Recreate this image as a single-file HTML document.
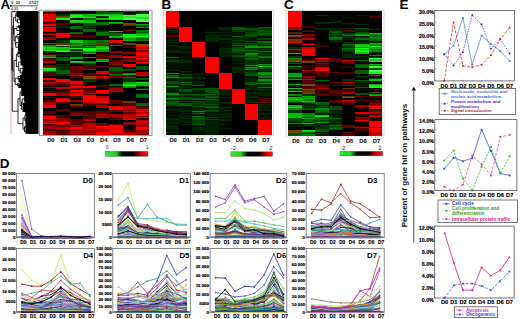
<!DOCTYPE html>
<html><head><meta charset="utf-8"><style>
html,body{margin:0;padding:0;background:#fff;overflow:hidden;}
svg{display:block;font-family:"Liberation Sans", sans-serif;}
</style></head><body>
<svg width="520" height="319" viewBox="0 0 520 319">
<rect width="520" height="319" fill="#fff"/>
<text transform="translate(0.4,8.7) scale(1.12,1)" font-size="12" font-weight="bold" fill="#000">A</text>
<text transform="translate(161.4,8.7) scale(1.12,1)" font-size="12" font-weight="bold" fill="#000">B</text>
<text transform="translate(283.9,8.7) scale(1.12,1)" font-size="12" font-weight="bold" fill="#000">C</text>
<text transform="translate(-0.3,167.6) scale(1.12,1)" font-size="12" font-weight="bold" fill="#000">D</text>
<text transform="translate(399.5,8.7) scale(1.12,1)" font-size="12" font-weight="bold" fill="#000">E</text>
<text x="12.00" y="3.70" font-size="3.8" font-weight="bold" text-anchor="middle" fill="#222" >5</text>
<text x="17.80" y="3.70" font-size="3.8" font-weight="bold" text-anchor="middle" fill="#222" >23</text>
<text x="33.80" y="3.70" font-size="3.8" font-weight="bold" text-anchor="middle" fill="#222" >27/27</text>
<line x1="10.60" y1="5.80" x2="38.00" y2="5.80" stroke="#3a4a4a" stroke-width="0.9" />
<rect x="10.00" y="5.00" width="1.60" height="1.60" fill="#111" />
<text x="14.40" y="10.30" font-size="3.6" font-weight="bold" text-anchor="middle" fill="#333" >0.33</text>
<text x="36.20" y="10.30" font-size="3.6" font-weight="bold" text-anchor="middle" fill="#333" >0</text>
<line x1="11.00" y1="11.00" x2="11.00" y2="135.00" stroke="#e8a0b8" stroke-width="0.9" />
<path d="M16.2 12.7L16.2 15.8M16.2 12.7L16.7 12.7M16.2 15.8L16.8 15.8M17.4 18.9L17.4 22.8M17.4 18.9L19.2 18.9M17.4 22.8L20.0 22.8M15.7 14.2L15.7 20.9M15.7 14.2L16.2 14.2M15.7 20.9L17.4 20.9M16.8 26.6L16.8 30.5M16.8 26.6L17.9 26.6M16.8 30.5L19.2 30.5M17.1 34.5L17.1 38.3M17.1 34.5L19.1 34.5M17.1 38.3L18.4 38.3M15.8 42.6L15.8 47.3M15.8 42.6L18.2 42.6M15.8 47.3L17.9 47.3M15.3 36.4L15.3 45.0M15.3 36.4L17.1 36.4M15.3 45.0L15.8 45.0M14.1 28.5L14.1 40.7M14.1 28.5L16.8 28.5M14.1 40.7L15.3 40.7M13.5 17.6L13.5 34.6M13.5 17.6L15.7 17.6M13.5 34.6L14.1 34.6M17.8 52.1L17.8 56.4M17.8 52.1L18.2 52.1M17.8 56.4L19.7 56.4M20.3 68.4L20.3 73.0M20.3 68.4L22.5 68.4M20.3 73.0L21.6 73.0M18.7 62.0L18.7 70.7M18.7 62.0L20.5 62.0M18.7 70.7L20.3 70.7M16.4 54.3L16.4 66.4M16.4 54.3L17.8 54.3M16.4 66.4L18.7 66.4M18.2 76.4L18.2 80.1M18.2 76.4L20.0 76.4M18.2 80.1L18.5 80.1M17.7 83.1L17.7 86.0M17.7 83.1L19.9 83.1M17.7 86.0L18.3 86.0M15.2 78.2L15.2 84.5M15.2 78.2L18.2 78.2M15.2 84.5L17.7 84.5M14.0 60.3L14.0 81.4M14.0 60.3L16.4 60.3M14.0 81.4L15.2 81.4M24.3 97.3L24.3 100.7M24.3 97.3L24.9 97.3M24.3 100.7L25.3 100.7M22.2 99.0L22.2 104.5M22.2 99.0L24.3 99.0M22.2 104.5L22.8 104.5M21.4 101.8L21.4 109.2M21.4 101.8L22.2 101.8M21.4 109.2L22.5 109.2M20.0 92.0L20.0 105.5M20.0 92.0L21.2 92.0M20.0 105.5L21.4 105.5M24.9 115.1L24.9 120.9M24.9 115.1L26.2 115.1M24.9 120.9L25.2 120.9M25.3 125.2L25.3 128.4M25.3 125.2L25.6 125.2M25.3 128.4L25.6 128.4M24.5 126.8L24.5 131.8M24.5 126.8L25.3 126.8M24.5 131.8L25.3 131.8M23.0 118.0L23.0 129.3M23.0 118.0L24.9 118.0M23.0 129.3L24.5 129.3M12.8 26.1L12.8 70.9M12.8 26.1L13.5 26.1M12.8 70.9L14.0 70.9M11.8 11.6L38.4 11.6M11.8 11.6L11.8 70.0M18.0 98.7L18.0 123.7M18.0 98.7L20.0 98.7M18.0 123.7L23.0 123.7M12.2 48.5L12.2 111.2M12.2 48.5L13.2 48.5M12.2 111.2L18.0 111.2" stroke="#000" stroke-width="0.85" fill="none"/>
<path d="M16.7 11.2H38.4V14.2H16.7zM16.8 14.2H38.4V17.4H16.8zM19.2 17.4H38.4V20.5H19.2zM20.0 20.5H38.4V25.2H20.0zM17.9 25.2H38.4V27.9H17.9zM19.2 27.9H38.4V33.1H19.2zM19.1 33.1H38.4V36.0H19.1zM18.4 36.0H38.4V40.7H18.4zM18.2 40.7H38.4V44.6H18.2zM17.9 44.6H38.4V50.0H17.9zM18.2 50.0H38.4V54.3H18.2zM19.7 54.3H38.4V58.6H19.7zM20.5 58.6H38.4V65.4H20.5zM22.5 65.4H38.4V71.3H22.5zM21.6 71.3H38.4V74.7H21.6zM20.0 74.7H38.4V78.1H20.0zM18.5 78.1H38.4V82.1H18.5zM19.9 82.1H38.4V84.0H19.9zM18.3 84.0H38.4V88.0H18.3zM21.2 88.0H38.4V96.0H21.2zM24.9 96.0H38.4V98.6H24.9zM25.3 98.6H38.4V102.7H25.3zM22.8 102.7H38.4V106.3H22.8zM22.5 106.3H38.4V112.0H22.5zM26.2 112.0H38.4V118.3H26.2zM25.2 118.3H38.4V123.5H25.2zM25.6 123.5H38.4V127.0H25.6zM25.6 127.0H38.4V129.9H25.6zM25.3 129.9H38.4V133.8H25.3z" fill="#000"/>
<path d="M27,11.2 H38.4 V133.8 H28 L26,120 L24.5,105 L24,90 L27,88 Z" fill="#000"/>
<rect x="39.3" y="10.2" width="112.7" height="125.39999999999999" fill="#fff" stroke="#8a8a8a" stroke-width="0.9"/>
<rect x="163.4" y="10.2" width="110.4" height="125.60000000000001" fill="#fff" stroke="#d4d4d4" stroke-width="0.9"/>
<rect x="286.0" y="10.4" width="98.0" height="125.6" fill="#fff" stroke="#d4d4d4" stroke-width="0.9"/>
<g shape-rendering="crispEdges">
<path d="M43.3 10.6h13.2v1.5h-13.2z" fill="#815200"/>
<path d="M43.3 12.0h13.2v1.1h-13.2z" fill="#4a0000"/>
<path d="M43.3 13.0h13.2v1.1h-13.2z" fill="#520000"/>
<path d="M43.3 14.0h13.2v1.3h-13.2z" fill="#ff0000"/>
<path d="M43.3 15.2h13.2v1.3h-13.2z" fill="#c20000"/>
<path d="M43.3 16.4h13.2v1.3h-13.2z" fill="#f60000"/>
<path d="M43.3 17.6h13.2v1.3h-13.2z" fill="#bf0000"/>
<path d="M43.3 18.8h13.2v1.3h-13.2z" fill="#ff0000"/>
<path d="M43.3 20.0h13.2v1.3h-13.2z" fill="#ff0000"/>
<path d="M43.3 21.2h13.2v1.3h-13.2z" fill="#c30000"/>
<path d="M43.3 22.4h13.2v1.3h-13.2z" fill="#560000"/>
<path d="M43.3 23.6h13.2v1.3h-13.2z" fill="#ef0000"/>
<path d="M43.3 24.8h13.2v1.3h-13.2z" fill="#f50000"/>
<path d="M43.3 26.0h13.2v1.3h-13.2z" fill="#3a0000"/>
<path d="M43.3 27.2h13.2v1.3h-13.2z" fill="#fe0000"/>
<path d="M43.3 28.4h13.2v1.3h-13.2z" fill="#dc0000"/>
<path d="M43.3 29.6h13.2v1.3h-13.2z" fill="#f90000"/>
<path d="M43.3 30.8h13.2v1.3h-13.2z" fill="#c10000"/>
<path d="M43.3 32.0h13.2v1.1h-13.2z" fill="#000000"/>
<path d="M43.3 33.0h13.2v1.1h-13.2z" fill="#860000"/>
<path d="M43.3 34.0h13.2v1.1h-13.2z" fill="#bc0000"/>
<path d="M43.3 35.0h13.2v1.1h-13.2z" fill="#000000"/>
<path d="M43.3 36.0h13.2v1.1h-13.2z" fill="#000000"/>
<path d="M43.3 37.0h13.2v1.6h-13.2z" fill="#990000"/>
<path d="M43.3 38.5h13.2v1.6h-13.2z" fill="#ad0000"/>
<path d="M43.3 40.0h13.2v1.6h-13.2z" fill="#000000"/>
<path d="M43.3 41.5h13.2v1.6h-13.2z" fill="#000000"/>
<path d="M43.3 43.0h13.2v1.1h-13.2z" fill="#724900"/>
<path d="M43.3 44.0h13.2v1.1h-13.2z" fill="#191000"/>
<path d="M43.3 45.0h13.2v1.1h-13.2z" fill="#009900"/>
<path d="M43.3 46.0h13.2v1.1h-13.2z" fill="#00a300"/>
<path d="M43.3 47.0h13.2v1.4h-13.2z" fill="#15e415"/>
<path d="M43.3 48.3h13.2v1.4h-13.2z" fill="#13cb13"/>
<path d="M43.3 49.7h13.2v1.4h-13.2z" fill="#16ef16"/>
<path d="M43.3 51.0h13.2v1.1h-13.2z" fill="#002a00"/>
<path d="M43.3 52.0h13.2v1.1h-13.2z" fill="#002200"/>
<path d="M43.3 53.0h13.2v1.1h-13.2z" fill="#210000"/>
<path d="M43.3 54.0h13.2v1.1h-13.2z" fill="#580000"/>
<path d="M43.3 55.0h13.2v1.6h-13.2z" fill="#008500"/>
<path d="M43.3 56.5h13.2v1.6h-13.2z" fill="#00c600"/>
<path d="M43.3 58.0h13.2v1.6h-13.2z" fill="#560000"/>
<path d="M43.3 59.5h13.2v1.6h-13.2z" fill="#490000"/>
<path d="M43.3 61.0h13.2v1.6h-13.2z" fill="#c40000"/>
<path d="M43.3 62.5h13.2v1.4h-13.2z" fill="#000000"/>
<path d="M43.3 63.8h13.2v1.4h-13.2z" fill="#000000"/>
<path d="M43.3 65.0h13.2v1.6h-13.2z" fill="#780000"/>
<path d="M43.3 66.5h13.2v1.6h-13.2z" fill="#b90000"/>
<path d="M43.3 68.0h13.2v1.6h-13.2z" fill="#16eb16"/>
<path d="M43.3 69.5h13.2v1.6h-13.2z" fill="#14d314"/>
<path d="M43.3 71.0h13.2v1.1h-13.2z" fill="#694300"/>
<path d="M43.3 72.0h13.2v1.1h-13.2z" fill="#311f00"/>
<path d="M43.3 73.0h13.2v1.6h-13.2z" fill="#480000"/>
<path d="M43.3 74.5h13.2v1.6h-13.2z" fill="#540000"/>
<path d="M43.3 76.0h13.2v1.1h-13.2z" fill="#000000"/>
<path d="M43.3 77.0h13.2v1.1h-13.2z" fill="#000000"/>
<path d="M43.3 78.0h13.2v1.6h-13.2z" fill="#f90000"/>
<path d="M43.3 79.5h13.2v1.6h-13.2z" fill="#3a0000"/>
<path d="M43.3 81.0h13.2v1.1h-13.2z" fill="#580000"/>
<path d="M43.3 82.0h13.2v1.1h-13.2z" fill="#b70000"/>
<path d="M43.3 83.0h13.2v1.1h-13.2z" fill="#b90000"/>
<path d="M43.3 84.0h13.2v1.1h-13.2z" fill="#630000"/>
<path d="M43.3 85.0h13.2v1.1h-13.2z" fill="#430000"/>
<path d="M43.3 86.0h13.2v1.1h-13.2z" fill="#180000"/>
<path d="M43.3 87.0h13.2v1.1h-13.2z" fill="#8b0000"/>
<path d="M43.3 88.0h13.2v1.6h-13.2z" fill="#000000"/>
<path d="M43.3 89.5h13.2v1.6h-13.2z" fill="#000000"/>
<path d="M43.3 91.0h13.2v1.1h-13.2z" fill="#560000"/>
<path d="M43.3 92.0h13.2v1.1h-13.2z" fill="#4b0000"/>
<path d="M43.3 93.0h13.2v1.6h-13.2z" fill="#f90000"/>
<path d="M43.3 94.5h13.2v1.6h-13.2z" fill="#fb0000"/>
<path d="M43.3 96.0h13.2v1.1h-13.2z" fill="#180000"/>
<path d="M43.3 97.0h13.2v1.1h-13.2z" fill="#470000"/>
<path d="M43.3 98.0h13.2v1.1h-13.2z" fill="#000000"/>
<path d="M43.3 99.0h13.2v1.1h-13.2z" fill="#000000"/>
<path d="M43.3 100.0h13.2v1.1h-13.2z" fill="#620000"/>
<path d="M43.3 101.0h13.2v1.1h-13.2z" fill="#0d0000"/>
<path d="M43.3 102.0h13.2v1.6h-13.2z" fill="#b10000"/>
<path d="M43.3 103.5h13.2v1.6h-13.2z" fill="#b00000"/>
<path d="M43.3 105.0h13.2v1.6h-13.2z" fill="#ff0000"/>
<path d="M43.3 106.5h13.2v1.6h-13.2z" fill="#ff0000"/>
<path d="M43.3 108.0h13.2v1.6h-13.2z" fill="#000000"/>
<path d="M43.3 109.5h13.2v1.6h-13.2z" fill="#000000"/>
<path d="M43.3 111.0h13.2v1.6h-13.2z" fill="#580000"/>
<path d="M43.3 112.5h13.2v1.6h-13.2z" fill="#5a0000"/>
<path d="M43.3 114.0h13.2v1.1h-13.2z" fill="#150000"/>
<path d="M43.3 115.0h13.2v1.1h-13.2z" fill="#640000"/>
<path d="M43.3 116.0h13.2v1.6h-13.2z" fill="#ff0000"/>
<path d="M43.3 117.5h13.2v1.6h-13.2z" fill="#ff0000"/>
<path d="M43.3 119.0h13.2v1.1h-13.2z" fill="#990000"/>
<path d="M43.3 120.0h13.2v1.1h-13.2z" fill="#780000"/>
<path d="M43.3 121.0h13.2v1.6h-13.2z" fill="#c40000"/>
<path d="M43.3 122.5h13.2v1.6h-13.2z" fill="#ff0000"/>
<path d="M43.3 124.0h13.2v1.1h-13.2z" fill="#470000"/>
<path d="M43.3 125.0h13.2v1.1h-13.2z" fill="#690000"/>
<path d="M43.3 126.0h13.2v1.6h-13.2z" fill="#a00000"/>
<path d="M43.3 127.5h13.2v1.6h-13.2z" fill="#930000"/>
<path d="M43.3 129.0h13.2v1.1h-13.2z" fill="#5c0000"/>
<path d="M43.3 130.0h13.2v1.1h-13.2z" fill="#480000"/>
<path d="M43.3 131.0h13.2v1.4h-13.2z" fill="#ad0000"/>
<path d="M43.3 132.3h13.2v1.4h-13.2z" fill="#9f0000"/>
<path d="M43.3 133.7h13.2v1.4h-13.2z" fill="#bd0000"/>
<path d="M56.5 10.6h13.2v1.5h-13.2z" fill="#533500"/>
<path d="M56.5 12.0h13.2v1.1h-13.2z" fill="#000000"/>
<path d="M56.5 13.0h13.2v1.1h-13.2z" fill="#000000"/>
<path d="M56.5 14.0h13.2v1.1h-13.2z" fill="#002600"/>
<path d="M56.5 15.0h13.2v1.1h-13.2z" fill="#003400"/>
<path d="M56.5 16.0h13.2v1.1h-13.2z" fill="#654000"/>
<path d="M56.5 17.0h13.2v1.1h-13.2z" fill="#784c00"/>
<path d="M56.5 18.0h13.2v1.1h-13.2z" fill="#18ff18"/>
<path d="M56.5 19.0h13.2v1.1h-13.2z" fill="#16e916"/>
<path d="M56.5 20.0h13.2v1.6h-13.2z" fill="#000000"/>
<path d="M56.5 21.5h13.2v1.6h-13.2z" fill="#000000"/>
<path d="M56.5 23.0h13.2v1.1h-13.2z" fill="#590000"/>
<path d="M56.5 24.0h13.2v1.1h-13.2z" fill="#4f0000"/>
<path d="M56.5 25.0h13.2v1.6h-13.2z" fill="#002800"/>
<path d="M56.5 26.5h13.2v1.6h-13.2z" fill="#002f00"/>
<path d="M56.5 28.0h13.2v1.6h-13.2z" fill="#000000"/>
<path d="M56.5 29.5h13.2v1.6h-13.2z" fill="#000000"/>
<path d="M56.5 31.0h13.2v1.1h-13.2z" fill="#410000"/>
<path d="M56.5 32.0h13.2v1.1h-13.2z" fill="#260000"/>
<path d="M56.5 33.0h13.2v1.4h-13.2z" fill="#ff0000"/>
<path d="M56.5 34.2h13.2v1.4h-13.2z" fill="#ff0000"/>
<path d="M56.5 35.5h13.2v1.4h-13.2z" fill="#ef0000"/>
<path d="M56.5 36.8h13.2v1.4h-13.2z" fill="#db0000"/>
<path d="M56.5 38.0h13.2v1.1h-13.2z" fill="#000000"/>
<path d="M56.5 39.0h13.2v1.1h-13.2z" fill="#000000"/>
<path d="M56.5 40.0h13.2v1.6h-13.2z" fill="#002c00"/>
<path d="M56.5 41.5h13.2v1.6h-13.2z" fill="#003300"/>
<path d="M56.5 43.0h13.2v1.1h-13.2z" fill="#533400"/>
<path d="M56.5 44.0h13.2v1.1h-13.2z" fill="#573700"/>
<path d="M56.5 45.0h13.2v1.3h-13.2z" fill="#17fa17"/>
<path d="M56.5 46.2h13.2v1.3h-13.2z" fill="#043104"/>
<path d="M56.5 47.3h13.2v1.3h-13.2z" fill="#13c913"/>
<path d="M56.5 48.5h13.2v1.3h-13.2z" fill="#10af10"/>
<path d="M56.5 49.7h13.2v1.3h-13.2z" fill="#16eb16"/>
<path d="M56.5 50.8h13.2v1.3h-13.2z" fill="#18fd18"/>
<path d="M56.5 52.0h13.2v1.1h-13.2z" fill="#000000"/>
<path d="M56.5 53.0h13.2v1.1h-13.2z" fill="#000000"/>
<path d="M56.5 54.0h13.2v1.1h-13.2z" fill="#002c00"/>
<path d="M56.5 55.0h13.2v1.1h-13.2z" fill="#003000"/>
<path d="M56.5 56.0h13.2v1.4h-13.2z" fill="#000f00"/>
<path d="M56.5 57.2h13.2v1.4h-13.2z" fill="#005900"/>
<path d="M56.5 58.5h13.2v1.4h-13.2z" fill="#006100"/>
<path d="M56.5 59.8h13.2v1.4h-13.2z" fill="#004e00"/>
<path d="M56.5 61.0h13.2v1.6h-13.2z" fill="#000000"/>
<path d="M56.5 62.5h13.2v1.6h-13.2z" fill="#000000"/>
<path d="M56.5 64.0h13.2v1.3h-13.2z" fill="#002f00"/>
<path d="M56.5 65.2h13.2v1.3h-13.2z" fill="#002d00"/>
<path d="M56.5 66.4h13.2v1.3h-13.2z" fill="#003000"/>
<path d="M56.5 67.6h13.2v1.3h-13.2z" fill="#002d00"/>
<path d="M56.5 68.8h13.2v1.3h-13.2z" fill="#002700"/>
<path d="M56.5 70.0h13.2v1.4h-13.2z" fill="#005900"/>
<path d="M56.5 71.3h13.2v1.4h-13.2z" fill="#006100"/>
<path d="M56.5 72.7h13.2v1.4h-13.2z" fill="#006b00"/>
<path d="M56.5 74.0h13.2v1.1h-13.2z" fill="#002a00"/>
<path d="M56.5 75.0h13.2v1.1h-13.2z" fill="#002900"/>
<path d="M56.5 76.0h13.2v1.6h-13.2z" fill="#000000"/>
<path d="M56.5 77.5h13.2v1.6h-13.2z" fill="#000000"/>
<path d="M56.5 79.0h13.2v1.6h-13.2z" fill="#ff0000"/>
<path d="M56.5 80.5h13.2v1.6h-13.2z" fill="#ff0000"/>
<path d="M56.5 82.0h13.2v1.1h-13.2z" fill="#790000"/>
<path d="M56.5 83.0h13.2v1.1h-13.2z" fill="#7d0000"/>
<path d="M56.5 84.0h13.2v1.6h-13.2z" fill="#420000"/>
<path d="M56.5 85.5h13.2v1.6h-13.2z" fill="#1f0000"/>
<path d="M56.5 87.0h13.2v1.1h-13.2z" fill="#b70000"/>
<path d="M56.5 88.0h13.2v1.1h-13.2z" fill="#bd0000"/>
<path d="M56.5 89.0h13.2v1.1h-13.2z" fill="#000000"/>
<path d="M56.5 90.0h13.2v1.1h-13.2z" fill="#000000"/>
<path d="M56.5 91.0h13.2v1.1h-13.2z" fill="#470000"/>
<path d="M56.5 92.0h13.2v1.1h-13.2z" fill="#690000"/>
<path d="M56.5 93.0h13.2v1.6h-13.2z" fill="#910000"/>
<path d="M56.5 94.5h13.2v1.6h-13.2z" fill="#a10000"/>
<path d="M56.5 96.0h13.2v1.1h-13.2z" fill="#000000"/>
<path d="M56.5 97.0h13.2v1.1h-13.2z" fill="#000000"/>
<path d="M56.5 98.0h13.2v1.4h-13.2z" fill="#c30000"/>
<path d="M56.5 99.3h13.2v1.4h-13.2z" fill="#ff0000"/>
<path d="M56.5 100.7h13.2v1.4h-13.2z" fill="#ff0000"/>
<path d="M56.5 102.0h13.2v1.1h-13.2z" fill="#5f0000"/>
<path d="M56.5 103.0h13.2v1.1h-13.2z" fill="#470000"/>
<path d="M56.5 104.0h13.2v1.4h-13.2z" fill="#000000"/>
<path d="M56.5 105.2h13.2v1.4h-13.2z" fill="#000000"/>
<path d="M56.5 106.5h13.2v1.4h-13.2z" fill="#000000"/>
<path d="M56.5 107.8h13.2v1.4h-13.2z" fill="#000000"/>
<path d="M56.5 109.0h13.2v1.6h-13.2z" fill="#560000"/>
<path d="M56.5 110.5h13.2v1.6h-13.2z" fill="#530000"/>
<path d="M56.5 112.0h13.2v1.6h-13.2z" fill="#000000"/>
<path d="M56.5 113.5h13.2v1.6h-13.2z" fill="#000000"/>
<path d="M56.5 115.0h13.2v1.6h-13.2z" fill="#510000"/>
<path d="M56.5 116.5h13.2v1.6h-13.2z" fill="#420000"/>
<path d="M56.5 118.0h13.2v1.4h-13.2z" fill="#830000"/>
<path d="M56.5 119.3h13.2v1.4h-13.2z" fill="#8c0000"/>
<path d="M56.5 120.7h13.2v1.4h-13.2z" fill="#970000"/>
<path d="M56.5 122.0h13.2v1.6h-13.2z" fill="#ff0000"/>
<path d="M56.5 123.5h13.2v1.6h-13.2z" fill="#c00000"/>
<path d="M56.5 125.0h13.2v1.1h-13.2z" fill="#550000"/>
<path d="M56.5 126.0h13.2v1.1h-13.2z" fill="#520000"/>
<path d="M56.5 127.0h13.2v1.6h-13.2z" fill="#b20000"/>
<path d="M56.5 128.5h13.2v1.6h-13.2z" fill="#9f0000"/>
<path d="M56.5 130.0h13.2v1.4h-13.2z" fill="#490000"/>
<path d="M56.5 131.2h13.2v1.4h-13.2z" fill="#570000"/>
<path d="M56.5 132.5h13.2v1.4h-13.2z" fill="#660000"/>
<path d="M56.5 133.8h13.2v1.4h-13.2z" fill="#5b0000"/>
<path d="M69.7 10.6h13.2v1.5h-13.2z" fill="#2c0000"/>
<path d="M69.7 12.0h13.2v1.1h-13.2z" fill="#000000"/>
<path d="M69.7 13.0h13.2v1.1h-13.2z" fill="#000000"/>
<path d="M69.7 14.0h13.2v1.4h-13.2z" fill="#12be12"/>
<path d="M69.7 15.3h13.2v1.4h-13.2z" fill="#17f617"/>
<path d="M69.7 16.7h13.2v1.4h-13.2z" fill="#16e716"/>
<path d="M69.7 18.0h13.2v1.1h-13.2z" fill="#000000"/>
<path d="M69.7 19.0h13.2v1.1h-13.2z" fill="#000000"/>
<path d="M69.7 20.0h13.2v1.6h-13.2z" fill="#14d914"/>
<path d="M69.7 21.5h13.2v1.6h-13.2z" fill="#11b711"/>
<path d="M69.7 23.0h13.2v1.6h-13.2z" fill="#000000"/>
<path d="M69.7 24.5h13.2v1.6h-13.2z" fill="#000000"/>
<path d="M69.7 26.0h13.2v1.6h-13.2z" fill="#006e00"/>
<path d="M69.7 27.5h13.2v1.6h-13.2z" fill="#006400"/>
<path d="M69.7 29.0h13.2v1.6h-13.2z" fill="#000000"/>
<path d="M69.7 30.5h13.2v1.6h-13.2z" fill="#000000"/>
<path d="M69.7 32.0h13.2v1.1h-13.2z" fill="#006a00"/>
<path d="M69.7 33.0h13.2v1.1h-13.2z" fill="#007800"/>
<path d="M69.7 34.0h13.2v1.6h-13.2z" fill="#450000"/>
<path d="M69.7 35.5h13.2v1.6h-13.2z" fill="#630000"/>
<path d="M69.7 37.0h13.2v1.6h-13.2z" fill="#000000"/>
<path d="M69.7 38.5h13.2v1.6h-13.2z" fill="#000000"/>
<path d="M69.7 40.0h13.2v1.6h-13.2z" fill="#12c512"/>
<path d="M69.7 41.5h13.2v1.6h-13.2z" fill="#13ca13"/>
<path d="M69.7 43.0h13.2v1.1h-13.2z" fill="#005b00"/>
<path d="M69.7 44.0h13.2v1.1h-13.2z" fill="#007800"/>
<path d="M69.7 45.0h13.2v1.1h-13.2z" fill="#10aa10"/>
<path d="M69.7 46.0h13.2v1.1h-13.2z" fill="#005f00"/>
<path d="M69.7 47.0h13.2v1.1h-13.2z" fill="#005900"/>
<path d="M69.7 48.0h13.2v1.4h-13.2z" fill="#16ec16"/>
<path d="M69.7 49.3h13.2v1.4h-13.2z" fill="#042d04"/>
<path d="M69.7 50.7h13.2v1.4h-13.2z" fill="#0f9f0f"/>
<path d="M69.7 52.0h13.2v1.4h-13.2z" fill="#002f00"/>
<path d="M69.7 53.2h13.2v1.4h-13.2z" fill="#002600"/>
<path d="M69.7 54.5h13.2v1.4h-13.2z" fill="#002d00"/>
<path d="M69.7 55.8h13.2v1.4h-13.2z" fill="#002e00"/>
<path d="M69.7 57.0h13.2v1.1h-13.2z" fill="#00ae00"/>
<path d="M69.7 58.0h13.2v1.1h-13.2z" fill="#00b800"/>
<path d="M69.7 59.0h13.2v1.1h-13.2z" fill="#000000"/>
<path d="M69.7 60.0h13.2v1.1h-13.2z" fill="#000000"/>
<path d="M69.7 61.0h13.2v1.1h-13.2z" fill="#14d914"/>
<path d="M69.7 62.0h13.2v1.1h-13.2z" fill="#11bb11"/>
<path d="M69.7 63.0h13.2v1.6h-13.2z" fill="#000000"/>
<path d="M69.7 64.5h13.2v1.6h-13.2z" fill="#000000"/>
<path d="M69.7 66.0h13.2v1.4h-13.2z" fill="#680000"/>
<path d="M69.7 67.3h13.2v1.4h-13.2z" fill="#690000"/>
<path d="M69.7 68.7h13.2v1.4h-13.2z" fill="#550000"/>
<path d="M69.7 70.0h13.2v1.6h-13.2z" fill="#4c0000"/>
<path d="M69.7 71.5h13.2v1.6h-13.2z" fill="#4e0000"/>
<path d="M69.7 73.0h13.2v1.6h-13.2z" fill="#9d0000"/>
<path d="M69.7 74.5h13.2v1.6h-13.2z" fill="#cc0000"/>
<path d="M69.7 76.0h13.2v1.1h-13.2z" fill="#500000"/>
<path d="M69.7 77.0h13.2v1.1h-13.2z" fill="#5c0000"/>
<path d="M69.7 78.0h13.2v1.1h-13.2z" fill="#000000"/>
<path d="M69.7 79.0h13.2v1.1h-13.2z" fill="#000000"/>
<path d="M69.7 80.0h13.2v1.4h-13.2z" fill="#3f0000"/>
<path d="M69.7 81.3h13.2v1.4h-13.2z" fill="#ff0000"/>
<path d="M69.7 82.7h13.2v1.4h-13.2z" fill="#ff0000"/>
<path d="M69.7 84.0h13.2v1.1h-13.2z" fill="#9c0000"/>
<path d="M69.7 85.0h13.2v1.1h-13.2z" fill="#980000"/>
<path d="M69.7 86.0h13.2v1.1h-13.2z" fill="#ff0000"/>
<path d="M69.7 87.0h13.2v1.1h-13.2z" fill="#d40000"/>
<path d="M69.7 88.0h13.2v1.1h-13.2z" fill="#560000"/>
<path d="M69.7 89.0h13.2v1.1h-13.2z" fill="#3f0000"/>
<path d="M69.7 90.0h13.2v1.1h-13.2z" fill="#f50000"/>
<path d="M69.7 91.0h13.2v1.1h-13.2z" fill="#ff0000"/>
<path d="M69.7 92.0h13.2v1.1h-13.2z" fill="#b20000"/>
<path d="M69.7 93.0h13.2v1.1h-13.2z" fill="#b30000"/>
<path d="M69.7 94.0h13.2v1.1h-13.2z" fill="#ff0000"/>
<path d="M69.7 95.0h13.2v1.1h-13.2z" fill="#ff0000"/>
<path d="M69.7 96.0h13.2v1.1h-13.2z" fill="#510000"/>
<path d="M69.7 97.0h13.2v1.1h-13.2z" fill="#5a0000"/>
<path d="M69.7 98.0h13.2v1.1h-13.2z" fill="#000000"/>
<path d="M69.7 99.0h13.2v1.1h-13.2z" fill="#000000"/>
<path d="M69.7 100.0h13.2v1.1h-13.2z" fill="#a80000"/>
<path d="M69.7 101.0h13.2v1.1h-13.2z" fill="#8d0000"/>
<path d="M69.7 102.0h13.2v1.1h-13.2z" fill="#000000"/>
<path d="M69.7 103.0h13.2v1.1h-13.2z" fill="#000000"/>
<path d="M69.7 104.0h13.2v1.1h-13.2z" fill="#6d4500"/>
<path d="M69.7 105.0h13.2v1.1h-13.2z" fill="#543600"/>
<path d="M69.7 106.0h13.2v1.1h-13.2z" fill="#5f0000"/>
<path d="M69.7 107.0h13.2v1.1h-13.2z" fill="#4e0000"/>
<path d="M69.7 108.0h13.2v1.6h-13.2z" fill="#000000"/>
<path d="M69.7 109.5h13.2v1.6h-13.2z" fill="#000000"/>
<path d="M69.7 111.0h13.2v1.1h-13.2z" fill="#500000"/>
<path d="M69.7 112.0h13.2v1.1h-13.2z" fill="#590000"/>
<path d="M69.7 113.0h13.2v1.6h-13.2z" fill="#880000"/>
<path d="M69.7 114.5h13.2v1.6h-13.2z" fill="#8d0000"/>
<path d="M69.7 116.0h13.2v1.6h-13.2z" fill="#000000"/>
<path d="M69.7 117.5h13.2v1.6h-13.2z" fill="#000000"/>
<path d="M69.7 119.0h13.2v1.3h-13.2z" fill="#5f0000"/>
<path d="M69.7 120.2h13.2v1.3h-13.2z" fill="#5b0000"/>
<path d="M69.7 121.4h13.2v1.3h-13.2z" fill="#620000"/>
<path d="M69.7 122.6h13.2v1.3h-13.2z" fill="#590000"/>
<path d="M69.7 123.8h13.2v1.3h-13.2z" fill="#570000"/>
<path d="M69.7 125.0h13.2v1.1h-13.2z" fill="#b70000"/>
<path d="M69.7 126.0h13.2v1.1h-13.2z" fill="#920000"/>
<path d="M69.7 127.0h13.2v1.4h-13.2z" fill="#ff0000"/>
<path d="M69.7 128.2h13.2v1.4h-13.2z" fill="#ff0000"/>
<path d="M69.7 129.5h13.2v1.4h-13.2z" fill="#760000"/>
<path d="M69.7 130.8h13.2v1.4h-13.2z" fill="#e70000"/>
<path d="M69.7 132.0h13.2v1.6h-13.2z" fill="#b40000"/>
<path d="M69.7 133.5h13.2v1.6h-13.2z" fill="#870000"/>
<path d="M82.9 10.6h13.2v1.2h-13.2z" fill="#000000"/>
<path d="M82.9 11.7h13.2v1.2h-13.2z" fill="#000000"/>
<path d="M82.9 12.9h13.2v1.2h-13.2z" fill="#000000"/>
<path d="M82.9 14.0h13.2v1.4h-13.2z" fill="#11b911"/>
<path d="M82.9 15.3h13.2v1.4h-13.2z" fill="#10ac10"/>
<path d="M82.9 16.7h13.2v1.4h-13.2z" fill="#16e816"/>
<path d="M82.9 18.0h13.2v1.1h-13.2z" fill="#007000"/>
<path d="M82.9 19.0h13.2v1.1h-13.2z" fill="#006e00"/>
<path d="M82.9 20.0h13.2v1.6h-13.2z" fill="#12bd12"/>
<path d="M82.9 21.5h13.2v1.6h-13.2z" fill="#12c712"/>
<path d="M82.9 23.0h13.2v1.6h-13.2z" fill="#004f00"/>
<path d="M82.9 24.5h13.2v1.6h-13.2z" fill="#004d00"/>
<path d="M82.9 26.0h13.2v1.6h-13.2z" fill="#003500"/>
<path d="M82.9 27.5h13.2v1.6h-13.2z" fill="#002200"/>
<path d="M82.9 29.0h13.2v1.6h-13.2z" fill="#007300"/>
<path d="M82.9 30.5h13.2v1.6h-13.2z" fill="#006900"/>
<path d="M82.9 32.0h13.2v1.6h-13.2z" fill="#000000"/>
<path d="M82.9 33.5h13.2v1.6h-13.2z" fill="#000000"/>
<path d="M82.9 35.0h13.2v1.6h-13.2z" fill="#500000"/>
<path d="M82.9 36.5h13.2v1.6h-13.2z" fill="#4f0000"/>
<path d="M82.9 38.0h13.2v1.1h-13.2z" fill="#000000"/>
<path d="M82.9 39.0h13.2v1.1h-13.2z" fill="#000000"/>
<path d="M82.9 40.0h13.2v1.6h-13.2z" fill="#008800"/>
<path d="M82.9 41.5h13.2v1.6h-13.2z" fill="#009200"/>
<path d="M82.9 43.0h13.2v1.6h-13.2z" fill="#007800"/>
<path d="M82.9 44.5h13.2v1.6h-13.2z" fill="#004d00"/>
<path d="M82.9 46.0h13.2v1.1h-13.2z" fill="#007500"/>
<path d="M82.9 47.0h13.2v1.1h-13.2z" fill="#005e00"/>
<path d="M82.9 48.0h13.2v1.4h-13.2z" fill="#18fd18"/>
<path d="M82.9 49.3h13.2v1.4h-13.2z" fill="#17f917"/>
<path d="M82.9 50.7h13.2v1.4h-13.2z" fill="#10ad10"/>
<path d="M82.9 52.0h13.2v1.1h-13.2z" fill="#007900"/>
<path d="M82.9 53.0h13.2v1.1h-13.2z" fill="#00ad00"/>
<path d="M82.9 54.0h13.2v1.6h-13.2z" fill="#000000"/>
<path d="M82.9 55.5h13.2v1.6h-13.2z" fill="#000000"/>
<path d="M82.9 57.0h13.2v1.1h-13.2z" fill="#845400"/>
<path d="M82.9 58.0h13.2v1.1h-13.2z" fill="#120b00"/>
<path d="M82.9 59.0h13.2v1.1h-13.2z" fill="#000000"/>
<path d="M82.9 60.0h13.2v1.1h-13.2z" fill="#000000"/>
<path d="M82.9 61.0h13.2v1.1h-13.2z" fill="#007a00"/>
<path d="M82.9 62.0h13.2v1.1h-13.2z" fill="#00b300"/>
<path d="M82.9 63.0h13.2v1.1h-13.2z" fill="#003400"/>
<path d="M82.9 64.0h13.2v1.1h-13.2z" fill="#002a00"/>
<path d="M82.9 65.0h13.2v1.1h-13.2z" fill="#680000"/>
<path d="M82.9 66.0h13.2v1.1h-13.2z" fill="#4a0000"/>
<path d="M82.9 67.0h13.2v1.6h-13.2z" fill="#4c0000"/>
<path d="M82.9 68.5h13.2v1.6h-13.2z" fill="#930000"/>
<path d="M82.9 70.0h13.2v1.6h-13.2z" fill="#000000"/>
<path d="M82.9 71.5h13.2v1.6h-13.2z" fill="#000000"/>
<path d="M82.9 73.0h13.2v1.6h-13.2z" fill="#510000"/>
<path d="M82.9 74.5h13.2v1.6h-13.2z" fill="#650000"/>
<path d="M82.9 76.0h13.2v1.6h-13.2z" fill="#764b00"/>
<path d="M82.9 77.5h13.2v1.6h-13.2z" fill="#7b4e00"/>
<path d="M82.9 79.0h13.2v1.6h-13.2z" fill="#003200"/>
<path d="M82.9 80.5h13.2v1.6h-13.2z" fill="#003700"/>
<path d="M82.9 82.0h13.2v1.1h-13.2z" fill="#000000"/>
<path d="M82.9 83.0h13.2v1.1h-13.2z" fill="#000000"/>
<path d="M82.9 84.0h13.2v1.1h-13.2z" fill="#0f0000"/>
<path d="M82.9 85.0h13.2v1.1h-13.2z" fill="#530000"/>
<path d="M82.9 86.0h13.2v1.6h-13.2z" fill="#ff0000"/>
<path d="M82.9 87.5h13.2v1.6h-13.2z" fill="#550000"/>
<path d="M82.9 89.0h13.2v1.1h-13.2z" fill="#450000"/>
<path d="M82.9 90.0h13.2v1.1h-13.2z" fill="#5d0000"/>
<path d="M82.9 91.0h13.2v1.1h-13.2z" fill="#790000"/>
<path d="M82.9 92.0h13.2v1.1h-13.2z" fill="#7f0000"/>
<path d="M82.9 93.0h13.2v1.2h-13.2z" fill="#ca0000"/>
<path d="M82.9 94.1h13.2v1.2h-13.2z" fill="#480000"/>
<path d="M82.9 95.2h13.2v1.2h-13.2z" fill="#e70000"/>
<path d="M82.9 96.4h13.2v1.2h-13.2z" fill="#ff0000"/>
<path d="M82.9 97.5h13.2v1.2h-13.2z" fill="#ff0000"/>
<path d="M82.9 98.6h13.2v1.2h-13.2z" fill="#f50000"/>
<path d="M82.9 99.8h13.2v1.2h-13.2z" fill="#ff0000"/>
<path d="M82.9 100.9h13.2v1.2h-13.2z" fill="#ea0000"/>
<path d="M82.9 102.0h13.2v1.1h-13.2z" fill="#c40000"/>
<path d="M82.9 103.0h13.2v1.1h-13.2z" fill="#800000"/>
<path d="M82.9 104.0h13.2v1.1h-13.2z" fill="#520000"/>
<path d="M82.9 105.0h13.2v1.1h-13.2z" fill="#5e0000"/>
<path d="M82.9 106.0h13.2v1.4h-13.2z" fill="#000000"/>
<path d="M82.9 107.2h13.2v1.4h-13.2z" fill="#000000"/>
<path d="M82.9 108.5h13.2v1.4h-13.2z" fill="#000000"/>
<path d="M82.9 109.8h13.2v1.4h-13.2z" fill="#000000"/>
<path d="M82.9 111.0h13.2v1.1h-13.2z" fill="#430000"/>
<path d="M82.9 112.0h13.2v1.1h-13.2z" fill="#580000"/>
<path d="M82.9 113.0h13.2v1.6h-13.2z" fill="#450000"/>
<path d="M82.9 114.5h13.2v1.6h-13.2z" fill="#910000"/>
<path d="M82.9 116.0h13.2v1.6h-13.2z" fill="#4e0000"/>
<path d="M82.9 117.5h13.2v1.6h-13.2z" fill="#5f0000"/>
<path d="M82.9 119.0h13.2v1.1h-13.2z" fill="#a20000"/>
<path d="M82.9 120.0h13.2v1.1h-13.2z" fill="#c10000"/>
<path d="M82.9 121.0h13.2v1.1h-13.2z" fill="#4d0000"/>
<path d="M82.9 122.0h13.2v1.1h-13.2z" fill="#290000"/>
<path d="M82.9 123.0h13.2v1.3h-13.2z" fill="#c10000"/>
<path d="M82.9 124.2h13.2v1.3h-13.2z" fill="#c50000"/>
<path d="M82.9 125.4h13.2v1.3h-13.2z" fill="#c20000"/>
<path d="M82.9 126.6h13.2v1.3h-13.2z" fill="#b80000"/>
<path d="M82.9 127.8h13.2v1.3h-13.2z" fill="#a10000"/>
<path d="M82.9 129.0h13.2v1.3h-13.2z" fill="#c70000"/>
<path d="M82.9 130.2h13.2v1.3h-13.2z" fill="#b00000"/>
<path d="M82.9 131.4h13.2v1.3h-13.2z" fill="#940000"/>
<path d="M82.9 132.6h13.2v1.3h-13.2z" fill="#ab0000"/>
<path d="M82.9 133.8h13.2v1.3h-13.2z" fill="#9d0000"/>
<path d="M96.2 10.6h13.2v1.2h-13.2z" fill="#006500"/>
<path d="M96.2 11.7h13.2v1.2h-13.2z" fill="#005200"/>
<path d="M96.2 12.9h13.2v1.2h-13.2z" fill="#006700"/>
<path d="M96.2 14.0h13.2v1.3h-13.2z" fill="#10b010"/>
<path d="M96.2 15.2h13.2v1.3h-13.2z" fill="#16e916"/>
<path d="M96.2 16.4h13.2v1.3h-13.2z" fill="#032603"/>
<path d="M96.2 17.6h13.2v1.3h-13.2z" fill="#11b911"/>
<path d="M96.2 18.8h13.2v1.3h-13.2z" fill="#11b811"/>
<path d="M96.2 20.0h13.2v1.1h-13.2z" fill="#000000"/>
<path d="M96.2 21.0h13.2v1.1h-13.2z" fill="#000000"/>
<path d="M96.2 22.0h13.2v1.6h-13.2z" fill="#006b00"/>
<path d="M96.2 23.5h13.2v1.6h-13.2z" fill="#007600"/>
<path d="M96.2 25.0h13.2v1.4h-13.2z" fill="#000000"/>
<path d="M96.2 26.2h13.2v1.4h-13.2z" fill="#000000"/>
<path d="M96.2 27.5h13.2v1.4h-13.2z" fill="#000000"/>
<path d="M96.2 28.8h13.2v1.4h-13.2z" fill="#000000"/>
<path d="M96.2 30.0h13.2v1.1h-13.2z" fill="#002b00"/>
<path d="M96.2 31.0h13.2v1.1h-13.2z" fill="#002e00"/>
<path d="M96.2 32.0h13.2v1.4h-13.2z" fill="#007200"/>
<path d="M96.2 33.3h13.2v1.4h-13.2z" fill="#007300"/>
<path d="M96.2 34.7h13.2v1.4h-13.2z" fill="#005700"/>
<path d="M96.2 36.0h13.2v1.4h-13.2z" fill="#000000"/>
<path d="M96.2 37.3h13.2v1.4h-13.2z" fill="#000000"/>
<path d="M96.2 38.7h13.2v1.4h-13.2z" fill="#000000"/>
<path d="M96.2 40.0h13.2v1.6h-13.2z" fill="#007200"/>
<path d="M96.2 41.5h13.2v1.6h-13.2z" fill="#004d00"/>
<path d="M96.2 43.0h13.2v1.1h-13.2z" fill="#6b4400"/>
<path d="M96.2 44.0h13.2v1.1h-13.2z" fill="#623e00"/>
<path d="M96.2 45.0h13.2v1.1h-13.2z" fill="#004b00"/>
<path d="M96.2 46.0h13.2v1.6h-13.2z" fill="#12bd12"/>
<path d="M96.2 47.5h13.2v1.6h-13.2z" fill="#16eb16"/>
<path d="M96.2 49.0h13.2v1.6h-13.2z" fill="#00a300"/>
<path d="M96.2 50.5h13.2v1.6h-13.2z" fill="#00a400"/>
<path d="M96.2 52.0h13.2v1.1h-13.2z" fill="#000000"/>
<path d="M96.2 53.0h13.2v1.1h-13.2z" fill="#000000"/>
<path d="M96.2 54.0h13.2v1.4h-13.2z" fill="#5a0000"/>
<path d="M96.2 55.2h13.2v1.4h-13.2z" fill="#4c0000"/>
<path d="M96.2 56.5h13.2v1.4h-13.2z" fill="#580000"/>
<path d="M96.2 57.8h13.2v1.4h-13.2z" fill="#690000"/>
<path d="M96.2 59.0h13.2v1.6h-13.2z" fill="#00aa00"/>
<path d="M96.2 60.5h13.2v1.6h-13.2z" fill="#00b200"/>
<path d="M96.2 62.0h13.2v1.4h-13.2z" fill="#000000"/>
<path d="M96.2 63.3h13.2v1.4h-13.2z" fill="#000000"/>
<path d="M96.2 64.7h13.2v1.4h-13.2z" fill="#000000"/>
<path d="M96.2 66.0h13.2v1.1h-13.2z" fill="#670000"/>
<path d="M96.2 67.0h13.2v1.1h-13.2z" fill="#500000"/>
<path d="M96.2 68.0h13.2v1.6h-13.2z" fill="#000000"/>
<path d="M96.2 69.5h13.2v1.6h-13.2z" fill="#000000"/>
<path d="M96.2 71.0h13.2v1.6h-13.2z" fill="#ea0000"/>
<path d="M96.2 72.5h13.2v1.6h-13.2z" fill="#ce0000"/>
<path d="M96.2 74.0h13.2v1.1h-13.2z" fill="#510000"/>
<path d="M96.2 75.0h13.2v1.1h-13.2z" fill="#110000"/>
<path d="M96.2 76.0h13.2v1.6h-13.2z" fill="#bc0000"/>
<path d="M96.2 77.5h13.2v1.6h-13.2z" fill="#8e0000"/>
<path d="M96.2 79.0h13.2v1.3h-13.2z" fill="#000000"/>
<path d="M96.2 80.2h13.2v1.3h-13.2z" fill="#000000"/>
<path d="M96.2 81.4h13.2v1.3h-13.2z" fill="#000000"/>
<path d="M96.2 82.6h13.2v1.3h-13.2z" fill="#000000"/>
<path d="M96.2 83.8h13.2v1.3h-13.2z" fill="#000000"/>
<path d="M96.2 85.0h13.2v1.1h-13.2z" fill="#5e0000"/>
<path d="M96.2 86.0h13.2v1.1h-13.2z" fill="#450000"/>
<path d="M96.2 87.0h13.2v1.6h-13.2z" fill="#000000"/>
<path d="M96.2 88.5h13.2v1.6h-13.2z" fill="#000000"/>
<path d="M96.2 90.0h13.2v1.4h-13.2z" fill="#ff0000"/>
<path d="M96.2 91.3h13.2v1.4h-13.2z" fill="#ff0000"/>
<path d="M96.2 92.7h13.2v1.4h-13.2z" fill="#ca0000"/>
<path d="M96.2 94.0h13.2v1.1h-13.2z" fill="#000000"/>
<path d="M96.2 95.0h13.2v1.1h-13.2z" fill="#000000"/>
<path d="M96.2 96.0h13.2v1.1h-13.2z" fill="#c30000"/>
<path d="M96.2 97.0h13.2v1.1h-13.2z" fill="#800000"/>
<path d="M96.2 98.0h13.2v1.4h-13.2z" fill="#f40000"/>
<path d="M96.2 99.2h13.2v1.4h-13.2z" fill="#ce0000"/>
<path d="M96.2 100.5h13.2v1.4h-13.2z" fill="#e20000"/>
<path d="M96.2 101.8h13.2v1.4h-13.2z" fill="#ff0000"/>
<path d="M96.2 103.0h13.2v1.1h-13.2z" fill="#610000"/>
<path d="M96.2 104.0h13.2v1.1h-13.2z" fill="#430000"/>
<path d="M96.2 105.0h13.2v1.6h-13.2z" fill="#ad0000"/>
<path d="M96.2 106.5h13.2v1.6h-13.2z" fill="#a00000"/>
<path d="M96.2 108.0h13.2v1.6h-13.2z" fill="#000000"/>
<path d="M96.2 109.5h13.2v1.6h-13.2z" fill="#000000"/>
<path d="M96.2 111.0h13.2v1.6h-13.2z" fill="#660000"/>
<path d="M96.2 112.5h13.2v1.6h-13.2z" fill="#550000"/>
<path d="M96.2 114.0h13.2v1.4h-13.2z" fill="#bf0000"/>
<path d="M96.2 115.3h13.2v1.4h-13.2z" fill="#8f0000"/>
<path d="M96.2 116.7h13.2v1.4h-13.2z" fill="#bf0000"/>
<path d="M96.2 118.0h13.2v1.4h-13.2z" fill="#000000"/>
<path d="M96.2 119.2h13.2v1.4h-13.2z" fill="#000000"/>
<path d="M96.2 120.5h13.2v1.4h-13.2z" fill="#000000"/>
<path d="M96.2 121.8h13.2v1.4h-13.2z" fill="#000000"/>
<path d="M96.2 123.0h13.2v1.6h-13.2z" fill="#680000"/>
<path d="M96.2 124.5h13.2v1.6h-13.2z" fill="#560000"/>
<path d="M96.2 126.0h13.2v1.6h-13.2z" fill="#ff0000"/>
<path d="M96.2 127.5h13.2v1.6h-13.2z" fill="#dc0000"/>
<path d="M96.2 129.0h13.2v1.6h-13.2z" fill="#b00000"/>
<path d="M96.2 130.5h13.2v1.6h-13.2z" fill="#820000"/>
<path d="M96.2 132.0h13.2v1.6h-13.2z" fill="#ff0000"/>
<path d="M96.2 133.5h13.2v1.6h-13.2z" fill="#ff0000"/>
<path d="M109.4 10.6h13.2v1.5h-13.2z" fill="#000000"/>
<path d="M109.4 12.0h13.2v1.1h-13.2z" fill="#005f00"/>
<path d="M109.4 13.0h13.2v1.1h-13.2z" fill="#006d00"/>
<path d="M109.4 14.0h13.2v1.3h-13.2z" fill="#11b411"/>
<path d="M109.4 15.2h13.2v1.3h-13.2z" fill="#13ce13"/>
<path d="M109.4 16.4h13.2v1.3h-13.2z" fill="#15dd15"/>
<path d="M109.4 17.6h13.2v1.3h-13.2z" fill="#17f917"/>
<path d="M109.4 18.8h13.2v1.3h-13.2z" fill="#14d514"/>
<path d="M109.4 20.0h13.2v1.1h-13.2z" fill="#000000"/>
<path d="M109.4 21.0h13.2v1.1h-13.2z" fill="#000000"/>
<path d="M109.4 22.0h13.2v1.1h-13.2z" fill="#00bf00"/>
<path d="M109.4 23.0h13.2v1.1h-13.2z" fill="#009f00"/>
<path d="M109.4 24.0h13.2v1.3h-13.2z" fill="#000000"/>
<path d="M109.4 25.2h13.2v1.3h-13.2z" fill="#000000"/>
<path d="M109.4 26.3h13.2v1.3h-13.2z" fill="#000000"/>
<path d="M109.4 27.5h13.2v1.3h-13.2z" fill="#000000"/>
<path d="M109.4 28.7h13.2v1.3h-13.2z" fill="#000000"/>
<path d="M109.4 29.8h13.2v1.3h-13.2z" fill="#000000"/>
<path d="M109.4 31.0h13.2v1.1h-13.2z" fill="#13c913"/>
<path d="M109.4 32.0h13.2v1.1h-13.2z" fill="#032003"/>
<path d="M109.4 33.0h13.2v1.6h-13.2z" fill="#006900"/>
<path d="M109.4 34.5h13.2v1.6h-13.2z" fill="#005600"/>
<path d="M109.4 36.0h13.2v1.1h-13.2z" fill="#00c600"/>
<path d="M109.4 37.0h13.2v1.1h-13.2z" fill="#00a800"/>
<path d="M109.4 38.0h13.2v1.1h-13.2z" fill="#000000"/>
<path d="M109.4 39.0h13.2v1.1h-13.2z" fill="#000000"/>
<path d="M109.4 40.0h13.2v1.6h-13.2z" fill="#ff0000"/>
<path d="M109.4 41.5h13.2v1.6h-13.2z" fill="#c40000"/>
<path d="M109.4 43.0h13.2v1.1h-13.2z" fill="#000000"/>
<path d="M109.4 44.0h13.2v1.1h-13.2z" fill="#000000"/>
<path d="M109.4 45.0h13.2v1.1h-13.2z" fill="#007b00"/>
<path d="M109.4 46.0h13.2v1.4h-13.2z" fill="#000000"/>
<path d="M109.4 47.2h13.2v1.4h-13.2z" fill="#000000"/>
<path d="M109.4 48.5h13.2v1.4h-13.2z" fill="#000000"/>
<path d="M109.4 49.8h13.2v1.4h-13.2z" fill="#000000"/>
<path d="M109.4 51.0h13.2v1.1h-13.2z" fill="#910000"/>
<path d="M109.4 52.0h13.2v1.1h-13.2z" fill="#940000"/>
<path d="M109.4 53.0h13.2v1.1h-13.2z" fill="#000000"/>
<path d="M109.4 54.0h13.2v1.1h-13.2z" fill="#000000"/>
<path d="M109.4 55.0h13.2v1.6h-13.2z" fill="#980000"/>
<path d="M109.4 56.5h13.2v1.6h-13.2z" fill="#a90000"/>
<path d="M109.4 58.0h13.2v1.1h-13.2z" fill="#000000"/>
<path d="M109.4 59.0h13.2v1.1h-13.2z" fill="#000000"/>
<path d="M109.4 60.0h13.2v1.1h-13.2z" fill="#5a0000"/>
<path d="M109.4 61.0h13.2v1.1h-13.2z" fill="#420000"/>
<path d="M109.4 62.0h13.2v1.6h-13.2z" fill="#860000"/>
<path d="M109.4 63.5h13.2v1.6h-13.2z" fill="#9a0000"/>
<path d="M109.4 65.0h13.2v1.1h-13.2z" fill="#000000"/>
<path d="M109.4 66.0h13.2v1.1h-13.2z" fill="#000000"/>
<path d="M109.4 67.0h13.2v1.4h-13.2z" fill="#005f00"/>
<path d="M109.4 68.3h13.2v1.4h-13.2z" fill="#005d00"/>
<path d="M109.4 69.7h13.2v1.4h-13.2z" fill="#006600"/>
<path d="M109.4 71.0h13.2v1.1h-13.2z" fill="#630000"/>
<path d="M109.4 72.0h13.2v1.1h-13.2z" fill="#5c0000"/>
<path d="M109.4 73.0h13.2v1.1h-13.2z" fill="#002900"/>
<path d="M109.4 74.0h13.2v1.1h-13.2z" fill="#008400"/>
<path d="M109.4 75.0h13.2v1.6h-13.2z" fill="#830000"/>
<path d="M109.4 76.5h13.2v1.6h-13.2z" fill="#890000"/>
<path d="M109.4 78.0h13.2v1.3h-13.2z" fill="#000000"/>
<path d="M109.4 79.2h13.2v1.3h-13.2z" fill="#000000"/>
<path d="M109.4 80.4h13.2v1.3h-13.2z" fill="#000000"/>
<path d="M109.4 81.6h13.2v1.3h-13.2z" fill="#000000"/>
<path d="M109.4 82.8h13.2v1.3h-13.2z" fill="#000000"/>
<path d="M109.4 84.0h13.2v1.1h-13.2z" fill="#006c00"/>
<path d="M109.4 85.0h13.2v1.1h-13.2z" fill="#006900"/>
<path d="M109.4 86.0h13.2v1.1h-13.2z" fill="#001500"/>
<path d="M109.4 87.0h13.2v1.1h-13.2z" fill="#003000"/>
<path d="M109.4 88.0h13.2v1.4h-13.2z" fill="#a40000"/>
<path d="M109.4 89.3h13.2v1.4h-13.2z" fill="#9c0000"/>
<path d="M109.4 90.7h13.2v1.4h-13.2z" fill="#a70000"/>
<path d="M109.4 92.0h13.2v1.2h-13.2z" fill="#000000"/>
<path d="M109.4 93.1h13.2v1.2h-13.2z" fill="#000000"/>
<path d="M109.4 94.3h13.2v1.2h-13.2z" fill="#000000"/>
<path d="M109.4 95.4h13.2v1.2h-13.2z" fill="#000000"/>
<path d="M109.4 96.6h13.2v1.2h-13.2z" fill="#000000"/>
<path d="M109.4 97.7h13.2v1.2h-13.2z" fill="#000000"/>
<path d="M109.4 98.9h13.2v1.2h-13.2z" fill="#000000"/>
<path d="M109.4 100.0h13.2v1.4h-13.2z" fill="#690000"/>
<path d="M109.4 101.3h13.2v1.4h-13.2z" fill="#5b0000"/>
<path d="M109.4 102.7h13.2v1.4h-13.2z" fill="#620000"/>
<path d="M109.4 104.0h13.2v1.1h-13.2z" fill="#000000"/>
<path d="M109.4 105.0h13.2v1.1h-13.2z" fill="#000000"/>
<path d="M109.4 106.0h13.2v1.4h-13.2z" fill="#d30000"/>
<path d="M109.4 107.3h13.2v1.4h-13.2z" fill="#ff0000"/>
<path d="M109.4 108.7h13.2v1.4h-13.2z" fill="#ff0000"/>
<path d="M109.4 110.0h13.2v1.1h-13.2z" fill="#5b0000"/>
<path d="M109.4 111.0h13.2v1.1h-13.2z" fill="#600000"/>
<path d="M109.4 112.0h13.2v1.1h-13.2z" fill="#000000"/>
<path d="M109.4 113.0h13.2v1.1h-13.2z" fill="#000000"/>
<path d="M109.4 114.0h13.2v1.6h-13.2z" fill="#9b0000"/>
<path d="M109.4 115.5h13.2v1.6h-13.2z" fill="#aa0000"/>
<path d="M109.4 117.0h13.2v1.6h-13.2z" fill="#420000"/>
<path d="M109.4 118.5h13.2v1.6h-13.2z" fill="#650000"/>
<path d="M109.4 120.0h13.2v1.4h-13.2z" fill="#000000"/>
<path d="M109.4 121.3h13.2v1.4h-13.2z" fill="#000000"/>
<path d="M109.4 122.7h13.2v1.4h-13.2z" fill="#000000"/>
<path d="M109.4 124.0h13.2v1.2h-13.2z" fill="#760000"/>
<path d="M109.4 125.1h13.2v1.2h-13.2z" fill="#ff0000"/>
<path d="M109.4 126.2h13.2v1.2h-13.2z" fill="#ff0000"/>
<path d="M109.4 127.4h13.2v1.2h-13.2z" fill="#ea0000"/>
<path d="M109.4 128.5h13.2v1.2h-13.2z" fill="#ff0000"/>
<path d="M109.4 129.6h13.2v1.2h-13.2z" fill="#fa0000"/>
<path d="M109.4 130.8h13.2v1.2h-13.2z" fill="#fe0000"/>
<path d="M109.4 131.9h13.2v1.2h-13.2z" fill="#ff0000"/>
<path d="M109.4 133.0h13.2v1.1h-13.2z" fill="#9b0000"/>
<path d="M109.4 134.0h13.2v1.1h-13.2z" fill="#a50000"/>
<path d="M122.6 10.6h13.2v1.5h-13.2z" fill="#007400"/>
<path d="M122.6 12.0h13.2v1.1h-13.2z" fill="#000000"/>
<path d="M122.6 13.0h13.2v1.1h-13.2z" fill="#000000"/>
<path d="M122.6 14.0h13.2v1.3h-13.2z" fill="#0c360c"/>
<path d="M122.6 15.2h13.2v1.3h-13.2z" fill="#41ff41"/>
<path d="M122.6 16.4h13.2v1.3h-13.2z" fill="#35e435"/>
<path d="M122.6 17.6h13.2v1.3h-13.2z" fill="#4aff4a"/>
<path d="M122.6 18.8h13.2v1.3h-13.2z" fill="#49ff49"/>
<path d="M122.6 20.0h13.2v1.6h-13.2z" fill="#000000"/>
<path d="M122.6 21.5h13.2v1.6h-13.2z" fill="#000000"/>
<path d="M122.6 23.0h13.2v1.6h-13.2z" fill="#704700"/>
<path d="M122.6 24.5h13.2v1.6h-13.2z" fill="#523400"/>
<path d="M122.6 26.0h13.2v1.6h-13.2z" fill="#000000"/>
<path d="M122.6 27.5h13.2v1.6h-13.2z" fill="#000000"/>
<path d="M122.6 29.0h13.2v1.1h-13.2z" fill="#490000"/>
<path d="M122.6 30.0h13.2v1.1h-13.2z" fill="#670000"/>
<path d="M122.6 31.0h13.2v1.6h-13.2z" fill="#000000"/>
<path d="M122.6 32.5h13.2v1.6h-13.2z" fill="#000000"/>
<path d="M122.6 34.0h13.2v1.4h-13.2z" fill="#16f016"/>
<path d="M122.6 35.3h13.2v1.4h-13.2z" fill="#16e916"/>
<path d="M122.6 36.7h13.2v1.4h-13.2z" fill="#15e615"/>
<path d="M122.6 38.0h13.2v1.6h-13.2z" fill="#00a200"/>
<path d="M122.6 39.5h13.2v1.6h-13.2z" fill="#00b600"/>
<path d="M122.6 41.0h13.2v1.1h-13.2z" fill="#000000"/>
<path d="M122.6 42.0h13.2v1.1h-13.2z" fill="#000000"/>
<path d="M122.6 43.0h13.2v1.1h-13.2z" fill="#6c4500"/>
<path d="M122.6 44.0h13.2v1.1h-13.2z" fill="#5f3c00"/>
<path d="M122.6 45.0h13.2v1.6h-13.2z" fill="#290000"/>
<path d="M122.6 46.5h13.2v1.6h-13.2z" fill="#4b0000"/>
<path d="M122.6 48.0h13.2v1.4h-13.2z" fill="#000000"/>
<path d="M122.6 49.3h13.2v1.4h-13.2z" fill="#000000"/>
<path d="M122.6 50.7h13.2v1.4h-13.2z" fill="#000000"/>
<path d="M122.6 52.0h13.2v1.1h-13.2z" fill="#a00000"/>
<path d="M122.6 53.0h13.2v1.1h-13.2z" fill="#850000"/>
<path d="M122.6 54.0h13.2v1.1h-13.2z" fill="#000000"/>
<path d="M122.6 55.0h13.2v1.1h-13.2z" fill="#000000"/>
<path d="M122.6 56.0h13.2v1.1h-13.2z" fill="#d20000"/>
<path d="M122.6 57.0h13.2v1.1h-13.2z" fill="#ff0000"/>
<path d="M122.6 58.0h13.2v1.1h-13.2z" fill="#5a0000"/>
<path d="M122.6 59.0h13.2v1.1h-13.2z" fill="#4e0000"/>
<path d="M122.6 60.0h13.2v1.1h-13.2z" fill="#8c0000"/>
<path d="M122.6 61.0h13.2v1.1h-13.2z" fill="#8e0000"/>
<path d="M122.6 62.0h13.2v1.1h-13.2z" fill="#000000"/>
<path d="M122.6 63.0h13.2v1.1h-13.2z" fill="#000000"/>
<path d="M122.6 64.0h13.2v1.6h-13.2z" fill="#ff0000"/>
<path d="M122.6 65.5h13.2v1.6h-13.2z" fill="#d80000"/>
<path d="M122.6 67.0h13.2v1.1h-13.2z" fill="#000000"/>
<path d="M122.6 68.0h13.2v1.1h-13.2z" fill="#000000"/>
<path d="M122.6 69.0h13.2v1.1h-13.2z" fill="#005400"/>
<path d="M122.6 70.0h13.2v1.1h-13.2z" fill="#004e00"/>
<path d="M122.6 71.0h13.2v1.1h-13.2z" fill="#000000"/>
<path d="M122.6 72.0h13.2v1.1h-13.2z" fill="#000000"/>
<path d="M122.6 73.0h13.2v1.1h-13.2z" fill="#00a700"/>
<path d="M122.6 74.0h13.2v1.1h-13.2z" fill="#00a300"/>
<path d="M122.6 75.0h13.2v1.6h-13.2z" fill="#3b0000"/>
<path d="M122.6 76.5h13.2v1.6h-13.2z" fill="#e30000"/>
<path d="M122.6 78.0h13.2v1.4h-13.2z" fill="#003700"/>
<path d="M122.6 79.3h13.2v1.4h-13.2z" fill="#003400"/>
<path d="M122.6 80.7h13.2v1.4h-13.2z" fill="#003100"/>
<path d="M122.6 82.0h13.2v1.1h-13.2z" fill="#00a200"/>
<path d="M122.6 83.0h13.2v1.1h-13.2z" fill="#00ba00"/>
<path d="M122.6 84.0h13.2v1.1h-13.2z" fill="#13ce13"/>
<path d="M122.6 85.0h13.2v1.1h-13.2z" fill="#17f217"/>
<path d="M122.6 86.0h13.2v1.1h-13.2z" fill="#00a900"/>
<path d="M122.6 87.0h13.2v1.1h-13.2z" fill="#008c00"/>
<path d="M122.6 88.0h13.2v1.3h-13.2z" fill="#000000"/>
<path d="M122.6 89.2h13.2v1.3h-13.2z" fill="#000000"/>
<path d="M122.6 90.4h13.2v1.3h-13.2z" fill="#000000"/>
<path d="M122.6 91.5h13.2v1.3h-13.2z" fill="#000000"/>
<path d="M122.6 92.7h13.2v1.3h-13.2z" fill="#000000"/>
<path d="M122.6 93.9h13.2v1.3h-13.2z" fill="#000000"/>
<path d="M122.6 95.1h13.2v1.3h-13.2z" fill="#000000"/>
<path d="M122.6 96.3h13.2v1.3h-13.2z" fill="#000000"/>
<path d="M122.6 97.5h13.2v1.3h-13.2z" fill="#000000"/>
<path d="M122.6 98.6h13.2v1.3h-13.2z" fill="#000000"/>
<path d="M122.6 99.8h13.2v1.3h-13.2z" fill="#000000"/>
<path d="M122.6 101.0h13.2v1.1h-13.2z" fill="#5d3b00"/>
<path d="M122.6 102.0h13.2v1.1h-13.2z" fill="#674100"/>
<path d="M122.6 103.0h13.2v1.6h-13.2z" fill="#590000"/>
<path d="M122.6 104.5h13.2v1.6h-13.2z" fill="#5a0000"/>
<path d="M122.6 106.0h13.2v1.3h-13.2z" fill="#c10000"/>
<path d="M122.6 107.2h13.2v1.3h-13.2z" fill="#bc0000"/>
<path d="M122.6 108.4h13.2v1.3h-13.2z" fill="#b50000"/>
<path d="M122.6 109.6h13.2v1.3h-13.2z" fill="#8d0000"/>
<path d="M122.6 110.8h13.2v1.3h-13.2z" fill="#ba0000"/>
<path d="M122.6 112.0h13.2v1.1h-13.2z" fill="#570000"/>
<path d="M122.6 113.0h13.2v1.1h-13.2z" fill="#410000"/>
<path d="M122.6 114.0h13.2v1.1h-13.2z" fill="#b90000"/>
<path d="M122.6 115.0h13.2v1.1h-13.2z" fill="#c10000"/>
<path d="M122.6 116.0h13.2v1.4h-13.2z" fill="#cb0000"/>
<path d="M122.6 117.3h13.2v1.4h-13.2z" fill="#c40000"/>
<path d="M122.6 118.7h13.2v1.4h-13.2z" fill="#f70000"/>
<path d="M122.6 120.0h13.2v1.1h-13.2z" fill="#000000"/>
<path d="M122.6 121.0h13.2v1.1h-13.2z" fill="#000000"/>
<path d="M122.6 122.0h13.2v1.1h-13.2z" fill="#870000"/>
<path d="M122.6 123.0h13.2v1.1h-13.2z" fill="#be0000"/>
<path d="M122.6 124.0h13.2v1.1h-13.2z" fill="#600000"/>
<path d="M122.6 125.0h13.2v1.1h-13.2z" fill="#270000"/>
<path d="M122.6 126.0h13.2v1.6h-13.2z" fill="#000000"/>
<path d="M122.6 127.5h13.2v1.6h-13.2z" fill="#000000"/>
<path d="M122.6 129.0h13.2v1.6h-13.2z" fill="#4b0000"/>
<path d="M122.6 130.5h13.2v1.6h-13.2z" fill="#1b0000"/>
<path d="M122.6 132.0h13.2v1.6h-13.2z" fill="#ba0000"/>
<path d="M122.6 133.5h13.2v1.6h-13.2z" fill="#c70000"/>
<path d="M135.8 10.6h13.2v1.2h-13.2z" fill="#003400"/>
<path d="M135.8 11.7h13.2v1.2h-13.2z" fill="#002a00"/>
<path d="M135.8 12.9h13.2v1.2h-13.2z" fill="#002c00"/>
<path d="M135.8 14.0h13.2v1.2h-13.2z" fill="#3dff3d"/>
<path d="M135.8 15.1h13.2v1.2h-13.2z" fill="#3bfc3b"/>
<path d="M135.8 16.3h13.2v1.2h-13.2z" fill="#3eff3e"/>
<path d="M135.8 17.4h13.2v1.2h-13.2z" fill="#31d231"/>
<path d="M135.8 18.6h13.2v1.2h-13.2z" fill="#46ff46"/>
<path d="M135.8 19.7h13.2v1.2h-13.2z" fill="#46ff46"/>
<path d="M135.8 20.9h13.2v1.2h-13.2z" fill="#44ff44"/>
<path d="M135.8 22.0h13.2v1.1h-13.2z" fill="#000000"/>
<path d="M135.8 23.0h13.2v1.1h-13.2z" fill="#000000"/>
<path d="M135.8 24.0h13.2v1.4h-13.2z" fill="#00a500"/>
<path d="M135.8 25.3h13.2v1.4h-13.2z" fill="#004a00"/>
<path d="M135.8 26.7h13.2v1.4h-13.2z" fill="#009500"/>
<path d="M135.8 28.0h13.2v1.1h-13.2z" fill="#000000"/>
<path d="M135.8 29.0h13.2v1.1h-13.2z" fill="#000000"/>
<path d="M135.8 30.0h13.2v1.6h-13.2z" fill="#007500"/>
<path d="M135.8 31.5h13.2v1.6h-13.2z" fill="#006400"/>
<path d="M135.8 33.0h13.2v1.4h-13.2z" fill="#0f9d0f"/>
<path d="M135.8 34.2h13.2v1.4h-13.2z" fill="#12bf12"/>
<path d="M135.8 35.5h13.2v1.4h-13.2z" fill="#17fb17"/>
<path d="M135.8 36.8h13.2v1.4h-13.2z" fill="#10a810"/>
<path d="M135.8 38.0h13.2v1.6h-13.2z" fill="#006400"/>
<path d="M135.8 39.5h13.2v1.6h-13.2z" fill="#007c00"/>
<path d="M135.8 41.0h13.2v1.6h-13.2z" fill="#000000"/>
<path d="M135.8 42.5h13.2v1.6h-13.2z" fill="#000000"/>
<path d="M135.8 44.0h13.2v1.1h-13.2z" fill="#7f5100"/>
<path d="M135.8 45.0h13.2v1.1h-13.2z" fill="#875600"/>
<path d="M135.8 46.0h13.2v1.4h-13.2z" fill="#ff0000"/>
<path d="M135.8 47.3h13.2v1.4h-13.2z" fill="#c80000"/>
<path d="M135.8 48.7h13.2v1.4h-13.2z" fill="#ff0000"/>
<path d="M135.8 50.0h13.2v1.1h-13.2z" fill="#7e0000"/>
<path d="M135.8 51.0h13.2v1.1h-13.2z" fill="#b20000"/>
<path d="M135.8 52.0h13.2v1.4h-13.2z" fill="#da0000"/>
<path d="M135.8 53.3h13.2v1.4h-13.2z" fill="#fc0000"/>
<path d="M135.8 54.7h13.2v1.4h-13.2z" fill="#e50000"/>
<path d="M135.8 56.0h13.2v1.1h-13.2z" fill="#c60000"/>
<path d="M135.8 57.0h13.2v1.1h-13.2z" fill="#7e0000"/>
<path d="M135.8 58.0h13.2v1.1h-13.2z" fill="#ff0000"/>
<path d="M135.8 59.0h13.2v1.1h-13.2z" fill="#d00000"/>
<path d="M135.8 60.0h13.2v1.1h-13.2z" fill="#950000"/>
<path d="M135.8 61.0h13.2v1.1h-13.2z" fill="#7a0000"/>
<path d="M135.8 62.0h13.2v1.1h-13.2z" fill="#ff0000"/>
<path d="M135.8 63.0h13.2v1.1h-13.2z" fill="#c40000"/>
<path d="M135.8 64.0h13.2v1.1h-13.2z" fill="#000000"/>
<path d="M135.8 65.0h13.2v1.1h-13.2z" fill="#000000"/>
<path d="M135.8 66.0h13.2v1.4h-13.2z" fill="#005400"/>
<path d="M135.8 67.3h13.2v1.4h-13.2z" fill="#005100"/>
<path d="M135.8 68.7h13.2v1.4h-13.2z" fill="#005100"/>
<path d="M135.8 70.0h13.2v1.1h-13.2z" fill="#000000"/>
<path d="M135.8 71.0h13.2v1.1h-13.2z" fill="#000000"/>
<path d="M135.8 72.0h13.2v1.1h-13.2z" fill="#c50000"/>
<path d="M135.8 73.0h13.2v1.1h-13.2z" fill="#890000"/>
<path d="M135.8 74.0h13.2v1.1h-13.2z" fill="#c00000"/>
<path d="M135.8 75.0h13.2v1.1h-13.2z" fill="#c30000"/>
<path d="M135.8 76.0h13.2v1.1h-13.2z" fill="#000000"/>
<path d="M135.8 77.0h13.2v1.1h-13.2z" fill="#000000"/>
<path d="M135.8 78.0h13.2v1.1h-13.2z" fill="#007300"/>
<path d="M135.8 79.0h13.2v1.1h-13.2z" fill="#002100"/>
<path d="M135.8 80.0h13.2v1.1h-13.2z" fill="#000000"/>
<path d="M135.8 81.0h13.2v1.1h-13.2z" fill="#000000"/>
<path d="M135.8 82.0h13.2v1.4h-13.2z" fill="#15e215"/>
<path d="M135.8 83.3h13.2v1.4h-13.2z" fill="#10b010"/>
<path d="M135.8 84.7h13.2v1.4h-13.2z" fill="#11bc11"/>
<path d="M135.8 86.0h13.2v1.1h-13.2z" fill="#002b00"/>
<path d="M135.8 87.0h13.2v1.1h-13.2z" fill="#002200"/>
<path d="M135.8 88.0h13.2v1.1h-13.2z" fill="#001d00"/>
<path d="M135.8 89.0h13.2v1.1h-13.2z" fill="#00ad00"/>
<path d="M135.8 90.0h13.2v1.4h-13.2z" fill="#000000"/>
<path d="M135.8 91.3h13.2v1.4h-13.2z" fill="#000000"/>
<path d="M135.8 92.7h13.2v1.4h-13.2z" fill="#000000"/>
<path d="M135.8 94.0h13.2v1.4h-13.2z" fill="#007300"/>
<path d="M135.8 95.3h13.2v1.4h-13.2z" fill="#007400"/>
<path d="M135.8 96.7h13.2v1.4h-13.2z" fill="#006600"/>
<path d="M135.8 98.0h13.2v1.4h-13.2z" fill="#000000"/>
<path d="M135.8 99.2h13.2v1.4h-13.2z" fill="#000000"/>
<path d="M135.8 100.5h13.2v1.4h-13.2z" fill="#000000"/>
<path d="M135.8 101.8h13.2v1.4h-13.2z" fill="#000000"/>
<path d="M135.8 103.0h13.2v1.6h-13.2z" fill="#006500"/>
<path d="M135.8 104.5h13.2v1.6h-13.2z" fill="#007300"/>
<path d="M135.8 106.0h13.2v1.1h-13.2z" fill="#4a0000"/>
<path d="M135.8 107.0h13.2v1.1h-13.2z" fill="#590000"/>
<path d="M135.8 108.0h13.2v1.4h-13.2z" fill="#4f0000"/>
<path d="M135.8 109.3h13.2v1.4h-13.2z" fill="#dc0000"/>
<path d="M135.8 110.7h13.2v1.4h-13.2z" fill="#ff0000"/>
<path d="M135.8 112.0h13.2v1.1h-13.2z" fill="#af0000"/>
<path d="M135.8 113.0h13.2v1.1h-13.2z" fill="#960000"/>
<path d="M135.8 114.0h13.2v1.1h-13.2z" fill="#ff0000"/>
<path d="M135.8 115.0h13.2v1.1h-13.2z" fill="#ff0000"/>
<path d="M135.8 116.0h13.2v1.1h-13.2z" fill="#690000"/>
<path d="M135.8 117.0h13.2v1.1h-13.2z" fill="#e60000"/>
<path d="M135.8 118.0h13.2v1.6h-13.2z" fill="#2a0000"/>
<path d="M135.8 119.5h13.2v1.6h-13.2z" fill="#b60000"/>
<path d="M135.8 121.0h13.2v1.6h-13.2z" fill="#d90000"/>
<path d="M135.8 122.5h13.2v1.6h-13.2z" fill="#ce0000"/>
<path d="M135.8 124.0h13.2v1.6h-13.2z" fill="#ab0000"/>
<path d="M135.8 125.5h13.2v1.6h-13.2z" fill="#af0000"/>
<path d="M135.8 127.0h13.2v1.6h-13.2z" fill="#ff0000"/>
<path d="M135.8 128.5h13.2v1.6h-13.2z" fill="#ff0000"/>
<path d="M135.8 130.0h13.2v1.4h-13.2z" fill="#860000"/>
<path d="M135.8 131.2h13.2v1.4h-13.2z" fill="#a00000"/>
<path d="M135.8 132.5h13.2v1.4h-13.2z" fill="#950000"/>
<path d="M135.8 133.8h13.2v1.4h-13.2z" fill="#990000"/>
<path d="M165.50 10.60h13.33v15.96h-13.33z" fill="#ff0000"/>
<path d="M165.5 26.5h13.3v1.3h-13.3z" fill="#530000"/>
<path d="M165.5 27.7h13.3v1.3h-13.3z" fill="#420000"/>
<path d="M165.5 28.8h13.3v1.3h-13.3z" fill="#280000"/>
<path d="M165.5 30.0h13.3v1.4h-13.3z" fill="#002600"/>
<path d="M165.5 31.3h13.3v1.4h-13.3z" fill="#001f00"/>
<path d="M165.5 32.7h13.3v1.4h-13.3z" fill="#000800"/>
<path d="M165.5 34.0h13.3v1.4h-13.3z" fill="#2a0000"/>
<path d="M165.5 35.3h13.3v1.4h-13.3z" fill="#650000"/>
<path d="M165.5 36.7h13.3v1.4h-13.3z" fill="#210000"/>
<path d="M165.5 38.0h13.3v1.4h-13.3z" fill="#000b00"/>
<path d="M165.5 39.3h13.3v1.4h-13.3z" fill="#001b00"/>
<path d="M165.5 40.7h13.3v1.4h-13.3z" fill="#000c00"/>
<path d="M165.5 42.0h13.3v1.4h-13.3z" fill="#002400"/>
<path d="M165.5 43.2h13.3v1.4h-13.3z" fill="#000d00"/>
<path d="M165.5 44.5h13.3v1.4h-13.3z" fill="#002000"/>
<path d="M165.5 45.8h13.3v1.4h-13.3z" fill="#001f00"/>
<path d="M165.5 47.0h13.3v1.4h-13.3z" fill="#000900"/>
<path d="M165.5 48.2h13.3v1.4h-13.3z" fill="#000b00"/>
<path d="M165.5 49.5h13.3v1.4h-13.3z" fill="#002a00"/>
<path d="M165.5 50.8h13.3v1.4h-13.3z" fill="#002800"/>
<path d="M165.5 52.0h13.3v1.4h-13.3z" fill="#001f00"/>
<path d="M165.5 53.2h13.3v1.4h-13.3z" fill="#000800"/>
<path d="M165.5 54.5h13.3v1.4h-13.3z" fill="#000b00"/>
<path d="M165.5 55.8h13.3v1.4h-13.3z" fill="#001d00"/>
<path d="M165.5 57.0h13.3v1.2h-13.3z" fill="#006300"/>
<path d="M165.5 58.1h13.3v1.2h-13.3z" fill="#000c00"/>
<path d="M165.5 59.3h13.3v1.2h-13.3z" fill="#002000"/>
<path d="M165.5 60.4h13.3v1.2h-13.3z" fill="#003e00"/>
<path d="M165.5 61.6h13.3v1.2h-13.3z" fill="#001b00"/>
<path d="M165.5 62.7h13.3v1.2h-13.3z" fill="#000c00"/>
<path d="M165.5 63.9h13.3v1.2h-13.3z" fill="#001100"/>
<path d="M165.5 65.0h13.3v1.3h-13.3z" fill="#000900"/>
<path d="M165.5 66.2h13.3v1.3h-13.3z" fill="#001f00"/>
<path d="M165.5 67.3h13.3v1.3h-13.3z" fill="#000800"/>
<path d="M165.5 68.5h13.3v1.3h-13.3z" fill="#001f00"/>
<path d="M165.5 69.7h13.3v1.3h-13.3z" fill="#002300"/>
<path d="M165.5 70.8h13.3v1.3h-13.3z" fill="#000a00"/>
<path d="M165.5 72.0h13.3v1.2h-13.3z" fill="#001b00"/>
<path d="M165.5 73.1h13.3v1.2h-13.3z" fill="#009000"/>
<path d="M165.5 74.3h13.3v1.2h-13.3z" fill="#001b00"/>
<path d="M165.5 75.4h13.3v1.2h-13.3z" fill="#006600"/>
<path d="M165.5 76.6h13.3v1.2h-13.3z" fill="#009800"/>
<path d="M165.5 77.7h13.3v1.2h-13.3z" fill="#003800"/>
<path d="M165.5 78.9h13.3v1.2h-13.3z" fill="#001500"/>
<path d="M165.5 80.0h13.3v1.3h-13.3z" fill="#001500"/>
<path d="M165.5 81.2h13.3v1.3h-13.3z" fill="#004d00"/>
<path d="M165.5 82.4h13.3v1.3h-13.3z" fill="#005600"/>
<path d="M165.5 83.6h13.3v1.3h-13.3z" fill="#001100"/>
<path d="M165.5 84.8h13.3v1.3h-13.3z" fill="#004000"/>
<path d="M165.5 86.0h13.3v1.3h-13.3z" fill="#009300"/>
<path d="M165.5 87.2h13.3v1.3h-13.3z" fill="#002000"/>
<path d="M165.5 88.3h13.3v1.3h-13.3z" fill="#002600"/>
<path d="M165.5 89.5h13.3v1.3h-13.3z" fill="#001400"/>
<path d="M165.5 90.7h13.3v1.3h-13.3z" fill="#001b00"/>
<path d="M165.5 91.8h13.3v1.3h-13.3z" fill="#002700"/>
<path d="M165.5 93.0h13.3v1.3h-13.3z" fill="#008a00"/>
<path d="M165.5 94.2h13.3v1.3h-13.3z" fill="#009700"/>
<path d="M165.5 95.3h13.3v1.3h-13.3z" fill="#002600"/>
<path d="M165.5 96.5h13.3v1.3h-13.3z" fill="#003800"/>
<path d="M165.5 97.7h13.3v1.3h-13.3z" fill="#009a00"/>
<path d="M165.5 98.8h13.3v1.3h-13.3z" fill="#006700"/>
<path d="M165.5 100.0h13.3v1.3h-13.3z" fill="#002200"/>
<path d="M165.5 101.2h13.3v1.3h-13.3z" fill="#005100"/>
<path d="M165.5 102.3h13.3v1.3h-13.3z" fill="#006100"/>
<path d="M165.5 103.5h13.3v1.3h-13.3z" fill="#004a00"/>
<path d="M165.5 104.7h13.3v1.3h-13.3z" fill="#004a00"/>
<path d="M165.5 105.8h13.3v1.3h-13.3z" fill="#001900"/>
<path d="M165.5 107.0h13.3v1.3h-13.3z" fill="#000700"/>
<path d="M165.5 108.2h13.3v1.3h-13.3z" fill="#000c00"/>
<path d="M165.5 109.4h13.3v1.3h-13.3z" fill="#002700"/>
<path d="M165.5 110.5h13.3v1.3h-13.3z" fill="#000b00"/>
<path d="M165.5 111.7h13.3v1.3h-13.3z" fill="#001d00"/>
<path d="M165.5 112.9h13.3v1.3h-13.3z" fill="#000d00"/>
<path d="M165.5 114.1h13.3v1.3h-13.3z" fill="#000d00"/>
<path d="M165.5 115.3h13.3v1.3h-13.3z" fill="#001000"/>
<path d="M165.5 116.5h13.3v1.3h-13.3z" fill="#000a00"/>
<path d="M165.5 117.6h13.3v1.3h-13.3z" fill="#002a00"/>
<path d="M165.5 118.8h13.3v1.3h-13.3z" fill="#002a00"/>
<path d="M165.5 120.0h13.3v1.3h-13.3z" fill="#001c00"/>
<path d="M165.5 121.2h13.3v1.3h-13.3z" fill="#000c00"/>
<path d="M165.5 122.4h13.3v1.3h-13.3z" fill="#002800"/>
<path d="M165.5 123.5h13.3v1.3h-13.3z" fill="#000900"/>
<path d="M165.5 124.7h13.3v1.3h-13.3z" fill="#002400"/>
<path d="M165.5 125.9h13.3v1.3h-13.3z" fill="#002a00"/>
<path d="M165.5 127.1h13.3v1.3h-13.3z" fill="#002600"/>
<path d="M165.5 128.2h13.3v1.3h-13.3z" fill="#002100"/>
<path d="M165.5 129.4h13.3v1.3h-13.3z" fill="#001100"/>
<path d="M165.5 130.6h13.3v1.3h-13.3z" fill="#000800"/>
<path d="M165.5 131.8h13.3v1.3h-13.3z" fill="#002c00"/>
<path d="M165.5 132.9h13.3v1.3h-13.3z" fill="#000800"/>
<path d="M165.5 134.1h13.3v1.3h-13.3z" fill="#002000"/>
<path d="M178.8 10.6h13.3v1.3h-13.3z" fill="#000000"/>
<path d="M178.8 11.8h13.3v1.3h-13.3z" fill="#000000"/>
<path d="M178.8 13.0h13.3v1.3h-13.3z" fill="#000000"/>
<path d="M178.8 14.3h13.3v1.3h-13.3z" fill="#000000"/>
<path d="M178.8 15.5h13.3v1.3h-13.3z" fill="#000000"/>
<path d="M178.8 16.7h13.3v1.3h-13.3z" fill="#000000"/>
<path d="M178.8 17.9h13.3v1.3h-13.3z" fill="#000000"/>
<path d="M178.8 19.2h13.3v1.3h-13.3z" fill="#000000"/>
<path d="M178.8 20.4h13.3v1.3h-13.3z" fill="#000000"/>
<path d="M178.8 21.6h13.3v1.3h-13.3z" fill="#000000"/>
<path d="M178.8 22.8h13.3v1.3h-13.3z" fill="#000000"/>
<path d="M178.8 24.1h13.3v1.3h-13.3z" fill="#000000"/>
<path d="M178.8 25.3h13.3v1.3h-13.3z" fill="#000000"/>
<path d="M178.78 26.50h13.33v15.26h-13.33z" fill="#ff0000"/>
<path d="M178.8 41.7h13.3v1.3h-13.3z" fill="#000f00"/>
<path d="M178.8 42.9h13.3v1.3h-13.3z" fill="#000800"/>
<path d="M178.8 44.1h13.3v1.3h-13.3z" fill="#000900"/>
<path d="M178.8 45.2h13.3v1.3h-13.3z" fill="#000900"/>
<path d="M178.8 46.4h13.3v1.3h-13.3z" fill="#002700"/>
<path d="M178.8 47.6h13.3v1.3h-13.3z" fill="#001c00"/>
<path d="M178.8 48.8h13.3v1.3h-13.3z" fill="#001e00"/>
<path d="M178.8 49.9h13.3v1.3h-13.3z" fill="#000c00"/>
<path d="M178.8 51.1h13.3v1.3h-13.3z" fill="#002700"/>
<path d="M178.8 52.3h13.3v1.3h-13.3z" fill="#001b00"/>
<path d="M178.8 53.5h13.3v1.3h-13.3z" fill="#000b00"/>
<path d="M178.8 54.6h13.3v1.3h-13.3z" fill="#000600"/>
<path d="M178.8 55.8h13.3v1.3h-13.3z" fill="#000c00"/>
<path d="M178.8 57.0h13.3v1.3h-13.3z" fill="#000600"/>
<path d="M178.8 58.2h13.3v1.3h-13.3z" fill="#000e00"/>
<path d="M178.8 59.5h13.3v1.3h-13.3z" fill="#002c00"/>
<path d="M178.8 60.7h13.3v1.3h-13.3z" fill="#002b00"/>
<path d="M178.8 61.9h13.3v1.3h-13.3z" fill="#002300"/>
<path d="M178.8 63.2h13.3v1.3h-13.3z" fill="#000600"/>
<path d="M178.8 64.4h13.3v1.3h-13.3z" fill="#000d00"/>
<path d="M178.8 65.6h13.3v1.3h-13.3z" fill="#001b00"/>
<path d="M178.8 66.8h13.3v1.3h-13.3z" fill="#000900"/>
<path d="M178.8 68.1h13.3v1.3h-13.3z" fill="#000f00"/>
<path d="M178.8 69.3h13.3v1.3h-13.3z" fill="#000900"/>
<path d="M178.8 70.5h13.3v1.3h-13.3z" fill="#002c00"/>
<path d="M178.8 71.8h13.3v1.3h-13.3z" fill="#000d00"/>
<path d="M178.8 73.0h13.3v1.3h-13.3z" fill="#001800"/>
<path d="M178.8 74.2h13.3v1.3h-13.3z" fill="#004400"/>
<path d="M178.8 75.4h13.3v1.3h-13.3z" fill="#001e00"/>
<path d="M178.8 76.6h13.3v1.3h-13.3z" fill="#005300"/>
<path d="M178.8 77.9h13.3v1.3h-13.3z" fill="#005700"/>
<path d="M178.8 79.1h13.3v1.3h-13.3z" fill="#001500"/>
<path d="M178.8 80.3h13.3v1.3h-13.3z" fill="#001a00"/>
<path d="M178.8 81.5h13.3v1.3h-13.3z" fill="#005e00"/>
<path d="M178.8 82.7h13.3v1.3h-13.3z" fill="#001800"/>
<path d="M178.8 83.9h13.3v1.3h-13.3z" fill="#006200"/>
<path d="M178.8 85.1h13.3v1.3h-13.3z" fill="#002000"/>
<path d="M178.8 86.4h13.3v1.3h-13.3z" fill="#002000"/>
<path d="M178.8 87.6h13.3v1.3h-13.3z" fill="#001a00"/>
<path d="M178.8 88.8h13.3v1.3h-13.3z" fill="#005700"/>
<path d="M178.8 90.0h13.3v1.3h-13.3z" fill="#005b00"/>
<path d="M178.8 91.2h13.3v1.3h-13.3z" fill="#004f00"/>
<path d="M178.8 92.4h13.3v1.3h-13.3z" fill="#001b00"/>
<path d="M178.8 93.6h13.3v1.3h-13.3z" fill="#005900"/>
<path d="M178.8 94.9h13.3v1.3h-13.3z" fill="#001c00"/>
<path d="M178.8 96.1h13.3v1.3h-13.3z" fill="#002000"/>
<path d="M178.8 97.3h13.3v1.3h-13.3z" fill="#004d00"/>
<path d="M178.8 98.5h13.3v1.3h-13.3z" fill="#005600"/>
<path d="M178.8 99.7h13.3v1.3h-13.3z" fill="#000e00"/>
<path d="M178.8 100.9h13.3v1.3h-13.3z" fill="#004a00"/>
<path d="M178.8 102.1h13.3v1.3h-13.3z" fill="#001800"/>
<path d="M178.8 103.4h13.3v1.3h-13.3z" fill="#006200"/>
<path d="M178.8 104.6h13.3v1.3h-13.3z" fill="#006200"/>
<path d="M178.8 105.8h13.3v1.3h-13.3z" fill="#001900"/>
<path d="M178.8 107.0h13.3v1.3h-13.3z" fill="#000800"/>
<path d="M178.8 108.2h13.3v1.3h-13.3z" fill="#001c00"/>
<path d="M178.8 109.4h13.3v1.3h-13.3z" fill="#002400"/>
<path d="M178.8 110.6h13.3v1.3h-13.3z" fill="#002c00"/>
<path d="M178.8 111.8h13.3v1.3h-13.3z" fill="#000800"/>
<path d="M178.8 113.0h13.3v1.3h-13.3z" fill="#002000"/>
<path d="M178.8 114.2h13.3v1.3h-13.3z" fill="#001000"/>
<path d="M178.8 115.4h13.3v1.3h-13.3z" fill="#002000"/>
<path d="M178.8 116.6h13.3v1.3h-13.3z" fill="#002200"/>
<path d="M178.8 117.8h13.3v1.3h-13.3z" fill="#002400"/>
<path d="M178.8 119.0h13.3v1.3h-13.3z" fill="#000d00"/>
<path d="M178.8 120.2h13.3v1.3h-13.3z" fill="#002500"/>
<path d="M178.8 121.4h13.3v1.3h-13.3z" fill="#002000"/>
<path d="M178.8 122.6h13.3v1.3h-13.3z" fill="#000500"/>
<path d="M178.8 123.8h13.3v1.3h-13.3z" fill="#001d00"/>
<path d="M178.8 125.0h13.3v1.2h-13.3z" fill="#000000"/>
<path d="M178.8 126.1h13.3v1.2h-13.3z" fill="#000000"/>
<path d="M178.8 127.3h13.3v1.2h-13.3z" fill="#000000"/>
<path d="M178.8 128.4h13.3v1.2h-13.3z" fill="#000000"/>
<path d="M178.8 129.6h13.3v1.2h-13.3z" fill="#000000"/>
<path d="M178.8 130.7h13.3v1.2h-13.3z" fill="#000000"/>
<path d="M178.8 131.9h13.3v1.2h-13.3z" fill="#000000"/>
<path d="M178.8 133.0h13.3v1.2h-13.3z" fill="#000000"/>
<path d="M178.8 134.2h13.3v1.2h-13.3z" fill="#000000"/>
<path d="M192.1 10.6h13.3v1.3h-13.3z" fill="#000000"/>
<path d="M192.1 11.8h13.3v1.3h-13.3z" fill="#000000"/>
<path d="M192.1 13.0h13.3v1.3h-13.3z" fill="#000000"/>
<path d="M192.1 14.2h13.3v1.3h-13.3z" fill="#000000"/>
<path d="M192.1 15.4h13.3v1.3h-13.3z" fill="#000000"/>
<path d="M192.1 16.6h13.3v1.3h-13.3z" fill="#000000"/>
<path d="M192.1 17.8h13.3v1.3h-13.3z" fill="#000000"/>
<path d="M192.1 19.0h13.3v1.3h-13.3z" fill="#000000"/>
<path d="M192.1 20.2h13.3v1.3h-13.3z" fill="#000000"/>
<path d="M192.1 21.4h13.3v1.3h-13.3z" fill="#000000"/>
<path d="M192.1 22.6h13.3v1.3h-13.3z" fill="#000000"/>
<path d="M192.1 23.8h13.3v1.3h-13.3z" fill="#000000"/>
<path d="M192.1 25.0h13.3v1.3h-13.3z" fill="#000000"/>
<path d="M192.1 26.1h13.3v1.3h-13.3z" fill="#000000"/>
<path d="M192.1 27.3h13.3v1.3h-13.3z" fill="#000000"/>
<path d="M192.1 28.5h13.3v1.3h-13.3z" fill="#000000"/>
<path d="M192.1 29.7h13.3v1.3h-13.3z" fill="#000000"/>
<path d="M192.1 30.9h13.3v1.3h-13.3z" fill="#000000"/>
<path d="M192.1 32.1h13.3v1.3h-13.3z" fill="#000000"/>
<path d="M192.1 33.3h13.3v1.3h-13.3z" fill="#000000"/>
<path d="M192.1 34.5h13.3v1.3h-13.3z" fill="#000000"/>
<path d="M192.1 35.7h13.3v1.3h-13.3z" fill="#000000"/>
<path d="M192.1 36.9h13.3v1.3h-13.3z" fill="#000000"/>
<path d="M192.1 38.1h13.3v1.3h-13.3z" fill="#000000"/>
<path d="M192.1 39.3h13.3v1.3h-13.3z" fill="#000000"/>
<path d="M192.1 40.5h13.3v1.3h-13.3z" fill="#000000"/>
<path d="M192.05 41.70h13.33v15.36h-13.33z" fill="#ff0000"/>
<path d="M192.1 57.0h13.3v1.3h-13.3z" fill="#000000"/>
<path d="M192.1 58.2h13.3v1.3h-13.3z" fill="#000000"/>
<path d="M192.1 59.5h13.3v1.3h-13.3z" fill="#000000"/>
<path d="M192.1 60.7h13.3v1.3h-13.3z" fill="#000000"/>
<path d="M192.1 61.9h13.3v1.3h-13.3z" fill="#000000"/>
<path d="M192.1 63.2h13.3v1.3h-13.3z" fill="#000000"/>
<path d="M192.1 64.4h13.3v1.3h-13.3z" fill="#000000"/>
<path d="M192.1 65.6h13.3v1.3h-13.3z" fill="#000000"/>
<path d="M192.1 66.8h13.3v1.3h-13.3z" fill="#000000"/>
<path d="M192.1 68.1h13.3v1.3h-13.3z" fill="#000000"/>
<path d="M192.1 69.3h13.3v1.3h-13.3z" fill="#000000"/>
<path d="M192.1 70.5h13.3v1.3h-13.3z" fill="#000000"/>
<path d="M192.1 71.8h13.3v1.3h-13.3z" fill="#000000"/>
<path d="M192.1 73.0h13.3v1.3h-13.3z" fill="#002000"/>
<path d="M192.1 74.2h13.3v1.3h-13.3z" fill="#002100"/>
<path d="M192.1 75.4h13.3v1.3h-13.3z" fill="#000c00"/>
<path d="M192.1 76.6h13.3v1.3h-13.3z" fill="#002200"/>
<path d="M192.1 77.8h13.3v1.3h-13.3z" fill="#002a00"/>
<path d="M192.1 79.0h13.3v1.3h-13.3z" fill="#000800"/>
<path d="M192.1 80.2h13.3v1.3h-13.3z" fill="#000e00"/>
<path d="M192.1 81.4h13.3v1.3h-13.3z" fill="#001e00"/>
<path d="M192.1 82.6h13.3v1.3h-13.3z" fill="#001000"/>
<path d="M192.1 83.8h13.3v1.3h-13.3z" fill="#002500"/>
<path d="M192.1 85.0h13.3v1.4h-13.3z" fill="#005d00"/>
<path d="M192.1 86.2h13.3v1.4h-13.3z" fill="#000d00"/>
<path d="M192.1 87.5h13.3v1.4h-13.3z" fill="#004b00"/>
<path d="M192.1 88.8h13.3v1.4h-13.3z" fill="#004700"/>
<path d="M192.1 90.0h13.3v1.4h-13.3z" fill="#002200"/>
<path d="M192.1 91.2h13.3v1.4h-13.3z" fill="#001700"/>
<path d="M192.1 92.5h13.3v1.4h-13.3z" fill="#001a00"/>
<path d="M192.1 93.8h13.3v1.4h-13.3z" fill="#006300"/>
<path d="M192.1 95.0h13.3v1.4h-13.3z" fill="#004100"/>
<path d="M192.1 96.2h13.3v1.4h-13.3z" fill="#001b00"/>
<path d="M192.1 97.5h13.3v1.4h-13.3z" fill="#005800"/>
<path d="M192.1 98.8h13.3v1.4h-13.3z" fill="#006100"/>
<path d="M192.1 100.0h13.3v1.3h-13.3z" fill="#001000"/>
<path d="M192.1 101.2h13.3v1.3h-13.3z" fill="#004200"/>
<path d="M192.1 102.3h13.3v1.3h-13.3z" fill="#004000"/>
<path d="M192.1 103.5h13.3v1.3h-13.3z" fill="#004100"/>
<path d="M192.1 104.7h13.3v1.3h-13.3z" fill="#001500"/>
<path d="M192.1 105.8h13.3v1.3h-13.3z" fill="#005800"/>
<path d="M192.1 107.0h13.3v1.3h-13.3z" fill="#001900"/>
<path d="M192.1 108.2h13.3v1.3h-13.3z" fill="#001b00"/>
<path d="M192.1 109.4h13.3v1.3h-13.3z" fill="#002900"/>
<path d="M192.1 110.7h13.3v1.3h-13.3z" fill="#009b00"/>
<path d="M192.1 111.9h13.3v1.3h-13.3z" fill="#002b00"/>
<path d="M192.1 113.1h13.3v1.3h-13.3z" fill="#006900"/>
<path d="M192.1 114.3h13.3v1.3h-13.3z" fill="#001900"/>
<path d="M192.1 115.6h13.3v1.3h-13.3z" fill="#007600"/>
<path d="M192.1 116.8h13.3v1.3h-13.3z" fill="#002800"/>
<path d="M192.1 118.0h13.3v1.3h-13.3z" fill="#005f00"/>
<path d="M192.1 119.2h13.3v1.3h-13.3z" fill="#004400"/>
<path d="M192.1 120.3h13.3v1.3h-13.3z" fill="#003c00"/>
<path d="M192.1 121.5h13.3v1.3h-13.3z" fill="#003d00"/>
<path d="M192.1 122.7h13.3v1.3h-13.3z" fill="#004300"/>
<path d="M192.1 123.8h13.3v1.3h-13.3z" fill="#005c00"/>
<path d="M192.1 125.0h13.3v1.2h-13.3z" fill="#001c00"/>
<path d="M192.1 126.1h13.3v1.2h-13.3z" fill="#000600"/>
<path d="M192.1 127.3h13.3v1.2h-13.3z" fill="#002c00"/>
<path d="M192.1 128.4h13.3v1.2h-13.3z" fill="#002600"/>
<path d="M192.1 129.6h13.3v1.2h-13.3z" fill="#001d00"/>
<path d="M192.1 130.7h13.3v1.2h-13.3z" fill="#000900"/>
<path d="M192.1 131.9h13.3v1.2h-13.3z" fill="#002200"/>
<path d="M192.1 133.0h13.3v1.2h-13.3z" fill="#000c00"/>
<path d="M192.1 134.2h13.3v1.2h-13.3z" fill="#000600"/>
<path d="M205.3 10.6h13.3v1.3h-13.3z" fill="#000000"/>
<path d="M205.3 11.8h13.3v1.3h-13.3z" fill="#000000"/>
<path d="M205.3 12.9h13.3v1.3h-13.3z" fill="#000000"/>
<path d="M205.3 14.1h13.3v1.3h-13.3z" fill="#000000"/>
<path d="M205.3 15.3h13.3v1.3h-13.3z" fill="#000000"/>
<path d="M205.3 16.5h13.3v1.3h-13.3z" fill="#000000"/>
<path d="M205.3 17.6h13.3v1.3h-13.3z" fill="#000000"/>
<path d="M205.3 18.8h13.3v1.3h-13.3z" fill="#000000"/>
<path d="M205.3 20.0h13.3v1.3h-13.3z" fill="#000000"/>
<path d="M205.3 21.1h13.3v1.3h-13.3z" fill="#000000"/>
<path d="M205.3 22.3h13.3v1.3h-13.3z" fill="#000000"/>
<path d="M205.3 23.5h13.3v1.3h-13.3z" fill="#000000"/>
<path d="M205.3 24.7h13.3v1.3h-13.3z" fill="#000000"/>
<path d="M205.3 25.8h13.3v1.3h-13.3z" fill="#000000"/>
<path d="M205.3 27.0h13.3v1.4h-13.3z" fill="#000700"/>
<path d="M205.3 28.2h13.3v1.4h-13.3z" fill="#000700"/>
<path d="M205.3 29.5h13.3v1.4h-13.3z" fill="#000b00"/>
<path d="M205.3 30.8h13.3v1.4h-13.3z" fill="#000600"/>
<path d="M205.3 32.0h13.3v1.4h-13.3z" fill="#002c00"/>
<path d="M205.3 33.2h13.3v1.4h-13.3z" fill="#000b00"/>
<path d="M205.3 34.5h13.3v1.4h-13.3z" fill="#001c00"/>
<path d="M205.3 35.8h13.3v1.4h-13.3z" fill="#002700"/>
<path d="M205.3 37.0h13.3v1.4h-13.3z" fill="#002600"/>
<path d="M205.3 38.2h13.3v1.4h-13.3z" fill="#002200"/>
<path d="M205.3 39.5h13.3v1.4h-13.3z" fill="#002400"/>
<path d="M205.3 40.8h13.3v1.4h-13.3z" fill="#002800"/>
<path d="M205.3 42.0h13.3v1.4h-13.3z" fill="#000000"/>
<path d="M205.3 43.2h13.3v1.4h-13.3z" fill="#000000"/>
<path d="M205.3 44.5h13.3v1.4h-13.3z" fill="#000000"/>
<path d="M205.3 45.8h13.3v1.4h-13.3z" fill="#000000"/>
<path d="M205.3 47.0h13.3v1.4h-13.3z" fill="#000000"/>
<path d="M205.3 48.2h13.3v1.4h-13.3z" fill="#000000"/>
<path d="M205.3 49.5h13.3v1.4h-13.3z" fill="#000000"/>
<path d="M205.3 50.8h13.3v1.4h-13.3z" fill="#000000"/>
<path d="M205.3 52.0h13.3v1.4h-13.3z" fill="#000000"/>
<path d="M205.3 53.2h13.3v1.4h-13.3z" fill="#000000"/>
<path d="M205.3 54.5h13.3v1.4h-13.3z" fill="#000000"/>
<path d="M205.3 55.8h13.3v1.4h-13.3z" fill="#000000"/>
<path d="M205.32 57.00h13.33v16.06h-13.33z" fill="#ff0000"/>
<path d="M205.3 73.0h13.3v1.4h-13.3z" fill="#000000"/>
<path d="M205.3 74.2h13.3v1.4h-13.3z" fill="#000000"/>
<path d="M205.3 75.5h13.3v1.4h-13.3z" fill="#000000"/>
<path d="M205.3 76.8h13.3v1.4h-13.3z" fill="#000000"/>
<path d="M205.3 78.0h13.3v1.4h-13.3z" fill="#000000"/>
<path d="M205.3 79.2h13.3v1.4h-13.3z" fill="#000000"/>
<path d="M205.3 80.5h13.3v1.4h-13.3z" fill="#000000"/>
<path d="M205.3 81.8h13.3v1.4h-13.3z" fill="#000000"/>
<path d="M205.3 83.0h13.3v1.4h-13.3z" fill="#000000"/>
<path d="M205.3 84.2h13.3v1.4h-13.3z" fill="#000000"/>
<path d="M205.3 85.5h13.3v1.4h-13.3z" fill="#000000"/>
<path d="M205.3 86.8h13.3v1.4h-13.3z" fill="#000000"/>
<path d="M205.3 88.0h13.3v1.3h-13.3z" fill="#005f00"/>
<path d="M205.3 89.2h13.3v1.3h-13.3z" fill="#004600"/>
<path d="M205.3 90.4h13.3v1.3h-13.3z" fill="#005b00"/>
<path d="M205.3 91.6h13.3v1.3h-13.3z" fill="#004800"/>
<path d="M205.3 92.8h13.3v1.3h-13.3z" fill="#002700"/>
<path d="M205.3 94.0h13.3v1.3h-13.3z" fill="#005e00"/>
<path d="M205.3 95.2h13.3v1.3h-13.3z" fill="#002000"/>
<path d="M205.3 96.4h13.3v1.3h-13.3z" fill="#005100"/>
<path d="M205.3 97.6h13.3v1.3h-13.3z" fill="#002700"/>
<path d="M205.3 98.8h13.3v1.3h-13.3z" fill="#005a00"/>
<path d="M205.3 100.0h13.3v1.3h-13.3z" fill="#003e00"/>
<path d="M205.3 101.2h13.3v1.3h-13.3z" fill="#003c00"/>
<path d="M205.3 102.4h13.3v1.3h-13.3z" fill="#002600"/>
<path d="M205.3 103.6h13.3v1.3h-13.3z" fill="#005200"/>
<path d="M205.3 104.8h13.3v1.3h-13.3z" fill="#001f00"/>
<path d="M205.3 106.0h13.3v1.3h-13.3z" fill="#005500"/>
<path d="M205.3 107.2h13.3v1.3h-13.3z" fill="#006100"/>
<path d="M205.3 108.4h13.3v1.3h-13.3z" fill="#001d00"/>
<path d="M205.3 109.6h13.3v1.3h-13.3z" fill="#005300"/>
<path d="M205.3 110.8h13.3v1.3h-13.3z" fill="#004300"/>
<path d="M205.3 112.0h13.3v1.3h-13.3z" fill="#000f00"/>
<path d="M205.3 113.2h13.3v1.3h-13.3z" fill="#001b00"/>
<path d="M205.3 114.4h13.3v1.3h-13.3z" fill="#002100"/>
<path d="M205.3 115.6h13.3v1.3h-13.3z" fill="#001000"/>
<path d="M205.3 116.8h13.3v1.3h-13.3z" fill="#003f00"/>
<path d="M205.3 118.0h13.3v1.3h-13.3z" fill="#001f00"/>
<path d="M205.3 119.2h13.3v1.3h-13.3z" fill="#004600"/>
<path d="M205.3 120.4h13.3v1.3h-13.3z" fill="#001c00"/>
<path d="M205.3 121.6h13.3v1.3h-13.3z" fill="#002300"/>
<path d="M205.3 122.8h13.3v1.3h-13.3z" fill="#002600"/>
<path d="M205.3 124.0h13.3v1.3h-13.3z" fill="#001d00"/>
<path d="M205.3 125.2h13.3v1.3h-13.3z" fill="#001900"/>
<path d="M205.3 126.4h13.3v1.3h-13.3z" fill="#002200"/>
<path d="M205.3 127.6h13.3v1.3h-13.3z" fill="#002100"/>
<path d="M205.3 128.8h13.3v1.3h-13.3z" fill="#001d00"/>
<path d="M205.3 130.0h13.3v1.4h-13.3z" fill="#002200"/>
<path d="M205.3 131.3h13.3v1.4h-13.3z" fill="#002100"/>
<path d="M205.3 132.7h13.3v1.4h-13.3z" fill="#001000"/>
<path d="M205.3 134.0h13.3v1.4h-13.3z" fill="#002900"/>
<path d="M218.6 10.6h13.3v1.3h-13.3z" fill="#000000"/>
<path d="M218.6 11.8h13.3v1.3h-13.3z" fill="#000000"/>
<path d="M218.6 12.9h13.3v1.3h-13.3z" fill="#000000"/>
<path d="M218.6 14.1h13.3v1.3h-13.3z" fill="#000000"/>
<path d="M218.6 15.3h13.3v1.3h-13.3z" fill="#000000"/>
<path d="M218.6 16.5h13.3v1.3h-13.3z" fill="#000000"/>
<path d="M218.6 17.6h13.3v1.3h-13.3z" fill="#000000"/>
<path d="M218.6 18.8h13.3v1.3h-13.3z" fill="#000000"/>
<path d="M218.6 20.0h13.3v1.3h-13.3z" fill="#000000"/>
<path d="M218.6 21.1h13.3v1.3h-13.3z" fill="#000000"/>
<path d="M218.6 22.3h13.3v1.3h-13.3z" fill="#000000"/>
<path d="M218.6 23.5h13.3v1.3h-13.3z" fill="#000000"/>
<path d="M218.6 24.7h13.3v1.3h-13.3z" fill="#000000"/>
<path d="M218.6 25.8h13.3v1.3h-13.3z" fill="#000000"/>
<path d="M218.6 27.0h13.3v1.4h-13.3z" fill="#002600"/>
<path d="M218.6 28.2h13.3v1.4h-13.3z" fill="#002700"/>
<path d="M218.6 29.5h13.3v1.4h-13.3z" fill="#000b00"/>
<path d="M218.6 30.8h13.3v1.4h-13.3z" fill="#000800"/>
<path d="M218.6 32.0h13.3v1.4h-13.3z" fill="#001e00"/>
<path d="M218.6 33.2h13.3v1.4h-13.3z" fill="#000d00"/>
<path d="M218.6 34.5h13.3v1.4h-13.3z" fill="#002b00"/>
<path d="M218.6 35.8h13.3v1.4h-13.3z" fill="#000c00"/>
<path d="M218.6 37.0h13.3v1.4h-13.3z" fill="#000e00"/>
<path d="M218.6 38.2h13.3v1.4h-13.3z" fill="#002c00"/>
<path d="M218.6 39.5h13.3v1.4h-13.3z" fill="#000700"/>
<path d="M218.6 40.8h13.3v1.4h-13.3z" fill="#000d00"/>
<path d="M218.6 42.0h13.3v1.4h-13.3z" fill="#001e00"/>
<path d="M218.6 43.2h13.3v1.4h-13.3z" fill="#000c00"/>
<path d="M218.6 44.5h13.3v1.4h-13.3z" fill="#000f00"/>
<path d="M218.6 45.8h13.3v1.4h-13.3z" fill="#000f00"/>
<path d="M218.6 47.0h13.3v1.4h-13.3z" fill="#000e00"/>
<path d="M218.6 48.2h13.3v1.4h-13.3z" fill="#002b00"/>
<path d="M218.6 49.5h13.3v1.4h-13.3z" fill="#001b00"/>
<path d="M218.6 50.8h13.3v1.4h-13.3z" fill="#002b00"/>
<path d="M218.6 52.0h13.3v1.4h-13.3z" fill="#002300"/>
<path d="M218.6 53.2h13.3v1.4h-13.3z" fill="#002000"/>
<path d="M218.6 54.5h13.3v1.4h-13.3z" fill="#002200"/>
<path d="M218.6 55.8h13.3v1.4h-13.3z" fill="#001b00"/>
<path d="M218.6 57.0h13.3v1.3h-13.3z" fill="#000000"/>
<path d="M218.6 58.2h13.3v1.3h-13.3z" fill="#000000"/>
<path d="M218.6 59.5h13.3v1.3h-13.3z" fill="#000000"/>
<path d="M218.6 60.7h13.3v1.3h-13.3z" fill="#000000"/>
<path d="M218.6 61.9h13.3v1.3h-13.3z" fill="#000000"/>
<path d="M218.6 63.2h13.3v1.3h-13.3z" fill="#000000"/>
<path d="M218.6 64.4h13.3v1.3h-13.3z" fill="#000000"/>
<path d="M218.6 65.6h13.3v1.3h-13.3z" fill="#000000"/>
<path d="M218.6 66.8h13.3v1.3h-13.3z" fill="#000000"/>
<path d="M218.6 68.1h13.3v1.3h-13.3z" fill="#000000"/>
<path d="M218.6 69.3h13.3v1.3h-13.3z" fill="#000000"/>
<path d="M218.6 70.5h13.3v1.3h-13.3z" fill="#000000"/>
<path d="M218.6 71.8h13.3v1.3h-13.3z" fill="#000000"/>
<path d="M218.60 73.00h13.33v15.66h-13.33z" fill="#ff0000"/>
<path d="M218.6 88.6h13.3v1.3h-13.3z" fill="#002a00"/>
<path d="M218.6 89.8h13.3v1.3h-13.3z" fill="#000c00"/>
<path d="M218.6 90.9h13.3v1.3h-13.3z" fill="#002600"/>
<path d="M218.6 92.1h13.3v1.3h-13.3z" fill="#002000"/>
<path d="M218.6 93.3h13.3v1.3h-13.3z" fill="#002900"/>
<path d="M218.6 94.5h13.3v1.3h-13.3z" fill="#000900"/>
<path d="M218.6 95.6h13.3v1.3h-13.3z" fill="#000b00"/>
<path d="M218.6 96.8h13.3v1.3h-13.3z" fill="#002900"/>
<path d="M218.6 98.0h13.3v1.3h-13.3z" fill="#000800"/>
<path d="M218.6 99.1h13.3v1.3h-13.3z" fill="#000800"/>
<path d="M218.6 100.3h13.3v1.3h-13.3z" fill="#000700"/>
<path d="M218.6 101.5h13.3v1.3h-13.3z" fill="#002b00"/>
<path d="M218.6 102.7h13.3v1.3h-13.3z" fill="#002600"/>
<path d="M218.6 103.8h13.3v1.3h-13.3z" fill="#001000"/>
<path d="M218.6 105.0h13.3v1.3h-13.3z" fill="#000500"/>
<path d="M218.6 106.2h13.3v1.3h-13.3z" fill="#000f00"/>
<path d="M218.6 107.4h13.3v1.3h-13.3z" fill="#002000"/>
<path d="M218.6 108.6h13.3v1.3h-13.3z" fill="#000d00"/>
<path d="M218.6 109.8h13.3v1.3h-13.3z" fill="#002900"/>
<path d="M218.6 111.0h13.3v1.3h-13.3z" fill="#000600"/>
<path d="M218.6 112.1h13.3v1.3h-13.3z" fill="#000800"/>
<path d="M218.6 113.3h13.3v1.3h-13.3z" fill="#002700"/>
<path d="M218.6 114.5h13.3v1.3h-13.3z" fill="#001b00"/>
<path d="M218.6 115.7h13.3v1.3h-13.3z" fill="#002300"/>
<path d="M218.6 116.9h13.3v1.3h-13.3z" fill="#001e00"/>
<path d="M218.6 118.1h13.3v1.3h-13.3z" fill="#000800"/>
<path d="M218.6 119.3h13.3v1.3h-13.3z" fill="#002b00"/>
<path d="M218.6 120.5h13.3v1.3h-13.3z" fill="#000900"/>
<path d="M218.6 121.7h13.3v1.3h-13.3z" fill="#000500"/>
<path d="M218.6 122.9h13.3v1.3h-13.3z" fill="#000f00"/>
<path d="M218.6 124.0h13.3v1.3h-13.3z" fill="#001b00"/>
<path d="M218.6 125.2h13.3v1.3h-13.3z" fill="#000b00"/>
<path d="M218.6 126.4h13.3v1.3h-13.3z" fill="#000800"/>
<path d="M218.6 127.6h13.3v1.3h-13.3z" fill="#001e00"/>
<path d="M218.6 128.8h13.3v1.3h-13.3z" fill="#001000"/>
<path d="M218.6 130.0h13.3v1.4h-13.3z" fill="#000000"/>
<path d="M218.6 131.3h13.3v1.4h-13.3z" fill="#000000"/>
<path d="M218.6 132.7h13.3v1.4h-13.3z" fill="#000000"/>
<path d="M218.6 134.0h13.3v1.4h-13.3z" fill="#000000"/>
<path d="M231.9 10.6h13.3v1.3h-13.3z" fill="#000000"/>
<path d="M231.9 11.8h13.3v1.3h-13.3z" fill="#000000"/>
<path d="M231.9 12.9h13.3v1.3h-13.3z" fill="#000000"/>
<path d="M231.9 14.1h13.3v1.3h-13.3z" fill="#000000"/>
<path d="M231.9 15.3h13.3v1.3h-13.3z" fill="#000000"/>
<path d="M231.9 16.5h13.3v1.3h-13.3z" fill="#000000"/>
<path d="M231.9 17.6h13.3v1.3h-13.3z" fill="#000000"/>
<path d="M231.9 18.8h13.3v1.3h-13.3z" fill="#000000"/>
<path d="M231.9 20.0h13.3v1.3h-13.3z" fill="#000000"/>
<path d="M231.9 21.1h13.3v1.3h-13.3z" fill="#000000"/>
<path d="M231.9 22.3h13.3v1.3h-13.3z" fill="#000000"/>
<path d="M231.9 23.5h13.3v1.3h-13.3z" fill="#000000"/>
<path d="M231.9 24.7h13.3v1.3h-13.3z" fill="#000000"/>
<path d="M231.9 25.8h13.3v1.3h-13.3z" fill="#000000"/>
<path d="M231.9 27.0h13.3v1.4h-13.3z" fill="#005900"/>
<path d="M231.9 28.2h13.3v1.4h-13.3z" fill="#005d00"/>
<path d="M231.9 29.5h13.3v1.4h-13.3z" fill="#003e00"/>
<path d="M231.9 30.8h13.3v1.4h-13.3z" fill="#004100"/>
<path d="M231.9 32.0h13.3v1.4h-13.3z" fill="#001600"/>
<path d="M231.9 33.2h13.3v1.4h-13.3z" fill="#000d00"/>
<path d="M231.9 34.5h13.3v1.4h-13.3z" fill="#001f00"/>
<path d="M231.9 35.8h13.3v1.4h-13.3z" fill="#006000"/>
<path d="M231.9 37.0h13.3v1.4h-13.3z" fill="#001b00"/>
<path d="M231.9 38.2h13.3v1.4h-13.3z" fill="#001a00"/>
<path d="M231.9 39.5h13.3v1.4h-13.3z" fill="#004200"/>
<path d="M231.9 40.8h13.3v1.4h-13.3z" fill="#001900"/>
<path d="M231.9 42.0h13.3v1.4h-13.3z" fill="#002300"/>
<path d="M231.9 43.2h13.3v1.4h-13.3z" fill="#003c00"/>
<path d="M231.9 44.5h13.3v1.4h-13.3z" fill="#005d00"/>
<path d="M231.9 45.8h13.3v1.4h-13.3z" fill="#001c00"/>
<path d="M231.9 47.0h13.3v1.4h-13.3z" fill="#004300"/>
<path d="M231.9 48.2h13.3v1.4h-13.3z" fill="#005200"/>
<path d="M231.9 49.5h13.3v1.4h-13.3z" fill="#006100"/>
<path d="M231.9 50.8h13.3v1.4h-13.3z" fill="#005600"/>
<path d="M231.9 52.0h13.3v1.4h-13.3z" fill="#003e00"/>
<path d="M231.9 53.2h13.3v1.4h-13.3z" fill="#001900"/>
<path d="M231.9 54.5h13.3v1.4h-13.3z" fill="#004a00"/>
<path d="M231.9 55.8h13.3v1.4h-13.3z" fill="#005300"/>
<path d="M231.9 57.0h13.3v1.3h-13.3z" fill="#002200"/>
<path d="M231.9 58.2h13.3v1.3h-13.3z" fill="#002100"/>
<path d="M231.9 59.5h13.3v1.3h-13.3z" fill="#002500"/>
<path d="M231.9 60.7h13.3v1.3h-13.3z" fill="#000d00"/>
<path d="M231.9 61.9h13.3v1.3h-13.3z" fill="#000e00"/>
<path d="M231.9 63.2h13.3v1.3h-13.3z" fill="#002900"/>
<path d="M231.9 64.4h13.3v1.3h-13.3z" fill="#000a00"/>
<path d="M231.9 65.6h13.3v1.3h-13.3z" fill="#001c00"/>
<path d="M231.9 66.8h13.3v1.3h-13.3z" fill="#002b00"/>
<path d="M231.9 68.1h13.3v1.3h-13.3z" fill="#002800"/>
<path d="M231.9 69.3h13.3v1.3h-13.3z" fill="#002300"/>
<path d="M231.9 70.5h13.3v1.3h-13.3z" fill="#002a00"/>
<path d="M231.9 71.8h13.3v1.3h-13.3z" fill="#001f00"/>
<path d="M231.9 73.0h13.3v1.3h-13.3z" fill="#000000"/>
<path d="M231.9 74.2h13.3v1.3h-13.3z" fill="#000000"/>
<path d="M231.9 75.4h13.3v1.3h-13.3z" fill="#000000"/>
<path d="M231.9 76.6h13.3v1.3h-13.3z" fill="#000000"/>
<path d="M231.9 77.8h13.3v1.3h-13.3z" fill="#000000"/>
<path d="M231.9 79.0h13.3v1.3h-13.3z" fill="#000000"/>
<path d="M231.9 80.2h13.3v1.3h-13.3z" fill="#000000"/>
<path d="M231.9 81.4h13.3v1.3h-13.3z" fill="#000000"/>
<path d="M231.9 82.6h13.3v1.3h-13.3z" fill="#000000"/>
<path d="M231.9 83.8h13.3v1.3h-13.3z" fill="#000000"/>
<path d="M231.9 85.0h13.3v1.3h-13.3z" fill="#000000"/>
<path d="M231.9 86.2h13.3v1.3h-13.3z" fill="#000000"/>
<path d="M231.9 87.4h13.3v1.3h-13.3z" fill="#000000"/>
<path d="M231.88 88.60h13.33v15.26h-13.33z" fill="#ff0000"/>
<path d="M231.9 103.8h13.3v1.3h-13.3z" fill="#000000"/>
<path d="M231.9 105.0h13.3v1.3h-13.3z" fill="#000000"/>
<path d="M231.9 106.2h13.3v1.3h-13.3z" fill="#000000"/>
<path d="M231.9 107.4h13.3v1.3h-13.3z" fill="#000000"/>
<path d="M231.9 108.6h13.3v1.3h-13.3z" fill="#000000"/>
<path d="M231.9 109.9h13.3v1.3h-13.3z" fill="#000000"/>
<path d="M231.9 111.1h13.3v1.3h-13.3z" fill="#000000"/>
<path d="M231.9 112.3h13.3v1.3h-13.3z" fill="#000000"/>
<path d="M231.9 113.5h13.3v1.3h-13.3z" fill="#000000"/>
<path d="M231.9 114.7h13.3v1.3h-13.3z" fill="#000000"/>
<path d="M231.9 115.9h13.3v1.3h-13.3z" fill="#000000"/>
<path d="M231.9 117.1h13.3v1.3h-13.3z" fill="#000000"/>
<path d="M231.9 118.3h13.3v1.3h-13.3z" fill="#000000"/>
<path d="M231.9 119.6h13.3v1.3h-13.3z" fill="#000000"/>
<path d="M231.9 120.8h13.3v1.3h-13.3z" fill="#000000"/>
<path d="M231.9 122.0h13.3v1.3h-13.3z" fill="#000000"/>
<path d="M231.9 123.2h13.3v1.3h-13.3z" fill="#000000"/>
<path d="M231.9 124.4h13.3v1.3h-13.3z" fill="#000000"/>
<path d="M231.9 125.6h13.3v1.3h-13.3z" fill="#000000"/>
<path d="M231.9 126.8h13.3v1.3h-13.3z" fill="#000000"/>
<path d="M231.9 128.0h13.3v1.3h-13.3z" fill="#000000"/>
<path d="M231.9 129.2h13.3v1.3h-13.3z" fill="#000000"/>
<path d="M231.9 130.5h13.3v1.3h-13.3z" fill="#000000"/>
<path d="M231.9 131.7h13.3v1.3h-13.3z" fill="#000000"/>
<path d="M231.9 132.9h13.3v1.3h-13.3z" fill="#000000"/>
<path d="M231.9 134.1h13.3v1.3h-13.3z" fill="#000000"/>
<path d="M245.1 10.6h13.3v1.3h-13.3z" fill="#000000"/>
<path d="M245.1 11.8h13.3v1.3h-13.3z" fill="#000000"/>
<path d="M245.1 12.9h13.3v1.3h-13.3z" fill="#000000"/>
<path d="M245.1 14.1h13.3v1.3h-13.3z" fill="#000000"/>
<path d="M245.1 15.3h13.3v1.3h-13.3z" fill="#000000"/>
<path d="M245.1 16.5h13.3v1.3h-13.3z" fill="#000000"/>
<path d="M245.1 17.6h13.3v1.3h-13.3z" fill="#000000"/>
<path d="M245.1 18.8h13.3v1.3h-13.3z" fill="#000000"/>
<path d="M245.1 20.0h13.3v1.3h-13.3z" fill="#000000"/>
<path d="M245.1 21.1h13.3v1.3h-13.3z" fill="#000000"/>
<path d="M245.1 22.3h13.3v1.3h-13.3z" fill="#000000"/>
<path d="M245.1 23.5h13.3v1.3h-13.3z" fill="#000000"/>
<path d="M245.1 24.7h13.3v1.3h-13.3z" fill="#000000"/>
<path d="M245.1 25.8h13.3v1.3h-13.3z" fill="#000000"/>
<path d="M245.1 27.0h13.3v1.4h-13.3z" fill="#000e00"/>
<path d="M245.1 28.2h13.3v1.4h-13.3z" fill="#005600"/>
<path d="M245.1 29.5h13.3v1.4h-13.3z" fill="#003e00"/>
<path d="M245.1 30.8h13.3v1.4h-13.3z" fill="#001900"/>
<path d="M245.1 32.0h13.3v1.4h-13.3z" fill="#004400"/>
<path d="M245.1 33.2h13.3v1.4h-13.3z" fill="#004000"/>
<path d="M245.1 34.5h13.3v1.4h-13.3z" fill="#005e00"/>
<path d="M245.1 35.8h13.3v1.4h-13.3z" fill="#004b00"/>
<path d="M245.1 37.0h13.3v1.4h-13.3z" fill="#002200"/>
<path d="M245.1 38.2h13.3v1.4h-13.3z" fill="#001500"/>
<path d="M245.1 39.5h13.3v1.4h-13.3z" fill="#001f00"/>
<path d="M245.1 40.8h13.3v1.4h-13.3z" fill="#004d00"/>
<path d="M245.1 42.0h13.3v1.4h-13.3z" fill="#001900"/>
<path d="M245.1 43.2h13.3v1.4h-13.3z" fill="#003e00"/>
<path d="M245.1 44.5h13.3v1.4h-13.3z" fill="#006400"/>
<path d="M245.1 45.8h13.3v1.4h-13.3z" fill="#009e00"/>
<path d="M245.1 47.0h13.3v1.4h-13.3z" fill="#009e00"/>
<path d="M245.1 48.2h13.3v1.4h-13.3z" fill="#003300"/>
<path d="M245.1 49.5h13.3v1.4h-13.3z" fill="#006700"/>
<path d="M245.1 50.8h13.3v1.4h-13.3z" fill="#003d00"/>
<path d="M245.1 52.0h13.3v1.4h-13.3z" fill="#002e00"/>
<path d="M245.1 53.2h13.3v1.4h-13.3z" fill="#008d00"/>
<path d="M245.1 54.5h13.3v1.4h-13.3z" fill="#007300"/>
<path d="M245.1 55.8h13.3v1.4h-13.3z" fill="#006800"/>
<path d="M245.1 57.0h13.3v1.4h-13.3z" fill="#002900"/>
<path d="M245.1 58.2h13.3v1.4h-13.3z" fill="#006200"/>
<path d="M245.1 59.5h13.3v1.4h-13.3z" fill="#002300"/>
<path d="M245.1 60.8h13.3v1.4h-13.3z" fill="#003b00"/>
<path d="M245.1 62.0h13.3v1.4h-13.3z" fill="#002d00"/>
<path d="M245.1 63.2h13.3v1.4h-13.3z" fill="#003900"/>
<path d="M245.1 64.5h13.3v1.4h-13.3z" fill="#009900"/>
<path d="M245.1 65.8h13.3v1.4h-13.3z" fill="#002e00"/>
<path d="M245.1 67.0h13.3v1.4h-13.3z" fill="#009a00"/>
<path d="M245.1 68.2h13.3v1.4h-13.3z" fill="#007e00"/>
<path d="M245.1 69.5h13.3v1.4h-13.3z" fill="#001300"/>
<path d="M245.1 70.8h13.3v1.4h-13.3z" fill="#001f00"/>
<path d="M245.1 72.0h13.3v1.3h-13.3z" fill="#004c00"/>
<path d="M245.1 73.2h13.3v1.3h-13.3z" fill="#004600"/>
<path d="M245.1 74.4h13.3v1.3h-13.3z" fill="#006000"/>
<path d="M245.1 75.5h13.3v1.3h-13.3z" fill="#001600"/>
<path d="M245.1 76.7h13.3v1.3h-13.3z" fill="#001700"/>
<path d="M245.1 77.9h13.3v1.3h-13.3z" fill="#002000"/>
<path d="M245.1 79.1h13.3v1.3h-13.3z" fill="#001f00"/>
<path d="M245.1 80.3h13.3v1.3h-13.3z" fill="#001f00"/>
<path d="M245.1 81.5h13.3v1.3h-13.3z" fill="#004700"/>
<path d="M245.1 82.6h13.3v1.3h-13.3z" fill="#005e00"/>
<path d="M245.1 83.8h13.3v1.3h-13.3z" fill="#005700"/>
<path d="M245.1 85.0h13.3v1.3h-13.3z" fill="#000c00"/>
<path d="M245.1 86.2h13.3v1.3h-13.3z" fill="#002000"/>
<path d="M245.1 87.3h13.3v1.3h-13.3z" fill="#002900"/>
<path d="M245.1 88.5h13.3v1.3h-13.3z" fill="#002800"/>
<path d="M245.1 89.7h13.3v1.3h-13.3z" fill="#000f00"/>
<path d="M245.1 90.9h13.3v1.3h-13.3z" fill="#000e00"/>
<path d="M245.1 92.0h13.3v1.3h-13.3z" fill="#002200"/>
<path d="M245.1 93.2h13.3v1.3h-13.3z" fill="#002a00"/>
<path d="M245.1 94.4h13.3v1.3h-13.3z" fill="#001b00"/>
<path d="M245.1 95.6h13.3v1.3h-13.3z" fill="#002800"/>
<path d="M245.1 96.8h13.3v1.3h-13.3z" fill="#002800"/>
<path d="M245.1 97.9h13.3v1.3h-13.3z" fill="#000a00"/>
<path d="M245.1 99.1h13.3v1.3h-13.3z" fill="#001100"/>
<path d="M245.1 100.3h13.3v1.3h-13.3z" fill="#002400"/>
<path d="M245.1 101.4h13.3v1.3h-13.3z" fill="#002900"/>
<path d="M245.1 102.6h13.3v1.3h-13.3z" fill="#000c00"/>
<path d="M245.15 103.80h13.33v15.86h-13.33z" fill="#ff0000"/>
<path d="M245.1 119.6h13.3v1.3h-13.3z" fill="#000000"/>
<path d="M245.1 120.8h13.3v1.3h-13.3z" fill="#000000"/>
<path d="M245.1 122.0h13.3v1.3h-13.3z" fill="#000000"/>
<path d="M245.1 123.2h13.3v1.3h-13.3z" fill="#000000"/>
<path d="M245.1 124.4h13.3v1.3h-13.3z" fill="#000000"/>
<path d="M245.1 125.6h13.3v1.3h-13.3z" fill="#000000"/>
<path d="M245.1 126.8h13.3v1.3h-13.3z" fill="#000000"/>
<path d="M245.1 128.1h13.3v1.3h-13.3z" fill="#000000"/>
<path d="M245.1 129.3h13.3v1.3h-13.3z" fill="#000000"/>
<path d="M245.1 130.5h13.3v1.3h-13.3z" fill="#000000"/>
<path d="M245.1 131.7h13.3v1.3h-13.3z" fill="#000000"/>
<path d="M245.1 132.9h13.3v1.3h-13.3z" fill="#000000"/>
<path d="M245.1 134.1h13.3v1.3h-13.3z" fill="#000000"/>
<path d="M258.4 10.6h13.3v1.3h-13.3z" fill="#000000"/>
<path d="M258.4 11.8h13.3v1.3h-13.3z" fill="#000000"/>
<path d="M258.4 12.9h13.3v1.3h-13.3z" fill="#000000"/>
<path d="M258.4 14.1h13.3v1.3h-13.3z" fill="#000000"/>
<path d="M258.4 15.3h13.3v1.3h-13.3z" fill="#000000"/>
<path d="M258.4 16.5h13.3v1.3h-13.3z" fill="#000000"/>
<path d="M258.4 17.6h13.3v1.3h-13.3z" fill="#000000"/>
<path d="M258.4 18.8h13.3v1.3h-13.3z" fill="#000000"/>
<path d="M258.4 20.0h13.3v1.3h-13.3z" fill="#000000"/>
<path d="M258.4 21.1h13.3v1.3h-13.3z" fill="#000000"/>
<path d="M258.4 22.3h13.3v1.3h-13.3z" fill="#000000"/>
<path d="M258.4 23.5h13.3v1.3h-13.3z" fill="#000000"/>
<path d="M258.4 24.7h13.3v1.3h-13.3z" fill="#000000"/>
<path d="M258.4 25.8h13.3v1.3h-13.3z" fill="#000000"/>
<path d="M258.4 27.0h13.3v1.4h-13.3z" fill="#005f00"/>
<path d="M258.4 28.2h13.3v1.4h-13.3z" fill="#004200"/>
<path d="M258.4 29.5h13.3v1.4h-13.3z" fill="#004b00"/>
<path d="M258.4 30.8h13.3v1.4h-13.3z" fill="#005b00"/>
<path d="M258.4 32.0h13.3v1.4h-13.3z" fill="#004900"/>
<path d="M258.4 33.2h13.3v1.4h-13.3z" fill="#006100"/>
<path d="M258.4 34.5h13.3v1.4h-13.3z" fill="#003d00"/>
<path d="M258.4 35.8h13.3v1.4h-13.3z" fill="#001c00"/>
<path d="M258.4 37.0h13.3v1.4h-13.3z" fill="#000e00"/>
<path d="M258.4 38.2h13.3v1.4h-13.3z" fill="#003d00"/>
<path d="M258.4 39.5h13.3v1.4h-13.3z" fill="#001400"/>
<path d="M258.4 40.8h13.3v1.4h-13.3z" fill="#006100"/>
<path d="M258.4 42.0h13.3v1.4h-13.3z" fill="#007d00"/>
<path d="M258.4 43.2h13.3v1.4h-13.3z" fill="#003e00"/>
<path d="M258.4 44.5h13.3v1.4h-13.3z" fill="#002f00"/>
<path d="M258.4 45.8h13.3v1.4h-13.3z" fill="#008000"/>
<path d="M258.4 47.0h13.3v1.4h-13.3z" fill="#009c00"/>
<path d="M258.4 48.2h13.3v1.4h-13.3z" fill="#003200"/>
<path d="M258.4 49.5h13.3v1.4h-13.3z" fill="#002600"/>
<path d="M258.4 50.8h13.3v1.4h-13.3z" fill="#007100"/>
<path d="M258.4 52.0h13.3v1.4h-13.3z" fill="#003500"/>
<path d="M258.4 53.2h13.3v1.4h-13.3z" fill="#003c00"/>
<path d="M258.4 54.5h13.3v1.4h-13.3z" fill="#001d00"/>
<path d="M258.4 55.8h13.3v1.4h-13.3z" fill="#006e00"/>
<path d="M258.4 57.0h13.3v1.3h-13.3z" fill="#007600"/>
<path d="M258.4 58.2h13.3v1.3h-13.3z" fill="#003100"/>
<path d="M258.4 59.3h13.3v1.3h-13.3z" fill="#002f00"/>
<path d="M258.4 60.5h13.3v1.3h-13.3z" fill="#001500"/>
<path d="M258.4 61.7h13.3v1.3h-13.3z" fill="#002a00"/>
<path d="M258.4 62.8h13.3v1.3h-13.3z" fill="#001c00"/>
<path d="M258.4 64.0h13.3v1.2h-13.3z" fill="#119211"/>
<path d="M258.4 65.1h13.3v1.2h-13.3z" fill="#094c09"/>
<path d="M258.4 66.3h13.3v1.2h-13.3z" fill="#16be16"/>
<path d="M258.4 67.4h13.3v1.2h-13.3z" fill="#084608"/>
<path d="M258.4 68.6h13.3v1.2h-13.3z" fill="#084808"/>
<path d="M258.4 69.7h13.3v1.2h-13.3z" fill="#042604"/>
<path d="M258.4 70.9h13.3v1.2h-13.3z" fill="#032103"/>
<path d="M258.4 72.0h13.3v1.3h-13.3z" fill="#009400"/>
<path d="M258.4 73.2h13.3v1.3h-13.3z" fill="#009300"/>
<path d="M258.4 74.5h13.3v1.3h-13.3z" fill="#001f00"/>
<path d="M258.4 75.7h13.3v1.3h-13.3z" fill="#007400"/>
<path d="M258.4 76.9h13.3v1.3h-13.3z" fill="#008400"/>
<path d="M258.4 78.2h13.3v1.3h-13.3z" fill="#001d00"/>
<path d="M258.4 79.4h13.3v1.3h-13.3z" fill="#009900"/>
<path d="M258.4 80.6h13.3v1.3h-13.3z" fill="#006100"/>
<path d="M258.4 81.8h13.3v1.3h-13.3z" fill="#003d00"/>
<path d="M258.4 83.1h13.3v1.3h-13.3z" fill="#008c00"/>
<path d="M258.4 84.3h13.3v1.3h-13.3z" fill="#003b00"/>
<path d="M258.4 85.5h13.3v1.3h-13.3z" fill="#003200"/>
<path d="M258.4 86.8h13.3v1.3h-13.3z" fill="#007700"/>
<path d="M258.4 88.0h13.3v1.4h-13.3z" fill="#001e00"/>
<path d="M258.4 89.2h13.3v1.4h-13.3z" fill="#002b00"/>
<path d="M258.4 90.5h13.3v1.4h-13.3z" fill="#000900"/>
<path d="M258.4 91.8h13.3v1.4h-13.3z" fill="#002100"/>
<path d="M258.4 93.0h13.3v1.4h-13.3z" fill="#002700"/>
<path d="M258.4 94.2h13.3v1.4h-13.3z" fill="#002800"/>
<path d="M258.4 95.5h13.3v1.4h-13.3z" fill="#000900"/>
<path d="M258.4 96.8h13.3v1.4h-13.3z" fill="#000f00"/>
<path d="M258.4 98.0h13.3v1.4h-13.3z" fill="#490000"/>
<path d="M258.4 99.2h13.3v1.4h-13.3z" fill="#4e0000"/>
<path d="M258.4 100.5h13.3v1.4h-13.3z" fill="#0d0000"/>
<path d="M258.4 101.8h13.3v1.4h-13.3z" fill="#680000"/>
<path d="M258.4 103.0h13.3v1.3h-13.3z" fill="#000e00"/>
<path d="M258.4 104.2h13.3v1.3h-13.3z" fill="#002400"/>
<path d="M258.4 105.4h13.3v1.3h-13.3z" fill="#002200"/>
<path d="M258.4 106.6h13.3v1.3h-13.3z" fill="#001c00"/>
<path d="M258.4 107.7h13.3v1.3h-13.3z" fill="#000c00"/>
<path d="M258.4 108.9h13.3v1.3h-13.3z" fill="#002300"/>
<path d="M258.4 110.1h13.3v1.3h-13.3z" fill="#002300"/>
<path d="M258.4 111.3h13.3v1.3h-13.3z" fill="#000f00"/>
<path d="M258.4 112.5h13.3v1.3h-13.3z" fill="#002b00"/>
<path d="M258.4 113.7h13.3v1.3h-13.3z" fill="#001e00"/>
<path d="M258.4 114.9h13.3v1.3h-13.3z" fill="#000c00"/>
<path d="M258.4 116.0h13.3v1.3h-13.3z" fill="#000900"/>
<path d="M258.4 117.2h13.3v1.3h-13.3z" fill="#001f00"/>
<path d="M258.4 118.4h13.3v1.3h-13.3z" fill="#002000"/>
<path d="M258.42 119.60h13.33v15.76h-13.33z" fill="#ff0000"/>
<path d="M288.20 11.20h13.49v15.36h-13.49z" fill="#ff0000"/>
<path d="M288.2 26.5h13.4v1.6h-13.4z" fill="#160000"/>
<path d="M288.2 28.0h13.4v1.1h-13.4z" fill="#8e0000"/>
<path d="M288.2 29.0h13.4v1.1h-13.4z" fill="#c10000"/>
<path d="M288.2 30.0h13.4v1.6h-13.4z" fill="#000000"/>
<path d="M288.2 31.5h13.4v1.6h-13.4z" fill="#342f07"/>
<path d="M288.2 33.0h13.4v1.1h-13.4z" fill="#920000"/>
<path d="M288.2 34.0h13.4v1.1h-13.4z" fill="#2d0000"/>
<path d="M288.2 35.0h13.4v1.1h-13.4z" fill="#865500"/>
<path d="M288.2 36.0h13.4v1.1h-13.4z" fill="#6d4500"/>
<path d="M288.2 37.0h13.4v1.1h-13.4z" fill="#490000"/>
<path d="M288.2 38.0h13.4v1.1h-13.4z" fill="#380000"/>
<path d="M288.2 39.0h13.4v1.1h-13.4z" fill="#633f00"/>
<path d="M288.2 40.0h13.4v1.1h-13.4z" fill="#633f00"/>
<path d="M288.2 41.0h13.4v1.1h-13.4z" fill="#cd0000"/>
<path d="M288.2 42.0h13.4v1.1h-13.4z" fill="#ff0000"/>
<path d="M288.2 43.0h13.4v1.1h-13.4z" fill="#0d0000"/>
<path d="M288.2 44.0h13.4v1.1h-13.4z" fill="#170000"/>
<path d="M288.2 45.0h13.4v1.1h-13.4z" fill="#000000"/>
<path d="M288.2 46.0h13.4v1.1h-13.4z" fill="#000000"/>
<path d="M288.2 47.0h13.4v1.1h-13.4z" fill="#003000"/>
<path d="M288.2 48.0h13.4v1.1h-13.4z" fill="#002b00"/>
<path d="M288.2 49.0h13.4v1.1h-13.4z" fill="#007300"/>
<path d="M288.2 50.0h13.4v1.1h-13.4z" fill="#480000"/>
<path d="M288.2 51.0h13.4v1.1h-13.4z" fill="#4c0000"/>
<path d="M288.2 52.0h13.4v1.1h-13.4z" fill="#001a00"/>
<path d="M288.2 53.0h13.4v1.1h-13.4z" fill="#00c400"/>
<path d="M288.2 54.0h13.4v1.1h-13.4z" fill="#000000"/>
<path d="M288.2 55.0h13.4v1.1h-13.4z" fill="#000000"/>
<path d="M288.2 56.0h13.4v1.1h-13.4z" fill="#003800"/>
<path d="M288.2 57.0h13.4v1.1h-13.4z" fill="#002e00"/>
<path d="M288.2 58.0h13.4v1.1h-13.4z" fill="#008800"/>
<path d="M288.2 59.0h13.4v1.1h-13.4z" fill="#007f00"/>
<path d="M288.2 60.0h13.4v1.1h-13.4z" fill="#684200"/>
<path d="M288.2 61.0h13.4v1.1h-13.4z" fill="#7d4f00"/>
<path d="M288.2 62.0h13.4v1.1h-13.4z" fill="#003000"/>
<path d="M288.2 63.0h13.4v1.1h-13.4z" fill="#006300"/>
<path d="M288.2 64.0h13.4v1.1h-13.4z" fill="#000000"/>
<path d="M288.2 65.0h13.4v1.1h-13.4z" fill="#000000"/>
<path d="M288.2 66.0h13.4v1.1h-13.4z" fill="#008e00"/>
<path d="M288.2 67.0h13.4v1.1h-13.4z" fill="#001c00"/>
<path d="M288.2 68.0h13.4v1.1h-13.4z" fill="#003200"/>
<path d="M288.2 69.0h13.4v1.1h-13.4z" fill="#002800"/>
<path d="M288.2 70.0h13.4v1.1h-13.4z" fill="#000000"/>
<path d="M288.2 71.0h13.4v1.1h-13.4z" fill="#000000"/>
<path d="M288.2 72.0h13.4v1.3h-13.4z" fill="#032203"/>
<path d="M288.2 73.2h13.4v1.3h-13.4z" fill="#0f9e0f"/>
<path d="M288.2 74.4h13.4v1.3h-13.4z" fill="#0f9d0f"/>
<path d="M288.2 75.6h13.4v1.3h-13.4z" fill="#0fa70f"/>
<path d="M288.2 76.8h13.4v1.3h-13.4z" fill="#075207"/>
<path d="M288.2 78.0h13.4v1.1h-13.4z" fill="#004300"/>
<path d="M288.2 79.0h13.4v1.1h-13.4z" fill="#00ab00"/>
<path d="M288.2 80.0h13.4v1.1h-13.4z" fill="#000000"/>
<path d="M288.2 81.0h13.4v1.1h-13.4z" fill="#000000"/>
<path d="M288.2 82.0h13.4v1.6h-13.4z" fill="#001800"/>
<path d="M288.2 83.5h13.4v1.6h-13.4z" fill="#00a900"/>
<path d="M288.2 85.0h13.4v1.6h-13.4z" fill="#000000"/>
<path d="M288.2 86.5h13.4v1.6h-13.4z" fill="#000000"/>
<path d="M288.2 88.0h13.4v1.4h-13.4z" fill="#13c913"/>
<path d="M288.2 89.3h13.4v1.4h-13.4z" fill="#032603"/>
<path d="M288.2 90.7h13.4v1.4h-13.4z" fill="#14d614"/>
<path d="M288.2 92.0h13.4v1.1h-13.4z" fill="#000000"/>
<path d="M288.2 93.0h13.4v1.1h-13.4z" fill="#000000"/>
<path d="M288.2 94.0h13.4v1.6h-13.4z" fill="#008b00"/>
<path d="M288.2 95.5h13.4v1.6h-13.4z" fill="#002600"/>
<path d="M288.2 97.0h13.4v1.6h-13.4z" fill="#10ac10"/>
<path d="M288.2 98.5h13.4v1.6h-13.4z" fill="#12c312"/>
<path d="M288.2 100.0h13.4v1.6h-13.4z" fill="#00a000"/>
<path d="M288.2 101.5h13.4v1.6h-13.4z" fill="#004800"/>
<path d="M288.2 103.0h13.4v1.1h-13.4z" fill="#000000"/>
<path d="M288.2 104.0h13.4v1.1h-13.4z" fill="#000000"/>
<path d="M288.2 105.0h13.4v1.6h-13.4z" fill="#10ae10"/>
<path d="M288.2 106.5h13.4v1.6h-13.4z" fill="#15dd15"/>
<path d="M288.2 108.0h13.4v1.1h-13.4z" fill="#008c00"/>
<path d="M288.2 109.0h13.4v1.1h-13.4z" fill="#009600"/>
<path d="M288.2 110.0h13.4v1.6h-13.4z" fill="#003500"/>
<path d="M288.2 111.5h13.4v1.6h-13.4z" fill="#003600"/>
<path d="M288.2 113.0h13.4v1.6h-13.4z" fill="#00bc00"/>
<path d="M288.2 114.5h13.4v1.6h-13.4z" fill="#00bc00"/>
<path d="M288.2 116.0h13.4v1.6h-13.4z" fill="#11bb11"/>
<path d="M288.2 117.5h13.4v1.6h-13.4z" fill="#085e08"/>
<path d="M288.2 119.0h13.4v1.1h-13.4z" fill="#005200"/>
<path d="M288.2 120.0h13.4v1.1h-13.4z" fill="#005200"/>
<path d="M288.2 121.0h13.4v1.6h-13.4z" fill="#002600"/>
<path d="M288.2 122.5h13.4v1.6h-13.4z" fill="#008800"/>
<path d="M288.2 124.0h13.4v1.6h-13.4z" fill="#002200"/>
<path d="M288.2 125.5h13.4v1.6h-13.4z" fill="#002100"/>
<path d="M288.2 127.0h13.4v1.6h-13.4z" fill="#000000"/>
<path d="M288.2 128.5h13.4v1.6h-13.4z" fill="#000000"/>
<path d="M288.2 130.0h13.4v1.6h-13.4z" fill="#694300"/>
<path d="M288.2 131.5h13.4v1.6h-13.4z" fill="#734900"/>
<path d="M288.2 133.0h13.4v1.4h-13.4z" fill="#005400"/>
<path d="M288.2 134.3h13.4v1.4h-13.4z" fill="#005e00"/>
<path d="M301.6 11.2h13.4v1.3h-13.4z" fill="#000000"/>
<path d="M301.6 12.4h13.4v1.3h-13.4z" fill="#000000"/>
<path d="M301.6 13.7h13.4v1.3h-13.4z" fill="#000000"/>
<path d="M301.6 14.9h13.4v1.3h-13.4z" fill="#000000"/>
<path d="M301.6 16.1h13.4v1.3h-13.4z" fill="#000000"/>
<path d="M301.6 17.4h13.4v1.3h-13.4z" fill="#000000"/>
<path d="M301.6 18.6h13.4v1.3h-13.4z" fill="#000000"/>
<path d="M301.6 19.8h13.4v1.3h-13.4z" fill="#000000"/>
<path d="M301.6 21.1h13.4v1.3h-13.4z" fill="#000000"/>
<path d="M301.6 22.3h13.4v1.3h-13.4z" fill="#000000"/>
<path d="M301.6 23.5h13.4v1.3h-13.4z" fill="#000000"/>
<path d="M301.6 24.8h13.4v1.3h-13.4z" fill="#000000"/>
<path d="M301.6 26.0h13.4v1.1h-13.4z" fill="#470000"/>
<path d="M301.6 27.0h13.4v1.1h-13.4z" fill="#5c0000"/>
<path d="M301.6 28.0h13.4v1.1h-13.4z" fill="#000000"/>
<path d="M301.6 29.0h13.4v1.1h-13.4z" fill="#000000"/>
<path d="M301.6 30.0h13.4v1.1h-13.4z" fill="#270000"/>
<path d="M301.6 31.0h13.4v1.1h-13.4z" fill="#7c0000"/>
<path d="M301.6 32.0h13.4v1.1h-13.4z" fill="#000000"/>
<path d="M301.6 33.0h13.4v1.1h-13.4z" fill="#000000"/>
<path d="M301.6 34.0h13.4v1.1h-13.4z" fill="#8d0000"/>
<path d="M301.6 35.0h13.4v1.1h-13.4z" fill="#7d0000"/>
<path d="M301.6 36.0h13.4v1.1h-13.4z" fill="#230000"/>
<path d="M301.6 37.0h13.4v1.1h-13.4z" fill="#480000"/>
<path d="M301.6 38.0h13.4v1.6h-13.4z" fill="#bb0000"/>
<path d="M301.6 39.5h13.4v1.6h-13.4z" fill="#1b0000"/>
<path d="M301.6 41.0h13.4v1.1h-13.4z" fill="#000000"/>
<path d="M301.6 42.0h13.4v1.1h-13.4z" fill="#000000"/>
<path d="M301.6 43.0h13.4v1.1h-13.4z" fill="#5d0000"/>
<path d="M301.6 44.0h13.4v1.1h-13.4z" fill="#ff0000"/>
<path d="M301.6 45.0h13.4v1.1h-13.4z" fill="#000000"/>
<path d="M301.6 46.0h13.4v1.1h-13.4z" fill="#000000"/>
<path d="M301.6 47.0h13.4v1.2h-13.4z" fill="#c90000"/>
<path d="M301.6 48.1h13.4v1.2h-13.4z" fill="#d60000"/>
<path d="M301.6 49.2h13.4v1.2h-13.4z" fill="#f60000"/>
<path d="M301.6 50.4h13.4v1.2h-13.4z" fill="#ff0000"/>
<path d="M301.6 51.5h13.4v1.2h-13.4z" fill="#ff0000"/>
<path d="M301.6 52.6h13.4v1.2h-13.4z" fill="#ce0000"/>
<path d="M301.6 53.8h13.4v1.2h-13.4z" fill="#ff0000"/>
<path d="M301.6 54.9h13.4v1.2h-13.4z" fill="#f70000"/>
<path d="M301.6 56.0h13.4v1.1h-13.4z" fill="#000000"/>
<path d="M301.6 57.0h13.4v1.1h-13.4z" fill="#000000"/>
<path d="M301.6 58.0h13.4v1.6h-13.4z" fill="#280000"/>
<path d="M301.6 59.5h13.4v1.6h-13.4z" fill="#640000"/>
<path d="M301.6 61.0h13.4v1.1h-13.4z" fill="#764b00"/>
<path d="M301.6 62.0h13.4v1.1h-13.4z" fill="#674100"/>
<path d="M301.6 63.0h13.4v1.1h-13.4z" fill="#000000"/>
<path d="M301.6 64.0h13.4v1.1h-13.4z" fill="#000000"/>
<path d="M301.6 65.0h13.4v1.6h-13.4z" fill="#3a0000"/>
<path d="M301.6 66.5h13.4v1.6h-13.4z" fill="#460000"/>
<path d="M301.6 68.0h13.4v1.1h-13.4z" fill="#130000"/>
<path d="M301.6 69.0h13.4v1.1h-13.4z" fill="#480000"/>
<path d="M301.6 70.0h13.4v1.1h-13.4z" fill="#9f0000"/>
<path d="M301.6 71.0h13.4v1.1h-13.4z" fill="#230000"/>
<path d="M301.6 72.0h13.4v1.6h-13.4z" fill="#4c0000"/>
<path d="M301.6 73.5h13.4v1.6h-13.4z" fill="#130000"/>
<path d="M301.6 75.0h13.4v1.4h-13.4z" fill="#420000"/>
<path d="M301.6 76.2h13.4v1.4h-13.4z" fill="#8b0000"/>
<path d="M301.6 77.5h13.4v1.4h-13.4z" fill="#340000"/>
<path d="M301.6 78.8h13.4v1.4h-13.4z" fill="#c30000"/>
<path d="M301.6 80.0h13.4v1.4h-13.4z" fill="#400000"/>
<path d="M301.6 81.3h13.4v1.4h-13.4z" fill="#540000"/>
<path d="M301.6 82.7h13.4v1.4h-13.4z" fill="#510000"/>
<path d="M301.6 84.0h13.4v1.1h-13.4z" fill="#734900"/>
<path d="M301.6 85.0h13.4v1.1h-13.4z" fill="#875600"/>
<path d="M301.6 86.0h13.4v1.6h-13.4z" fill="#400000"/>
<path d="M301.6 87.5h13.4v1.6h-13.4z" fill="#680000"/>
<path d="M301.6 89.0h13.4v1.1h-13.4z" fill="#008700"/>
<path d="M301.6 90.0h13.4v1.6h-13.4z" fill="#543500"/>
<path d="M301.6 91.5h13.4v1.6h-13.4z" fill="#593900"/>
<path d="M301.6 93.0h13.4v1.4h-13.4z" fill="#008600"/>
<path d="M301.6 94.2h13.4v1.4h-13.4z" fill="#002600"/>
<path d="M301.6 95.5h13.4v1.4h-13.4z" fill="#00af00"/>
<path d="M301.6 96.8h13.4v1.4h-13.4z" fill="#007d00"/>
<path d="M301.6 98.0h13.4v1.4h-13.4z" fill="#00bb00"/>
<path d="M301.6 99.2h13.4v1.4h-13.4z" fill="#007b00"/>
<path d="M301.6 100.5h13.4v1.4h-13.4z" fill="#00c500"/>
<path d="M301.6 101.8h13.4v1.4h-13.4z" fill="#008500"/>
<path d="M301.6 103.0h13.4v1.1h-13.4z" fill="#000000"/>
<path d="M301.6 104.0h13.4v1.1h-13.4z" fill="#000000"/>
<path d="M301.6 105.0h13.4v1.6h-13.4z" fill="#003400"/>
<path d="M301.6 106.5h13.4v1.6h-13.4z" fill="#002f00"/>
<path d="M301.6 108.0h13.4v1.1h-13.4z" fill="#005600"/>
<path d="M301.6 109.0h13.4v1.1h-13.4z" fill="#005500"/>
<path d="M301.6 110.0h13.4v1.6h-13.4z" fill="#000000"/>
<path d="M301.6 111.5h13.4v1.6h-13.4z" fill="#000000"/>
<path d="M301.6 113.0h13.4v1.3h-13.4z" fill="#007f00"/>
<path d="M301.6 114.2h13.4v1.3h-13.4z" fill="#008600"/>
<path d="M301.6 115.3h13.4v1.3h-13.4z" fill="#009800"/>
<path d="M301.6 116.5h13.4v1.3h-13.4z" fill="#003600"/>
<path d="M301.6 117.7h13.4v1.3h-13.4z" fill="#00b100"/>
<path d="M301.6 118.8h13.4v1.3h-13.4z" fill="#004c00"/>
<path d="M301.6 120.0h13.4v1.6h-13.4z" fill="#005c00"/>
<path d="M301.6 121.5h13.4v1.6h-13.4z" fill="#005400"/>
<path d="M301.6 123.0h13.4v1.4h-13.4z" fill="#00bb00"/>
<path d="M301.6 124.3h13.4v1.4h-13.4z" fill="#002e00"/>
<path d="M301.6 125.7h13.4v1.4h-13.4z" fill="#002300"/>
<path d="M301.6 127.0h13.4v1.6h-13.4z" fill="#000000"/>
<path d="M301.6 128.5h13.4v1.6h-13.4z" fill="#000000"/>
<path d="M301.6 130.0h13.4v1.1h-13.4z" fill="#16ed16"/>
<path d="M301.6 131.0h13.4v1.1h-13.4z" fill="#10af10"/>
<path d="M301.6 132.0h13.4v1.3h-13.4z" fill="#007900"/>
<path d="M301.6 133.2h13.4v1.3h-13.4z" fill="#001a00"/>
<path d="M301.6 134.4h13.4v1.3h-13.4z" fill="#007b00"/>
<path d="M315.1 11.2h13.4v1.4h-13.4z" fill="#000000"/>
<path d="M315.1 12.5h13.4v1.4h-13.4z" fill="#000000"/>
<path d="M315.1 13.7h13.4v1.4h-13.4z" fill="#000000"/>
<path d="M315.1 15.0h13.4v1.1h-13.4z" fill="#002d00"/>
<path d="M315.1 16.0h13.4v1.3h-13.4z" fill="#000000"/>
<path d="M315.1 17.2h13.4v1.3h-13.4z" fill="#000000"/>
<path d="M315.1 18.4h13.4v1.3h-13.4z" fill="#000000"/>
<path d="M315.1 19.6h13.4v1.3h-13.4z" fill="#000000"/>
<path d="M315.1 20.8h13.4v1.3h-13.4z" fill="#000000"/>
<path d="M315.1 22.0h13.4v1.1h-13.4z" fill="#002a00"/>
<path d="M315.1 23.0h13.4v1.1h-13.4z" fill="#002b00"/>
<path d="M315.1 24.0h13.4v1.4h-13.4z" fill="#000000"/>
<path d="M315.1 25.3h13.4v1.4h-13.4z" fill="#000000"/>
<path d="M315.1 26.7h13.4v1.4h-13.4z" fill="#000000"/>
<path d="M315.1 28.0h13.4v1.1h-13.4z" fill="#003100"/>
<path d="M315.1 29.0h13.4v1.1h-13.4z" fill="#002500"/>
<path d="M315.1 30.0h13.4v1.4h-13.4z" fill="#000000"/>
<path d="M315.1 31.2h13.4v1.4h-13.4z" fill="#000000"/>
<path d="M315.1 32.5h13.4v1.4h-13.4z" fill="#000000"/>
<path d="M315.1 33.8h13.4v1.4h-13.4z" fill="#000000"/>
<path d="M315.1 35.0h13.4v1.1h-13.4z" fill="#100000"/>
<path d="M315.1 36.0h13.4v1.2h-13.4z" fill="#000000"/>
<path d="M315.1 37.1h13.4v1.2h-13.4z" fill="#000000"/>
<path d="M315.1 38.2h13.4v1.2h-13.4z" fill="#000000"/>
<path d="M315.1 39.4h13.4v1.2h-13.4z" fill="#000000"/>
<path d="M315.1 40.5h13.4v1.2h-13.4z" fill="#000000"/>
<path d="M315.1 41.6h13.4v1.2h-13.4z" fill="#000000"/>
<path d="M315.1 42.8h13.4v1.2h-13.4z" fill="#000000"/>
<path d="M315.1 43.9h13.4v1.2h-13.4z" fill="#000000"/>
<path d="M315.1 45.0h13.4v1.1h-13.4z" fill="#5e0000"/>
<path d="M315.1 46.0h13.4v1.1h-13.4z" fill="#450000"/>
<path d="M315.1 47.0h13.4v1.2h-13.4z" fill="#000000"/>
<path d="M315.1 48.1h13.4v1.2h-13.4z" fill="#000000"/>
<path d="M315.1 49.3h13.4v1.2h-13.4z" fill="#000000"/>
<path d="M315.1 50.4h13.4v1.2h-13.4z" fill="#000000"/>
<path d="M315.1 51.6h13.4v1.2h-13.4z" fill="#000000"/>
<path d="M315.1 52.7h13.4v1.2h-13.4z" fill="#000000"/>
<path d="M315.1 53.9h13.4v1.2h-13.4z" fill="#000000"/>
<path d="M315.1 55.0h13.4v1.6h-13.4z" fill="#000000"/>
<path d="M315.1 56.5h13.4v1.6h-13.4z" fill="#000000"/>
<path d="M315.1 58.0h13.4v1.4h-13.4z" fill="#ff0000"/>
<path d="M315.1 59.3h13.4v1.4h-13.4z" fill="#720000"/>
<path d="M315.1 60.7h13.4v1.4h-13.4z" fill="#d60000"/>
<path d="M315.1 62.0h13.4v1.1h-13.4z" fill="#1d0000"/>
<path d="M315.1 63.0h13.4v1.1h-13.4z" fill="#920000"/>
<path d="M315.1 64.0h13.4v1.1h-13.4z" fill="#440000"/>
<path d="M315.1 65.0h13.4v1.1h-13.4z" fill="#570000"/>
<path d="M315.1 66.0h13.4v1.1h-13.4z" fill="#440000"/>
<path d="M315.1 67.0h13.4v1.1h-13.4z" fill="#b70000"/>
<path d="M315.1 68.0h13.4v1.4h-13.4z" fill="#f60000"/>
<path d="M315.1 69.3h13.4v1.4h-13.4z" fill="#ff0000"/>
<path d="M315.1 70.7h13.4v1.4h-13.4z" fill="#2f0000"/>
<path d="M315.1 72.0h13.4v1.1h-13.4z" fill="#5c0000"/>
<path d="M315.1 73.0h13.4v1.1h-13.4z" fill="#590000"/>
<path d="M315.1 74.0h13.4v1.6h-13.4z" fill="#520000"/>
<path d="M315.1 75.5h13.4v1.6h-13.4z" fill="#200000"/>
<path d="M315.1 77.0h13.4v1.6h-13.4z" fill="#000000"/>
<path d="M315.1 78.5h13.4v1.6h-13.4z" fill="#000000"/>
<path d="M315.1 80.0h13.4v1.1h-13.4z" fill="#006800"/>
<path d="M315.1 81.0h13.4v1.1h-13.4z" fill="#002e00"/>
<path d="M315.1 82.0h13.4v1.1h-13.4z" fill="#000000"/>
<path d="M315.1 83.0h13.4v1.1h-13.4z" fill="#000000"/>
<path d="M315.1 84.0h13.4v1.4h-13.4z" fill="#490000"/>
<path d="M315.1 85.3h13.4v1.4h-13.4z" fill="#5c0000"/>
<path d="M315.1 86.7h13.4v1.4h-13.4z" fill="#470000"/>
<path d="M315.1 88.0h13.4v1.4h-13.4z" fill="#a90000"/>
<path d="M315.1 89.3h13.4v1.4h-13.4z" fill="#380000"/>
<path d="M315.1 90.7h13.4v1.4h-13.4z" fill="#3c0000"/>
<path d="M315.1 92.0h13.4v1.4h-13.4z" fill="#1e0000"/>
<path d="M315.1 93.3h13.4v1.4h-13.4z" fill="#5d0000"/>
<path d="M315.1 94.7h13.4v1.4h-13.4z" fill="#570000"/>
<path d="M315.1 96.0h13.4v1.3h-13.4z" fill="#000000"/>
<path d="M315.1 97.2h13.4v1.3h-13.4z" fill="#000000"/>
<path d="M315.1 98.4h13.4v1.3h-13.4z" fill="#000000"/>
<path d="M315.1 99.6h13.4v1.3h-13.4z" fill="#000000"/>
<path d="M315.1 100.8h13.4v1.3h-13.4z" fill="#000000"/>
<path d="M315.1 102.0h13.4v1.6h-13.4z" fill="#006400"/>
<path d="M315.1 103.5h13.4v1.6h-13.4z" fill="#004e00"/>
<path d="M315.1 105.0h13.4v1.6h-13.4z" fill="#003400"/>
<path d="M315.1 106.5h13.4v1.6h-13.4z" fill="#002500"/>
<path d="M315.1 108.0h13.4v1.1h-13.4z" fill="#008700"/>
<path d="M315.1 109.0h13.4v1.1h-13.4z" fill="#008b00"/>
<path d="M315.1 110.0h13.4v1.6h-13.4z" fill="#006b00"/>
<path d="M315.1 111.5h13.4v1.6h-13.4z" fill="#005300"/>
<path d="M315.1 113.0h13.4v1.6h-13.4z" fill="#002400"/>
<path d="M315.1 114.5h13.4v1.6h-13.4z" fill="#00c500"/>
<path d="M315.1 116.0h13.4v1.1h-13.4z" fill="#17f717"/>
<path d="M315.1 117.0h13.4v1.1h-13.4z" fill="#032103"/>
<path d="M315.1 118.0h13.4v1.1h-13.4z" fill="#005600"/>
<path d="M315.1 119.0h13.4v1.1h-13.4z" fill="#006f00"/>
<path d="M315.1 120.0h13.4v1.6h-13.4z" fill="#004900"/>
<path d="M315.1 121.5h13.4v1.6h-13.4z" fill="#00a700"/>
<path d="M315.1 123.0h13.4v1.6h-13.4z" fill="#001100"/>
<path d="M315.1 124.5h13.4v1.6h-13.4z" fill="#004c00"/>
<path d="M315.1 126.0h13.4v1.6h-13.4z" fill="#002800"/>
<path d="M315.1 127.5h13.4v1.6h-13.4z" fill="#003700"/>
<path d="M315.1 129.0h13.4v1.6h-13.4z" fill="#005a00"/>
<path d="M315.1 130.5h13.4v1.6h-13.4z" fill="#005900"/>
<path d="M315.1 132.0h13.4v1.3h-13.4z" fill="#001500"/>
<path d="M315.1 133.2h13.4v1.3h-13.4z" fill="#003100"/>
<path d="M315.1 134.4h13.4v1.3h-13.4z" fill="#002600"/>
<path d="M328.5 11.2h13.4v1.4h-13.4z" fill="#000000"/>
<path d="M328.5 12.5h13.4v1.4h-13.4z" fill="#000000"/>
<path d="M328.5 13.7h13.4v1.4h-13.4z" fill="#000000"/>
<path d="M328.5 15.0h13.4v1.1h-13.4z" fill="#001400"/>
<path d="M328.5 16.0h13.4v1.4h-13.4z" fill="#000000"/>
<path d="M328.5 17.3h13.4v1.4h-13.4z" fill="#000000"/>
<path d="M328.5 18.7h13.4v1.4h-13.4z" fill="#000000"/>
<path d="M328.5 20.0h13.4v1.6h-13.4z" fill="#001600"/>
<path d="M328.5 21.5h13.4v1.6h-13.4z" fill="#002f00"/>
<path d="M328.5 23.0h13.4v1.4h-13.4z" fill="#000000"/>
<path d="M328.5 24.2h13.4v1.4h-13.4z" fill="#000000"/>
<path d="M328.5 25.5h13.4v1.4h-13.4z" fill="#000000"/>
<path d="M328.5 26.8h13.4v1.4h-13.4z" fill="#000000"/>
<path d="M328.5 28.0h13.4v1.1h-13.4z" fill="#002600"/>
<path d="M328.5 29.0h13.4v1.1h-13.4z" fill="#002200"/>
<path d="M328.5 30.0h13.4v1.4h-13.4z" fill="#002000"/>
<path d="M328.5 31.2h13.4v1.4h-13.4z" fill="#005c00"/>
<path d="M328.5 32.5h13.4v1.4h-13.4z" fill="#002800"/>
<path d="M328.5 33.8h13.4v1.4h-13.4z" fill="#005000"/>
<path d="M328.5 35.0h13.4v1.1h-13.4z" fill="#002a00"/>
<path d="M328.5 36.0h13.4v1.1h-13.4z" fill="#003600"/>
<path d="M328.5 37.0h13.4v1.6h-13.4z" fill="#007b00"/>
<path d="M328.5 38.5h13.4v1.6h-13.4z" fill="#005e00"/>
<path d="M328.5 40.0h13.4v1.6h-13.4z" fill="#002400"/>
<path d="M328.5 41.5h13.4v1.6h-13.4z" fill="#000e00"/>
<path d="M328.5 43.0h13.4v1.4h-13.4z" fill="#000000"/>
<path d="M328.5 44.2h13.4v1.4h-13.4z" fill="#000000"/>
<path d="M328.5 45.5h13.4v1.4h-13.4z" fill="#000000"/>
<path d="M328.5 46.8h13.4v1.4h-13.4z" fill="#000000"/>
<path d="M328.5 48.0h13.4v1.4h-13.4z" fill="#000000"/>
<path d="M328.5 49.2h13.4v1.4h-13.4z" fill="#000000"/>
<path d="M328.5 50.5h13.4v1.4h-13.4z" fill="#000000"/>
<path d="M328.5 51.8h13.4v1.4h-13.4z" fill="#000000"/>
<path d="M328.5 53.0h13.4v1.4h-13.4z" fill="#000000"/>
<path d="M328.5 54.2h13.4v1.4h-13.4z" fill="#000000"/>
<path d="M328.5 55.5h13.4v1.4h-13.4z" fill="#000000"/>
<path d="M328.5 56.8h13.4v1.4h-13.4z" fill="#000000"/>
<path d="M328.5 58.0h13.4v1.4h-13.4z" fill="#420000"/>
<path d="M328.5 59.3h13.4v1.4h-13.4z" fill="#520000"/>
<path d="M328.5 60.7h13.4v1.4h-13.4z" fill="#650000"/>
<path d="M328.5 62.0h13.4v1.4h-13.4z" fill="#000000"/>
<path d="M328.5 63.2h13.4v1.4h-13.4z" fill="#000000"/>
<path d="M328.5 64.5h13.4v1.4h-13.4z" fill="#000000"/>
<path d="M328.5 65.8h13.4v1.4h-13.4z" fill="#000000"/>
<path d="M328.5 67.0h13.4v1.4h-13.4z" fill="#000000"/>
<path d="M328.5 68.2h13.4v1.4h-13.4z" fill="#000000"/>
<path d="M328.5 69.5h13.4v1.4h-13.4z" fill="#000000"/>
<path d="M328.5 70.8h13.4v1.4h-13.4z" fill="#000000"/>
<path d="M328.5 72.0h13.4v1.4h-13.4z" fill="#610000"/>
<path d="M328.5 73.3h13.4v1.4h-13.4z" fill="#1e0000"/>
<path d="M328.5 74.7h13.4v1.4h-13.4z" fill="#150000"/>
<path d="M328.5 76.0h13.4v1.3h-13.4z" fill="#000000"/>
<path d="M328.5 77.2h13.4v1.3h-13.4z" fill="#000000"/>
<path d="M328.5 78.4h13.4v1.3h-13.4z" fill="#000000"/>
<path d="M328.5 79.6h13.4v1.3h-13.4z" fill="#000000"/>
<path d="M328.5 80.8h13.4v1.3h-13.4z" fill="#000000"/>
<path d="M328.5 82.0h13.4v1.4h-13.4z" fill="#620000"/>
<path d="M328.5 83.3h13.4v1.4h-13.4z" fill="#0e0000"/>
<path d="M328.5 84.7h13.4v1.4h-13.4z" fill="#4c0000"/>
<path d="M328.5 86.0h13.4v1.4h-13.4z" fill="#000000"/>
<path d="M328.5 87.3h13.4v1.4h-13.4z" fill="#000000"/>
<path d="M328.5 88.7h13.4v1.4h-13.4z" fill="#000000"/>
<path d="M328.5 90.0h13.4v1.3h-13.4z" fill="#4b0000"/>
<path d="M328.5 91.2h13.4v1.3h-13.4z" fill="#690000"/>
<path d="M328.5 92.4h13.4v1.3h-13.4z" fill="#620000"/>
<path d="M328.5 93.6h13.4v1.3h-13.4z" fill="#410000"/>
<path d="M328.5 94.8h13.4v1.3h-13.4z" fill="#500000"/>
<path d="M328.5 96.0h13.4v1.4h-13.4z" fill="#000000"/>
<path d="M328.5 97.3h13.4v1.4h-13.4z" fill="#000000"/>
<path d="M328.5 98.7h13.4v1.4h-13.4z" fill="#000000"/>
<path d="M328.5 100.0h13.4v1.6h-13.4z" fill="#570000"/>
<path d="M328.5 101.5h13.4v1.6h-13.4z" fill="#620000"/>
<path d="M328.5 103.0h13.4v1.6h-13.4z" fill="#000000"/>
<path d="M328.5 104.5h13.4v1.6h-13.4z" fill="#000000"/>
<path d="M328.5 106.0h13.4v1.4h-13.4z" fill="#005100"/>
<path d="M328.5 107.3h13.4v1.4h-13.4z" fill="#004b00"/>
<path d="M328.5 108.7h13.4v1.4h-13.4z" fill="#006300"/>
<path d="M328.5 110.0h13.4v1.4h-13.4z" fill="#000f00"/>
<path d="M328.5 111.2h13.4v1.4h-13.4z" fill="#002c00"/>
<path d="M328.5 112.5h13.4v1.4h-13.4z" fill="#002600"/>
<path d="M328.5 113.8h13.4v1.4h-13.4z" fill="#000e00"/>
<path d="M328.5 115.0h13.4v1.4h-13.4z" fill="#002500"/>
<path d="M328.5 116.2h13.4v1.4h-13.4z" fill="#001e00"/>
<path d="M328.5 117.5h13.4v1.4h-13.4z" fill="#007200"/>
<path d="M328.5 118.8h13.4v1.4h-13.4z" fill="#002e00"/>
<path d="M328.5 120.0h13.4v1.4h-13.4z" fill="#001500"/>
<path d="M328.5 121.2h13.4v1.4h-13.4z" fill="#003500"/>
<path d="M328.5 122.5h13.4v1.4h-13.4z" fill="#002300"/>
<path d="M328.5 123.8h13.4v1.4h-13.4z" fill="#002f00"/>
<path d="M328.5 125.0h13.4v1.4h-13.4z" fill="#006c00"/>
<path d="M328.5 126.2h13.4v1.4h-13.4z" fill="#005500"/>
<path d="M328.5 127.5h13.4v1.4h-13.4z" fill="#007600"/>
<path d="M328.5 128.8h13.4v1.4h-13.4z" fill="#004f00"/>
<path d="M328.5 130.0h13.4v1.2h-13.4z" fill="#000000"/>
<path d="M328.5 131.1h13.4v1.2h-13.4z" fill="#000000"/>
<path d="M328.5 132.2h13.4v1.2h-13.4z" fill="#000000"/>
<path d="M328.5 133.4h13.4v1.2h-13.4z" fill="#000000"/>
<path d="M328.5 134.5h13.4v1.2h-13.4z" fill="#000000"/>
<path d="M341.9 11.2h13.4v1.3h-13.4z" fill="#000000"/>
<path d="M341.9 12.4h13.4v1.3h-13.4z" fill="#000000"/>
<path d="M341.9 13.5h13.4v1.3h-13.4z" fill="#000000"/>
<path d="M341.9 14.7h13.4v1.3h-13.4z" fill="#000000"/>
<path d="M341.9 15.8h13.4v1.3h-13.4z" fill="#000000"/>
<path d="M341.9 17.0h13.4v1.1h-13.4z" fill="#000d00"/>
<path d="M341.9 18.0h13.4v1.1h-13.4z" fill="#001500"/>
<path d="M341.9 19.0h13.4v1.4h-13.4z" fill="#000000"/>
<path d="M341.9 20.3h13.4v1.4h-13.4z" fill="#000000"/>
<path d="M341.9 21.7h13.4v1.4h-13.4z" fill="#000000"/>
<path d="M341.9 23.0h13.4v1.1h-13.4z" fill="#002b00"/>
<path d="M341.9 24.0h13.4v1.1h-13.4z" fill="#000800"/>
<path d="M341.9 25.0h13.4v1.6h-13.4z" fill="#000000"/>
<path d="M341.9 26.5h13.4v1.6h-13.4z" fill="#000000"/>
<path d="M341.9 28.0h13.4v1.1h-13.4z" fill="#002b00"/>
<path d="M341.9 29.0h13.4v1.1h-13.4z" fill="#000c00"/>
<path d="M341.9 30.0h13.4v1.1h-13.4z" fill="#5c0000"/>
<path d="M341.9 31.0h13.4v1.1h-13.4z" fill="#490000"/>
<path d="M341.9 32.0h13.4v1.1h-13.4z" fill="#001000"/>
<path d="M341.9 33.0h13.4v1.1h-13.4z" fill="#003600"/>
<path d="M341.9 34.0h13.4v1.1h-13.4z" fill="#005b00"/>
<path d="M341.9 35.0h13.4v1.1h-13.4z" fill="#006a00"/>
<path d="M341.9 36.0h13.4v1.4h-13.4z" fill="#002300"/>
<path d="M341.9 37.3h13.4v1.4h-13.4z" fill="#002a00"/>
<path d="M341.9 38.7h13.4v1.4h-13.4z" fill="#002300"/>
<path d="M341.9 40.0h13.4v1.1h-13.4z" fill="#000000"/>
<path d="M341.9 41.0h13.4v1.1h-13.4z" fill="#000000"/>
<path d="M341.9 42.0h13.4v1.1h-13.4z" fill="#002e00"/>
<path d="M341.9 43.0h13.4v1.1h-13.4z" fill="#001600"/>
<path d="M341.9 44.0h13.4v1.1h-13.4z" fill="#006d00"/>
<path d="M341.9 45.0h13.4v1.1h-13.4z" fill="#005c00"/>
<path d="M341.9 46.0h13.4v1.1h-13.4z" fill="#003700"/>
<path d="M341.9 47.0h13.4v1.1h-13.4z" fill="#002900"/>
<path d="M341.9 48.0h13.4v1.4h-13.4z" fill="#007400"/>
<path d="M341.9 49.3h13.4v1.4h-13.4z" fill="#005000"/>
<path d="M341.9 50.7h13.4v1.4h-13.4z" fill="#002600"/>
<path d="M341.9 52.0h13.4v1.6h-13.4z" fill="#001200"/>
<path d="M341.9 53.5h13.4v1.6h-13.4z" fill="#002600"/>
<path d="M341.9 55.0h13.4v1.6h-13.4z" fill="#002600"/>
<path d="M341.9 56.5h13.4v1.6h-13.4z" fill="#003100"/>
<path d="M341.9 58.0h13.4v1.1h-13.4z" fill="#000000"/>
<path d="M341.9 59.0h13.4v1.1h-13.4z" fill="#000000"/>
<path d="M341.9 60.0h13.4v1.4h-13.4z" fill="#b70000"/>
<path d="M341.9 61.3h13.4v1.4h-13.4z" fill="#7b0000"/>
<path d="M341.9 62.7h13.4v1.4h-13.4z" fill="#4f0000"/>
<path d="M341.9 64.0h13.4v1.1h-13.4z" fill="#000000"/>
<path d="M341.9 65.0h13.4v1.1h-13.4z" fill="#000000"/>
<path d="M341.9 66.0h13.4v1.1h-13.4z" fill="#200000"/>
<path d="M341.9 67.0h13.4v1.1h-13.4z" fill="#580000"/>
<path d="M341.9 68.0h13.4v1.4h-13.4z" fill="#000000"/>
<path d="M341.9 69.3h13.4v1.4h-13.4z" fill="#000000"/>
<path d="M341.9 70.7h13.4v1.4h-13.4z" fill="#000000"/>
<path d="M341.9 72.0h13.4v1.1h-13.4z" fill="#470000"/>
<path d="M341.9 73.0h13.4v1.1h-13.4z" fill="#530000"/>
<path d="M341.9 74.0h13.4v1.4h-13.4z" fill="#000000"/>
<path d="M341.9 75.3h13.4v1.4h-13.4z" fill="#000000"/>
<path d="M341.9 76.7h13.4v1.4h-13.4z" fill="#000000"/>
<path d="M341.9 78.0h13.4v1.1h-13.4z" fill="#150000"/>
<path d="M341.9 79.0h13.4v1.1h-13.4z" fill="#620000"/>
<path d="M341.9 80.0h13.4v1.1h-13.4z" fill="#003600"/>
<path d="M341.9 81.0h13.4v1.1h-13.4z" fill="#001300"/>
<path d="M341.9 82.0h13.4v1.4h-13.4z" fill="#c60000"/>
<path d="M341.9 83.3h13.4v1.4h-13.4z" fill="#1d0000"/>
<path d="M341.9 84.7h13.4v1.4h-13.4z" fill="#9b0000"/>
<path d="M341.9 86.0h13.4v1.1h-13.4z" fill="#000000"/>
<path d="M341.9 87.0h13.4v1.1h-13.4z" fill="#000000"/>
<path d="M341.9 88.0h13.4v1.1h-13.4z" fill="#523400"/>
<path d="M341.9 89.0h13.4v1.1h-13.4z" fill="#221500"/>
<path d="M341.9 90.0h13.4v1.1h-13.4z" fill="#480000"/>
<path d="M341.9 91.0h13.4v1.1h-13.4z" fill="#570000"/>
<path d="M341.9 92.0h13.4v1.1h-13.4z" fill="#a10000"/>
<path d="M341.9 93.0h13.4v1.1h-13.4z" fill="#ab0000"/>
<path d="M341.9 94.0h13.4v1.1h-13.4z" fill="#000000"/>
<path d="M341.9 95.0h13.4v1.1h-13.4z" fill="#000000"/>
<path d="M341.9 96.0h13.4v1.1h-13.4z" fill="#553600"/>
<path d="M341.9 97.0h13.4v1.1h-13.4z" fill="#875600"/>
<path d="M341.9 98.0h13.4v1.1h-13.4z" fill="#000000"/>
<path d="M341.9 99.0h13.4v1.1h-13.4z" fill="#000000"/>
<path d="M341.9 100.0h13.4v1.1h-13.4z" fill="#b90000"/>
<path d="M341.9 101.0h13.4v1.1h-13.4z" fill="#a70000"/>
<path d="M341.9 102.0h13.4v1.6h-13.4z" fill="#5b0000"/>
<path d="M341.9 103.5h13.4v1.6h-13.4z" fill="#480000"/>
<path d="M341.9 105.0h13.4v1.3h-13.4z" fill="#000000"/>
<path d="M341.9 106.2h13.4v1.3h-13.4z" fill="#000000"/>
<path d="M341.9 107.4h13.4v1.3h-13.4z" fill="#000000"/>
<path d="M341.9 108.5h13.4v1.3h-13.4z" fill="#000000"/>
<path d="M341.9 109.7h13.4v1.3h-13.4z" fill="#000000"/>
<path d="M341.9 110.9h13.4v1.3h-13.4z" fill="#000000"/>
<path d="M341.9 112.1h13.4v1.3h-13.4z" fill="#000000"/>
<path d="M341.9 113.2h13.4v1.3h-13.4z" fill="#000000"/>
<path d="M341.9 114.4h13.4v1.3h-13.4z" fill="#000000"/>
<path d="M341.9 115.6h13.4v1.3h-13.4z" fill="#000000"/>
<path d="M341.9 116.8h13.4v1.3h-13.4z" fill="#000000"/>
<path d="M341.9 117.9h13.4v1.3h-13.4z" fill="#000000"/>
<path d="M341.9 119.1h13.4v1.3h-13.4z" fill="#000000"/>
<path d="M341.9 120.3h13.4v1.3h-13.4z" fill="#000000"/>
<path d="M341.9 121.5h13.4v1.3h-13.4z" fill="#000000"/>
<path d="M341.9 122.6h13.4v1.3h-13.4z" fill="#000000"/>
<path d="M341.9 123.8h13.4v1.3h-13.4z" fill="#000000"/>
<path d="M341.9 125.0h13.4v1.6h-13.4z" fill="#630000"/>
<path d="M341.9 126.5h13.4v1.6h-13.4z" fill="#690000"/>
<path d="M341.9 128.0h13.4v1.4h-13.4z" fill="#000000"/>
<path d="M341.9 129.3h13.4v1.4h-13.4z" fill="#000000"/>
<path d="M341.9 130.7h13.4v1.4h-13.4z" fill="#000000"/>
<path d="M341.9 132.0h13.4v1.3h-13.4z" fill="#690000"/>
<path d="M341.9 133.2h13.4v1.3h-13.4z" fill="#290000"/>
<path d="M341.9 134.4h13.4v1.3h-13.4z" fill="#610000"/>
<path d="M355.3 11.2h13.4v1.4h-13.4z" fill="#000000"/>
<path d="M355.3 12.5h13.4v1.4h-13.4z" fill="#000000"/>
<path d="M355.3 13.7h13.4v1.4h-13.4z" fill="#000000"/>
<path d="M355.3 15.0h13.4v1.1h-13.4z" fill="#002100"/>
<path d="M355.3 16.0h13.4v1.2h-13.4z" fill="#000000"/>
<path d="M355.3 17.1h13.4v1.2h-13.4z" fill="#000000"/>
<path d="M355.3 18.3h13.4v1.2h-13.4z" fill="#000000"/>
<path d="M355.3 19.4h13.4v1.2h-13.4z" fill="#000000"/>
<path d="M355.3 20.6h13.4v1.2h-13.4z" fill="#000000"/>
<path d="M355.3 21.7h13.4v1.2h-13.4z" fill="#000000"/>
<path d="M355.3 22.9h13.4v1.2h-13.4z" fill="#000000"/>
<path d="M355.3 24.0h13.4v1.1h-13.4z" fill="#002a00"/>
<path d="M355.3 25.0h13.4v1.1h-13.4z" fill="#000900"/>
<path d="M355.3 26.0h13.4v1.1h-13.4z" fill="#000000"/>
<path d="M355.3 27.0h13.4v1.1h-13.4z" fill="#000000"/>
<path d="M355.3 28.0h13.4v1.1h-13.4z" fill="#004f00"/>
<path d="M355.3 29.0h13.4v1.1h-13.4z" fill="#003000"/>
<path d="M355.3 30.0h13.4v1.1h-13.4z" fill="#002500"/>
<path d="M355.3 31.0h13.4v1.1h-13.4z" fill="#002200"/>
<path d="M355.3 32.0h13.4v1.1h-13.4z" fill="#005100"/>
<path d="M355.3 33.0h13.4v1.1h-13.4z" fill="#006200"/>
<path d="M355.3 34.0h13.4v1.1h-13.4z" fill="#009f00"/>
<path d="M355.3 35.0h13.4v1.1h-13.4z" fill="#00c400"/>
<path d="M355.3 36.0h13.4v1.1h-13.4z" fill="#000800"/>
<path d="M355.3 37.0h13.4v1.1h-13.4z" fill="#002800"/>
<path d="M355.3 38.0h13.4v1.1h-13.4z" fill="#006b00"/>
<path d="M355.3 39.0h13.4v1.1h-13.4z" fill="#007600"/>
<path d="M355.3 40.0h13.4v1.1h-13.4z" fill="#002600"/>
<path d="M355.3 41.0h13.4v1.1h-13.4z" fill="#002600"/>
<path d="M355.3 42.0h13.4v1.1h-13.4z" fill="#002200"/>
<path d="M355.3 43.0h13.4v1.1h-13.4z" fill="#002600"/>
<path d="M355.3 44.0h13.4v1.4h-13.4z" fill="#10ae10"/>
<path d="M355.3 45.2h13.4v1.4h-13.4z" fill="#14d414"/>
<path d="M355.3 46.5h13.4v1.4h-13.4z" fill="#0fa50f"/>
<path d="M355.3 47.8h13.4v1.4h-13.4z" fill="#18fd18"/>
<path d="M355.3 49.0h13.4v1.4h-13.4z" fill="#13ca13"/>
<path d="M355.3 50.2h13.4v1.4h-13.4z" fill="#17f417"/>
<path d="M355.3 51.5h13.4v1.4h-13.4z" fill="#13c813"/>
<path d="M355.3 52.8h13.4v1.4h-13.4z" fill="#11bb11"/>
<path d="M355.3 54.0h13.4v1.1h-13.4z" fill="#000000"/>
<path d="M355.3 55.0h13.4v1.1h-13.4z" fill="#000000"/>
<path d="M355.3 56.0h13.4v1.1h-13.4z" fill="#003700"/>
<path d="M355.3 57.0h13.4v1.1h-13.4z" fill="#003500"/>
<path d="M355.3 58.0h13.4v1.1h-13.4z" fill="#000000"/>
<path d="M355.3 59.0h13.4v1.1h-13.4z" fill="#000000"/>
<path d="M355.3 60.0h13.4v1.1h-13.4z" fill="#006000"/>
<path d="M355.3 61.0h13.4v1.1h-13.4z" fill="#001b00"/>
<path d="M355.3 62.0h13.4v1.1h-13.4z" fill="#000000"/>
<path d="M355.3 63.0h13.4v1.1h-13.4z" fill="#000000"/>
<path d="M355.3 64.0h13.4v1.1h-13.4z" fill="#005a00"/>
<path d="M355.3 65.0h13.4v1.1h-13.4z" fill="#006000"/>
<path d="M355.3 66.0h13.4v1.1h-13.4z" fill="#007700"/>
<path d="M355.3 67.0h13.4v1.1h-13.4z" fill="#005200"/>
<path d="M355.3 68.0h13.4v1.1h-13.4z" fill="#000000"/>
<path d="M355.3 69.0h13.4v1.1h-13.4z" fill="#000000"/>
<path d="M355.3 70.0h13.4v1.4h-13.4z" fill="#006700"/>
<path d="M355.3 71.3h13.4v1.4h-13.4z" fill="#005900"/>
<path d="M355.3 72.7h13.4v1.4h-13.4z" fill="#005c00"/>
<path d="M355.3 74.0h13.4v1.1h-13.4z" fill="#000000"/>
<path d="M355.3 75.0h13.4v1.1h-13.4z" fill="#000000"/>
<path d="M355.3 76.0h13.4v1.1h-13.4z" fill="#003500"/>
<path d="M355.3 77.0h13.4v1.1h-13.4z" fill="#001300"/>
<path d="M355.3 78.0h13.4v1.1h-13.4z" fill="#000000"/>
<path d="M355.3 79.0h13.4v1.1h-13.4z" fill="#000000"/>
<path d="M355.3 80.0h13.4v1.1h-13.4z" fill="#005f00"/>
<path d="M355.3 81.0h13.4v1.1h-13.4z" fill="#002400"/>
<path d="M355.3 82.0h13.4v1.4h-13.4z" fill="#002c00"/>
<path d="M355.3 83.3h13.4v1.4h-13.4z" fill="#000a00"/>
<path d="M355.3 84.7h13.4v1.4h-13.4z" fill="#002c00"/>
<path d="M355.3 86.0h13.4v1.1h-13.4z" fill="#001700"/>
<path d="M355.3 87.0h13.4v1.1h-13.4z" fill="#005b00"/>
<path d="M355.3 88.0h13.4v1.1h-13.4z" fill="#000c00"/>
<path d="M355.3 89.0h13.4v1.1h-13.4z" fill="#001400"/>
<path d="M355.3 90.0h13.4v1.6h-13.4z" fill="#000000"/>
<path d="M355.3 91.5h13.4v1.6h-13.4z" fill="#000000"/>
<path d="M355.3 93.0h13.4v1.1h-13.4z" fill="#005200"/>
<path d="M355.3 94.0h13.4v1.1h-13.4z" fill="#005200"/>
<path d="M355.3 95.0h13.4v1.1h-13.4z" fill="#210000"/>
<path d="M355.3 96.0h13.4v1.1h-13.4z" fill="#5f0000"/>
<path d="M355.3 97.0h13.4v1.1h-13.4z" fill="#000000"/>
<path d="M355.3 98.0h13.4v1.1h-13.4z" fill="#000000"/>
<path d="M355.3 99.0h13.4v1.6h-13.4z" fill="#500000"/>
<path d="M355.3 100.5h13.4v1.6h-13.4z" fill="#150000"/>
<path d="M355.3 102.0h13.4v1.6h-13.4z" fill="#000000"/>
<path d="M355.3 103.5h13.4v1.6h-13.4z" fill="#000000"/>
<path d="M355.3 105.0h13.4v1.1h-13.4z" fill="#810000"/>
<path d="M355.3 106.0h13.4v1.1h-13.4z" fill="#b90000"/>
<path d="M355.3 107.0h13.4v1.1h-13.4z" fill="#220000"/>
<path d="M355.3 108.0h13.4v1.1h-13.4z" fill="#240000"/>
<path d="M355.3 109.0h13.4v1.6h-13.4z" fill="#000000"/>
<path d="M355.3 110.5h13.4v1.6h-13.4z" fill="#000000"/>
<path d="M355.3 112.0h13.4v1.6h-13.4z" fill="#e40000"/>
<path d="M355.3 113.5h13.4v1.6h-13.4z" fill="#330000"/>
<path d="M355.3 115.0h13.4v1.6h-13.4z" fill="#2d0000"/>
<path d="M355.3 116.5h13.4v1.6h-13.4z" fill="#910000"/>
<path d="M355.3 118.0h13.4v1.6h-13.4z" fill="#750000"/>
<path d="M355.3 119.5h13.4v1.6h-13.4z" fill="#ff0000"/>
<path d="M355.3 121.0h13.4v1.4h-13.4z" fill="#000000"/>
<path d="M355.3 122.2h13.4v1.4h-13.4z" fill="#000000"/>
<path d="M355.3 123.5h13.4v1.4h-13.4z" fill="#000000"/>
<path d="M355.3 124.8h13.4v1.4h-13.4z" fill="#000000"/>
<path d="M355.3 126.0h13.4v1.1h-13.4z" fill="#4d0000"/>
<path d="M355.3 127.0h13.4v1.1h-13.4z" fill="#b70000"/>
<path d="M355.3 128.0h13.4v1.4h-13.4z" fill="#530000"/>
<path d="M355.3 129.3h13.4v1.4h-13.4z" fill="#510000"/>
<path d="M355.3 130.7h13.4v1.4h-13.4z" fill="#280000"/>
<path d="M355.3 132.0h13.4v1.3h-13.4z" fill="#000000"/>
<path d="M355.3 133.2h13.4v1.3h-13.4z" fill="#000000"/>
<path d="M355.3 134.4h13.4v1.3h-13.4z" fill="#000000"/>
<path d="M368.8 11.2h13.4v1.3h-13.4z" fill="#000000"/>
<path d="M368.8 12.4h13.4v1.3h-13.4z" fill="#000000"/>
<path d="M368.8 13.6h13.4v1.3h-13.4z" fill="#000000"/>
<path d="M368.8 14.8h13.4v1.3h-13.4z" fill="#000000"/>
<path d="M368.8 16.0h13.4v1.1h-13.4z" fill="#5e0000"/>
<path d="M368.8 17.0h13.4v1.1h-13.4z" fill="#440000"/>
<path d="M368.8 18.0h13.4v1.4h-13.4z" fill="#000000"/>
<path d="M368.8 19.2h13.4v1.4h-13.4z" fill="#000000"/>
<path d="M368.8 20.5h13.4v1.4h-13.4z" fill="#000000"/>
<path d="M368.8 21.8h13.4v1.4h-13.4z" fill="#000000"/>
<path d="M368.8 23.0h13.4v1.4h-13.4z" fill="#000000"/>
<path d="M368.8 24.2h13.4v1.4h-13.4z" fill="#000000"/>
<path d="M368.8 25.5h13.4v1.4h-13.4z" fill="#000000"/>
<path d="M368.8 26.8h13.4v1.4h-13.4z" fill="#000000"/>
<path d="M368.8 28.0h13.4v1.1h-13.4z" fill="#000f00"/>
<path d="M368.8 29.0h13.4v1.1h-13.4z" fill="#002b00"/>
<path d="M368.8 30.0h13.4v1.6h-13.4z" fill="#000000"/>
<path d="M368.8 31.5h13.4v1.6h-13.4z" fill="#000000"/>
<path d="M368.8 33.0h13.4v1.1h-13.4z" fill="#00b300"/>
<path d="M368.8 34.0h13.4v1.1h-13.4z" fill="#009b00"/>
<path d="M368.8 35.0h13.4v1.1h-13.4z" fill="#006900"/>
<path d="M368.8 36.0h13.4v1.1h-13.4z" fill="#006200"/>
<path d="M368.8 37.0h13.4v1.1h-13.4z" fill="#009200"/>
<path d="M368.8 38.0h13.4v1.1h-13.4z" fill="#008300"/>
<path d="M368.8 39.0h13.4v1.1h-13.4z" fill="#004d00"/>
<path d="M368.8 40.0h13.4v1.1h-13.4z" fill="#005300"/>
<path d="M368.8 41.0h13.4v1.1h-13.4z" fill="#002100"/>
<path d="M368.8 42.0h13.4v1.1h-13.4z" fill="#002200"/>
<path d="M368.8 43.0h13.4v1.6h-13.4z" fill="#00a900"/>
<path d="M368.8 44.5h13.4v1.6h-13.4z" fill="#003600"/>
<path d="M368.8 46.0h13.4v1.4h-13.4z" fill="#17f917"/>
<path d="M368.8 47.3h13.4v1.4h-13.4z" fill="#0fa00f"/>
<path d="M368.8 48.7h13.4v1.4h-13.4z" fill="#095f09"/>
<path d="M368.8 50.0h13.4v1.1h-13.4z" fill="#009700"/>
<path d="M368.8 51.0h13.4v1.1h-13.4z" fill="#008f00"/>
<path d="M368.8 52.0h13.4v1.1h-13.4z" fill="#002200"/>
<path d="M368.8 53.0h13.4v1.1h-13.4z" fill="#001300"/>
<path d="M368.8 54.0h13.4v1.1h-13.4z" fill="#002500"/>
<path d="M368.8 55.0h13.4v1.1h-13.4z" fill="#008700"/>
<path d="M368.8 56.0h13.4v1.1h-13.4z" fill="#001500"/>
<path d="M368.8 57.0h13.4v1.1h-13.4z" fill="#003700"/>
<path d="M368.8 58.0h13.4v1.4h-13.4z" fill="#3bfb3b"/>
<path d="M368.8 59.3h13.4v1.4h-13.4z" fill="#2dbf2d"/>
<path d="M368.8 60.7h13.4v1.4h-13.4z" fill="#34dd34"/>
<path d="M368.8 62.0h13.4v1.1h-13.4z" fill="#000000"/>
<path d="M368.8 63.0h13.4v1.1h-13.4z" fill="#000000"/>
<path d="M368.8 64.0h13.4v1.1h-13.4z" fill="#00bc00"/>
<path d="M368.8 65.0h13.4v1.1h-13.4z" fill="#003400"/>
<path d="M368.8 66.0h13.4v1.3h-13.4z" fill="#44ff44"/>
<path d="M368.8 67.2h13.4v1.3h-13.4z" fill="#39f539"/>
<path d="M368.8 68.4h13.4v1.3h-13.4z" fill="#135413"/>
<path d="M368.8 69.6h13.4v1.3h-13.4z" fill="#43ff43"/>
<path d="M368.8 70.8h13.4v1.3h-13.4z" fill="#47ff47"/>
<path d="M368.8 72.0h13.4v1.1h-13.4z" fill="#16ec16"/>
<path d="M368.8 73.0h13.4v1.1h-13.4z" fill="#18ff18"/>
<path d="M368.8 74.0h13.4v1.1h-13.4z" fill="#1d1300"/>
<path d="M368.8 75.0h13.4v1.1h-13.4z" fill="#694300"/>
<path d="M368.8 76.0h13.4v1.1h-13.4z" fill="#000000"/>
<path d="M368.8 77.0h13.4v1.1h-13.4z" fill="#000000"/>
<path d="M368.8 78.0h13.4v1.4h-13.4z" fill="#064306"/>
<path d="M368.8 79.3h13.4v1.4h-13.4z" fill="#11b511"/>
<path d="M368.8 80.7h13.4v1.4h-13.4z" fill="#032503"/>
<path d="M368.8 82.0h13.4v1.1h-13.4z" fill="#000000"/>
<path d="M368.8 83.0h13.4v1.1h-13.4z" fill="#000000"/>
<path d="M368.8 84.0h13.4v1.4h-13.4z" fill="#0fa50f"/>
<path d="M368.8 85.3h13.4v1.4h-13.4z" fill="#16ec16"/>
<path d="M368.8 86.7h13.4v1.4h-13.4z" fill="#18ff18"/>
<path d="M368.8 88.0h13.4v1.1h-13.4z" fill="#000700"/>
<path d="M368.8 89.0h13.4v1.1h-13.4z" fill="#002d00"/>
<path d="M368.8 90.0h13.4v1.1h-13.4z" fill="#000000"/>
<path d="M368.8 91.0h13.4v1.1h-13.4z" fill="#000000"/>
<path d="M368.8 92.0h13.4v1.1h-13.4z" fill="#5d3b00"/>
<path d="M368.8 93.0h13.4v1.1h-13.4z" fill="#130c00"/>
<path d="M368.8 94.0h13.4v1.1h-13.4z" fill="#009700"/>
<path d="M368.8 95.0h13.4v1.1h-13.4z" fill="#00b500"/>
<path d="M368.8 96.0h13.4v1.1h-13.4z" fill="#4c0000"/>
<path d="M368.8 97.0h13.4v1.1h-13.4z" fill="#530000"/>
<path d="M368.8 98.0h13.4v1.1h-13.4z" fill="#000000"/>
<path d="M368.8 99.0h13.4v1.1h-13.4z" fill="#000000"/>
<path d="M368.8 100.0h13.4v1.6h-13.4z" fill="#4e0000"/>
<path d="M368.8 101.5h13.4v1.6h-13.4z" fill="#250000"/>
<path d="M368.8 103.0h13.4v1.6h-13.4z" fill="#850000"/>
<path d="M368.8 104.5h13.4v1.6h-13.4z" fill="#c30000"/>
<path d="M368.8 106.0h13.4v1.4h-13.4z" fill="#ff0000"/>
<path d="M368.8 107.3h13.4v1.4h-13.4z" fill="#df0000"/>
<path d="M368.8 108.7h13.4v1.4h-13.4z" fill="#330000"/>
<path d="M368.8 110.0h13.4v1.1h-13.4z" fill="#281900"/>
<path d="M368.8 111.0h13.4v1.1h-13.4z" fill="#342100"/>
<path d="M368.8 112.0h13.4v1.6h-13.4z" fill="#bc0000"/>
<path d="M368.8 113.5h13.4v1.6h-13.4z" fill="#350000"/>
<path d="M368.8 115.0h13.4v1.6h-13.4z" fill="#cd0000"/>
<path d="M368.8 116.5h13.4v1.6h-13.4z" fill="#330000"/>
<path d="M368.8 118.0h13.4v1.6h-13.4z" fill="#210000"/>
<path d="M368.8 119.5h13.4v1.6h-13.4z" fill="#200000"/>
<path d="M368.8 121.0h13.4v1.3h-13.4z" fill="#e80000"/>
<path d="M368.8 122.2h13.4v1.3h-13.4z" fill="#ff0000"/>
<path d="M368.8 123.4h13.4v1.3h-13.4z" fill="#ff0000"/>
<path d="M368.8 124.7h13.4v1.3h-13.4z" fill="#ff0000"/>
<path d="M368.8 125.9h13.4v1.3h-13.4z" fill="#ff0000"/>
<path d="M368.8 127.1h13.4v1.3h-13.4z" fill="#4e0000"/>
<path d="M368.8 128.3h13.4v1.3h-13.4z" fill="#ff0000"/>
<path d="M368.8 129.5h13.4v1.3h-13.4z" fill="#ff0000"/>
<path d="M368.8 130.7h13.4v1.3h-13.4z" fill="#d20000"/>
<path d="M368.8 131.9h13.4v1.3h-13.4z" fill="#e10000"/>
<path d="M368.8 133.2h13.4v1.3h-13.4z" fill="#260000"/>
<path d="M368.8 134.4h13.4v1.3h-13.4z" fill="#d60000"/>
</g>
<line x1="49.91" y1="136.20" x2="49.91" y2="137.40" stroke="#333" stroke-width="0.5" />
<text x="50.91" y="142.30" font-size="5.8" font-weight="bold" text-anchor="middle" fill="#222" stroke="#222" stroke-width="0.15">D0</text>
<line x1="63.12" y1="136.20" x2="63.12" y2="137.40" stroke="#333" stroke-width="0.5" />
<text x="64.12" y="142.30" font-size="5.8" font-weight="bold" text-anchor="middle" fill="#222" stroke="#222" stroke-width="0.15">D1</text>
<line x1="76.33" y1="136.20" x2="76.33" y2="137.40" stroke="#333" stroke-width="0.5" />
<text x="77.33" y="142.30" font-size="5.8" font-weight="bold" text-anchor="middle" fill="#222" stroke="#222" stroke-width="0.15">D2</text>
<line x1="89.54" y1="136.20" x2="89.54" y2="137.40" stroke="#333" stroke-width="0.5" />
<text x="90.54" y="142.30" font-size="5.8" font-weight="bold" text-anchor="middle" fill="#222" stroke="#222" stroke-width="0.15">D3</text>
<line x1="102.76" y1="136.20" x2="102.76" y2="137.40" stroke="#333" stroke-width="0.5" />
<text x="103.76" y="142.30" font-size="5.8" font-weight="bold" text-anchor="middle" fill="#222" stroke="#222" stroke-width="0.15">D4</text>
<line x1="115.97" y1="136.20" x2="115.97" y2="137.40" stroke="#333" stroke-width="0.5" />
<text x="116.97" y="142.30" font-size="5.8" font-weight="bold" text-anchor="middle" fill="#222" stroke="#222" stroke-width="0.15">D5</text>
<line x1="129.18" y1="136.20" x2="129.18" y2="137.40" stroke="#333" stroke-width="0.5" />
<text x="130.18" y="142.30" font-size="5.8" font-weight="bold" text-anchor="middle" fill="#222" stroke="#222" stroke-width="0.15">D6</text>
<line x1="142.39" y1="136.20" x2="142.39" y2="137.40" stroke="#333" stroke-width="0.5" />
<text x="143.39" y="142.30" font-size="5.8" font-weight="bold" text-anchor="middle" fill="#222" stroke="#222" stroke-width="0.15">D7</text>
<line x1="172.14" y1="136.20" x2="172.14" y2="137.40" stroke="#333" stroke-width="0.5" />
<text x="173.14" y="142.30" font-size="5.8" font-weight="bold" text-anchor="middle" fill="#222" stroke="#222" stroke-width="0.15">D0</text>
<line x1="185.41" y1="136.20" x2="185.41" y2="137.40" stroke="#333" stroke-width="0.5" />
<text x="186.41" y="142.30" font-size="5.8" font-weight="bold" text-anchor="middle" fill="#222" stroke="#222" stroke-width="0.15">D1</text>
<line x1="198.69" y1="136.20" x2="198.69" y2="137.40" stroke="#333" stroke-width="0.5" />
<text x="199.69" y="142.30" font-size="5.8" font-weight="bold" text-anchor="middle" fill="#222" stroke="#222" stroke-width="0.15">D2</text>
<line x1="211.96" y1="136.20" x2="211.96" y2="137.40" stroke="#333" stroke-width="0.5" />
<text x="212.96" y="142.30" font-size="5.8" font-weight="bold" text-anchor="middle" fill="#222" stroke="#222" stroke-width="0.15">D3</text>
<line x1="225.24" y1="136.20" x2="225.24" y2="137.40" stroke="#333" stroke-width="0.5" />
<text x="226.24" y="142.30" font-size="5.8" font-weight="bold" text-anchor="middle" fill="#222" stroke="#222" stroke-width="0.15">D4</text>
<line x1="238.51" y1="136.20" x2="238.51" y2="137.40" stroke="#333" stroke-width="0.5" />
<text x="239.51" y="142.30" font-size="5.8" font-weight="bold" text-anchor="middle" fill="#222" stroke="#222" stroke-width="0.15">D5</text>
<line x1="251.79" y1="136.20" x2="251.79" y2="137.40" stroke="#333" stroke-width="0.5" />
<text x="252.79" y="142.30" font-size="5.8" font-weight="bold" text-anchor="middle" fill="#222" stroke="#222" stroke-width="0.15">D6</text>
<line x1="265.06" y1="136.20" x2="265.06" y2="137.40" stroke="#333" stroke-width="0.5" />
<text x="266.06" y="142.30" font-size="5.8" font-weight="bold" text-anchor="middle" fill="#222" stroke="#222" stroke-width="0.15">D7</text>
<line x1="294.91" y1="136.80" x2="294.91" y2="138.00" stroke="#333" stroke-width="0.5" />
<text x="295.91" y="142.90" font-size="5.8" font-weight="bold" text-anchor="middle" fill="#222" stroke="#222" stroke-width="0.15">D0</text>
<line x1="308.34" y1="136.80" x2="308.34" y2="138.00" stroke="#333" stroke-width="0.5" />
<text x="309.34" y="142.90" font-size="5.8" font-weight="bold" text-anchor="middle" fill="#222" stroke="#222" stroke-width="0.15">D2</text>
<line x1="321.77" y1="136.80" x2="321.77" y2="138.00" stroke="#333" stroke-width="0.5" />
<text x="322.77" y="142.90" font-size="5.8" font-weight="bold" text-anchor="middle" fill="#222" stroke="#222" stroke-width="0.15">D3</text>
<line x1="335.20" y1="136.80" x2="335.20" y2="138.00" stroke="#333" stroke-width="0.5" />
<text x="336.20" y="142.90" font-size="5.8" font-weight="bold" text-anchor="middle" fill="#222" stroke="#222" stroke-width="0.15">D4</text>
<line x1="348.63" y1="136.80" x2="348.63" y2="138.00" stroke="#333" stroke-width="0.5" />
<text x="349.63" y="142.90" font-size="5.8" font-weight="bold" text-anchor="middle" fill="#222" stroke="#222" stroke-width="0.15">D5</text>
<line x1="362.06" y1="136.80" x2="362.06" y2="138.00" stroke="#333" stroke-width="0.5" />
<text x="363.06" y="142.90" font-size="5.8" font-weight="bold" text-anchor="middle" fill="#222" stroke="#222" stroke-width="0.15">D6</text>
<line x1="375.49" y1="136.80" x2="375.49" y2="138.00" stroke="#333" stroke-width="0.5" />
<text x="376.49" y="142.90" font-size="5.8" font-weight="bold" text-anchor="middle" fill="#222" stroke="#222" stroke-width="0.15">D7</text>
<defs><linearGradient id="cb1" x1="0" x2="1" y1="0" y2="0"><stop offset="0" stop-color="#20f020"/><stop offset="0.25" stop-color="#20d020"/><stop offset="0.4" stop-color="#000"/><stop offset="0.66" stop-color="#000"/><stop offset="0.85" stop-color="#d00000"/><stop offset="1" stop-color="#ff1010"/></linearGradient></defs>
<rect x="105.50" y="151.30" width="42.50" height="5.00" fill="url(#cb1)" stroke="#555" stroke-width="0.4"/>
<text x="107.20" y="149.40" font-size="4.6" font-weight="normal" text-anchor="middle" fill="#222" >0</text>
<text x="147.40" y="149.40" font-size="4.6" font-weight="normal" text-anchor="middle" fill="#222" >1</text>
<defs><linearGradient id="cb2" x1="0" x2="1" y1="0" y2="0"><stop offset="0" stop-color="#20f020"/><stop offset="0.25" stop-color="#20d020"/><stop offset="0.4" stop-color="#000"/><stop offset="0.66" stop-color="#000"/><stop offset="0.85" stop-color="#d00000"/><stop offset="1" stop-color="#ff1010"/></linearGradient></defs>
<rect x="230.80" y="151.80" width="41.70" height="4.50" fill="url(#cb2)" stroke="#555" stroke-width="0.4"/>
<text x="233.40" y="150.30" font-size="6.0" font-weight="normal" text-anchor="middle" fill="#222" >-2</text>
<text x="270.80" y="150.30" font-size="6.0" font-weight="normal" text-anchor="middle" fill="#222" >2</text>
<defs><linearGradient id="cb3" x1="0" x2="1" y1="0" y2="0"><stop offset="0" stop-color="#20f020"/><stop offset="0.25" stop-color="#20d020"/><stop offset="0.4" stop-color="#000"/><stop offset="0.66" stop-color="#000"/><stop offset="0.85" stop-color="#d00000"/><stop offset="1" stop-color="#ff1010"/></linearGradient></defs>
<rect x="340.00" y="151.30" width="42.70" height="4.60" fill="url(#cb3)" stroke="#555" stroke-width="0.4"/>
<text x="342.60" y="150.10" font-size="6.0" font-weight="normal" text-anchor="middle" fill="#222" >-2</text>
<text x="379.90" y="150.10" font-size="6.0" font-weight="normal" text-anchor="middle" fill="#222" >2</text>
<rect x="434.7" y="10.4" width="79.69999999999999" height="70.5" fill="#fff" stroke="#555" stroke-width="0.8"/>
<line x1="434.70" y1="80.90" x2="436.00" y2="80.90" stroke="#555" stroke-width="0.5" />
<text x="434.00" y="84.50" font-size="5.3" font-weight="bold" text-anchor="end" fill="#000" stroke="#000" stroke-width="0.15">0.0%</text>
<line x1="434.70" y1="69.15" x2="436.00" y2="69.15" stroke="#555" stroke-width="0.5" />
<text x="434.00" y="72.75" font-size="5.3" font-weight="bold" text-anchor="end" fill="#000" stroke="#000" stroke-width="0.15">5.0%</text>
<line x1="434.70" y1="57.40" x2="436.00" y2="57.40" stroke="#555" stroke-width="0.5" />
<text x="434.00" y="61.00" font-size="5.3" font-weight="bold" text-anchor="end" fill="#000" stroke="#000" stroke-width="0.15">10.0%</text>
<line x1="434.70" y1="45.65" x2="436.00" y2="45.65" stroke="#555" stroke-width="0.5" />
<text x="434.00" y="49.25" font-size="5.3" font-weight="bold" text-anchor="end" fill="#000" stroke="#000" stroke-width="0.15">15.0%</text>
<line x1="434.70" y1="33.90" x2="436.00" y2="33.90" stroke="#555" stroke-width="0.5" />
<text x="434.00" y="37.50" font-size="5.3" font-weight="bold" text-anchor="end" fill="#000" stroke="#000" stroke-width="0.15">20.0%</text>
<line x1="434.70" y1="22.15" x2="436.00" y2="22.15" stroke="#555" stroke-width="0.5" />
<text x="434.00" y="25.75" font-size="5.3" font-weight="bold" text-anchor="end" fill="#000" stroke="#000" stroke-width="0.15">25.0%</text>
<line x1="434.70" y1="10.40" x2="436.00" y2="10.40" stroke="#555" stroke-width="0.5" />
<text x="434.00" y="14.00" font-size="5.3" font-weight="bold" text-anchor="end" fill="#000" stroke="#000" stroke-width="0.15">30.0%</text>
<line x1="444.20" y1="80.90" x2="444.20" y2="79.70" stroke="#555" stroke-width="0.5" />
<text x="444.20" y="87.60" font-size="5.6" font-weight="bold" text-anchor="middle" fill="#000" stroke="#000" stroke-width="0.15">D0</text>
<line x1="453.54" y1="80.90" x2="453.54" y2="79.70" stroke="#555" stroke-width="0.5" />
<text x="453.54" y="87.60" font-size="5.6" font-weight="bold" text-anchor="middle" fill="#000" stroke="#000" stroke-width="0.15">D1</text>
<line x1="462.89" y1="80.90" x2="462.89" y2="79.70" stroke="#555" stroke-width="0.5" />
<text x="462.89" y="87.60" font-size="5.6" font-weight="bold" text-anchor="middle" fill="#000" stroke="#000" stroke-width="0.15">D2</text>
<line x1="472.23" y1="80.90" x2="472.23" y2="79.70" stroke="#555" stroke-width="0.5" />
<text x="472.23" y="87.60" font-size="5.6" font-weight="bold" text-anchor="middle" fill="#000" stroke="#000" stroke-width="0.15">D3</text>
<line x1="481.57" y1="80.90" x2="481.57" y2="79.70" stroke="#555" stroke-width="0.5" />
<text x="481.57" y="87.60" font-size="5.6" font-weight="bold" text-anchor="middle" fill="#000" stroke="#000" stroke-width="0.15">D4</text>
<line x1="490.91" y1="80.90" x2="490.91" y2="79.70" stroke="#555" stroke-width="0.5" />
<text x="490.91" y="87.60" font-size="5.6" font-weight="bold" text-anchor="middle" fill="#000" stroke="#000" stroke-width="0.15">D5</text>
<line x1="500.26" y1="80.90" x2="500.26" y2="79.70" stroke="#555" stroke-width="0.5" />
<text x="500.26" y="87.60" font-size="5.6" font-weight="bold" text-anchor="middle" fill="#000" stroke="#000" stroke-width="0.15">D6</text>
<line x1="509.60" y1="80.90" x2="509.60" y2="79.70" stroke="#555" stroke-width="0.5" />
<text x="509.60" y="87.60" font-size="5.6" font-weight="bold" text-anchor="middle" fill="#000" stroke="#000" stroke-width="0.15">D7</text>
<polyline points="444.2,54.6 453.5,45.7 462.9,17.9 472.2,64.7 481.6,35.5 490.9,44.0 500.3,51.1 509.6,61.2" fill="none" stroke="#4a78d8" stroke-width="0.7"/>
<rect x="443.30" y="53.68" width="1.80" height="1.80" fill="#4a78d8" />
<rect x="452.64" y="44.75" width="1.80" height="1.80" fill="#4a78d8" />
<rect x="461.99" y="17.02" width="1.80" height="1.80" fill="#4a78d8" />
<rect x="471.33" y="63.79" width="1.80" height="1.80" fill="#4a78d8" />
<rect x="480.67" y="34.65" width="1.80" height="1.80" fill="#4a78d8" />
<rect x="490.01" y="43.11" width="1.80" height="1.80" fill="#4a78d8" />
<rect x="499.36" y="50.16" width="1.80" height="1.80" fill="#4a78d8" />
<rect x="508.70" y="60.26" width="1.80" height="1.80" fill="#4a78d8" />
<polyline points="444.2,53.9 453.5,65.4 462.9,52.2 472.2,15.1 481.6,24.3 490.9,48.7 500.3,39.1 509.6,53.4" fill="none" stroke="#5a1cc0" stroke-width="0.7" stroke-dasharray="1.6,1.1"/>
<circle cx="444.20" cy="53.88" r="1.0" fill="#5a1cc0"/>
<circle cx="453.54" cy="65.39" r="1.0" fill="#5a1cc0"/>
<circle cx="462.89" cy="52.23" r="1.0" fill="#5a1cc0"/>
<circle cx="472.23" cy="15.10" r="1.0" fill="#5a1cc0"/>
<circle cx="481.57" cy="24.27" r="1.0" fill="#5a1cc0"/>
<circle cx="490.91" cy="48.71" r="1.0" fill="#5a1cc0"/>
<circle cx="500.26" cy="39.07" r="1.0" fill="#5a1cc0"/>
<circle cx="509.60" cy="53.41" r="1.0" fill="#5a1cc0"/>
<polyline points="444.2,80.9 453.5,22.4 462.9,65.9 472.2,67.3 481.6,64.7 490.9,55.3 500.3,39.1 509.6,27.6" fill="none" stroke="#d82a2a" stroke-width="0.8" stroke-dasharray="3,1.5"/>
<circle cx="444.20" cy="80.90" r="1.0" fill="#d82a2a"/>
<circle cx="453.54" cy="22.39" r="1.0" fill="#d82a2a"/>
<circle cx="462.89" cy="65.86" r="1.0" fill="#d82a2a"/>
<circle cx="472.23" cy="67.27" r="1.0" fill="#d82a2a"/>
<circle cx="481.57" cy="64.69" r="1.0" fill="#d82a2a"/>
<circle cx="490.91" cy="55.29" r="1.0" fill="#d82a2a"/>
<circle cx="500.26" cy="39.07" r="1.0" fill="#d82a2a"/>
<circle cx="509.60" cy="27.56" r="1.0" fill="#d82a2a"/>
<rect x="434.8" y="119.6" width="82.09999999999997" height="71.0" fill="#fff" stroke="#555" stroke-width="0.8"/>
<line x1="434.80" y1="190.60" x2="436.10" y2="190.60" stroke="#555" stroke-width="0.5" />
<text x="434.10" y="194.20" font-size="5.3" font-weight="bold" text-anchor="end" fill="#000" stroke="#000" stroke-width="0.15">0.0%</text>
<line x1="434.80" y1="180.46" x2="436.10" y2="180.46" stroke="#555" stroke-width="0.5" />
<text x="434.10" y="184.06" font-size="5.3" font-weight="bold" text-anchor="end" fill="#000" stroke="#000" stroke-width="0.15">2.0%</text>
<line x1="434.80" y1="170.31" x2="436.10" y2="170.31" stroke="#555" stroke-width="0.5" />
<text x="434.10" y="173.91" font-size="5.3" font-weight="bold" text-anchor="end" fill="#000" stroke="#000" stroke-width="0.15">4.0%</text>
<line x1="434.80" y1="160.17" x2="436.10" y2="160.17" stroke="#555" stroke-width="0.5" />
<text x="434.10" y="163.77" font-size="5.3" font-weight="bold" text-anchor="end" fill="#000" stroke="#000" stroke-width="0.15">6.0%</text>
<line x1="434.80" y1="150.03" x2="436.10" y2="150.03" stroke="#555" stroke-width="0.5" />
<text x="434.10" y="153.63" font-size="5.3" font-weight="bold" text-anchor="end" fill="#000" stroke="#000" stroke-width="0.15">8.0%</text>
<line x1="434.80" y1="139.89" x2="436.10" y2="139.89" stroke="#555" stroke-width="0.5" />
<text x="434.10" y="143.49" font-size="5.3" font-weight="bold" text-anchor="end" fill="#000" stroke="#000" stroke-width="0.15">10.0%</text>
<line x1="434.80" y1="129.74" x2="436.10" y2="129.74" stroke="#555" stroke-width="0.5" />
<text x="434.10" y="133.34" font-size="5.3" font-weight="bold" text-anchor="end" fill="#000" stroke="#000" stroke-width="0.15">12.0%</text>
<line x1="434.80" y1="119.60" x2="436.10" y2="119.60" stroke="#555" stroke-width="0.5" />
<text x="434.10" y="123.20" font-size="5.3" font-weight="bold" text-anchor="end" fill="#000" stroke="#000" stroke-width="0.15">14.0%</text>
<line x1="444.20" y1="190.60" x2="444.20" y2="189.40" stroke="#555" stroke-width="0.5" />
<text x="444.20" y="197.20" font-size="5.6" font-weight="bold" text-anchor="middle" fill="#000" stroke="#000" stroke-width="0.15">D0</text>
<line x1="453.56" y1="190.60" x2="453.56" y2="189.40" stroke="#555" stroke-width="0.5" />
<text x="453.56" y="197.20" font-size="5.6" font-weight="bold" text-anchor="middle" fill="#000" stroke="#000" stroke-width="0.15">D1</text>
<line x1="462.91" y1="190.60" x2="462.91" y2="189.40" stroke="#555" stroke-width="0.5" />
<text x="462.91" y="197.20" font-size="5.6" font-weight="bold" text-anchor="middle" fill="#000" stroke="#000" stroke-width="0.15">D2</text>
<line x1="472.27" y1="190.60" x2="472.27" y2="189.40" stroke="#555" stroke-width="0.5" />
<text x="472.27" y="197.20" font-size="5.6" font-weight="bold" text-anchor="middle" fill="#000" stroke="#000" stroke-width="0.15">D3</text>
<line x1="481.63" y1="190.60" x2="481.63" y2="189.40" stroke="#555" stroke-width="0.5" />
<text x="481.63" y="197.20" font-size="5.6" font-weight="bold" text-anchor="middle" fill="#000" stroke="#000" stroke-width="0.15">D4</text>
<line x1="490.99" y1="190.60" x2="490.99" y2="189.40" stroke="#555" stroke-width="0.5" />
<text x="490.99" y="197.20" font-size="5.6" font-weight="bold" text-anchor="middle" fill="#000" stroke="#000" stroke-width="0.15">D5</text>
<line x1="500.34" y1="190.60" x2="500.34" y2="189.40" stroke="#555" stroke-width="0.5" />
<text x="500.34" y="197.20" font-size="5.6" font-weight="bold" text-anchor="middle" fill="#000" stroke="#000" stroke-width="0.15">D6</text>
<line x1="509.70" y1="190.60" x2="509.70" y2="189.40" stroke="#555" stroke-width="0.5" />
<text x="509.70" y="197.20" font-size="5.6" font-weight="bold" text-anchor="middle" fill="#000" stroke="#000" stroke-width="0.15">D7</text>
<polyline points="444.2,168.8 453.6,157.6 462.9,161.2 472.3,158.1 481.6,129.7 491.0,151.0 500.3,173.4 509.7,175.4" fill="none" stroke="#2040d8" stroke-width="0.7"/>
<circle cx="444.20" cy="168.79" r="1.0" fill="#2040d8"/>
<circle cx="453.56" cy="157.64" r="1.0" fill="#2040d8"/>
<circle cx="462.91" cy="161.19" r="1.0" fill="#2040d8"/>
<circle cx="472.27" cy="158.14" r="1.0" fill="#2040d8"/>
<circle cx="481.63" cy="129.74" r="1.0" fill="#2040d8"/>
<circle cx="490.99" cy="151.04" r="1.0" fill="#2040d8"/>
<circle cx="500.34" cy="173.36" r="1.0" fill="#2040d8"/>
<circle cx="509.70" cy="175.39" r="1.0" fill="#2040d8"/>
<polyline points="444.2,160.7 453.6,150.5 462.9,178.4 472.3,190.6 481.6,166.8 491.0,147.0 500.3,173.4 509.7,156.1" fill="none" stroke="#28b028" stroke-width="0.8" stroke-dasharray="2,1.3"/>
<rect x="443.30" y="159.78" width="1.80" height="1.80" fill="#28b028" />
<rect x="452.66" y="149.64" width="1.80" height="1.80" fill="#28b028" />
<rect x="462.01" y="177.53" width="1.80" height="1.80" fill="#28b028" />
<rect x="471.37" y="189.70" width="1.80" height="1.80" fill="#28b028" />
<rect x="480.73" y="165.86" width="1.80" height="1.80" fill="#28b028" />
<rect x="490.09" y="146.09" width="1.80" height="1.80" fill="#28b028" />
<rect x="499.44" y="172.46" width="1.80" height="1.80" fill="#28b028" />
<rect x="508.80" y="155.21" width="1.80" height="1.80" fill="#28b028" />
<polyline points="444.2,187.0 453.6,190.6 462.9,184.5 472.3,155.6 481.6,164.2 491.0,175.4 500.3,136.8 509.7,134.8" fill="none" stroke="#e8308a" stroke-width="0.7" stroke-dasharray="3,1.5"/>
<circle cx="444.20" cy="187.05" r="1.0" fill="#e8308a"/>
<circle cx="453.56" cy="190.60" r="1.0" fill="#e8308a"/>
<circle cx="462.91" cy="184.51" r="1.0" fill="#e8308a"/>
<circle cx="472.27" cy="155.61" r="1.0" fill="#e8308a"/>
<circle cx="481.63" cy="164.23" r="1.0" fill="#e8308a"/>
<circle cx="490.99" cy="175.39" r="1.0" fill="#e8308a"/>
<circle cx="500.34" cy="136.84" r="1.0" fill="#e8308a"/>
<circle cx="509.70" cy="134.81" r="1.0" fill="#e8308a"/>
<rect x="434.5" y="226.1" width="79.70000000000005" height="71.9" fill="#fff" stroke="#555" stroke-width="0.8"/>
<line x1="434.50" y1="298.00" x2="435.80" y2="298.00" stroke="#555" stroke-width="0.5" />
<text x="433.80" y="301.60" font-size="5.3" font-weight="bold" text-anchor="end" fill="#000" stroke="#000" stroke-width="0.15">0.0%</text>
<line x1="434.50" y1="286.02" x2="435.80" y2="286.02" stroke="#555" stroke-width="0.5" />
<text x="433.80" y="289.62" font-size="5.3" font-weight="bold" text-anchor="end" fill="#000" stroke="#000" stroke-width="0.15">2.0%</text>
<line x1="434.50" y1="274.03" x2="435.80" y2="274.03" stroke="#555" stroke-width="0.5" />
<text x="433.80" y="277.63" font-size="5.3" font-weight="bold" text-anchor="end" fill="#000" stroke="#000" stroke-width="0.15">4.0%</text>
<line x1="434.50" y1="262.05" x2="435.80" y2="262.05" stroke="#555" stroke-width="0.5" />
<text x="433.80" y="265.65" font-size="5.3" font-weight="bold" text-anchor="end" fill="#000" stroke="#000" stroke-width="0.15">6.0%</text>
<line x1="434.50" y1="250.07" x2="435.80" y2="250.07" stroke="#555" stroke-width="0.5" />
<text x="433.80" y="253.67" font-size="5.3" font-weight="bold" text-anchor="end" fill="#000" stroke="#000" stroke-width="0.15">8.0%</text>
<line x1="434.50" y1="238.08" x2="435.80" y2="238.08" stroke="#555" stroke-width="0.5" />
<text x="433.80" y="241.68" font-size="5.3" font-weight="bold" text-anchor="end" fill="#000" stroke="#000" stroke-width="0.15">10.0%</text>
<line x1="434.50" y1="226.10" x2="435.80" y2="226.10" stroke="#555" stroke-width="0.5" />
<text x="433.80" y="229.70" font-size="5.3" font-weight="bold" text-anchor="end" fill="#000" stroke="#000" stroke-width="0.15">12.0%</text>
<line x1="444.60" y1="298.00" x2="444.60" y2="296.80" stroke="#555" stroke-width="0.5" />
<text x="444.60" y="303.90" font-size="5.6" font-weight="bold" text-anchor="middle" fill="#000" stroke="#000" stroke-width="0.15">D0</text>
<line x1="453.84" y1="298.00" x2="453.84" y2="296.80" stroke="#555" stroke-width="0.5" />
<text x="453.84" y="303.90" font-size="5.6" font-weight="bold" text-anchor="middle" fill="#000" stroke="#000" stroke-width="0.15">D1</text>
<line x1="463.09" y1="298.00" x2="463.09" y2="296.80" stroke="#555" stroke-width="0.5" />
<text x="463.09" y="303.90" font-size="5.6" font-weight="bold" text-anchor="middle" fill="#000" stroke="#000" stroke-width="0.15">D2</text>
<line x1="472.33" y1="298.00" x2="472.33" y2="296.80" stroke="#555" stroke-width="0.5" />
<text x="472.33" y="303.90" font-size="5.6" font-weight="bold" text-anchor="middle" fill="#000" stroke="#000" stroke-width="0.15">D3</text>
<line x1="481.57" y1="298.00" x2="481.57" y2="296.80" stroke="#555" stroke-width="0.5" />
<text x="481.57" y="303.90" font-size="5.6" font-weight="bold" text-anchor="middle" fill="#000" stroke="#000" stroke-width="0.15">D4</text>
<line x1="490.81" y1="298.00" x2="490.81" y2="296.80" stroke="#555" stroke-width="0.5" />
<text x="490.81" y="303.90" font-size="5.6" font-weight="bold" text-anchor="middle" fill="#000" stroke="#000" stroke-width="0.15">D5</text>
<line x1="500.06" y1="298.00" x2="500.06" y2="296.80" stroke="#555" stroke-width="0.5" />
<text x="500.06" y="303.90" font-size="5.6" font-weight="bold" text-anchor="middle" fill="#000" stroke="#000" stroke-width="0.15">D6</text>
<line x1="509.30" y1="298.00" x2="509.30" y2="296.80" stroke="#555" stroke-width="0.5" />
<text x="509.30" y="303.90" font-size="5.6" font-weight="bold" text-anchor="middle" fill="#000" stroke="#000" stroke-width="0.15">D7</text>
<polyline points="444.6,233.3 453.8,262.6 463.1,290.2 472.3,290.2 481.6,267.4 490.8,275.8 500.1,270.4 509.3,257.3" fill="none" stroke="#d8207a" stroke-width="0.8"/>
<circle cx="444.60" cy="233.29" r="1.0" fill="#d8207a"/>
<circle cx="453.84" cy="262.65" r="1.0" fill="#d8207a"/>
<circle cx="463.09" cy="290.21" r="1.0" fill="#d8207a"/>
<circle cx="472.33" cy="290.21" r="1.0" fill="#d8207a"/>
<circle cx="481.57" cy="267.44" r="1.0" fill="#d8207a"/>
<circle cx="490.81" cy="275.83" r="1.0" fill="#d8207a"/>
<circle cx="500.06" cy="270.44" r="1.0" fill="#d8207a"/>
<circle cx="509.30" cy="257.26" r="1.0" fill="#d8207a"/>
<polyline points="444.6,298.0 453.8,285.4 463.1,283.6 472.3,283.6 481.6,286.0 490.8,290.2 500.1,281.2 509.3,271.6" fill="none" stroke="#4848d0" stroke-width="0.8" stroke-dasharray="2.5,1.5"/>
<rect x="443.70" y="297.10" width="1.80" height="1.80" fill="#4848d0" />
<rect x="452.94" y="284.52" width="1.80" height="1.80" fill="#4848d0" />
<rect x="462.19" y="282.72" width="1.80" height="1.80" fill="#4848d0" />
<rect x="471.43" y="282.72" width="1.80" height="1.80" fill="#4848d0" />
<rect x="480.67" y="285.12" width="1.80" height="1.80" fill="#4848d0" />
<rect x="489.91" y="289.31" width="1.80" height="1.80" fill="#4848d0" />
<rect x="499.16" y="280.32" width="1.80" height="1.80" fill="#4848d0" />
<rect x="508.40" y="270.74" width="1.80" height="1.80" fill="#4848d0" />
<rect x="439.2" y="88.4" width="76.40000000000003" height="26.19999999999999" fill="#fff" stroke="#555" stroke-width="0.8"/>
<line x1="440.80" y1="93.70" x2="448.40" y2="93.70" stroke="#4472d8" stroke-width="0.6" />
<rect x="443.70" y="92.80" width="1.80" height="1.80" fill="#4472d8" />
<text x="450.70" y="93.00" font-size="4.4" font-weight="bold" text-anchor="start" fill="#4472d8" font-style="italic">Nucleoside, nucleotide and</text>
<text x="450.70" y="97.70" font-size="4.4" font-weight="bold" text-anchor="start" fill="#4472d8" font-style="italic">nucleic acid metabolism</text>
<line x1="440.80" y1="103.70" x2="448.40" y2="103.70" stroke="#5a1ccc" stroke-width="0.6" stroke-dasharray="1,1"/>
<circle cx="444.6" cy="103.7" r="1.0" fill="#5a1ccc"/>
<text x="450.70" y="103.10" font-size="4.4" font-weight="bold" text-anchor="start" fill="#5a1ccc" font-style="italic">Protein metabolism and</text>
<text x="450.70" y="107.50" font-size="4.4" font-weight="bold" text-anchor="start" fill="#5a1ccc" font-style="italic">modifications</text>
<line x1="440.80" y1="110.70" x2="448.40" y2="110.70" stroke="#b82020" stroke-width="0.6" stroke-dasharray="2,1"/>
<circle cx="444.6" cy="110.7" r="1.0" fill="#b82020"/>
<text x="450.70" y="112.30" font-size="4.4" font-weight="bold" text-anchor="start" fill="#b82020" font-style="italic">Signal transduction</text>
<rect x="438.0" y="200.0" width="79.39999999999998" height="22.400000000000006" fill="#fff" stroke="#555" stroke-width="0.8"/>
<line x1="442.60" y1="203.80" x2="450.20" y2="203.80" stroke="#2a3cc8" stroke-width="0.6" />
<circle cx="446.4" cy="203.8" r="1.0" fill="#2a3cc8"/>
<text x="452.10" y="205.40" font-size="4.72" font-weight="bold" text-anchor="start" fill="#2a3cc8" >Cell cycle</text>
<line x1="442.60" y1="210.80" x2="450.20" y2="210.80" stroke="#2aa02a" stroke-width="0.6" stroke-dasharray="1,1"/>
<rect x="445.50" y="209.90" width="1.80" height="1.80" fill="#2aa02a" />
<text x="452.10" y="210.30" font-size="4.72" font-weight="bold" text-anchor="start" fill="#2aa02a" >Cell proliferation and</text>
<text x="452.10" y="214.90" font-size="4.72" font-weight="bold" text-anchor="start" fill="#2aa02a" >differenciation</text>
<line x1="442.60" y1="219.10" x2="450.20" y2="219.10" stroke="#d82080" stroke-width="0.6" stroke-dasharray="2,1"/>
<circle cx="446.4" cy="219.1" r="1.0" fill="#d82080"/>
<text x="452.10" y="220.70" font-size="4.72" font-weight="bold" text-anchor="start" fill="#d82080" >Intracellular protein traffic</text>
<rect x="454.3" y="306.8" width="43.30000000000001" height="10.599999999999966" fill="#fff" stroke="#555" stroke-width="0.8"/>
<line x1="455.80" y1="310.20" x2="463.40" y2="310.20" stroke="#e020a0" stroke-width="0.6" />
<circle cx="459.6" cy="310.2" r="1.0" fill="#e020a0"/>
<text x="465.90" y="311.80" font-size="4.67" font-weight="bold" text-anchor="start" fill="#e020a0" >Apoptosis</text>
<line x1="455.80" y1="314.50" x2="463.40" y2="314.50" stroke="#3c3cd0" stroke-width="0.6" stroke-dasharray="2,1"/>
<rect x="458.70" y="313.60" width="1.80" height="1.80" fill="#3c3cd0" />
<text x="465.90" y="316.10" font-size="4.67" font-weight="bold" text-anchor="start" fill="#3c3cd0" >Oncogenesis</text>
<text transform="translate(407.3,227.3) rotate(-90)" font-size="8.05" font-weight="bold" fill="#111">Percent of gene hit on pathways</text>
<line x1="413.80" y1="90.00" x2="413.80" y2="242.50" stroke="#333" stroke-width="0.9" />
<path d="M411.6,90.6 L413.8,86.8 L416.0,90.6 Z" fill="#111"/>
<rect x="16.5" y="173.4" width="77.9" height="64.4" fill="#fff" stroke="#6a6a6a" stroke-width="0.8"/>
<line x1="15.50" y1="237.80" x2="16.50" y2="237.80" stroke="#555" stroke-width="0.4" />
<text x="15.30" y="239.35" font-size="4.3" font-weight="bold" text-anchor="end" fill="#000" stroke="#000" stroke-width="0.18">0</text>
<line x1="15.50" y1="230.64" x2="16.50" y2="230.64" stroke="#555" stroke-width="0.4" />
<text x="15.30" y="232.19" font-size="4.3" font-weight="bold" text-anchor="end" fill="#000" stroke="#000" stroke-width="0.18">10&#160;000</text>
<line x1="15.50" y1="223.49" x2="16.50" y2="223.49" stroke="#555" stroke-width="0.4" />
<text x="15.30" y="225.04" font-size="4.3" font-weight="bold" text-anchor="end" fill="#000" stroke="#000" stroke-width="0.18">20&#160;000</text>
<line x1="15.50" y1="216.33" x2="16.50" y2="216.33" stroke="#555" stroke-width="0.4" />
<text x="15.30" y="217.88" font-size="4.3" font-weight="bold" text-anchor="end" fill="#000" stroke="#000" stroke-width="0.18">30&#160;000</text>
<line x1="15.50" y1="209.18" x2="16.50" y2="209.18" stroke="#555" stroke-width="0.4" />
<text x="15.30" y="210.73" font-size="4.3" font-weight="bold" text-anchor="end" fill="#000" stroke="#000" stroke-width="0.18">40&#160;000</text>
<line x1="15.50" y1="202.02" x2="16.50" y2="202.02" stroke="#555" stroke-width="0.4" />
<text x="15.30" y="203.57" font-size="4.3" font-weight="bold" text-anchor="end" fill="#000" stroke="#000" stroke-width="0.18">50&#160;000</text>
<line x1="15.50" y1="194.87" x2="16.50" y2="194.87" stroke="#555" stroke-width="0.4" />
<text x="15.30" y="196.42" font-size="4.3" font-weight="bold" text-anchor="end" fill="#000" stroke="#000" stroke-width="0.18">60&#160;000</text>
<line x1="15.50" y1="187.71" x2="16.50" y2="187.71" stroke="#555" stroke-width="0.4" />
<text x="15.30" y="189.26" font-size="4.3" font-weight="bold" text-anchor="end" fill="#000" stroke="#000" stroke-width="0.18">70&#160;000</text>
<line x1="15.50" y1="180.56" x2="16.50" y2="180.56" stroke="#555" stroke-width="0.4" />
<text x="15.30" y="182.11" font-size="4.3" font-weight="bold" text-anchor="end" fill="#000" stroke="#000" stroke-width="0.18">80&#160;000</text>
<line x1="15.50" y1="173.40" x2="16.50" y2="173.40" stroke="#555" stroke-width="0.4" />
<text x="15.30" y="174.95" font-size="4.3" font-weight="bold" text-anchor="end" fill="#000" stroke="#000" stroke-width="0.18">90&#160;000</text>
<line x1="23.40" y1="237.80" x2="23.40" y2="238.70" stroke="#555" stroke-width="0.4" />
<text x="23.40" y="243.60" font-size="4.8" font-weight="bold" text-anchor="middle" fill="#000" stroke="#000" stroke-width="0.15">D0</text>
<line x1="33.10" y1="237.80" x2="33.10" y2="238.70" stroke="#555" stroke-width="0.4" />
<text x="33.10" y="243.60" font-size="4.8" font-weight="bold" text-anchor="middle" fill="#000" stroke="#000" stroke-width="0.15">D1</text>
<line x1="42.80" y1="237.80" x2="42.80" y2="238.70" stroke="#555" stroke-width="0.4" />
<text x="42.80" y="243.60" font-size="4.8" font-weight="bold" text-anchor="middle" fill="#000" stroke="#000" stroke-width="0.15">D2</text>
<line x1="52.50" y1="237.80" x2="52.50" y2="238.70" stroke="#555" stroke-width="0.4" />
<text x="52.50" y="243.60" font-size="4.8" font-weight="bold" text-anchor="middle" fill="#000" stroke="#000" stroke-width="0.15">D3</text>
<line x1="62.20" y1="237.80" x2="62.20" y2="238.70" stroke="#555" stroke-width="0.4" />
<text x="62.20" y="243.60" font-size="4.8" font-weight="bold" text-anchor="middle" fill="#000" stroke="#000" stroke-width="0.15">D4</text>
<line x1="71.90" y1="237.80" x2="71.90" y2="238.70" stroke="#555" stroke-width="0.4" />
<text x="71.90" y="243.60" font-size="4.8" font-weight="bold" text-anchor="middle" fill="#000" stroke="#000" stroke-width="0.15">D5</text>
<line x1="81.60" y1="237.80" x2="81.60" y2="238.70" stroke="#555" stroke-width="0.4" />
<text x="81.60" y="243.60" font-size="4.8" font-weight="bold" text-anchor="middle" fill="#000" stroke="#000" stroke-width="0.15">D6</text>
<line x1="91.30" y1="237.80" x2="91.30" y2="238.70" stroke="#555" stroke-width="0.4" />
<text x="91.30" y="243.60" font-size="4.8" font-weight="bold" text-anchor="middle" fill="#000" stroke="#000" stroke-width="0.15">D7</text>
<polyline points="22.0,223.7 31.7,236.8 41.4,237.3 51.1,237.3 60.8,237.3 70.5,237.4 80.2,237.4 89.9,237.5" fill="none" stroke="#30c080" stroke-width="0.75"/>
<path d="M22.0 223.7h0M31.7 236.8h0M41.4 237.3h0M51.1 237.3h0M60.8 237.3h0M70.5 237.4h0M80.2 237.4h0M89.9 237.5h0" stroke="#30c080" stroke-width="1.40" stroke-linecap="round"/>
<polyline points="22.0,225.4 31.7,237.0 41.4,237.3 51.1,237.4 60.8,237.5 70.5,237.5 80.2,237.6 89.9,237.3" fill="none" stroke="#9070d0" stroke-width="0.75"/>
<path d="M22.0 225.4h0M31.7 237.0h0M41.4 237.3h0M51.1 237.4h0M60.8 237.5h0M70.5 237.5h0M80.2 237.6h0M89.9 237.3h0" stroke="#9070d0" stroke-width="1.40" stroke-linecap="round"/>
<polyline points="22.0,225.8 31.7,237.1 41.4,237.3 51.1,237.5 60.8,237.5 70.5,237.4 80.2,237.4 89.9,237.5" fill="none" stroke="#80d080" stroke-width="0.75"/>
<path d="M22.0 225.8h0M31.7 237.1h0M41.4 237.3h0M51.1 237.5h0M60.8 237.5h0M70.5 237.4h0M80.2 237.4h0M89.9 237.5h0" stroke="#80d080" stroke-width="1.40" stroke-linecap="round"/>
<polyline points="22.0,225.8 31.7,237.0 41.4,237.4 51.1,237.4 60.8,237.4 70.5,237.3 80.2,237.4 89.9,237.3" fill="none" stroke="#c0c0c0" stroke-width="0.75"/>
<path d="M22.0 225.8h0M31.7 237.0h0M41.4 237.4h0M51.1 237.4h0M60.8 237.4h0M70.5 237.3h0M80.2 237.4h0M89.9 237.3h0" stroke="#c0c0c0" stroke-width="1.40" stroke-linecap="round"/>
<polyline points="22.0,226.0 31.7,237.1 41.4,237.4 51.1,237.3 60.8,237.3 70.5,237.5 80.2,237.4 89.9,237.3" fill="none" stroke="#109090" stroke-width="0.75"/>
<path d="M22.0 226.0h0M31.7 237.1h0M41.4 237.4h0M51.1 237.3h0M60.8 237.3h0M70.5 237.5h0M80.2 237.4h0M89.9 237.3h0" stroke="#109090" stroke-width="1.40" stroke-linecap="round"/>
<polyline points="22.0,226.0 31.7,237.2 41.4,237.3 51.1,237.4 60.8,237.3 70.5,237.4 80.2,237.5 89.9,237.3" fill="none" stroke="#203090" stroke-width="0.75"/>
<path d="M22.0 226.0h0M31.7 237.2h0M41.4 237.3h0M51.1 237.4h0M60.8 237.3h0M70.5 237.4h0M80.2 237.5h0M89.9 237.3h0" stroke="#203090" stroke-width="1.40" stroke-linecap="round"/>
<polyline points="22.0,226.4 31.7,236.8 41.4,237.3 51.1,237.2 60.8,237.3 70.5,237.4 80.2,237.5 89.9,237.4" fill="none" stroke="#a0e0e0" stroke-width="0.75"/>
<path d="M22.0 226.4h0M31.7 236.8h0M41.4 237.3h0M51.1 237.2h0M60.8 237.3h0M70.5 237.4h0M80.2 237.5h0M89.9 237.4h0" stroke="#a0e0e0" stroke-width="1.40" stroke-linecap="round"/>
<polyline points="22.0,226.6 31.7,236.9 41.4,237.2 51.1,237.3 60.8,237.4 70.5,237.4 80.2,237.4 89.9,237.3" fill="none" stroke="#a0e0e0" stroke-width="0.75"/>
<path d="M22.0 226.6h0M31.7 236.9h0M41.4 237.2h0M51.1 237.3h0M60.8 237.4h0M70.5 237.4h0M80.2 237.4h0M89.9 237.3h0" stroke="#a0e0e0" stroke-width="1.40" stroke-linecap="round"/>
<polyline points="22.0,226.7 31.7,237.0 41.4,237.1 51.1,237.3 60.8,237.4 70.5,237.3 80.2,237.6 89.9,237.3" fill="none" stroke="#a0e0e0" stroke-width="0.75"/>
<path d="M22.0 226.7h0M31.7 237.0h0M41.4 237.1h0M51.1 237.3h0M60.8 237.4h0M70.5 237.3h0M80.2 237.6h0M89.9 237.3h0" stroke="#a0e0e0" stroke-width="1.40" stroke-linecap="round"/>
<polyline points="22.0,228.2 31.7,236.9 41.4,237.4 51.1,237.4 60.8,237.4 70.5,237.4 80.2,237.6 89.9,237.5" fill="none" stroke="#a02060" stroke-width="0.75"/>
<path d="M22.0 228.2h0M31.7 236.9h0M41.4 237.4h0M51.1 237.4h0M60.8 237.4h0M70.5 237.4h0M80.2 237.6h0M89.9 237.5h0" stroke="#a02060" stroke-width="1.40" stroke-linecap="round"/>
<polyline points="22.0,229.8 31.7,237.1 41.4,237.3 51.1,237.4 60.8,237.4 70.5,237.4 80.2,237.6 89.9,237.4" fill="none" stroke="#80d080" stroke-width="0.75"/>
<path d="M22.0 229.8h0M31.7 237.1h0M41.4 237.3h0M51.1 237.4h0M60.8 237.4h0M70.5 237.4h0M80.2 237.6h0M89.9 237.4h0" stroke="#80d080" stroke-width="1.40" stroke-linecap="round"/>
<polyline points="22.0,229.8 31.7,237.0 41.4,237.4 51.1,237.4 60.8,237.6 70.5,237.4 80.2,237.5 89.9,237.5" fill="none" stroke="#a0e0e0" stroke-width="0.75"/>
<path d="M22.0 229.8h0M31.7 237.0h0M41.4 237.4h0M51.1 237.4h0M60.8 237.6h0M70.5 237.4h0M80.2 237.5h0M89.9 237.5h0" stroke="#a0e0e0" stroke-width="1.40" stroke-linecap="round"/>
<polyline points="22.0,230.0 31.7,236.9 41.4,237.3 51.1,237.3 60.8,237.4 70.5,237.2 80.2,237.6 89.9,237.4" fill="none" stroke="#3050c0" stroke-width="0.75"/>
<path d="M22.0 230.0h0M31.7 236.9h0M41.4 237.3h0M51.1 237.3h0M60.8 237.4h0M70.5 237.2h0M80.2 237.6h0M89.9 237.4h0" stroke="#3050c0" stroke-width="1.40" stroke-linecap="round"/>
<polyline points="22.0,230.2 31.7,237.0 41.4,237.4 51.1,237.3 60.8,237.4 70.5,237.5 80.2,237.6 89.9,237.5" fill="none" stroke="#60b030" stroke-width="0.75"/>
<path d="M22.0 230.2h0M31.7 237.0h0M41.4 237.4h0M51.1 237.3h0M60.8 237.4h0M70.5 237.5h0M80.2 237.6h0M89.9 237.5h0" stroke="#60b030" stroke-width="1.40" stroke-linecap="round"/>
<polyline points="22.0,230.3 31.7,237.4 41.4,237.3 51.1,237.6 60.8,237.4 70.5,237.6 80.2,237.6 89.9,237.4" fill="none" stroke="#b0c020" stroke-width="0.75"/>
<path d="M22.0 230.3h0M31.7 237.4h0M41.4 237.3h0M51.1 237.6h0M60.8 237.4h0M70.5 237.6h0M80.2 237.6h0M89.9 237.4h0" stroke="#b0c020" stroke-width="1.40" stroke-linecap="round"/>
<polyline points="22.0,231.0 31.7,237.0 41.4,237.3 51.1,237.5 60.8,237.4 70.5,237.5 80.2,237.6 89.9,237.4" fill="none" stroke="#2a2ab0" stroke-width="0.75"/>
<path d="M22.0 231.0h0M31.7 237.0h0M41.4 237.3h0M51.1 237.5h0M60.8 237.4h0M70.5 237.5h0M80.2 237.6h0M89.9 237.4h0" stroke="#2a2ab0" stroke-width="1.40" stroke-linecap="round"/>
<polyline points="22.0,231.1 31.7,237.0 41.4,237.2 51.1,237.4 60.8,237.4 70.5,237.3 80.2,237.5 89.9,237.5" fill="none" stroke="#000000" stroke-width="0.75"/>
<path d="M22.0 231.1h0M31.7 237.0h0M41.4 237.2h0M51.1 237.4h0M60.8 237.4h0M70.5 237.3h0M80.2 237.5h0M89.9 237.5h0" stroke="#000000" stroke-width="1.40" stroke-linecap="round"/>
<polyline points="22.0,231.2 31.7,237.1 41.4,237.4 51.1,237.4 60.8,237.6 70.5,237.6 80.2,237.6 89.9,237.5" fill="none" stroke="#508020" stroke-width="0.75"/>
<path d="M22.0 231.2h0M31.7 237.1h0M41.4 237.4h0M51.1 237.4h0M60.8 237.6h0M70.5 237.6h0M80.2 237.6h0M89.9 237.5h0" stroke="#508020" stroke-width="1.40" stroke-linecap="round"/>
<polyline points="22.0,231.3 31.7,237.5 41.4,237.6 51.1,237.5 60.8,237.6 70.5,237.5 80.2,237.7 89.9,237.6" fill="none" stroke="#a02060" stroke-width="0.75"/>
<path d="M22.0 231.3h0M31.7 237.5h0M41.4 237.6h0M51.1 237.5h0M60.8 237.6h0M70.5 237.5h0M80.2 237.7h0M89.9 237.6h0" stroke="#a02060" stroke-width="1.40" stroke-linecap="round"/>
<polyline points="22.0,232.4 31.7,237.2 41.4,237.5 51.1,237.6 60.8,237.5 70.5,237.5 80.2,237.5 89.9,237.6" fill="none" stroke="#b0c020" stroke-width="0.75"/>
<path d="M22.0 232.4h0M31.7 237.2h0M41.4 237.5h0M51.1 237.6h0M60.8 237.5h0M70.5 237.5h0M80.2 237.5h0M89.9 237.6h0" stroke="#b0c020" stroke-width="1.40" stroke-linecap="round"/>
<polyline points="22.0,232.7 31.7,237.4 41.4,237.6 51.1,237.6 60.8,237.6 70.5,237.6 80.2,237.7 89.9,237.7" fill="none" stroke="#000000" stroke-width="0.75"/>
<path d="M22.0 232.7h0M31.7 237.4h0M41.4 237.6h0M51.1 237.6h0M60.8 237.6h0M70.5 237.6h0M80.2 237.7h0M89.9 237.7h0" stroke="#000000" stroke-width="1.40" stroke-linecap="round"/>
<polyline points="22.0,232.7 31.7,237.3 41.4,237.4 51.1,237.5 60.8,237.6 70.5,237.6 80.2,237.6 89.9,237.5" fill="none" stroke="#1a1a80" stroke-width="0.75"/>
<path d="M22.0 232.7h0M31.7 237.3h0M41.4 237.4h0M51.1 237.5h0M60.8 237.6h0M70.5 237.6h0M80.2 237.6h0M89.9 237.5h0" stroke="#1a1a80" stroke-width="1.40" stroke-linecap="round"/>
<polyline points="22.0,232.8 31.7,237.3 41.4,237.4 51.1,237.5 60.8,237.5 70.5,237.6 80.2,237.6 89.9,237.6" fill="none" stroke="#b0c020" stroke-width="0.75"/>
<path d="M22.0 232.8h0M31.7 237.3h0M41.4 237.4h0M51.1 237.5h0M60.8 237.5h0M70.5 237.6h0M80.2 237.6h0M89.9 237.6h0" stroke="#b0c020" stroke-width="1.40" stroke-linecap="round"/>
<polyline points="22.0,232.9 31.7,237.5 41.4,237.6 51.1,237.6 60.8,237.7 70.5,237.6 80.2,237.7 89.9,237.6" fill="none" stroke="#508020" stroke-width="0.75"/>
<path d="M22.0 232.9h0M31.7 237.5h0M41.4 237.6h0M51.1 237.6h0M60.8 237.7h0M70.5 237.6h0M80.2 237.7h0M89.9 237.6h0" stroke="#508020" stroke-width="1.40" stroke-linecap="round"/>
<polyline points="22.0,233.3 31.7,237.5 41.4,237.6 51.1,237.6 60.8,237.7 70.5,237.6 80.2,237.7 89.9,237.6" fill="none" stroke="#404040" stroke-width="0.75"/>
<path d="M22.0 233.3h0M31.7 237.5h0M41.4 237.6h0M51.1 237.6h0M60.8 237.7h0M70.5 237.6h0M80.2 237.7h0M89.9 237.6h0" stroke="#404040" stroke-width="1.40" stroke-linecap="round"/>
<polyline points="22.0,233.4 31.7,237.5 41.4,237.6 51.1,237.6 60.8,237.7 70.5,237.6 80.2,237.6 89.9,237.6" fill="none" stroke="#40c0c0" stroke-width="0.75"/>
<path d="M22.0 233.4h0M31.7 237.5h0M41.4 237.6h0M51.1 237.6h0M60.8 237.7h0M70.5 237.6h0M80.2 237.6h0M89.9 237.6h0" stroke="#40c0c0" stroke-width="1.40" stroke-linecap="round"/>
<polyline points="22.0,234.1 31.7,237.6 41.4,237.6 51.1,237.6 60.8,237.7 70.5,237.6 80.2,237.7 89.9,237.6" fill="none" stroke="#109090" stroke-width="0.75"/>
<path d="M22.0 234.1h0M31.7 237.6h0M41.4 237.6h0M51.1 237.6h0M60.8 237.7h0M70.5 237.6h0M80.2 237.7h0M89.9 237.6h0" stroke="#109090" stroke-width="1.40" stroke-linecap="round"/>
<polyline points="22.0,234.4 31.7,237.5 41.4,237.6 51.1,237.7 60.8,237.7 70.5,237.7 80.2,237.7 89.9,237.7" fill="none" stroke="#c02020" stroke-width="0.75"/>
<path d="M22.0 234.4h0M31.7 237.5h0M41.4 237.6h0M51.1 237.7h0M60.8 237.7h0M70.5 237.7h0M80.2 237.7h0M89.9 237.7h0" stroke="#c02020" stroke-width="1.40" stroke-linecap="round"/>
<polyline points="22.0,234.6 31.7,237.5 41.4,237.6 51.1,237.7 60.8,237.7 70.5,237.6 80.2,237.7 89.9,237.7" fill="none" stroke="#000000" stroke-width="0.75"/>
<path d="M22.0 234.6h0M31.7 237.5h0M41.4 237.6h0M51.1 237.7h0M60.8 237.7h0M70.5 237.6h0M80.2 237.7h0M89.9 237.7h0" stroke="#000000" stroke-width="1.40" stroke-linecap="round"/>
<polyline points="22.0,235.6 31.7,237.6 41.4,237.6 51.1,237.7 60.8,237.7 70.5,237.7 80.2,237.7 89.9,237.7" fill="none" stroke="#d0d060" stroke-width="0.75"/>
<path d="M22.0 235.6h0M31.7 237.6h0M41.4 237.6h0M51.1 237.7h0M60.8 237.7h0M70.5 237.7h0M80.2 237.7h0M89.9 237.7h0" stroke="#d0d060" stroke-width="1.40" stroke-linecap="round"/>
<polyline points="22.0,236.0 31.7,237.6 41.4,237.7 51.1,237.7 60.8,237.7 70.5,237.7 80.2,237.7 89.9,237.7" fill="none" stroke="#e070c0" stroke-width="0.75"/>
<path d="M22.0 236.0h0M31.7 237.6h0M41.4 237.7h0M51.1 237.7h0M60.8 237.7h0M70.5 237.7h0M80.2 237.7h0M89.9 237.7h0" stroke="#e070c0" stroke-width="1.40" stroke-linecap="round"/>
<polyline points="22.0,236.0 31.7,237.7 41.4,237.7 51.1,237.7 60.8,237.8 70.5,237.7 80.2,237.7 89.9,237.7" fill="none" stroke="#20a060" stroke-width="0.75"/>
<path d="M22.0 236.0h0M31.7 237.7h0M41.4 237.7h0M51.1 237.7h0M60.8 237.8h0M70.5 237.7h0M80.2 237.7h0M89.9 237.7h0" stroke="#20a060" stroke-width="1.40" stroke-linecap="round"/>
<polyline points="22.0,236.1 31.7,237.6 41.4,237.7 51.1,237.7 60.8,237.7 70.5,237.7 80.2,237.8 89.9,237.7" fill="none" stroke="#c0c0c0" stroke-width="0.75"/>
<path d="M22.0 236.1h0M31.7 237.6h0M41.4 237.7h0M51.1 237.7h0M60.8 237.7h0M70.5 237.7h0M80.2 237.8h0M89.9 237.7h0" stroke="#c0c0c0" stroke-width="1.40" stroke-linecap="round"/>
<polyline points="22.0,236.3 31.7,237.7 41.4,237.7 51.1,237.7 60.8,237.7 70.5,237.7 80.2,237.7 89.9,237.7" fill="none" stroke="#1a1a80" stroke-width="0.75"/>
<path d="M22.0 236.3h0M31.7 237.7h0M41.4 237.7h0M51.1 237.7h0M60.8 237.7h0M70.5 237.7h0M80.2 237.7h0M89.9 237.7h0" stroke="#1a1a80" stroke-width="1.40" stroke-linecap="round"/>
<polyline points="22.0,236.3 31.7,237.6 41.4,237.7 51.1,237.7 60.8,237.7 70.5,237.7 80.2,237.8 89.9,237.7" fill="none" stroke="#d0d060" stroke-width="0.75"/>
<path d="M22.0 236.3h0M31.7 237.6h0M41.4 237.7h0M51.1 237.7h0M60.8 237.7h0M70.5 237.7h0M80.2 237.8h0M89.9 237.7h0" stroke="#d0d060" stroke-width="1.40" stroke-linecap="round"/>
<polyline points="22.0,236.4 31.7,237.7 41.4,237.7 51.1,237.7 60.8,237.7 70.5,237.7 80.2,237.8 89.9,237.7" fill="none" stroke="#e0e090" stroke-width="0.75"/>
<path d="M22.0 236.4h0M31.7 237.7h0M41.4 237.7h0M51.1 237.7h0M60.8 237.7h0M70.5 237.7h0M80.2 237.8h0M89.9 237.7h0" stroke="#e0e090" stroke-width="1.40" stroke-linecap="round"/>
<polyline points="22.0,236.5 31.7,237.7 41.4,237.8 51.1,237.8 60.8,237.8 70.5,237.8 80.2,237.8 89.9,237.8" fill="none" stroke="#a0e0e0" stroke-width="0.75"/>
<path d="M22.0 236.5h0M31.7 237.7h0M41.4 237.8h0M51.1 237.8h0M60.8 237.8h0M70.5 237.8h0M80.2 237.8h0M89.9 237.8h0" stroke="#a0e0e0" stroke-width="1.40" stroke-linecap="round"/>
<polyline points="22.0,236.6 31.7,237.7 41.4,237.8 51.1,237.8 60.8,237.8 70.5,237.8 80.2,237.8 89.9,237.8" fill="none" stroke="#203090" stroke-width="0.75"/>
<path d="M22.0 236.6h0M31.7 237.7h0M41.4 237.8h0M51.1 237.8h0M60.8 237.8h0M70.5 237.8h0M80.2 237.8h0M89.9 237.8h0" stroke="#203090" stroke-width="1.40" stroke-linecap="round"/>
<polyline points="22.0,237.4 31.7,237.8 41.4,237.8 51.1,237.8 60.8,237.8 70.5,237.8 80.2,237.8 89.9,237.8" fill="none" stroke="#000000" stroke-width="0.75"/>
<path d="M22.0 237.4h0M31.7 237.8h0M41.4 237.8h0M51.1 237.8h0M60.8 237.8h0M70.5 237.8h0M80.2 237.8h0M89.9 237.8h0" stroke="#000000" stroke-width="1.40" stroke-linecap="round"/>
<polyline points="22.0,237.6 31.7,237.8 41.4,237.8 51.1,237.8 60.8,237.8 70.5,237.8 80.2,237.8 89.9,237.8" fill="none" stroke="#d06020" stroke-width="0.75"/>
<path d="M22.0 237.6h0M31.7 237.8h0M41.4 237.8h0M51.1 237.8h0M60.8 237.8h0M70.5 237.8h0M80.2 237.8h0M89.9 237.8h0" stroke="#d06020" stroke-width="1.40" stroke-linecap="round"/>
<polyline points="22.0,237.6 31.7,237.8 41.4,237.8 51.1,237.8 60.8,237.8 70.5,237.8 80.2,237.8 89.9,237.8" fill="none" stroke="#c02020" stroke-width="0.75"/>
<path d="M22.0 237.6h0M31.7 237.8h0M41.4 237.8h0M51.1 237.8h0M60.8 237.8h0M70.5 237.8h0M80.2 237.8h0M89.9 237.8h0" stroke="#c02020" stroke-width="1.40" stroke-linecap="round"/>
<polyline points="22.0,237.7 31.7,237.8 41.4,237.8 51.1,237.8 60.8,237.8 70.5,237.8 80.2,237.8 89.9,237.8" fill="none" stroke="#2080c0" stroke-width="0.75"/>
<path d="M22.0 237.7h0M31.7 237.8h0M41.4 237.8h0M51.1 237.8h0M60.8 237.8h0M70.5 237.8h0M80.2 237.8h0M89.9 237.8h0" stroke="#2080c0" stroke-width="1.40" stroke-linecap="round"/>
<polyline points="22.0,237.8 31.7,237.8 41.4,237.8 51.1,237.8 60.8,237.8 70.5,237.8 80.2,237.8 89.9,237.8" fill="none" stroke="#1a1a80" stroke-width="0.75"/>
<path d="M22.0 237.8h0M31.7 237.8h0M41.4 237.8h0M51.1 237.8h0M60.8 237.8h0M70.5 237.8h0M80.2 237.8h0M89.9 237.8h0" stroke="#1a1a80" stroke-width="1.40" stroke-linecap="round"/>
<polyline points="22.0,237.8 31.7,237.8 41.4,237.8 51.1,237.8 60.8,237.8 70.5,237.8 80.2,237.8 89.9,237.8" fill="none" stroke="#9070d0" stroke-width="0.75"/>
<path d="M22.0 237.8h0M31.7 237.8h0M41.4 237.8h0M51.1 237.8h0M60.8 237.8h0M70.5 237.8h0M80.2 237.8h0M89.9 237.8h0" stroke="#9070d0" stroke-width="1.40" stroke-linecap="round"/>
<polyline points="22.0,180.6 31.7,229.2 41.4,236.0 51.1,236.7 60.8,236.7 70.5,236.7 80.2,237.1 89.9,236.7" fill="none" stroke="#7070d0" stroke-width="0.85"/>
<path d="M22.0 180.6h0M31.7 229.2h0M41.4 236.0h0M51.1 236.7h0M60.8 236.7h0M70.5 236.7h0M80.2 237.1h0M89.9 236.7h0" stroke="#7070d0" stroke-width="1.70" stroke-linecap="round"/>
<polyline points="22.0,205.6 31.7,235.7 41.4,237.1 51.1,237.2 60.8,237.2 70.5,237.2 80.2,237.4 89.9,237.2" fill="none" stroke="#f0f0a0" stroke-width="0.85"/>
<path d="M22.0 205.6h0M31.7 235.7h0M41.4 237.1h0M51.1 237.2h0M60.8 237.2h0M70.5 237.2h0M80.2 237.4h0M89.9 237.2h0" stroke="#f0f0a0" stroke-width="1.70" stroke-linecap="round"/>
<polyline points="22.0,219.2 31.7,236.4 41.4,237.2 51.1,237.4 60.8,237.4 70.5,237.4 80.2,237.5 89.9,237.4" fill="none" stroke="#c0a0e0" stroke-width="0.85"/>
<path d="M22.0 219.2h0M31.7 236.4h0M41.4 237.2h0M51.1 237.4h0M60.8 237.4h0M70.5 237.4h0M80.2 237.5h0M89.9 237.4h0" stroke="#c0a0e0" stroke-width="1.70" stroke-linecap="round"/>
<polyline points="22.0,221.3 31.7,236.5 41.4,237.2 51.1,237.4 60.8,237.4 70.5,237.4 80.2,237.5 89.9,237.4" fill="none" stroke="#b090e0" stroke-width="0.85"/>
<path d="M22.0 221.3h0M31.7 236.5h0M41.4 237.2h0M51.1 237.4h0M60.8 237.4h0M70.5 237.4h0M80.2 237.5h0M89.9 237.4h0" stroke="#b090e0" stroke-width="1.70" stroke-linecap="round"/>
<polyline points="22.0,224.9 31.7,236.7 41.4,237.2 51.1,237.4 60.8,237.4 70.5,237.4 80.2,237.5 89.9,237.4" fill="none" stroke="#d0b0f0" stroke-width="0.85"/>
<path d="M22.0 224.9h0M31.7 236.7h0M41.4 237.2h0M51.1 237.4h0M60.8 237.4h0M70.5 237.4h0M80.2 237.5h0M89.9 237.4h0" stroke="#d0b0f0" stroke-width="1.70" stroke-linecap="round"/>
<polyline points="22.0,228.5 31.7,236.9 41.4,237.2 51.1,237.4 60.8,237.4 70.5,237.4 80.2,237.5 89.9,237.4" fill="none" stroke="#f0d060" stroke-width="0.85"/>
<path d="M22.0 228.5h0M31.7 236.9h0M41.4 237.2h0M51.1 237.4h0M60.8 237.4h0M70.5 237.4h0M80.2 237.5h0M89.9 237.4h0" stroke="#f0d060" stroke-width="1.70" stroke-linecap="round"/>
<polyline points="22.0,194.9 31.7,236.4 41.4,237.1 51.1,237.2 60.8,237.2 70.5,237.2 80.2,237.4 89.9,237.2" fill="none" stroke="#e0f080" stroke-width="0.85"/>
<path d="M22.0 194.9h0M31.7 236.4h0M41.4 237.1h0M51.1 237.2h0M60.8 237.2h0M70.5 237.2h0M80.2 237.4h0M89.9 237.2h0" stroke="#e0f080" stroke-width="1.70" stroke-linecap="round"/>
<polyline points="22.0,214.9 31.7,236.7 41.4,237.2 51.1,237.4 60.8,237.4 70.5,237.4 80.2,237.5 89.9,237.4" fill="none" stroke="#a040c0" stroke-width="0.85"/>
<path d="M22.0 214.9h0M31.7 236.7h0M41.4 237.2h0M51.1 237.4h0M60.8 237.4h0M70.5 237.4h0M80.2 237.5h0M89.9 237.4h0" stroke="#a040c0" stroke-width="1.70" stroke-linecap="round"/>
<polyline points="22.0,217.8 31.7,236.7 41.4,237.2 51.1,237.4 60.8,237.4 70.5,237.4 80.2,237.5 89.9,237.4" fill="none" stroke="#8030a0" stroke-width="0.85"/>
<path d="M22.0 217.8h0M31.7 236.7h0M41.4 237.2h0M51.1 237.4h0M60.8 237.4h0M70.5 237.4h0M80.2 237.5h0M89.9 237.4h0" stroke="#8030a0" stroke-width="1.70" stroke-linecap="round"/>
<polyline points="22.0,223.5 31.7,237.1 41.4,237.4 51.1,237.6 60.8,237.6 70.5,237.6 80.2,237.6 89.9,237.6" fill="none" stroke="#c070e0" stroke-width="0.85"/>
<path d="M22.0 223.5h0M31.7 237.1h0M41.4 237.4h0M51.1 237.6h0M60.8 237.6h0M70.5 237.6h0M80.2 237.6h0M89.9 237.6h0" stroke="#c070e0" stroke-width="1.70" stroke-linecap="round"/>
<polyline points="22.0,227.1 31.7,237.2 41.4,237.5 51.1,237.6 60.8,237.6 70.5,237.6 80.2,237.6 89.9,237.6" fill="none" stroke="#e0c020" stroke-width="0.85"/>
<path d="M22.0 227.1h0M31.7 237.2h0M41.4 237.5h0M51.1 237.6h0M60.8 237.6h0M70.5 237.6h0M80.2 237.6h0M89.9 237.6h0" stroke="#e0c020" stroke-width="1.70" stroke-linecap="round"/>
<polyline points="22.0,229.9 31.7,237.2 41.4,236.7 51.1,236.9 60.8,236.7 70.5,236.9 80.2,237.4 89.9,236.5" fill="none" stroke="#000000" stroke-width="0.85"/>
<path d="M22.0 229.9h0M31.7 237.2h0M41.4 236.7h0M51.1 236.9h0M60.8 236.7h0M70.5 236.9h0M80.2 237.4h0M89.9 236.5h0" stroke="#000000" stroke-width="1.70" stroke-linecap="round"/>
<polyline points="22.0,232.1 31.7,237.1 41.4,236.4 51.1,236.5 60.8,236.0 70.5,236.5 80.2,237.2 89.9,236.4" fill="none" stroke="#101050" stroke-width="0.85"/>
<path d="M22.0 232.1h0M31.7 237.1h0M41.4 236.4h0M51.1 236.5h0M60.8 236.0h0M70.5 236.5h0M80.2 237.2h0M89.9 236.4h0" stroke="#101050" stroke-width="1.70" stroke-linecap="round"/>
<rect x="17.1" y="236.4" width="76.7" height="1.0" fill="#1a1a60" opacity="0.7"/>
<text x="92.80" y="183.00" font-size="7.8" font-weight="bold" text-anchor="end" fill="#000" >D0</text>
<rect x="112.8" y="173.4" width="77.50000000000001" height="64.4" fill="#fff" stroke="#6a6a6a" stroke-width="0.8"/>
<line x1="111.80" y1="237.80" x2="112.80" y2="237.80" stroke="#555" stroke-width="0.4" />
<text x="111.60" y="239.35" font-size="4.3" font-weight="bold" text-anchor="end" fill="#000" stroke="#000" stroke-width="0.18">0</text>
<line x1="111.80" y1="224.92" x2="112.80" y2="224.92" stroke="#555" stroke-width="0.4" />
<text x="111.60" y="226.47" font-size="4.3" font-weight="bold" text-anchor="end" fill="#000" stroke="#000" stroke-width="0.18">5000</text>
<line x1="111.80" y1="212.04" x2="112.80" y2="212.04" stroke="#555" stroke-width="0.4" />
<text x="111.60" y="213.59" font-size="4.3" font-weight="bold" text-anchor="end" fill="#000" stroke="#000" stroke-width="0.18">10&#160;000</text>
<line x1="111.80" y1="199.16" x2="112.80" y2="199.16" stroke="#555" stroke-width="0.4" />
<text x="111.60" y="200.71" font-size="4.3" font-weight="bold" text-anchor="end" fill="#000" stroke="#000" stroke-width="0.18">15&#160;000</text>
<line x1="111.80" y1="186.28" x2="112.80" y2="186.28" stroke="#555" stroke-width="0.4" />
<text x="111.60" y="187.83" font-size="4.3" font-weight="bold" text-anchor="end" fill="#000" stroke="#000" stroke-width="0.18">20&#160;000</text>
<line x1="111.80" y1="173.40" x2="112.80" y2="173.40" stroke="#555" stroke-width="0.4" />
<text x="111.60" y="174.95" font-size="4.3" font-weight="bold" text-anchor="end" fill="#000" stroke="#000" stroke-width="0.18">25&#160;000</text>
<line x1="119.70" y1="237.80" x2="119.70" y2="238.70" stroke="#555" stroke-width="0.4" />
<text x="119.70" y="243.60" font-size="4.8" font-weight="bold" text-anchor="middle" fill="#000" stroke="#000" stroke-width="0.15">D0</text>
<line x1="129.40" y1="237.80" x2="129.40" y2="238.70" stroke="#555" stroke-width="0.4" />
<text x="129.40" y="243.60" font-size="4.8" font-weight="bold" text-anchor="middle" fill="#000" stroke="#000" stroke-width="0.15">D1</text>
<line x1="139.10" y1="237.80" x2="139.10" y2="238.70" stroke="#555" stroke-width="0.4" />
<text x="139.10" y="243.60" font-size="4.8" font-weight="bold" text-anchor="middle" fill="#000" stroke="#000" stroke-width="0.15">D2</text>
<line x1="148.80" y1="237.80" x2="148.80" y2="238.70" stroke="#555" stroke-width="0.4" />
<text x="148.80" y="243.60" font-size="4.8" font-weight="bold" text-anchor="middle" fill="#000" stroke="#000" stroke-width="0.15">D3</text>
<line x1="158.50" y1="237.80" x2="158.50" y2="238.70" stroke="#555" stroke-width="0.4" />
<text x="158.50" y="243.60" font-size="4.8" font-weight="bold" text-anchor="middle" fill="#000" stroke="#000" stroke-width="0.15">D4</text>
<line x1="168.20" y1="237.80" x2="168.20" y2="238.70" stroke="#555" stroke-width="0.4" />
<text x="168.20" y="243.60" font-size="4.8" font-weight="bold" text-anchor="middle" fill="#000" stroke="#000" stroke-width="0.15">D5</text>
<line x1="177.90" y1="237.80" x2="177.90" y2="238.70" stroke="#555" stroke-width="0.4" />
<text x="177.90" y="243.60" font-size="4.8" font-weight="bold" text-anchor="middle" fill="#000" stroke="#000" stroke-width="0.15">D6</text>
<line x1="187.60" y1="237.80" x2="187.60" y2="238.70" stroke="#555" stroke-width="0.4" />
<text x="187.60" y="243.60" font-size="4.8" font-weight="bold" text-anchor="middle" fill="#000" stroke="#000" stroke-width="0.15">D7</text>
<polyline points="118.3,216.8 128.0,206.4 137.7,224.2 147.4,229.1 157.1,231.1 166.8,230.3 176.5,232.1 186.2,232.4" fill="none" stroke="#1a1a80" stroke-width="0.75"/>
<path d="M118.3 216.8h0M128.0 206.4h0M137.7 224.2h0M147.4 229.1h0M157.1 231.1h0M166.8 230.3h0M176.5 232.1h0M186.2 232.4h0" stroke="#1a1a80" stroke-width="1.40" stroke-linecap="round"/>
<polyline points="118.3,220.0 128.0,206.6 137.7,225.3 147.4,228.8 157.1,229.5 166.8,232.7 176.5,234.0 186.2,233.7" fill="none" stroke="#9070d0" stroke-width="0.75"/>
<path d="M118.3 220.0h0M128.0 206.6h0M137.7 225.3h0M147.4 228.8h0M157.1 229.5h0M166.8 232.7h0M176.5 234.0h0M186.2 233.7h0" stroke="#9070d0" stroke-width="1.40" stroke-linecap="round"/>
<polyline points="118.3,227.2 128.0,208.0 137.7,230.8 147.4,230.9 157.1,229.8 166.8,232.8 176.5,234.0 186.2,232.4" fill="none" stroke="#f0e060" stroke-width="0.75"/>
<path d="M118.3 227.2h0M128.0 208.0h0M137.7 230.8h0M147.4 230.9h0M157.1 229.8h0M166.8 232.8h0M176.5 234.0h0M186.2 232.4h0" stroke="#f0e060" stroke-width="1.40" stroke-linecap="round"/>
<polyline points="118.3,226.5 128.0,208.6 137.7,226.9 147.4,226.3 157.1,229.4 166.8,231.5 176.5,231.4 186.2,231.7" fill="none" stroke="#404040" stroke-width="0.75"/>
<path d="M118.3 226.5h0M128.0 208.6h0M137.7 226.9h0M147.4 226.3h0M157.1 229.4h0M166.8 231.5h0M176.5 231.4h0M186.2 231.7h0" stroke="#404040" stroke-width="1.40" stroke-linecap="round"/>
<polyline points="118.3,225.3 128.0,209.1 137.7,227.0 147.4,227.8 157.1,231.0 166.8,234.1 176.5,232.2 186.2,234.4" fill="none" stroke="#a02060" stroke-width="0.75"/>
<path d="M118.3 225.3h0M128.0 209.1h0M137.7 227.0h0M147.4 227.8h0M157.1 231.0h0M166.8 234.1h0M176.5 232.2h0M186.2 234.4h0" stroke="#a02060" stroke-width="1.40" stroke-linecap="round"/>
<polyline points="118.3,220.7 128.0,209.4 137.7,224.9 147.4,230.5 157.1,231.1 166.8,230.2 176.5,232.0 186.2,234.3" fill="none" stroke="#203090" stroke-width="0.75"/>
<path d="M118.3 220.7h0M128.0 209.4h0M137.7 224.9h0M147.4 230.5h0M157.1 231.1h0M166.8 230.2h0M176.5 232.0h0M186.2 234.3h0" stroke="#203090" stroke-width="1.40" stroke-linecap="round"/>
<polyline points="118.3,227.0 128.0,215.9 137.7,226.0 147.4,229.7 157.1,231.8 166.8,233.8 176.5,234.1 186.2,232.9" fill="none" stroke="#508020" stroke-width="0.75"/>
<path d="M118.3 227.0h0M128.0 215.9h0M137.7 226.0h0M147.4 229.7h0M157.1 231.8h0M166.8 233.8h0M176.5 234.1h0M186.2 232.9h0" stroke="#508020" stroke-width="1.40" stroke-linecap="round"/>
<polyline points="118.3,227.1 128.0,216.5 137.7,227.4 147.4,232.2 157.1,231.5 166.8,234.1 176.5,232.8 186.2,233.3" fill="none" stroke="#6040b0" stroke-width="0.75"/>
<path d="M118.3 227.1h0M128.0 216.5h0M137.7 227.4h0M147.4 232.2h0M157.1 231.5h0M166.8 234.1h0M176.5 232.8h0M186.2 233.3h0" stroke="#6040b0" stroke-width="1.40" stroke-linecap="round"/>
<polyline points="118.3,220.4 128.0,217.1 137.7,227.5 147.4,225.9 157.1,228.1 166.8,230.9 176.5,233.0 186.2,232.5" fill="none" stroke="#f09060" stroke-width="0.75"/>
<path d="M118.3 220.4h0M128.0 217.1h0M137.7 227.5h0M147.4 225.9h0M157.1 228.1h0M166.8 230.9h0M176.5 233.0h0M186.2 232.5h0" stroke="#f09060" stroke-width="1.40" stroke-linecap="round"/>
<polyline points="118.3,228.0 128.0,219.5 137.7,232.0 147.4,230.1 157.1,232.0 166.8,234.4 176.5,233.9 186.2,234.1" fill="none" stroke="#80d080" stroke-width="0.75"/>
<path d="M118.3 228.0h0M128.0 219.5h0M137.7 232.0h0M147.4 230.1h0M157.1 232.0h0M166.8 234.4h0M176.5 233.9h0M186.2 234.1h0" stroke="#80d080" stroke-width="1.40" stroke-linecap="round"/>
<polyline points="118.3,228.8 128.0,219.6 137.7,230.7 147.4,232.3 157.1,234.7 166.8,235.4 176.5,235.6 186.2,234.9" fill="none" stroke="#80d080" stroke-width="0.75"/>
<path d="M118.3 228.8h0M128.0 219.6h0M137.7 230.7h0M147.4 232.3h0M157.1 234.7h0M166.8 235.4h0M176.5 235.6h0M186.2 234.9h0" stroke="#80d080" stroke-width="1.40" stroke-linecap="round"/>
<polyline points="118.3,230.8 128.0,220.4 137.7,233.0 147.4,233.1 157.1,232.6 166.8,233.3 176.5,234.3 186.2,235.5" fill="none" stroke="#90d0a0" stroke-width="0.75"/>
<path d="M118.3 230.8h0M128.0 220.4h0M137.7 233.0h0M147.4 233.1h0M157.1 232.6h0M166.8 233.3h0M176.5 234.3h0M186.2 235.5h0" stroke="#90d0a0" stroke-width="1.40" stroke-linecap="round"/>
<polyline points="118.3,229.1 128.0,221.4 137.7,230.4 147.4,231.9 157.1,232.9 166.8,234.8 176.5,234.6 186.2,234.2" fill="none" stroke="#e0b020" stroke-width="0.75"/>
<path d="M118.3 229.1h0M128.0 221.4h0M137.7 230.4h0M147.4 231.9h0M157.1 232.9h0M166.8 234.8h0M176.5 234.6h0M186.2 234.2h0" stroke="#e0b020" stroke-width="1.40" stroke-linecap="round"/>
<polyline points="118.3,230.5 128.0,222.7 137.7,230.6 147.4,233.6 157.1,233.5 166.8,234.6 176.5,235.0 186.2,235.2" fill="none" stroke="#d0d060" stroke-width="0.75"/>
<path d="M118.3 230.5h0M128.0 222.7h0M137.7 230.6h0M147.4 233.6h0M157.1 233.5h0M166.8 234.6h0M176.5 235.0h0M186.2 235.2h0" stroke="#d0d060" stroke-width="1.40" stroke-linecap="round"/>
<polyline points="118.3,228.0 128.0,223.0 137.7,232.4 147.4,233.5 157.1,233.6 166.8,234.2 176.5,234.6 186.2,235.5" fill="none" stroke="#203090" stroke-width="0.75"/>
<path d="M118.3 228.0h0M128.0 223.0h0M137.7 232.4h0M147.4 233.5h0M157.1 233.6h0M166.8 234.2h0M176.5 234.6h0M186.2 235.5h0" stroke="#203090" stroke-width="1.40" stroke-linecap="round"/>
<polyline points="118.3,228.2 128.0,223.0 137.7,231.9 147.4,232.2 157.1,231.6 166.8,233.6 176.5,235.0 186.2,234.2" fill="none" stroke="#e0e090" stroke-width="0.75"/>
<path d="M118.3 228.2h0M128.0 223.0h0M137.7 231.9h0M147.4 232.2h0M157.1 231.6h0M166.8 233.6h0M176.5 235.0h0M186.2 234.2h0" stroke="#e0e090" stroke-width="1.40" stroke-linecap="round"/>
<polyline points="118.3,225.8 128.0,225.1 137.7,229.3 147.4,230.7 157.1,232.6 166.8,234.7 176.5,233.4 186.2,234.9" fill="none" stroke="#90d0a0" stroke-width="0.75"/>
<path d="M118.3 225.8h0M128.0 225.1h0M137.7 229.3h0M147.4 230.7h0M157.1 232.6h0M166.8 234.7h0M176.5 233.4h0M186.2 234.9h0" stroke="#90d0a0" stroke-width="1.40" stroke-linecap="round"/>
<polyline points="118.3,232.0 128.0,226.0 137.7,233.7 147.4,233.5 157.1,234.9 166.8,235.3 176.5,236.2 186.2,236.1" fill="none" stroke="#30c080" stroke-width="0.75"/>
<path d="M118.3 232.0h0M128.0 226.0h0M137.7 233.7h0M147.4 233.5h0M157.1 234.9h0M166.8 235.3h0M176.5 236.2h0M186.2 236.1h0" stroke="#30c080" stroke-width="1.40" stroke-linecap="round"/>
<polyline points="118.3,230.5 128.0,226.0 137.7,232.8 147.4,234.3 157.1,235.1 166.8,236.1 176.5,235.1 186.2,235.5" fill="none" stroke="#702080" stroke-width="0.75"/>
<path d="M118.3 230.5h0M128.0 226.0h0M137.7 232.8h0M147.4 234.3h0M157.1 235.1h0M166.8 236.1h0M176.5 235.1h0M186.2 235.5h0" stroke="#702080" stroke-width="1.40" stroke-linecap="round"/>
<polyline points="118.3,231.3 128.0,226.1 137.7,234.5 147.4,233.4 157.1,235.2 166.8,235.6 176.5,236.2 186.2,235.8" fill="none" stroke="#404040" stroke-width="0.75"/>
<path d="M118.3 231.3h0M128.0 226.1h0M137.7 234.5h0M147.4 233.4h0M157.1 235.2h0M166.8 235.6h0M176.5 236.2h0M186.2 235.8h0" stroke="#404040" stroke-width="1.40" stroke-linecap="round"/>
<polyline points="118.3,228.2 128.0,226.2 137.7,234.1 147.4,232.3 157.1,234.6 166.8,235.5 176.5,235.4 186.2,235.1" fill="none" stroke="#1a1a80" stroke-width="0.75"/>
<path d="M118.3 228.2h0M128.0 226.2h0M137.7 234.1h0M147.4 232.3h0M157.1 234.6h0M166.8 235.5h0M176.5 235.4h0M186.2 235.1h0" stroke="#1a1a80" stroke-width="1.40" stroke-linecap="round"/>
<polyline points="118.3,231.1 128.0,226.6 137.7,234.6 147.4,235.3 157.1,235.2 166.8,235.9 176.5,235.4 186.2,235.8" fill="none" stroke="#404040" stroke-width="0.75"/>
<path d="M118.3 231.1h0M128.0 226.6h0M137.7 234.6h0M147.4 235.3h0M157.1 235.2h0M166.8 235.9h0M176.5 235.4h0M186.2 235.8h0" stroke="#404040" stroke-width="1.40" stroke-linecap="round"/>
<polyline points="118.3,231.6 128.0,226.8 137.7,232.9 147.4,234.0 157.1,234.2 166.8,236.0 176.5,235.2 186.2,235.9" fill="none" stroke="#e070c0" stroke-width="0.75"/>
<path d="M118.3 231.6h0M128.0 226.8h0M137.7 232.9h0M147.4 234.0h0M157.1 234.2h0M166.8 236.0h0M176.5 235.2h0M186.2 235.9h0" stroke="#e070c0" stroke-width="1.40" stroke-linecap="round"/>
<polyline points="118.3,229.4 128.0,227.7 137.7,232.9 147.4,234.2 157.1,233.3 166.8,235.7 176.5,234.7 186.2,236.1" fill="none" stroke="#203090" stroke-width="0.75"/>
<path d="M118.3 229.4h0M128.0 227.7h0M137.7 232.9h0M147.4 234.2h0M157.1 233.3h0M166.8 235.7h0M176.5 234.7h0M186.2 236.1h0" stroke="#203090" stroke-width="1.40" stroke-linecap="round"/>
<polyline points="118.3,232.1 128.0,228.2 137.7,235.0 147.4,235.7 157.1,235.5 166.8,235.7 176.5,236.2 186.2,236.2" fill="none" stroke="#a0e0e0" stroke-width="0.75"/>
<path d="M118.3 232.1h0M128.0 228.2h0M137.7 235.0h0M147.4 235.7h0M157.1 235.5h0M166.8 235.7h0M176.5 236.2h0M186.2 236.2h0" stroke="#a0e0e0" stroke-width="1.40" stroke-linecap="round"/>
<polyline points="118.3,233.4 128.0,228.7 137.7,235.2 147.4,235.6 157.1,235.8 166.8,235.8 176.5,235.9 186.2,236.2" fill="none" stroke="#f0e060" stroke-width="0.75"/>
<path d="M118.3 233.4h0M128.0 228.7h0M137.7 235.2h0M147.4 235.6h0M157.1 235.8h0M166.8 235.8h0M176.5 235.9h0M186.2 236.2h0" stroke="#f0e060" stroke-width="1.40" stroke-linecap="round"/>
<polyline points="118.3,230.4 128.0,228.7 137.7,234.0 147.4,234.7 157.1,234.7 166.8,235.3 176.5,236.2 186.2,236.0" fill="none" stroke="#60a0e0" stroke-width="0.75"/>
<path d="M118.3 230.4h0M128.0 228.7h0M137.7 234.0h0M147.4 234.7h0M157.1 234.7h0M166.8 235.3h0M176.5 236.2h0M186.2 236.0h0" stroke="#60a0e0" stroke-width="1.40" stroke-linecap="round"/>
<polyline points="118.3,233.9 128.0,228.8 137.7,234.5 147.4,234.8 157.1,235.9 166.8,235.3 176.5,236.0 186.2,236.1" fill="none" stroke="#e070c0" stroke-width="0.75"/>
<path d="M118.3 233.9h0M128.0 228.8h0M137.7 234.5h0M147.4 234.8h0M157.1 235.9h0M166.8 235.3h0M176.5 236.0h0M186.2 236.1h0" stroke="#e070c0" stroke-width="1.40" stroke-linecap="round"/>
<polyline points="118.3,231.1 128.0,229.3 137.7,234.2 147.4,233.6 157.1,234.9 166.8,234.8 176.5,236.1 186.2,235.4" fill="none" stroke="#508020" stroke-width="0.75"/>
<path d="M118.3 231.1h0M128.0 229.3h0M137.7 234.2h0M147.4 233.6h0M157.1 234.9h0M166.8 234.8h0M176.5 236.1h0M186.2 235.4h0" stroke="#508020" stroke-width="1.40" stroke-linecap="round"/>
<polyline points="118.3,233.2 128.0,229.3 137.7,234.6 147.4,235.2 157.1,236.2 166.8,235.8 176.5,235.7 186.2,235.9" fill="none" stroke="#40c0c0" stroke-width="0.75"/>
<path d="M118.3 233.2h0M128.0 229.3h0M137.7 234.6h0M147.4 235.2h0M157.1 236.2h0M166.8 235.8h0M176.5 235.7h0M186.2 235.9h0" stroke="#40c0c0" stroke-width="1.40" stroke-linecap="round"/>
<polyline points="118.3,233.8 128.0,229.4 137.7,234.9 147.4,234.6 157.1,234.6 166.8,235.7 176.5,236.1 186.2,236.5" fill="none" stroke="#e0b020" stroke-width="0.75"/>
<path d="M118.3 233.8h0M128.0 229.4h0M137.7 234.9h0M147.4 234.6h0M157.1 234.6h0M166.8 235.7h0M176.5 236.1h0M186.2 236.5h0" stroke="#e0b020" stroke-width="1.40" stroke-linecap="round"/>
<polyline points="118.3,233.4 128.0,229.5 137.7,233.4 147.4,234.7 157.1,235.2 166.8,235.4 176.5,235.6 186.2,236.0" fill="none" stroke="#a0e0e0" stroke-width="0.75"/>
<path d="M118.3 233.4h0M128.0 229.5h0M137.7 233.4h0M147.4 234.7h0M157.1 235.2h0M166.8 235.4h0M176.5 235.6h0M186.2 236.0h0" stroke="#a0e0e0" stroke-width="1.40" stroke-linecap="round"/>
<polyline points="118.3,232.1 128.0,229.9 137.7,233.8 147.4,234.8 157.1,234.7 166.8,235.5 176.5,236.4 186.2,236.0" fill="none" stroke="#40c0c0" stroke-width="0.75"/>
<path d="M118.3 232.1h0M128.0 229.9h0M137.7 233.8h0M147.4 234.8h0M157.1 234.7h0M166.8 235.5h0M176.5 236.4h0M186.2 236.0h0" stroke="#40c0c0" stroke-width="1.40" stroke-linecap="round"/>
<polyline points="118.3,234.0 128.0,230.2 137.7,234.8 147.4,236.0 157.1,236.2 166.8,236.4 176.5,236.4 186.2,236.3" fill="none" stroke="#30c080" stroke-width="0.75"/>
<path d="M118.3 234.0h0M128.0 230.2h0M137.7 234.8h0M147.4 236.0h0M157.1 236.2h0M166.8 236.4h0M176.5 236.4h0M186.2 236.3h0" stroke="#30c080" stroke-width="1.40" stroke-linecap="round"/>
<polyline points="118.3,234.7 128.0,230.8 137.7,235.1 147.4,235.8 157.1,235.6 166.8,236.4 176.5,236.6 186.2,236.7" fill="none" stroke="#404040" stroke-width="0.75"/>
<path d="M118.3 234.7h0M128.0 230.8h0M137.7 235.1h0M147.4 235.8h0M157.1 235.6h0M166.8 236.4h0M176.5 236.6h0M186.2 236.7h0" stroke="#404040" stroke-width="1.40" stroke-linecap="round"/>
<polyline points="118.3,233.0 128.0,230.8 137.7,235.0 147.4,236.1 157.1,236.2 166.8,236.6 176.5,236.5 186.2,236.4" fill="none" stroke="#90d0a0" stroke-width="0.75"/>
<path d="M118.3 233.0h0M128.0 230.8h0M137.7 235.0h0M147.4 236.1h0M157.1 236.2h0M166.8 236.6h0M176.5 236.5h0M186.2 236.4h0" stroke="#90d0a0" stroke-width="1.40" stroke-linecap="round"/>
<polyline points="118.3,233.8 128.0,231.0 137.7,233.9 147.4,235.5 157.1,235.7 166.8,236.2 176.5,236.6 186.2,236.5" fill="none" stroke="#000000" stroke-width="0.75"/>
<path d="M118.3 233.8h0M128.0 231.0h0M137.7 233.9h0M147.4 235.5h0M157.1 235.7h0M166.8 236.2h0M176.5 236.6h0M186.2 236.5h0" stroke="#000000" stroke-width="1.40" stroke-linecap="round"/>
<polyline points="118.3,234.5 128.0,232.6 137.7,235.9 147.4,236.1 157.1,236.7 166.8,236.7 176.5,236.8 186.2,236.9" fill="none" stroke="#8030a0" stroke-width="0.75"/>
<path d="M118.3 234.5h0M128.0 232.6h0M137.7 235.9h0M147.4 236.1h0M157.1 236.7h0M166.8 236.7h0M176.5 236.8h0M186.2 236.9h0" stroke="#8030a0" stroke-width="1.40" stroke-linecap="round"/>
<polyline points="118.3,236.2 128.0,233.7 137.7,236.6 147.4,236.7 157.1,237.0 166.8,237.1 176.5,237.2 186.2,237.0" fill="none" stroke="#9070d0" stroke-width="0.75"/>
<path d="M118.3 236.2h0M128.0 233.7h0M137.7 236.6h0M147.4 236.7h0M157.1 237.0h0M166.8 237.1h0M176.5 237.2h0M186.2 237.0h0" stroke="#9070d0" stroke-width="1.40" stroke-linecap="round"/>
<polyline points="118.3,236.3 128.0,234.6 137.7,237.0 147.4,237.1 157.1,237.0 166.8,237.4 176.5,237.4 186.2,237.3" fill="none" stroke="#404040" stroke-width="0.75"/>
<path d="M118.3 236.3h0M128.0 234.6h0M137.7 237.0h0M147.4 237.1h0M157.1 237.0h0M166.8 237.4h0M176.5 237.4h0M186.2 237.3h0" stroke="#404040" stroke-width="1.40" stroke-linecap="round"/>
<polyline points="118.3,236.4 128.0,234.9 137.7,236.7 147.4,236.8 157.1,237.1 166.8,237.1 176.5,237.1 186.2,237.1" fill="none" stroke="#60a0e0" stroke-width="0.75"/>
<path d="M118.3 236.4h0M128.0 234.9h0M137.7 236.7h0M147.4 236.8h0M157.1 237.1h0M166.8 237.1h0M176.5 237.1h0M186.2 237.1h0" stroke="#60a0e0" stroke-width="1.40" stroke-linecap="round"/>
<polyline points="118.3,236.8 128.0,235.4 137.7,236.8 147.4,236.9 157.1,237.2 166.8,237.4 176.5,237.5 186.2,237.4" fill="none" stroke="#20a060" stroke-width="0.75"/>
<path d="M118.3 236.8h0M128.0 235.4h0M137.7 236.8h0M147.4 236.9h0M157.1 237.2h0M166.8 237.4h0M176.5 237.5h0M186.2 237.4h0" stroke="#20a060" stroke-width="1.40" stroke-linecap="round"/>
<polyline points="118.3,236.4 128.0,235.7 137.7,236.9 147.4,236.8 157.1,237.0 166.8,237.2 176.5,237.2 186.2,237.1" fill="none" stroke="#a0e0e0" stroke-width="0.75"/>
<path d="M118.3 236.4h0M128.0 235.7h0M137.7 236.9h0M147.4 236.8h0M157.1 237.0h0M166.8 237.2h0M176.5 237.2h0M186.2 237.1h0" stroke="#a0e0e0" stroke-width="1.40" stroke-linecap="round"/>
<polyline points="118.3,236.1 128.0,235.9 137.7,236.9 147.4,237.0 157.1,237.0 166.8,237.4 176.5,237.3 186.2,237.4" fill="none" stroke="#d0d060" stroke-width="0.75"/>
<path d="M118.3 236.1h0M128.0 235.9h0M137.7 236.9h0M147.4 237.0h0M157.1 237.0h0M166.8 237.4h0M176.5 237.3h0M186.2 237.4h0" stroke="#d0d060" stroke-width="1.40" stroke-linecap="round"/>
<polyline points="118.3,237.1 128.0,236.2 137.7,237.2 147.4,237.3 157.1,237.4 166.8,237.5 176.5,237.5 186.2,237.5" fill="none" stroke="#b0c020" stroke-width="0.75"/>
<path d="M118.3 237.1h0M128.0 236.2h0M137.7 237.2h0M147.4 237.3h0M157.1 237.4h0M166.8 237.5h0M176.5 237.5h0M186.2 237.5h0" stroke="#b0c020" stroke-width="1.40" stroke-linecap="round"/>
<polyline points="118.3,237.0 128.0,236.7 137.7,237.3 147.4,237.3 157.1,237.5 166.8,237.5 176.5,237.6 186.2,237.6" fill="none" stroke="#109090" stroke-width="0.75"/>
<path d="M118.3 237.0h0M128.0 236.7h0M137.7 237.3h0M147.4 237.3h0M157.1 237.5h0M166.8 237.5h0M176.5 237.6h0M186.2 237.6h0" stroke="#109090" stroke-width="1.40" stroke-linecap="round"/>
<polyline points="118.3,237.6 128.0,237.4 137.7,237.7 147.4,237.7 157.1,237.7 166.8,237.7 176.5,237.7 186.2,237.7" fill="none" stroke="#a02060" stroke-width="0.75"/>
<path d="M118.3 237.6h0M128.0 237.4h0M137.7 237.7h0M147.4 237.7h0M157.1 237.7h0M166.8 237.7h0M176.5 237.7h0M186.2 237.7h0" stroke="#a02060" stroke-width="1.40" stroke-linecap="round"/>
<polyline points="118.3,237.8 128.0,237.8 137.7,237.8 147.4,237.8 157.1,237.8 166.8,237.8 176.5,237.8 186.2,237.8" fill="none" stroke="#d06020" stroke-width="0.75"/>
<path d="M118.3 237.8h0M128.0 237.8h0M137.7 237.8h0M147.4 237.8h0M157.1 237.8h0M166.8 237.8h0M176.5 237.8h0M186.2 237.8h0" stroke="#d06020" stroke-width="1.40" stroke-linecap="round"/>
<polyline points="118.3,199.7 128.0,183.7 137.7,218.0 147.4,219.8 157.1,221.1 166.8,222.3 176.5,223.6 186.2,224.4" fill="none" stroke="#d0e060" stroke-width="0.85"/>
<path d="M118.3 199.7h0M128.0 183.7h0M137.7 218.0h0M147.4 219.8h0M157.1 221.1h0M166.8 222.3h0M176.5 223.6h0M186.2 224.4h0" stroke="#d0e060" stroke-width="1.70" stroke-linecap="round"/>
<polyline points="118.3,205.1 128.0,197.6 137.7,218.2 147.4,204.3 157.1,217.2 166.8,221.3 176.5,224.9 186.2,224.9" fill="none" stroke="#40a0a0" stroke-width="0.85"/>
<path d="M118.3 205.1h0M128.0 197.6h0M137.7 218.2h0M147.4 204.3h0M157.1 217.2h0M166.8 221.3h0M176.5 224.9h0M186.2 224.9h0" stroke="#40a0a0" stroke-width="1.70" stroke-linecap="round"/>
<polyline points="118.3,217.2 128.0,214.6 137.7,218.5 147.4,218.5 157.1,218.5 166.8,218.5 176.5,224.9 186.2,224.9" fill="none" stroke="#60c0c0" stroke-width="0.85"/>
<path d="M118.3 217.2h0M128.0 214.6h0M137.7 218.5h0M147.4 218.5h0M157.1 218.5h0M166.8 218.5h0M176.5 224.9h0M186.2 224.9h0" stroke="#60c0c0" stroke-width="1.70" stroke-linecap="round"/>
<polyline points="118.3,215.9 128.0,206.9 137.7,224.9 147.4,226.2 157.1,230.1 166.8,232.6 176.5,232.6 186.2,233.2" fill="none" stroke="#6030a0" stroke-width="0.85"/>
<path d="M118.3 215.9h0M128.0 206.9h0M137.7 224.9h0M147.4 226.2h0M157.1 230.1h0M166.8 232.6h0M176.5 232.6h0M186.2 233.2h0" stroke="#6030a0" stroke-width="1.70" stroke-linecap="round"/>
<polyline points="118.3,222.3 128.0,212.0 137.7,223.6 147.4,224.9 157.1,229.6 166.8,231.4 176.5,232.6 186.2,233.9" fill="none" stroke="#a02040" stroke-width="0.85"/>
<path d="M118.3 222.3h0M128.0 212.0h0M137.7 223.6h0M147.4 224.9h0M157.1 229.6h0M166.8 231.4h0M176.5 232.6h0M186.2 233.9h0" stroke="#a02040" stroke-width="1.70" stroke-linecap="round"/>
<polyline points="118.3,224.9 128.0,217.2 137.7,226.2 147.4,227.5 157.1,230.6 166.8,232.6 176.5,233.9 186.2,234.7" fill="none" stroke="#000000" stroke-width="0.85"/>
<path d="M118.3 224.9h0M128.0 217.2h0M137.7 226.2h0M147.4 227.5h0M157.1 230.6h0M166.8 232.6h0M176.5 233.9h0M186.2 234.7h0" stroke="#000000" stroke-width="1.70" stroke-linecap="round"/>
<rect x="113.39999999999999" y="236.4" width="76.30000000000001" height="1.0" fill="#1a1a60" opacity="0.7"/>
<text x="189.20" y="182.60" font-size="7.8" font-weight="bold" text-anchor="end" fill="#000" >D1</text>
<rect x="210.1" y="173.4" width="76.70000000000002" height="64.4" fill="#fff" stroke="#6a6a6a" stroke-width="0.8"/>
<line x1="209.10" y1="237.80" x2="210.10" y2="237.80" stroke="#555" stroke-width="0.4" />
<text x="208.90" y="239.35" font-size="4.3" font-weight="bold" text-anchor="end" fill="#000" stroke="#000" stroke-width="0.18">0</text>
<line x1="209.10" y1="228.60" x2="210.10" y2="228.60" stroke="#555" stroke-width="0.4" />
<text x="208.90" y="230.15" font-size="4.3" font-weight="bold" text-anchor="end" fill="#000" stroke="#000" stroke-width="0.18">20&#160;000</text>
<line x1="209.10" y1="219.40" x2="210.10" y2="219.40" stroke="#555" stroke-width="0.4" />
<text x="208.90" y="220.95" font-size="4.3" font-weight="bold" text-anchor="end" fill="#000" stroke="#000" stroke-width="0.18">40&#160;000</text>
<line x1="209.10" y1="210.20" x2="210.10" y2="210.20" stroke="#555" stroke-width="0.4" />
<text x="208.90" y="211.75" font-size="4.3" font-weight="bold" text-anchor="end" fill="#000" stroke="#000" stroke-width="0.18">60&#160;000</text>
<line x1="209.10" y1="201.00" x2="210.10" y2="201.00" stroke="#555" stroke-width="0.4" />
<text x="208.90" y="202.55" font-size="4.3" font-weight="bold" text-anchor="end" fill="#000" stroke="#000" stroke-width="0.18">80&#160;000</text>
<line x1="209.10" y1="191.80" x2="210.10" y2="191.80" stroke="#555" stroke-width="0.4" />
<text x="208.90" y="193.35" font-size="4.3" font-weight="bold" text-anchor="end" fill="#000" stroke="#000" stroke-width="0.18">100&#160;000</text>
<line x1="209.10" y1="182.60" x2="210.10" y2="182.60" stroke="#555" stroke-width="0.4" />
<text x="208.90" y="184.15" font-size="4.3" font-weight="bold" text-anchor="end" fill="#000" stroke="#000" stroke-width="0.18">120&#160;000</text>
<line x1="209.10" y1="173.40" x2="210.10" y2="173.40" stroke="#555" stroke-width="0.4" />
<text x="208.90" y="174.95" font-size="4.3" font-weight="bold" text-anchor="end" fill="#000" stroke="#000" stroke-width="0.18">140&#160;000</text>
<line x1="217.00" y1="237.80" x2="217.00" y2="238.70" stroke="#555" stroke-width="0.4" />
<text x="217.00" y="243.60" font-size="4.8" font-weight="bold" text-anchor="middle" fill="#000" stroke="#000" stroke-width="0.15">D0</text>
<line x1="226.70" y1="237.80" x2="226.70" y2="238.70" stroke="#555" stroke-width="0.4" />
<text x="226.70" y="243.60" font-size="4.8" font-weight="bold" text-anchor="middle" fill="#000" stroke="#000" stroke-width="0.15">D1</text>
<line x1="236.40" y1="237.80" x2="236.40" y2="238.70" stroke="#555" stroke-width="0.4" />
<text x="236.40" y="243.60" font-size="4.8" font-weight="bold" text-anchor="middle" fill="#000" stroke="#000" stroke-width="0.15">D2</text>
<line x1="246.10" y1="237.80" x2="246.10" y2="238.70" stroke="#555" stroke-width="0.4" />
<text x="246.10" y="243.60" font-size="4.8" font-weight="bold" text-anchor="middle" fill="#000" stroke="#000" stroke-width="0.15">D3</text>
<line x1="255.80" y1="237.80" x2="255.80" y2="238.70" stroke="#555" stroke-width="0.4" />
<text x="255.80" y="243.60" font-size="4.8" font-weight="bold" text-anchor="middle" fill="#000" stroke="#000" stroke-width="0.15">D4</text>
<line x1="265.50" y1="237.80" x2="265.50" y2="238.70" stroke="#555" stroke-width="0.4" />
<text x="265.50" y="243.60" font-size="4.8" font-weight="bold" text-anchor="middle" fill="#000" stroke="#000" stroke-width="0.15">D5</text>
<line x1="275.20" y1="237.80" x2="275.20" y2="238.70" stroke="#555" stroke-width="0.4" />
<text x="275.20" y="243.60" font-size="4.8" font-weight="bold" text-anchor="middle" fill="#000" stroke="#000" stroke-width="0.15">D6</text>
<line x1="284.90" y1="237.80" x2="284.90" y2="238.70" stroke="#555" stroke-width="0.4" />
<text x="284.90" y="243.60" font-size="4.8" font-weight="bold" text-anchor="middle" fill="#000" stroke="#000" stroke-width="0.15">D7</text>
<polyline points="215.6,224.8 225.3,226.7 235.0,216.7 244.7,227.5 254.4,227.9 264.1,229.8 273.8,231.2 283.5,233.4" fill="none" stroke="#b0c020" stroke-width="0.75"/>
<path d="M215.6 224.8h0M225.3 226.7h0M235.0 216.7h0M244.7 227.5h0M254.4 227.9h0M264.1 229.8h0M273.8 231.2h0M283.5 233.4h0" stroke="#b0c020" stroke-width="1.40" stroke-linecap="round"/>
<polyline points="215.6,226.2 225.3,227.4 235.0,218.0 244.7,227.7 254.4,227.4 264.1,229.8 273.8,232.8 283.5,231.9" fill="none" stroke="#60a0e0" stroke-width="0.75"/>
<path d="M215.6 226.2h0M225.3 227.4h0M235.0 218.0h0M244.7 227.7h0M254.4 227.4h0M264.1 229.8h0M273.8 232.8h0M283.5 231.9h0" stroke="#60a0e0" stroke-width="1.40" stroke-linecap="round"/>
<polyline points="215.6,224.4 225.3,226.9 235.0,218.5 244.7,230.0 254.4,229.5 264.1,230.4 273.8,229.5 283.5,232.0" fill="none" stroke="#8030a0" stroke-width="0.75"/>
<path d="M215.6 224.4h0M225.3 226.9h0M235.0 218.5h0M244.7 230.0h0M254.4 229.5h0M264.1 230.4h0M273.8 229.5h0M283.5 232.0h0" stroke="#8030a0" stroke-width="1.40" stroke-linecap="round"/>
<polyline points="215.6,227.4 225.3,226.0 235.0,218.8 244.7,226.5 254.4,228.6 264.1,230.0 273.8,232.3 283.5,232.4" fill="none" stroke="#40c0c0" stroke-width="0.75"/>
<path d="M215.6 227.4h0M225.3 226.0h0M235.0 218.8h0M244.7 226.5h0M254.4 228.6h0M264.1 230.0h0M273.8 232.3h0M283.5 232.4h0" stroke="#40c0c0" stroke-width="1.40" stroke-linecap="round"/>
<polyline points="215.6,229.6 225.3,230.4 235.0,219.2 244.7,230.4 254.4,232.3 264.1,232.6 273.8,233.6 283.5,232.2" fill="none" stroke="#6040b0" stroke-width="0.75"/>
<path d="M215.6 229.6h0M225.3 230.4h0M235.0 219.2h0M244.7 230.4h0M254.4 232.3h0M264.1 232.6h0M273.8 233.6h0M283.5 232.2h0" stroke="#6040b0" stroke-width="1.40" stroke-linecap="round"/>
<polyline points="215.6,229.3 225.3,231.0 235.0,219.5 244.7,229.6 254.4,231.1 264.1,231.1 273.8,230.9 283.5,233.6" fill="none" stroke="#d0d060" stroke-width="0.75"/>
<path d="M215.6 229.3h0M225.3 231.0h0M235.0 219.5h0M244.7 229.6h0M254.4 231.1h0M264.1 231.1h0M273.8 230.9h0M283.5 233.6h0" stroke="#d0d060" stroke-width="1.40" stroke-linecap="round"/>
<polyline points="215.6,228.9 225.3,231.9 235.0,219.5 244.7,229.7 254.4,231.4 264.1,232.1 273.8,233.7 283.5,234.2" fill="none" stroke="#000060" stroke-width="0.75"/>
<path d="M215.6 228.9h0M225.3 231.9h0M235.0 219.5h0M244.7 229.7h0M254.4 231.4h0M264.1 232.1h0M273.8 233.7h0M283.5 234.2h0" stroke="#000060" stroke-width="1.40" stroke-linecap="round"/>
<polyline points="215.6,225.3 225.3,227.9 235.0,219.6 244.7,228.6 254.4,226.9 264.1,231.9 273.8,231.7 283.5,234.2" fill="none" stroke="#508020" stroke-width="0.75"/>
<path d="M215.6 225.3h0M225.3 227.9h0M235.0 219.6h0M244.7 228.6h0M254.4 226.9h0M264.1 231.9h0M273.8 231.7h0M283.5 234.2h0" stroke="#508020" stroke-width="1.40" stroke-linecap="round"/>
<polyline points="215.6,226.4 225.3,230.1 235.0,220.5 244.7,226.6 254.4,231.6 264.1,229.8 273.8,233.4 283.5,232.5" fill="none" stroke="#203090" stroke-width="0.75"/>
<path d="M215.6 226.4h0M225.3 230.1h0M235.0 220.5h0M244.7 226.6h0M254.4 231.6h0M264.1 229.8h0M273.8 233.4h0M283.5 232.5h0" stroke="#203090" stroke-width="1.40" stroke-linecap="round"/>
<polyline points="215.6,229.2 225.3,230.6 235.0,220.7 244.7,230.0 254.4,229.7 264.1,229.7 273.8,232.1 283.5,232.9" fill="none" stroke="#20a060" stroke-width="0.75"/>
<path d="M215.6 229.2h0M225.3 230.6h0M235.0 220.7h0M244.7 230.0h0M254.4 229.7h0M264.1 229.7h0M273.8 232.1h0M283.5 232.9h0" stroke="#20a060" stroke-width="1.40" stroke-linecap="round"/>
<polyline points="215.6,227.9 225.3,228.9 235.0,220.9 244.7,229.9 254.4,232.8 264.1,230.8 273.8,234.3 283.5,234.4" fill="none" stroke="#000000" stroke-width="0.75"/>
<path d="M215.6 227.9h0M225.3 228.9h0M235.0 220.9h0M244.7 229.9h0M254.4 232.8h0M264.1 230.8h0M273.8 234.3h0M283.5 234.4h0" stroke="#000000" stroke-width="1.40" stroke-linecap="round"/>
<polyline points="215.6,230.3 225.3,230.7 235.0,221.1 244.7,229.1 254.4,229.6 264.1,232.0 273.8,232.9 283.5,233.2" fill="none" stroke="#c0c0c0" stroke-width="0.75"/>
<path d="M215.6 230.3h0M225.3 230.7h0M235.0 221.1h0M244.7 229.1h0M254.4 229.6h0M264.1 232.0h0M273.8 232.9h0M283.5 233.2h0" stroke="#c0c0c0" stroke-width="1.40" stroke-linecap="round"/>
<polyline points="215.6,229.6 225.3,229.9 235.0,221.1 244.7,229.1 254.4,229.6 264.1,230.4 273.8,232.5 283.5,233.4" fill="none" stroke="#a02060" stroke-width="0.75"/>
<path d="M215.6 229.6h0M225.3 229.9h0M235.0 221.1h0M244.7 229.1h0M254.4 229.6h0M264.1 230.4h0M273.8 232.5h0M283.5 233.4h0" stroke="#a02060" stroke-width="1.40" stroke-linecap="round"/>
<polyline points="215.6,229.1 225.3,232.6 235.0,221.6 244.7,231.8 254.4,231.0 264.1,231.9 273.8,233.4 283.5,234.2" fill="none" stroke="#f0e060" stroke-width="0.75"/>
<path d="M215.6 229.1h0M225.3 232.6h0M235.0 221.6h0M244.7 231.8h0M254.4 231.0h0M264.1 231.9h0M273.8 233.4h0M283.5 234.2h0" stroke="#f0e060" stroke-width="1.40" stroke-linecap="round"/>
<polyline points="215.6,232.5 225.3,232.1 235.0,224.1 244.7,230.5 254.4,231.2 264.1,234.0 273.8,233.0 283.5,234.7" fill="none" stroke="#b0c020" stroke-width="0.75"/>
<path d="M215.6 232.5h0M225.3 232.1h0M235.0 224.1h0M244.7 230.5h0M254.4 231.2h0M264.1 234.0h0M273.8 233.0h0M283.5 234.7h0" stroke="#b0c020" stroke-width="1.40" stroke-linecap="round"/>
<polyline points="215.6,230.1 225.3,232.0 235.0,224.6 244.7,232.7 254.4,233.7 264.1,234.2 273.8,234.2 283.5,234.4" fill="none" stroke="#90d0a0" stroke-width="0.75"/>
<path d="M215.6 230.1h0M225.3 232.0h0M235.0 224.6h0M244.7 232.7h0M254.4 233.7h0M264.1 234.2h0M273.8 234.2h0M283.5 234.4h0" stroke="#90d0a0" stroke-width="1.40" stroke-linecap="round"/>
<polyline points="215.6,227.0 225.3,226.1 235.0,224.7 244.7,229.2 254.4,230.7 264.1,230.0 273.8,231.2 283.5,231.4" fill="none" stroke="#404040" stroke-width="0.75"/>
<path d="M215.6 227.0h0M225.3 226.1h0M235.0 224.7h0M244.7 229.2h0M254.4 230.7h0M264.1 230.0h0M273.8 231.2h0M283.5 231.4h0" stroke="#404040" stroke-width="1.40" stroke-linecap="round"/>
<polyline points="215.6,232.4 225.3,232.2 235.0,224.7 244.7,229.6 254.4,231.0 264.1,232.0 273.8,232.8 283.5,233.4" fill="none" stroke="#30c080" stroke-width="0.75"/>
<path d="M215.6 232.4h0M225.3 232.2h0M235.0 224.7h0M244.7 229.6h0M254.4 231.0h0M264.1 232.0h0M273.8 232.8h0M283.5 233.4h0" stroke="#30c080" stroke-width="1.40" stroke-linecap="round"/>
<polyline points="215.6,229.8 225.3,231.1 235.0,225.7 244.7,230.4 254.4,232.2 264.1,232.9 273.8,234.3 283.5,233.6" fill="none" stroke="#d06020" stroke-width="0.75"/>
<path d="M215.6 229.8h0M225.3 231.1h0M235.0 225.7h0M244.7 230.4h0M254.4 232.2h0M264.1 232.9h0M273.8 234.3h0M283.5 233.6h0" stroke="#d06020" stroke-width="1.40" stroke-linecap="round"/>
<polyline points="215.6,231.6 225.3,233.3 235.0,225.9 244.7,229.9 254.4,231.1 264.1,233.6 273.8,233.1 283.5,233.6" fill="none" stroke="#40c0c0" stroke-width="0.75"/>
<path d="M215.6 231.6h0M225.3 233.3h0M235.0 225.9h0M244.7 229.9h0M254.4 231.1h0M264.1 233.6h0M273.8 233.1h0M283.5 233.6h0" stroke="#40c0c0" stroke-width="1.40" stroke-linecap="round"/>
<polyline points="215.6,229.6 225.3,230.9 235.0,226.1 244.7,231.0 254.4,232.4 264.1,233.1 273.8,233.2 283.5,234.3" fill="none" stroke="#702080" stroke-width="0.75"/>
<path d="M215.6 229.6h0M225.3 230.9h0M235.0 226.1h0M244.7 231.0h0M254.4 232.4h0M264.1 233.1h0M273.8 233.2h0M283.5 234.3h0" stroke="#702080" stroke-width="1.40" stroke-linecap="round"/>
<polyline points="215.6,230.3 225.3,230.2 235.0,228.1 244.7,230.5 254.4,231.9 264.1,233.7 273.8,234.2 283.5,234.1" fill="none" stroke="#40c0c0" stroke-width="0.75"/>
<path d="M215.6 230.3h0M225.3 230.2h0M235.0 228.1h0M244.7 230.5h0M254.4 231.9h0M264.1 233.7h0M273.8 234.2h0M283.5 234.1h0" stroke="#40c0c0" stroke-width="1.40" stroke-linecap="round"/>
<polyline points="215.6,234.8 225.3,234.2 235.0,229.6 244.7,234.5 254.4,234.1 264.1,234.8 273.8,235.1 283.5,236.4" fill="none" stroke="#3050c0" stroke-width="0.75"/>
<path d="M215.6 234.8h0M225.3 234.2h0M235.0 229.6h0M244.7 234.5h0M254.4 234.1h0M264.1 234.8h0M273.8 235.1h0M283.5 236.4h0" stroke="#3050c0" stroke-width="1.40" stroke-linecap="round"/>
<polyline points="215.6,234.7 225.3,234.2 235.0,230.7 244.7,235.7 254.4,235.0 264.1,236.0 273.8,235.5 283.5,236.4" fill="none" stroke="#e0e090" stroke-width="0.75"/>
<path d="M215.6 234.7h0M225.3 234.2h0M235.0 230.7h0M244.7 235.7h0M254.4 235.0h0M264.1 236.0h0M273.8 235.5h0M283.5 236.4h0" stroke="#e0e090" stroke-width="1.40" stroke-linecap="round"/>
<polyline points="215.6,234.5 225.3,233.6 235.0,230.7 244.7,234.4 254.4,234.2 264.1,235.1 273.8,235.7 283.5,235.9" fill="none" stroke="#8030a0" stroke-width="0.75"/>
<path d="M215.6 234.5h0M225.3 233.6h0M235.0 230.7h0M244.7 234.4h0M254.4 234.2h0M264.1 235.1h0M273.8 235.7h0M283.5 235.9h0" stroke="#8030a0" stroke-width="1.40" stroke-linecap="round"/>
<polyline points="215.6,234.9 225.3,235.2 235.0,230.8 244.7,234.6 254.4,234.9 264.1,235.4 273.8,235.3 283.5,235.9" fill="none" stroke="#b0c020" stroke-width="0.75"/>
<path d="M215.6 234.9h0M225.3 235.2h0M235.0 230.8h0M244.7 234.6h0M254.4 234.9h0M264.1 235.4h0M273.8 235.3h0M283.5 235.9h0" stroke="#b0c020" stroke-width="1.40" stroke-linecap="round"/>
<polyline points="215.6,234.4 225.3,233.5 235.0,231.2 244.7,234.3 254.4,234.9 264.1,234.6 273.8,235.8 283.5,235.3" fill="none" stroke="#000000" stroke-width="0.75"/>
<path d="M215.6 234.4h0M225.3 233.5h0M235.0 231.2h0M244.7 234.3h0M254.4 234.9h0M264.1 234.6h0M273.8 235.8h0M283.5 235.3h0" stroke="#000000" stroke-width="1.40" stroke-linecap="round"/>
<polyline points="215.6,233.0 225.3,233.2 235.0,231.7 244.7,233.4 254.4,233.3 264.1,235.4 273.8,234.6 283.5,235.4" fill="none" stroke="#c02020" stroke-width="0.75"/>
<path d="M215.6 233.0h0M225.3 233.2h0M235.0 231.7h0M244.7 233.4h0M254.4 233.3h0M264.1 235.4h0M273.8 234.6h0M283.5 235.4h0" stroke="#c02020" stroke-width="1.40" stroke-linecap="round"/>
<polyline points="215.6,233.1 225.3,234.6 235.0,232.2 244.7,234.5 254.4,234.9 264.1,233.8 273.8,234.9 283.5,235.2" fill="none" stroke="#6040b0" stroke-width="0.75"/>
<path d="M215.6 233.1h0M225.3 234.6h0M235.0 232.2h0M244.7 234.5h0M254.4 234.9h0M264.1 233.8h0M273.8 234.9h0M283.5 235.2h0" stroke="#6040b0" stroke-width="1.40" stroke-linecap="round"/>
<polyline points="215.6,235.3 225.3,234.8 235.0,232.3 244.7,234.2 254.4,234.5 264.1,234.7 273.8,235.8 283.5,236.2" fill="none" stroke="#6040b0" stroke-width="0.75"/>
<path d="M215.6 235.3h0M225.3 234.8h0M235.0 232.3h0M244.7 234.2h0M254.4 234.5h0M264.1 234.7h0M273.8 235.8h0M283.5 236.2h0" stroke="#6040b0" stroke-width="1.40" stroke-linecap="round"/>
<polyline points="215.6,235.6 225.3,235.1 235.0,232.9 244.7,235.6 254.4,235.9 264.1,235.8 273.8,236.5 283.5,236.3" fill="none" stroke="#109090" stroke-width="0.75"/>
<path d="M215.6 235.6h0M225.3 235.1h0M235.0 232.9h0M244.7 235.6h0M254.4 235.9h0M264.1 235.8h0M273.8 236.5h0M283.5 236.3h0" stroke="#109090" stroke-width="1.40" stroke-linecap="round"/>
<polyline points="215.6,234.8 225.3,235.1 235.0,233.0 244.7,235.3 254.4,235.4 264.1,236.0 273.8,236.3 283.5,236.6" fill="none" stroke="#d06020" stroke-width="0.75"/>
<path d="M215.6 234.8h0M225.3 235.1h0M235.0 233.0h0M244.7 235.3h0M254.4 235.4h0M264.1 236.0h0M273.8 236.3h0M283.5 236.6h0" stroke="#d06020" stroke-width="1.40" stroke-linecap="round"/>
<polyline points="215.6,235.4 225.3,235.7 235.0,233.4 244.7,236.2 254.4,236.3 264.1,236.6 273.8,236.7 283.5,236.6" fill="none" stroke="#b0c020" stroke-width="0.75"/>
<path d="M215.6 235.4h0M225.3 235.7h0M235.0 233.4h0M244.7 236.2h0M254.4 236.3h0M264.1 236.6h0M273.8 236.7h0M283.5 236.6h0" stroke="#b0c020" stroke-width="1.40" stroke-linecap="round"/>
<polyline points="215.6,235.9 225.3,236.1 235.0,235.1 244.7,235.9 254.4,236.8 264.1,236.4 273.8,237.0 283.5,236.8" fill="none" stroke="#e0b020" stroke-width="0.75"/>
<path d="M215.6 235.9h0M225.3 236.1h0M235.0 235.1h0M244.7 235.9h0M254.4 236.8h0M264.1 236.4h0M273.8 237.0h0M283.5 236.8h0" stroke="#e0b020" stroke-width="1.40" stroke-linecap="round"/>
<polyline points="215.6,236.7 225.3,236.3 235.0,235.4 244.7,236.3 254.4,236.9 264.1,236.9 273.8,236.9 283.5,237.0" fill="none" stroke="#3050c0" stroke-width="0.75"/>
<path d="M215.6 236.7h0M225.3 236.3h0M235.0 235.4h0M244.7 236.3h0M254.4 236.9h0M264.1 236.9h0M273.8 236.9h0M283.5 237.0h0" stroke="#3050c0" stroke-width="1.40" stroke-linecap="round"/>
<polyline points="215.6,237.0 225.3,236.7 235.0,235.9 244.7,236.8 254.4,236.7 264.1,237.2 273.8,237.0 283.5,237.3" fill="none" stroke="#a0e0e0" stroke-width="0.75"/>
<path d="M215.6 237.0h0M225.3 236.7h0M235.0 235.9h0M244.7 236.8h0M254.4 236.7h0M264.1 237.2h0M273.8 237.0h0M283.5 237.3h0" stroke="#a0e0e0" stroke-width="1.40" stroke-linecap="round"/>
<polyline points="215.6,236.4 225.3,236.4 235.0,236.1 244.7,236.5 254.4,237.0 264.1,237.1 273.8,237.3 283.5,237.2" fill="none" stroke="#20a060" stroke-width="0.75"/>
<path d="M215.6 236.4h0M225.3 236.4h0M235.0 236.1h0M244.7 236.5h0M254.4 237.0h0M264.1 237.1h0M273.8 237.3h0M283.5 237.2h0" stroke="#20a060" stroke-width="1.40" stroke-linecap="round"/>
<polyline points="215.6,237.2 225.3,237.1 235.0,236.2 244.7,237.1 254.4,237.2 264.1,237.1 273.8,237.4 283.5,237.5" fill="none" stroke="#6040b0" stroke-width="0.75"/>
<path d="M215.6 237.2h0M225.3 237.1h0M235.0 236.2h0M244.7 237.1h0M254.4 237.2h0M264.1 237.1h0M273.8 237.4h0M283.5 237.5h0" stroke="#6040b0" stroke-width="1.40" stroke-linecap="round"/>
<polyline points="215.6,237.1 225.3,237.2 235.0,236.3 244.7,237.2 254.4,237.0 264.1,237.4 273.8,237.3 283.5,237.4" fill="none" stroke="#60a0e0" stroke-width="0.75"/>
<path d="M215.6 237.1h0M225.3 237.2h0M235.0 236.3h0M244.7 237.2h0M254.4 237.0h0M264.1 237.4h0M273.8 237.3h0M283.5 237.4h0" stroke="#60a0e0" stroke-width="1.40" stroke-linecap="round"/>
<polyline points="215.6,237.4 225.3,237.2 235.0,236.7 244.7,237.3 254.4,237.4 264.1,237.5 273.8,237.6 283.5,237.5" fill="none" stroke="#2080c0" stroke-width="0.75"/>
<path d="M215.6 237.4h0M225.3 237.2h0M235.0 236.7h0M244.7 237.3h0M254.4 237.4h0M264.1 237.5h0M273.8 237.6h0M283.5 237.5h0" stroke="#2080c0" stroke-width="1.40" stroke-linecap="round"/>
<polyline points="215.6,237.4 225.3,237.5 235.0,237.1 244.7,237.4 254.4,237.3 264.1,237.5 273.8,237.4 283.5,237.6" fill="none" stroke="#000000" stroke-width="0.75"/>
<path d="M215.6 237.4h0M225.3 237.5h0M235.0 237.1h0M244.7 237.4h0M254.4 237.3h0M264.1 237.5h0M273.8 237.4h0M283.5 237.6h0" stroke="#000000" stroke-width="1.40" stroke-linecap="round"/>
<polyline points="215.6,237.3 225.3,237.3 235.0,237.1 244.7,237.4 254.4,237.3 264.1,237.6 273.8,237.6 283.5,237.5" fill="none" stroke="#90d0a0" stroke-width="0.75"/>
<path d="M215.6 237.3h0M225.3 237.3h0M235.0 237.1h0M244.7 237.4h0M254.4 237.3h0M264.1 237.6h0M273.8 237.6h0M283.5 237.5h0" stroke="#90d0a0" stroke-width="1.40" stroke-linecap="round"/>
<polyline points="215.6,237.3 225.3,237.4 235.0,237.3 244.7,237.5 254.4,237.4 264.1,237.4 273.8,237.5 283.5,237.5" fill="none" stroke="#109090" stroke-width="0.75"/>
<path d="M215.6 237.3h0M225.3 237.4h0M235.0 237.3h0M244.7 237.5h0M254.4 237.4h0M264.1 237.4h0M273.8 237.5h0M283.5 237.5h0" stroke="#109090" stroke-width="1.40" stroke-linecap="round"/>
<polyline points="215.6,237.6 225.3,237.6 235.0,237.4 244.7,237.6 254.4,237.6 264.1,237.6 273.8,237.7 283.5,237.7" fill="none" stroke="#109090" stroke-width="0.75"/>
<path d="M215.6 237.6h0M225.3 237.6h0M235.0 237.4h0M244.7 237.6h0M254.4 237.6h0M264.1 237.6h0M273.8 237.7h0M283.5 237.7h0" stroke="#109090" stroke-width="1.40" stroke-linecap="round"/>
<polyline points="215.6,237.6 225.3,237.5 235.0,237.4 244.7,237.5 254.4,237.6 264.1,237.7 273.8,237.7 283.5,237.7" fill="none" stroke="#6040b0" stroke-width="0.75"/>
<path d="M215.6 237.6h0M225.3 237.5h0M235.0 237.4h0M244.7 237.5h0M254.4 237.6h0M264.1 237.7h0M273.8 237.7h0M283.5 237.7h0" stroke="#6040b0" stroke-width="1.40" stroke-linecap="round"/>
<polyline points="215.6,237.5 225.3,237.6 235.0,237.5 244.7,237.6 254.4,237.6 264.1,237.6 273.8,237.7 283.5,237.7" fill="none" stroke="#60a0e0" stroke-width="0.75"/>
<path d="M215.6 237.5h0M225.3 237.6h0M235.0 237.5h0M244.7 237.6h0M254.4 237.6h0M264.1 237.6h0M273.8 237.7h0M283.5 237.7h0" stroke="#60a0e0" stroke-width="1.40" stroke-linecap="round"/>
<polyline points="215.6,237.7 225.3,237.7 235.0,237.5 244.7,237.7 254.4,237.7 264.1,237.7 273.8,237.7 283.5,237.7" fill="none" stroke="#f09060" stroke-width="0.75"/>
<path d="M215.6 237.7h0M225.3 237.7h0M235.0 237.5h0M244.7 237.7h0M254.4 237.7h0M264.1 237.7h0M273.8 237.7h0M283.5 237.7h0" stroke="#f09060" stroke-width="1.40" stroke-linecap="round"/>
<polyline points="215.6,237.6 225.3,237.7 235.0,237.6 244.7,237.7 254.4,237.7 264.1,237.7 273.8,237.7 283.5,237.7" fill="none" stroke="#d06020" stroke-width="0.75"/>
<path d="M215.6 237.6h0M225.3 237.7h0M235.0 237.6h0M244.7 237.7h0M254.4 237.7h0M264.1 237.7h0M273.8 237.7h0M283.5 237.7h0" stroke="#d06020" stroke-width="1.40" stroke-linecap="round"/>
<polyline points="215.6,196.4 225.3,199.6 235.0,184.9 244.7,201.0 254.4,198.7 264.1,196.4 273.8,211.1 283.5,203.8" fill="none" stroke="#7050c0" stroke-width="0.85"/>
<path d="M215.6 196.4h0M225.3 199.6h0M235.0 184.9h0M244.7 201.0h0M254.4 198.7h0M264.1 196.4h0M273.8 211.1h0M283.5 203.8h0" stroke="#7050c0" stroke-width="1.70" stroke-linecap="round"/>
<polyline points="215.6,207.0 225.3,202.8 235.0,187.2 244.7,202.8 254.4,199.6 264.1,207.0 273.8,214.3 283.5,211.6" fill="none" stroke="#a050c0" stroke-width="0.85"/>
<path d="M215.6 207.0h0M225.3 202.8h0M235.0 187.2h0M244.7 202.8h0M254.4 199.6h0M264.1 207.0h0M273.8 214.3h0M283.5 211.6h0" stroke="#a050c0" stroke-width="1.70" stroke-linecap="round"/>
<polyline points="215.6,212.5 225.3,212.5 235.0,201.0 244.7,208.4 254.4,210.2 264.1,213.4 273.8,219.9 283.5,217.1" fill="none" stroke="#b0e070" stroke-width="0.85"/>
<path d="M215.6 212.5h0M225.3 212.5h0M235.0 201.0h0M244.7 208.4h0M254.4 210.2h0M264.1 213.4h0M273.8 219.9h0M283.5 217.1h0" stroke="#b0e070" stroke-width="1.70" stroke-linecap="round"/>
<polyline points="215.6,218.5 225.3,218.5 235.0,210.2 244.7,221.2 254.4,221.2 264.1,223.1 273.8,224.9 283.5,226.3" fill="none" stroke="#60c060" stroke-width="0.85"/>
<path d="M215.6 218.5h0M225.3 218.5h0M235.0 210.2h0M244.7 221.2h0M254.4 221.2h0M264.1 223.1h0M273.8 224.9h0M283.5 226.3h0" stroke="#60c060" stroke-width="1.70" stroke-linecap="round"/>
<polyline points="215.6,224.0 225.3,225.8 235.0,212.5 244.7,225.8 254.4,226.8 264.1,228.6 273.8,230.4 283.5,232.3" fill="none" stroke="#e0d040" stroke-width="0.85"/>
<path d="M215.6 224.0h0M225.3 225.8h0M235.0 212.5h0M244.7 225.8h0M254.4 226.8h0M264.1 228.6h0M273.8 230.4h0M283.5 232.3h0" stroke="#e0d040" stroke-width="1.70" stroke-linecap="round"/>
<polyline points="215.6,221.2 225.3,221.2 235.0,219.4 244.7,222.2 254.4,224.0 264.1,225.8 273.8,228.6 283.5,229.5" fill="none" stroke="#40c0d0" stroke-width="0.85"/>
<path d="M215.6 221.2h0M225.3 221.2h0M235.0 219.4h0M244.7 222.2h0M254.4 224.0h0M264.1 225.8h0M273.8 228.6h0M283.5 229.5h0" stroke="#40c0d0" stroke-width="1.70" stroke-linecap="round"/>
<polyline points="215.6,225.8 225.3,226.8 235.0,221.7 244.7,230.9 254.4,230.0 264.1,233.7 273.8,233.7 283.5,236.0" fill="none" stroke="#000000" stroke-width="0.85"/>
<path d="M215.6 225.8h0M225.3 226.8h0M235.0 221.7h0M244.7 230.9h0M254.4 230.0h0M264.1 233.7h0M273.8 233.7h0M283.5 236.0h0" stroke="#000000" stroke-width="1.70" stroke-linecap="round"/>
<rect x="210.7" y="236.4" width="75.50000000000001" height="1.0" fill="#1a1a60" opacity="0.7"/>
<text x="286.00" y="182.60" font-size="7.8" font-weight="bold" text-anchor="end" fill="#000" >D2</text>
<rect x="306.2" y="173.4" width="78.0" height="64.4" fill="#fff" stroke="#6a6a6a" stroke-width="0.8"/>
<line x1="305.20" y1="237.80" x2="306.20" y2="237.80" stroke="#555" stroke-width="0.4" />
<text x="305.00" y="239.35" font-size="4.3" font-weight="bold" text-anchor="end" fill="#000" stroke="#000" stroke-width="0.18">0</text>
<line x1="305.20" y1="228.60" x2="306.20" y2="228.60" stroke="#555" stroke-width="0.4" />
<text x="305.00" y="230.15" font-size="4.3" font-weight="bold" text-anchor="end" fill="#000" stroke="#000" stroke-width="0.18">10&#160;000</text>
<line x1="305.20" y1="219.40" x2="306.20" y2="219.40" stroke="#555" stroke-width="0.4" />
<text x="305.00" y="220.95" font-size="4.3" font-weight="bold" text-anchor="end" fill="#000" stroke="#000" stroke-width="0.18">20&#160;000</text>
<line x1="305.20" y1="210.20" x2="306.20" y2="210.20" stroke="#555" stroke-width="0.4" />
<text x="305.00" y="211.75" font-size="4.3" font-weight="bold" text-anchor="end" fill="#000" stroke="#000" stroke-width="0.18">30&#160;000</text>
<line x1="305.20" y1="201.00" x2="306.20" y2="201.00" stroke="#555" stroke-width="0.4" />
<text x="305.00" y="202.55" font-size="4.3" font-weight="bold" text-anchor="end" fill="#000" stroke="#000" stroke-width="0.18">40&#160;000</text>
<line x1="305.20" y1="191.80" x2="306.20" y2="191.80" stroke="#555" stroke-width="0.4" />
<text x="305.00" y="193.35" font-size="4.3" font-weight="bold" text-anchor="end" fill="#000" stroke="#000" stroke-width="0.18">50&#160;000</text>
<line x1="305.20" y1="182.60" x2="306.20" y2="182.60" stroke="#555" stroke-width="0.4" />
<text x="305.00" y="184.15" font-size="4.3" font-weight="bold" text-anchor="end" fill="#000" stroke="#000" stroke-width="0.18">60&#160;000</text>
<line x1="305.20" y1="173.40" x2="306.20" y2="173.40" stroke="#555" stroke-width="0.4" />
<text x="305.00" y="174.95" font-size="4.3" font-weight="bold" text-anchor="end" fill="#000" stroke="#000" stroke-width="0.18">70&#160;000</text>
<line x1="313.10" y1="237.80" x2="313.10" y2="238.70" stroke="#555" stroke-width="0.4" />
<text x="313.10" y="243.60" font-size="4.8" font-weight="bold" text-anchor="middle" fill="#000" stroke="#000" stroke-width="0.15">D0</text>
<line x1="322.80" y1="237.80" x2="322.80" y2="238.70" stroke="#555" stroke-width="0.4" />
<text x="322.80" y="243.60" font-size="4.8" font-weight="bold" text-anchor="middle" fill="#000" stroke="#000" stroke-width="0.15">D1</text>
<line x1="332.50" y1="237.80" x2="332.50" y2="238.70" stroke="#555" stroke-width="0.4" />
<text x="332.50" y="243.60" font-size="4.8" font-weight="bold" text-anchor="middle" fill="#000" stroke="#000" stroke-width="0.15">D2</text>
<line x1="342.20" y1="237.80" x2="342.20" y2="238.70" stroke="#555" stroke-width="0.4" />
<text x="342.20" y="243.60" font-size="4.8" font-weight="bold" text-anchor="middle" fill="#000" stroke="#000" stroke-width="0.15">D3</text>
<line x1="351.90" y1="237.80" x2="351.90" y2="238.70" stroke="#555" stroke-width="0.4" />
<text x="351.90" y="243.60" font-size="4.8" font-weight="bold" text-anchor="middle" fill="#000" stroke="#000" stroke-width="0.15">D4</text>
<line x1="361.60" y1="237.80" x2="361.60" y2="238.70" stroke="#555" stroke-width="0.4" />
<text x="361.60" y="243.60" font-size="4.8" font-weight="bold" text-anchor="middle" fill="#000" stroke="#000" stroke-width="0.15">D5</text>
<line x1="371.30" y1="237.80" x2="371.30" y2="238.70" stroke="#555" stroke-width="0.4" />
<text x="371.30" y="243.60" font-size="4.8" font-weight="bold" text-anchor="middle" fill="#000" stroke="#000" stroke-width="0.15">D6</text>
<line x1="381.00" y1="237.80" x2="381.00" y2="238.70" stroke="#555" stroke-width="0.4" />
<text x="381.00" y="243.60" font-size="4.8" font-weight="bold" text-anchor="middle" fill="#000" stroke="#000" stroke-width="0.15">D7</text>
<polyline points="311.7,225.6 321.4,227.9 331.1,225.5 340.8,209.1 350.5,225.7 360.2,228.3 369.9,226.4 379.6,231.0" fill="none" stroke="#404040" stroke-width="0.75"/>
<path d="M311.7 225.6h0M321.4 227.9h0M331.1 225.5h0M340.8 209.1h0M350.5 225.7h0M360.2 228.3h0M369.9 226.4h0M379.6 231.0h0" stroke="#404040" stroke-width="1.40" stroke-linecap="round"/>
<polyline points="311.7,229.6 321.4,223.6 331.1,224.8 340.8,213.5 350.5,222.1 360.2,227.0 369.9,230.9 379.6,232.0" fill="none" stroke="#203090" stroke-width="0.75"/>
<path d="M311.7 229.6h0M321.4 223.6h0M331.1 224.8h0M340.8 213.5h0M350.5 222.1h0M360.2 227.0h0M369.9 230.9h0M379.6 232.0h0" stroke="#203090" stroke-width="1.40" stroke-linecap="round"/>
<polyline points="311.7,227.7 321.4,226.5 331.1,227.4 340.8,214.8 350.5,224.2 360.2,228.7 369.9,229.4 379.6,231.9" fill="none" stroke="#9070d0" stroke-width="0.75"/>
<path d="M311.7 227.7h0M321.4 226.5h0M331.1 227.4h0M340.8 214.8h0M350.5 224.2h0M360.2 228.7h0M369.9 229.4h0M379.6 231.9h0" stroke="#9070d0" stroke-width="1.40" stroke-linecap="round"/>
<polyline points="311.7,227.5 321.4,224.0 331.1,225.7 340.8,214.9 350.5,228.5 360.2,226.4 369.9,230.0 379.6,230.1" fill="none" stroke="#9070d0" stroke-width="0.75"/>
<path d="M311.7 227.5h0M321.4 224.0h0M331.1 225.7h0M340.8 214.9h0M350.5 228.5h0M360.2 226.4h0M369.9 230.0h0M379.6 230.1h0" stroke="#9070d0" stroke-width="1.40" stroke-linecap="round"/>
<polyline points="311.7,231.0 321.4,228.4 331.1,229.0 340.8,215.6 350.5,226.9 360.2,229.4 369.9,228.6 379.6,231.6" fill="none" stroke="#702080" stroke-width="0.75"/>
<path d="M311.7 231.0h0M321.4 228.4h0M331.1 229.0h0M340.8 215.6h0M350.5 226.9h0M360.2 229.4h0M369.9 228.6h0M379.6 231.6h0" stroke="#702080" stroke-width="1.40" stroke-linecap="round"/>
<polyline points="311.7,223.4 321.4,223.3 331.1,228.1 340.8,216.1 350.5,227.5 360.2,229.6 369.9,229.1 379.6,230.6" fill="none" stroke="#20a060" stroke-width="0.75"/>
<path d="M311.7 223.4h0M321.4 223.3h0M331.1 228.1h0M340.8 216.1h0M350.5 227.5h0M360.2 229.6h0M369.9 229.1h0M379.6 230.6h0" stroke="#20a060" stroke-width="1.40" stroke-linecap="round"/>
<polyline points="311.7,226.4 321.4,226.0 331.1,225.4 340.8,216.5 350.5,220.3 360.2,228.5 369.9,228.8 379.6,228.3" fill="none" stroke="#8030a0" stroke-width="0.75"/>
<path d="M311.7 226.4h0M321.4 226.0h0M331.1 225.4h0M340.8 216.5h0M350.5 220.3h0M360.2 228.5h0M369.9 228.8h0M379.6 228.3h0" stroke="#8030a0" stroke-width="1.40" stroke-linecap="round"/>
<polyline points="311.7,229.7 321.4,229.4 331.1,225.2 340.8,218.2 350.5,224.1 360.2,230.0 369.9,229.3 379.6,230.9" fill="none" stroke="#000000" stroke-width="0.75"/>
<path d="M311.7 229.7h0M321.4 229.4h0M331.1 225.2h0M340.8 218.2h0M350.5 224.1h0M360.2 230.0h0M369.9 229.3h0M379.6 230.9h0" stroke="#000000" stroke-width="1.40" stroke-linecap="round"/>
<polyline points="311.7,223.4 321.4,225.4 331.1,222.7 340.8,218.9 350.5,220.6 360.2,223.5 369.9,227.0 379.6,227.6" fill="none" stroke="#a02060" stroke-width="0.75"/>
<path d="M311.7 223.4h0M321.4 225.4h0M331.1 222.7h0M340.8 218.9h0M350.5 220.6h0M360.2 223.5h0M369.9 227.0h0M379.6 227.6h0" stroke="#a02060" stroke-width="1.40" stroke-linecap="round"/>
<polyline points="311.7,230.3 321.4,225.3 331.1,229.6 340.8,219.0 350.5,227.9 360.2,226.5 369.9,232.0 379.6,231.0" fill="none" stroke="#f09060" stroke-width="0.75"/>
<path d="M311.7 230.3h0M321.4 225.3h0M331.1 229.6h0M340.8 219.0h0M350.5 227.9h0M360.2 226.5h0M369.9 232.0h0M379.6 231.0h0" stroke="#f09060" stroke-width="1.40" stroke-linecap="round"/>
<polyline points="311.7,229.5 321.4,226.4 331.1,228.9 340.8,219.4 350.5,224.4 360.2,229.5 369.9,230.1 379.6,232.5" fill="none" stroke="#f09060" stroke-width="0.75"/>
<path d="M311.7 229.5h0M321.4 226.4h0M331.1 228.9h0M340.8 219.4h0M350.5 224.4h0M360.2 229.5h0M369.9 230.1h0M379.6 232.5h0" stroke="#f09060" stroke-width="1.40" stroke-linecap="round"/>
<polyline points="311.7,229.1 321.4,230.3 331.1,229.9 340.8,219.8 350.5,229.0 360.2,227.7 369.9,229.3 379.6,232.9" fill="none" stroke="#9070d0" stroke-width="0.75"/>
<path d="M311.7 229.1h0M321.4 230.3h0M331.1 229.9h0M340.8 219.8h0M350.5 229.0h0M360.2 227.7h0M369.9 229.3h0M379.6 232.9h0" stroke="#9070d0" stroke-width="1.40" stroke-linecap="round"/>
<polyline points="311.7,229.1 321.4,229.5 331.1,226.4 340.8,219.9 350.5,225.7 360.2,231.1 369.9,231.3 379.6,230.8" fill="none" stroke="#702080" stroke-width="0.75"/>
<path d="M311.7 229.1h0M321.4 229.5h0M331.1 226.4h0M340.8 219.9h0M350.5 225.7h0M360.2 231.1h0M369.9 231.3h0M379.6 230.8h0" stroke="#702080" stroke-width="1.40" stroke-linecap="round"/>
<polyline points="311.7,227.7 321.4,225.5 331.1,226.0 340.8,221.5 350.5,220.0 360.2,226.6 369.9,227.3 379.6,228.8" fill="none" stroke="#e0e090" stroke-width="0.75"/>
<path d="M311.7 227.7h0M321.4 225.5h0M331.1 226.0h0M340.8 221.5h0M350.5 220.0h0M360.2 226.6h0M369.9 227.3h0M379.6 228.8h0" stroke="#e0e090" stroke-width="1.40" stroke-linecap="round"/>
<polyline points="311.7,229.1 321.4,227.3 331.1,229.6 340.8,220.8 350.5,227.6 360.2,230.9 369.9,232.1 379.6,233.1" fill="none" stroke="#109090" stroke-width="0.75"/>
<path d="M311.7 229.1h0M321.4 227.3h0M331.1 229.6h0M340.8 220.8h0M350.5 227.6h0M360.2 230.9h0M369.9 232.1h0M379.6 233.1h0" stroke="#109090" stroke-width="1.40" stroke-linecap="round"/>
<polyline points="311.7,228.0 321.4,230.3 331.1,227.8 340.8,221.4 350.5,229.5 360.2,230.3 369.9,233.2 379.6,233.3" fill="none" stroke="#e070c0" stroke-width="0.75"/>
<path d="M311.7 228.0h0M321.4 230.3h0M331.1 227.8h0M340.8 221.4h0M350.5 229.5h0M360.2 230.3h0M369.9 233.2h0M379.6 233.3h0" stroke="#e070c0" stroke-width="1.40" stroke-linecap="round"/>
<polyline points="311.7,229.3 321.4,222.8 331.1,228.2 340.8,222.6 350.5,223.1 360.2,229.4 369.9,231.7 379.6,229.0" fill="none" stroke="#3050c0" stroke-width="0.75"/>
<path d="M311.7 229.3h0M321.4 222.8h0M331.1 228.2h0M340.8 222.6h0M350.5 223.1h0M360.2 229.4h0M369.9 231.7h0M379.6 229.0h0" stroke="#3050c0" stroke-width="1.40" stroke-linecap="round"/>
<polyline points="311.7,226.9 321.4,224.4 331.1,224.5 340.8,222.7 350.5,227.5 360.2,226.4 369.9,229.3 379.6,231.4" fill="none" stroke="#c0c0c0" stroke-width="0.75"/>
<path d="M311.7 226.9h0M321.4 224.4h0M331.1 224.5h0M340.8 222.7h0M350.5 227.5h0M360.2 226.4h0M369.9 229.3h0M379.6 231.4h0" stroke="#c0c0c0" stroke-width="1.40" stroke-linecap="round"/>
<polyline points="311.7,229.8 321.4,229.6 331.1,226.9 340.8,223.1 350.5,226.6 360.2,230.8 369.9,232.0 379.6,233.8" fill="none" stroke="#d0d060" stroke-width="0.75"/>
<path d="M311.7 229.8h0M321.4 229.6h0M331.1 226.9h0M340.8 223.1h0M350.5 226.6h0M360.2 230.8h0M369.9 232.0h0M379.6 233.8h0" stroke="#d0d060" stroke-width="1.40" stroke-linecap="round"/>
<polyline points="311.7,231.7 321.4,232.1 331.1,231.4 340.8,224.5 350.5,231.0 360.2,230.6 369.9,234.5 379.6,233.0" fill="none" stroke="#508020" stroke-width="0.75"/>
<path d="M311.7 231.7h0M321.4 232.1h0M331.1 231.4h0M340.8 224.5h0M350.5 231.0h0M360.2 230.6h0M369.9 234.5h0M379.6 233.0h0" stroke="#508020" stroke-width="1.40" stroke-linecap="round"/>
<polyline points="311.7,229.8 321.4,229.3 331.1,232.6 340.8,225.3 350.5,228.6 360.2,231.8 369.9,232.6 379.6,233.8" fill="none" stroke="#20a060" stroke-width="0.75"/>
<path d="M311.7 229.8h0M321.4 229.3h0M331.1 232.6h0M340.8 225.3h0M350.5 228.6h0M360.2 231.8h0M369.9 232.6h0M379.6 233.8h0" stroke="#20a060" stroke-width="1.40" stroke-linecap="round"/>
<polyline points="311.7,231.4 321.4,232.5 331.1,232.4 340.8,225.5 350.5,231.4 360.2,232.2 369.9,234.2 379.6,233.2" fill="none" stroke="#3050c0" stroke-width="0.75"/>
<path d="M311.7 231.4h0M321.4 232.5h0M331.1 232.4h0M340.8 225.5h0M350.5 231.4h0M360.2 232.2h0M369.9 234.2h0M379.6 233.2h0" stroke="#3050c0" stroke-width="1.40" stroke-linecap="round"/>
<polyline points="311.7,231.1 321.4,228.3 331.1,227.2 340.8,226.2 350.5,229.3 360.2,232.5 369.9,231.4 379.6,233.2" fill="none" stroke="#c0a0e0" stroke-width="0.75"/>
<path d="M311.7 231.1h0M321.4 228.3h0M331.1 227.2h0M340.8 226.2h0M350.5 229.3h0M360.2 232.5h0M369.9 231.4h0M379.6 233.2h0" stroke="#c0a0e0" stroke-width="1.40" stroke-linecap="round"/>
<polyline points="311.7,229.9 321.4,232.1 331.1,232.7 340.8,227.4 350.5,228.2 360.2,233.5 369.9,233.4 379.6,233.3" fill="none" stroke="#000000" stroke-width="0.75"/>
<path d="M311.7 229.9h0M321.4 232.1h0M331.1 232.7h0M340.8 227.4h0M350.5 228.2h0M360.2 233.5h0M369.9 233.4h0M379.6 233.3h0" stroke="#000000" stroke-width="1.40" stroke-linecap="round"/>
<polyline points="311.7,231.7 321.4,229.1 331.1,231.7 340.8,229.3 350.5,231.0 360.2,230.4 369.9,232.6 379.6,233.1" fill="none" stroke="#20a060" stroke-width="0.75"/>
<path d="M311.7 231.7h0M321.4 229.1h0M331.1 231.7h0M340.8 229.3h0M350.5 231.0h0M360.2 230.4h0M369.9 232.6h0M379.6 233.1h0" stroke="#20a060" stroke-width="1.40" stroke-linecap="round"/>
<polyline points="311.7,231.3 321.4,232.7 331.1,230.8 340.8,229.5 350.5,231.5 360.2,233.8 369.9,234.1 379.6,232.6" fill="none" stroke="#e070c0" stroke-width="0.75"/>
<path d="M311.7 231.3h0M321.4 232.7h0M331.1 230.8h0M340.8 229.5h0M350.5 231.5h0M360.2 233.8h0M369.9 234.1h0M379.6 232.6h0" stroke="#e070c0" stroke-width="1.40" stroke-linecap="round"/>
<polyline points="311.7,230.5 321.4,230.6 331.1,229.8 340.8,229.9 350.5,230.4 360.2,233.8 369.9,232.1 379.6,234.8" fill="none" stroke="#20a060" stroke-width="0.75"/>
<path d="M311.7 230.5h0M321.4 230.6h0M331.1 229.8h0M340.8 229.9h0M350.5 230.4h0M360.2 233.8h0M369.9 232.1h0M379.6 234.8h0" stroke="#20a060" stroke-width="1.40" stroke-linecap="round"/>
<polyline points="311.7,231.2 321.4,232.0 331.1,230.4 340.8,230.4 350.5,231.5 360.2,232.6 369.9,232.9 379.6,234.2" fill="none" stroke="#a0e0e0" stroke-width="0.75"/>
<path d="M311.7 231.2h0M321.4 232.0h0M331.1 230.4h0M340.8 230.4h0M350.5 231.5h0M360.2 232.6h0M369.9 232.9h0M379.6 234.2h0" stroke="#a0e0e0" stroke-width="1.40" stroke-linecap="round"/>
<polyline points="311.7,233.9 321.4,231.0 331.1,233.8 340.8,230.8 350.5,231.2 360.2,233.1 369.9,234.2 379.6,234.5" fill="none" stroke="#109090" stroke-width="0.75"/>
<path d="M311.7 233.9h0M321.4 231.0h0M331.1 233.8h0M340.8 230.8h0M350.5 231.2h0M360.2 233.1h0M369.9 234.2h0M379.6 234.5h0" stroke="#109090" stroke-width="1.40" stroke-linecap="round"/>
<polyline points="311.7,234.9 321.4,234.4 331.1,233.9 340.8,231.4 350.5,235.2 360.2,235.2 369.9,235.2 379.6,236.2" fill="none" stroke="#f09060" stroke-width="0.75"/>
<path d="M311.7 234.9h0M321.4 234.4h0M331.1 233.9h0M340.8 231.4h0M350.5 235.2h0M360.2 235.2h0M369.9 235.2h0M379.6 236.2h0" stroke="#f09060" stroke-width="1.40" stroke-linecap="round"/>
<polyline points="311.7,233.3 321.4,233.0 331.1,232.5 340.8,231.5 350.5,232.5 360.2,234.3 369.9,233.5 379.6,233.8" fill="none" stroke="#8030a0" stroke-width="0.75"/>
<path d="M311.7 233.3h0M321.4 233.0h0M331.1 232.5h0M340.8 231.5h0M350.5 232.5h0M360.2 234.3h0M369.9 233.5h0M379.6 233.8h0" stroke="#8030a0" stroke-width="1.40" stroke-linecap="round"/>
<polyline points="311.7,233.1 321.4,234.2 331.1,232.7 340.8,231.7 350.5,232.5 360.2,234.6 369.9,234.7 379.6,235.2" fill="none" stroke="#d06020" stroke-width="0.75"/>
<path d="M311.7 233.1h0M321.4 234.2h0M331.1 232.7h0M340.8 231.7h0M350.5 232.5h0M360.2 234.6h0M369.9 234.7h0M379.6 235.2h0" stroke="#d06020" stroke-width="1.40" stroke-linecap="round"/>
<polyline points="311.7,234.1 321.4,234.0 331.1,232.5 340.8,232.8 350.5,234.2 360.2,233.3 369.9,234.3 379.6,234.8" fill="none" stroke="#000000" stroke-width="0.75"/>
<path d="M311.7 234.1h0M321.4 234.0h0M331.1 232.5h0M340.8 232.8h0M350.5 234.2h0M360.2 233.3h0M369.9 234.3h0M379.6 234.8h0" stroke="#000000" stroke-width="1.40" stroke-linecap="round"/>
<polyline points="311.7,234.1 321.4,233.3 331.1,234.9 340.8,232.6 350.5,235.0 360.2,234.3 369.9,235.9 379.6,235.3" fill="none" stroke="#f09060" stroke-width="0.75"/>
<path d="M311.7 234.1h0M321.4 233.3h0M331.1 234.9h0M340.8 232.6h0M350.5 235.0h0M360.2 234.3h0M369.9 235.9h0M379.6 235.3h0" stroke="#f09060" stroke-width="1.40" stroke-linecap="round"/>
<polyline points="311.7,235.5 321.4,235.3 331.1,236.2 340.8,232.9 350.5,235.7 360.2,235.4 369.9,235.8 379.6,236.0" fill="none" stroke="#60b030" stroke-width="0.75"/>
<path d="M311.7 235.5h0M321.4 235.3h0M331.1 236.2h0M340.8 232.9h0M350.5 235.7h0M360.2 235.4h0M369.9 235.8h0M379.6 236.0h0" stroke="#60b030" stroke-width="1.40" stroke-linecap="round"/>
<polyline points="311.7,235.9 321.4,235.7 331.1,235.3 340.8,232.9 350.5,234.8 360.2,235.7 369.9,235.4 379.6,236.5" fill="none" stroke="#702080" stroke-width="0.75"/>
<path d="M311.7 235.9h0M321.4 235.7h0M331.1 235.3h0M340.8 232.9h0M350.5 234.8h0M360.2 235.7h0M369.9 235.4h0M379.6 236.5h0" stroke="#702080" stroke-width="1.40" stroke-linecap="round"/>
<polyline points="311.7,235.2 321.4,235.8 331.1,236.0 340.8,233.0 350.5,235.2 360.2,236.4 369.9,236.0 379.6,236.1" fill="none" stroke="#d0d060" stroke-width="0.75"/>
<path d="M311.7 235.2h0M321.4 235.8h0M331.1 236.0h0M340.8 233.0h0M350.5 235.2h0M360.2 236.4h0M369.9 236.0h0M379.6 236.1h0" stroke="#d0d060" stroke-width="1.40" stroke-linecap="round"/>
<polyline points="311.7,233.3 321.4,234.7 331.1,233.3 340.8,233.3 350.5,233.7 360.2,235.5 369.9,235.7 379.6,235.3" fill="none" stroke="#9070d0" stroke-width="0.75"/>
<path d="M311.7 233.3h0M321.4 234.7h0M331.1 233.3h0M340.8 233.3h0M350.5 233.7h0M360.2 235.5h0M369.9 235.7h0M379.6 235.3h0" stroke="#9070d0" stroke-width="1.40" stroke-linecap="round"/>
<polyline points="311.7,236.0 321.4,236.2 331.1,235.1 340.8,233.5 350.5,235.6 360.2,235.4 369.9,236.1 379.6,236.6" fill="none" stroke="#b0c020" stroke-width="0.75"/>
<path d="M311.7 236.0h0M321.4 236.2h0M331.1 235.1h0M340.8 233.5h0M350.5 235.6h0M360.2 235.4h0M369.9 236.1h0M379.6 236.6h0" stroke="#b0c020" stroke-width="1.40" stroke-linecap="round"/>
<polyline points="311.7,235.6 321.4,235.4 331.1,236.4 340.8,233.7 350.5,235.7 360.2,236.1 369.9,236.0 379.6,236.5" fill="none" stroke="#2080c0" stroke-width="0.75"/>
<path d="M311.7 235.6h0M321.4 235.4h0M331.1 236.4h0M340.8 233.7h0M350.5 235.7h0M360.2 236.1h0M369.9 236.0h0M379.6 236.5h0" stroke="#2080c0" stroke-width="1.40" stroke-linecap="round"/>
<polyline points="311.7,235.5 321.4,236.0 331.1,236.1 340.8,234.2 350.5,235.0 360.2,236.3 369.9,236.1 379.6,236.6" fill="none" stroke="#d06020" stroke-width="0.75"/>
<path d="M311.7 235.5h0M321.4 236.0h0M331.1 236.1h0M340.8 234.2h0M350.5 235.0h0M360.2 236.3h0M369.9 236.1h0M379.6 236.6h0" stroke="#d06020" stroke-width="1.40" stroke-linecap="round"/>
<polyline points="311.7,235.2 321.4,235.6 331.1,235.8 340.8,234.6 350.5,235.9 360.2,236.3 369.9,236.0 379.6,236.7" fill="none" stroke="#40c0c0" stroke-width="0.75"/>
<path d="M311.7 235.2h0M321.4 235.6h0M331.1 235.8h0M340.8 234.6h0M350.5 235.9h0M360.2 236.3h0M369.9 236.0h0M379.6 236.7h0" stroke="#40c0c0" stroke-width="1.40" stroke-linecap="round"/>
<polyline points="311.7,236.7 321.4,236.9 331.1,236.5 340.8,236.1 350.5,236.9 360.2,236.9 369.9,237.0 379.6,237.2" fill="none" stroke="#d0d060" stroke-width="0.75"/>
<path d="M311.7 236.7h0M321.4 236.9h0M331.1 236.5h0M340.8 236.1h0M350.5 236.9h0M360.2 236.9h0M369.9 237.0h0M379.6 237.2h0" stroke="#d0d060" stroke-width="1.40" stroke-linecap="round"/>
<polyline points="311.7,236.9 321.4,236.7 331.1,237.1 340.8,236.1 350.5,236.5 360.2,236.9 369.9,237.1 379.6,237.2" fill="none" stroke="#80d080" stroke-width="0.75"/>
<path d="M311.7 236.9h0M321.4 236.7h0M331.1 237.1h0M340.8 236.1h0M350.5 236.5h0M360.2 236.9h0M369.9 237.1h0M379.6 237.2h0" stroke="#80d080" stroke-width="1.40" stroke-linecap="round"/>
<polyline points="311.7,236.6 321.4,236.9 331.1,236.5 340.8,236.2 350.5,236.5 360.2,236.8 369.9,237.1 379.6,236.9" fill="none" stroke="#3050c0" stroke-width="0.75"/>
<path d="M311.7 236.6h0M321.4 236.9h0M331.1 236.5h0M340.8 236.2h0M350.5 236.5h0M360.2 236.8h0M369.9 237.1h0M379.6 236.9h0" stroke="#3050c0" stroke-width="1.40" stroke-linecap="round"/>
<polyline points="311.7,236.8 321.4,236.7 331.1,236.8 340.8,236.3 350.5,237.1 360.2,237.1 369.9,237.3 379.6,237.4" fill="none" stroke="#c02020" stroke-width="0.75"/>
<path d="M311.7 236.8h0M321.4 236.7h0M331.1 236.8h0M340.8 236.3h0M350.5 237.1h0M360.2 237.1h0M369.9 237.3h0M379.6 237.4h0" stroke="#c02020" stroke-width="1.40" stroke-linecap="round"/>
<polyline points="311.7,237.2 321.4,237.2 331.1,237.0 340.8,236.7 350.5,237.0 360.2,237.0 369.9,237.4 379.6,237.3" fill="none" stroke="#c0a0e0" stroke-width="0.75"/>
<path d="M311.7 237.2h0M321.4 237.2h0M331.1 237.0h0M340.8 236.7h0M350.5 237.0h0M360.2 237.0h0M369.9 237.4h0M379.6 237.3h0" stroke="#c0a0e0" stroke-width="1.40" stroke-linecap="round"/>
<polyline points="311.7,237.0 321.4,237.0 331.1,236.8 340.8,236.7 350.5,237.1 360.2,237.1 369.9,237.2 379.6,237.4" fill="none" stroke="#e070c0" stroke-width="0.75"/>
<path d="M311.7 237.0h0M321.4 237.0h0M331.1 236.8h0M340.8 236.7h0M350.5 237.1h0M360.2 237.1h0M369.9 237.2h0M379.6 237.4h0" stroke="#e070c0" stroke-width="1.40" stroke-linecap="round"/>
<polyline points="311.7,237.7 321.4,237.7 331.1,237.7 340.8,237.6 350.5,237.6 360.2,237.7 369.9,237.7 379.6,237.7" fill="none" stroke="#1a1a80" stroke-width="0.75"/>
<path d="M311.7 237.7h0M321.4 237.7h0M331.1 237.7h0M340.8 237.6h0M350.5 237.6h0M360.2 237.7h0M369.9 237.7h0M379.6 237.7h0" stroke="#1a1a80" stroke-width="1.40" stroke-linecap="round"/>
<polyline points="311.7,237.8 321.4,237.8 331.1,237.8 340.8,237.8 350.5,237.8 360.2,237.8 369.9,237.8 379.6,237.8" fill="none" stroke="#a0e0e0" stroke-width="0.75"/>
<path d="M311.7 237.8h0M321.4 237.8h0M331.1 237.8h0M340.8 237.8h0M350.5 237.8h0M360.2 237.8h0M369.9 237.8h0M379.6 237.8h0" stroke="#a0e0e0" stroke-width="1.40" stroke-linecap="round"/>
<polyline points="311.7,209.3 321.4,210.2 331.1,203.8 340.8,184.4 350.5,201.0 360.2,203.8 369.9,210.2 379.6,217.1" fill="none" stroke="#a03030" stroke-width="0.85"/>
<path d="M311.7 209.3h0M321.4 210.2h0M331.1 203.8h0M340.8 184.4h0M350.5 201.0h0M360.2 203.8h0M369.9 210.2h0M379.6 217.1h0" stroke="#a03030" stroke-width="1.70" stroke-linecap="round"/>
<polyline points="311.7,213.4 321.4,199.2 331.1,202.8 340.8,193.6 350.5,202.8 360.2,209.3 369.9,217.6 379.6,217.1" fill="none" stroke="#b04040" stroke-width="0.85"/>
<path d="M311.7 213.4h0M321.4 199.2h0M331.1 202.8h0M340.8 193.6h0M350.5 202.8h0M360.2 209.3h0M369.9 217.6h0M379.6 217.1h0" stroke="#b04040" stroke-width="1.70" stroke-linecap="round"/>
<polyline points="311.7,222.2 321.4,219.4 331.1,220.3 340.8,204.7 350.5,216.6 360.2,222.2 369.9,226.8 379.6,228.6" fill="none" stroke="#3050c0" stroke-width="0.85"/>
<path d="M311.7 222.2h0M321.4 219.4h0M331.1 220.3h0M340.8 204.7h0M350.5 216.6h0M360.2 222.2h0M369.9 226.8h0M379.6 228.6h0" stroke="#3050c0" stroke-width="1.70" stroke-linecap="round"/>
<polyline points="311.7,226.8 321.4,225.8 331.1,224.9 340.8,213.9 350.5,223.1 360.2,226.8 369.9,223.1 379.6,219.4" fill="none" stroke="#40a0a0" stroke-width="0.85"/>
<path d="M311.7 226.8h0M321.4 225.8h0M331.1 224.9h0M340.8 213.9h0M350.5 223.1h0M360.2 226.8h0M369.9 223.1h0M379.6 219.4h0" stroke="#40a0a0" stroke-width="1.70" stroke-linecap="round"/>
<polyline points="311.7,228.6 321.4,226.8 331.1,226.8 340.8,217.6 350.5,224.0 360.2,228.6 369.9,230.4 379.6,232.3" fill="none" stroke="#000000" stroke-width="0.85"/>
<path d="M311.7 228.6h0M321.4 226.8h0M331.1 226.8h0M340.8 217.6h0M350.5 224.0h0M360.2 228.6h0M369.9 230.4h0M379.6 232.3h0" stroke="#000000" stroke-width="1.70" stroke-linecap="round"/>
<rect x="306.8" y="236.4" width="76.8" height="1.0" fill="#1a1a60" opacity="0.7"/>
<text x="377.40" y="183.20" font-size="7.8" font-weight="bold" text-anchor="end" fill="#000" >D3</text>
<rect x="16.5" y="248.4" width="77.9" height="64.1" fill="#fff" stroke="#6a6a6a" stroke-width="0.8"/>
<line x1="15.50" y1="312.50" x2="16.50" y2="312.50" stroke="#555" stroke-width="0.4" />
<text x="15.30" y="314.05" font-size="4.3" font-weight="bold" text-anchor="end" fill="#000" stroke="#000" stroke-width="0.18">0</text>
<line x1="15.50" y1="301.82" x2="16.50" y2="301.82" stroke="#555" stroke-width="0.4" />
<text x="15.30" y="303.37" font-size="4.3" font-weight="bold" text-anchor="end" fill="#000" stroke="#000" stroke-width="0.18">5000</text>
<line x1="15.50" y1="291.13" x2="16.50" y2="291.13" stroke="#555" stroke-width="0.4" />
<text x="15.30" y="292.68" font-size="4.3" font-weight="bold" text-anchor="end" fill="#000" stroke="#000" stroke-width="0.18">10&#160;000</text>
<line x1="15.50" y1="280.45" x2="16.50" y2="280.45" stroke="#555" stroke-width="0.4" />
<text x="15.30" y="282.00" font-size="4.3" font-weight="bold" text-anchor="end" fill="#000" stroke="#000" stroke-width="0.18">15&#160;000</text>
<line x1="15.50" y1="269.77" x2="16.50" y2="269.77" stroke="#555" stroke-width="0.4" />
<text x="15.30" y="271.32" font-size="4.3" font-weight="bold" text-anchor="end" fill="#000" stroke="#000" stroke-width="0.18">20&#160;000</text>
<line x1="15.50" y1="259.08" x2="16.50" y2="259.08" stroke="#555" stroke-width="0.4" />
<text x="15.30" y="260.63" font-size="4.3" font-weight="bold" text-anchor="end" fill="#000" stroke="#000" stroke-width="0.18">25&#160;000</text>
<line x1="15.50" y1="248.40" x2="16.50" y2="248.40" stroke="#555" stroke-width="0.4" />
<text x="15.30" y="249.95" font-size="4.3" font-weight="bold" text-anchor="end" fill="#000" stroke="#000" stroke-width="0.18">30&#160;000</text>
<line x1="23.40" y1="312.50" x2="23.40" y2="313.40" stroke="#555" stroke-width="0.4" />
<text x="23.40" y="318.30" font-size="4.8" font-weight="bold" text-anchor="middle" fill="#000" stroke="#000" stroke-width="0.15">D0</text>
<line x1="33.10" y1="312.50" x2="33.10" y2="313.40" stroke="#555" stroke-width="0.4" />
<text x="33.10" y="318.30" font-size="4.8" font-weight="bold" text-anchor="middle" fill="#000" stroke="#000" stroke-width="0.15">D1</text>
<line x1="42.80" y1="312.50" x2="42.80" y2="313.40" stroke="#555" stroke-width="0.4" />
<text x="42.80" y="318.30" font-size="4.8" font-weight="bold" text-anchor="middle" fill="#000" stroke="#000" stroke-width="0.15">D2</text>
<line x1="52.50" y1="312.50" x2="52.50" y2="313.40" stroke="#555" stroke-width="0.4" />
<text x="52.50" y="318.30" font-size="4.8" font-weight="bold" text-anchor="middle" fill="#000" stroke="#000" stroke-width="0.15">D3</text>
<line x1="62.20" y1="312.50" x2="62.20" y2="313.40" stroke="#555" stroke-width="0.4" />
<text x="62.20" y="318.30" font-size="4.8" font-weight="bold" text-anchor="middle" fill="#000" stroke="#000" stroke-width="0.15">D4</text>
<line x1="71.90" y1="312.50" x2="71.90" y2="313.40" stroke="#555" stroke-width="0.4" />
<text x="71.90" y="318.30" font-size="4.8" font-weight="bold" text-anchor="middle" fill="#000" stroke="#000" stroke-width="0.15">D5</text>
<line x1="81.60" y1="312.50" x2="81.60" y2="313.40" stroke="#555" stroke-width="0.4" />
<text x="81.60" y="318.30" font-size="4.8" font-weight="bold" text-anchor="middle" fill="#000" stroke="#000" stroke-width="0.15">D6</text>
<line x1="91.30" y1="312.50" x2="91.30" y2="313.40" stroke="#555" stroke-width="0.4" />
<text x="91.30" y="318.30" font-size="4.8" font-weight="bold" text-anchor="middle" fill="#000" stroke="#000" stroke-width="0.15">D7</text>
<polyline points="22.0,297.8 31.7,300.9 41.4,296.1 51.1,291.8 60.8,288.1 70.5,292.3 80.2,303.8 89.9,304.8" fill="none" stroke="#c02020" stroke-width="0.75"/>
<path d="M22.0 297.8h0M31.7 300.9h0M41.4 296.1h0M51.1 291.8h0M60.8 288.1h0M70.5 292.3h0M80.2 303.8h0M89.9 304.8h0" stroke="#c02020" stroke-width="1.40" stroke-linecap="round"/>
<polyline points="22.0,298.4 31.7,303.2 41.4,296.3 51.1,294.6 60.8,288.6 70.5,299.9 80.2,302.5 89.9,302.5" fill="none" stroke="#000060" stroke-width="0.75"/>
<path d="M22.0 298.4h0M31.7 303.2h0M41.4 296.3h0M51.1 294.6h0M60.8 288.6h0M70.5 299.9h0M80.2 302.5h0M89.9 302.5h0" stroke="#000060" stroke-width="1.40" stroke-linecap="round"/>
<polyline points="22.0,302.5 31.7,297.8 41.4,301.3 51.1,290.9 60.8,294.2 70.5,292.0 80.2,298.2 89.9,300.0" fill="none" stroke="#508020" stroke-width="0.75"/>
<path d="M22.0 302.5h0M31.7 297.8h0M41.4 301.3h0M51.1 290.9h0M60.8 294.2h0M70.5 292.0h0M80.2 298.2h0M89.9 300.0h0" stroke="#508020" stroke-width="1.40" stroke-linecap="round"/>
<polyline points="22.0,294.3 31.7,300.1 41.4,301.4 51.1,296.8 60.8,291.0 70.5,291.3 80.2,300.1 89.9,301.4" fill="none" stroke="#c0a0e0" stroke-width="0.75"/>
<path d="M22.0 294.3h0M31.7 300.1h0M41.4 301.4h0M51.1 296.8h0M60.8 291.0h0M70.5 291.3h0M80.2 300.1h0M89.9 301.4h0" stroke="#c0a0e0" stroke-width="1.40" stroke-linecap="round"/>
<polyline points="22.0,303.3 31.7,302.4 41.4,299.4 51.1,296.9 60.8,291.2 70.5,299.4 80.2,300.0 89.9,303.0" fill="none" stroke="#1a1a80" stroke-width="0.75"/>
<path d="M22.0 303.3h0M31.7 302.4h0M41.4 299.4h0M51.1 296.9h0M60.8 291.2h0M70.5 299.4h0M80.2 300.0h0M89.9 303.0h0" stroke="#1a1a80" stroke-width="1.40" stroke-linecap="round"/>
<polyline points="22.0,301.8 31.7,305.0 41.4,305.9 51.1,303.4 60.8,292.3 70.5,303.6 80.2,306.2 89.9,307.7" fill="none" stroke="#e070c0" stroke-width="0.75"/>
<path d="M22.0 301.8h0M31.7 305.0h0M41.4 305.9h0M51.1 303.4h0M60.8 292.3h0M70.5 303.6h0M80.2 306.2h0M89.9 307.7h0" stroke="#e070c0" stroke-width="1.40" stroke-linecap="round"/>
<polyline points="22.0,302.5 31.7,303.4 41.4,303.1 51.1,304.2 60.8,292.6 70.5,299.4 80.2,306.4 89.9,306.6" fill="none" stroke="#c02020" stroke-width="0.75"/>
<path d="M22.0 302.5h0M31.7 303.4h0M41.4 303.1h0M51.1 304.2h0M60.8 292.6h0M70.5 299.4h0M80.2 306.4h0M89.9 306.6h0" stroke="#c02020" stroke-width="1.40" stroke-linecap="round"/>
<polyline points="22.0,297.7 31.7,298.4 41.4,302.5 51.1,295.5 60.8,292.7 70.5,295.2 80.2,298.4 89.9,301.6" fill="none" stroke="#e0e090" stroke-width="0.75"/>
<path d="M22.0 297.7h0M31.7 298.4h0M41.4 302.5h0M51.1 295.5h0M60.8 292.7h0M70.5 295.2h0M80.2 298.4h0M89.9 301.6h0" stroke="#e0e090" stroke-width="1.40" stroke-linecap="round"/>
<polyline points="22.0,301.7 31.7,305.3 41.4,306.5 51.1,300.2 60.8,293.3 70.5,300.3 80.2,304.1 89.9,306.6" fill="none" stroke="#8030a0" stroke-width="0.75"/>
<path d="M22.0 301.7h0M31.7 305.3h0M41.4 306.5h0M51.1 300.2h0M60.8 293.3h0M70.5 300.3h0M80.2 304.1h0M89.9 306.6h0" stroke="#8030a0" stroke-width="1.40" stroke-linecap="round"/>
<polyline points="22.0,304.7 31.7,306.2 41.4,306.0 51.1,302.7 60.8,294.3 70.5,302.4 80.2,304.9 89.9,305.3" fill="none" stroke="#9070d0" stroke-width="0.75"/>
<path d="M22.0 304.7h0M31.7 306.2h0M41.4 306.0h0M51.1 302.7h0M60.8 294.3h0M70.5 302.4h0M80.2 304.9h0M89.9 305.3h0" stroke="#9070d0" stroke-width="1.40" stroke-linecap="round"/>
<polyline points="22.0,303.4 31.7,301.2 41.4,298.6 51.1,300.1 60.8,294.6 70.5,297.2 80.2,305.2 89.9,303.2" fill="none" stroke="#e0e090" stroke-width="0.75"/>
<path d="M22.0 303.4h0M31.7 301.2h0M41.4 298.6h0M51.1 300.1h0M60.8 294.6h0M70.5 297.2h0M80.2 305.2h0M89.9 303.2h0" stroke="#e0e090" stroke-width="1.40" stroke-linecap="round"/>
<polyline points="22.0,305.4 31.7,306.2 41.4,306.0 51.1,304.6 60.8,295.2 70.5,300.5 80.2,304.3 89.9,306.3" fill="none" stroke="#e0b020" stroke-width="0.75"/>
<path d="M22.0 305.4h0M31.7 306.2h0M41.4 306.0h0M51.1 304.6h0M60.8 295.2h0M70.5 300.5h0M80.2 304.3h0M89.9 306.3h0" stroke="#e0b020" stroke-width="1.40" stroke-linecap="round"/>
<polyline points="22.0,303.9 31.7,306.2 41.4,306.8 51.1,305.2 60.8,295.5 70.5,302.1 80.2,307.1 89.9,305.8" fill="none" stroke="#e070c0" stroke-width="0.75"/>
<path d="M22.0 303.9h0M31.7 306.2h0M41.4 306.8h0M51.1 305.2h0M60.8 295.5h0M70.5 302.1h0M80.2 307.1h0M89.9 305.8h0" stroke="#e070c0" stroke-width="1.40" stroke-linecap="round"/>
<polyline points="22.0,305.8 31.7,304.3 41.4,303.6 51.1,301.5 60.8,295.5 70.5,306.2 80.2,304.9 89.9,307.5" fill="none" stroke="#702080" stroke-width="0.75"/>
<path d="M22.0 305.8h0M31.7 304.3h0M41.4 303.6h0M51.1 301.5h0M60.8 295.5h0M70.5 306.2h0M80.2 304.9h0M89.9 307.5h0" stroke="#702080" stroke-width="1.40" stroke-linecap="round"/>
<polyline points="22.0,304.5 31.7,300.7 41.4,299.3 51.1,300.6 60.8,295.9 70.5,300.3 80.2,302.0 89.9,305.2" fill="none" stroke="#e0e090" stroke-width="0.75"/>
<path d="M22.0 304.5h0M31.7 300.7h0M41.4 299.3h0M51.1 300.6h0M60.8 295.9h0M70.5 300.3h0M80.2 302.0h0M89.9 305.2h0" stroke="#e0e090" stroke-width="1.40" stroke-linecap="round"/>
<polyline points="22.0,305.5 31.7,302.9 41.4,302.3 51.1,301.9 60.8,295.9 70.5,299.7 80.2,305.6 89.9,307.8" fill="none" stroke="#3050c0" stroke-width="0.75"/>
<path d="M22.0 305.5h0M31.7 302.9h0M41.4 302.3h0M51.1 301.9h0M60.8 295.9h0M70.5 299.7h0M80.2 305.6h0M89.9 307.8h0" stroke="#3050c0" stroke-width="1.40" stroke-linecap="round"/>
<polyline points="22.0,304.7 31.7,302.5 41.4,304.6 51.1,300.8 60.8,296.8 70.5,304.7 80.2,302.9 89.9,307.4" fill="none" stroke="#30c080" stroke-width="0.75"/>
<path d="M22.0 304.7h0M31.7 302.5h0M41.4 304.6h0M51.1 300.8h0M60.8 296.8h0M70.5 304.7h0M80.2 302.9h0M89.9 307.4h0" stroke="#30c080" stroke-width="1.40" stroke-linecap="round"/>
<polyline points="22.0,306.7 31.7,308.5 41.4,307.7 51.1,306.9 60.8,299.1 70.5,306.9 80.2,308.0 89.9,308.6" fill="none" stroke="#f09060" stroke-width="0.75"/>
<path d="M22.0 306.7h0M31.7 308.5h0M41.4 307.7h0M51.1 306.9h0M60.8 299.1h0M70.5 306.9h0M80.2 308.0h0M89.9 308.6h0" stroke="#f09060" stroke-width="1.40" stroke-linecap="round"/>
<polyline points="22.0,305.9 31.7,306.3 41.4,305.2 51.1,301.1 60.8,299.3 70.5,301.2 80.2,306.6 89.9,305.4" fill="none" stroke="#9070d0" stroke-width="0.75"/>
<path d="M22.0 305.9h0M31.7 306.3h0M41.4 305.2h0M51.1 301.1h0M60.8 299.3h0M70.5 301.2h0M80.2 306.6h0M89.9 305.4h0" stroke="#9070d0" stroke-width="1.40" stroke-linecap="round"/>
<polyline points="22.0,303.2 31.7,303.7 41.4,301.8 51.1,302.7 60.8,299.7 70.5,300.7 80.2,305.5 89.9,306.9" fill="none" stroke="#203090" stroke-width="0.75"/>
<path d="M22.0 303.2h0M31.7 303.7h0M41.4 301.8h0M51.1 302.7h0M60.8 299.7h0M70.5 300.7h0M80.2 305.5h0M89.9 306.9h0" stroke="#203090" stroke-width="1.40" stroke-linecap="round"/>
<polyline points="22.0,301.3 31.7,304.8 41.4,304.3 51.1,301.3 60.8,301.1 70.5,301.7 80.2,306.9 89.9,305.5" fill="none" stroke="#90d0a0" stroke-width="0.75"/>
<path d="M22.0 301.3h0M31.7 304.8h0M41.4 304.3h0M51.1 301.3h0M60.8 301.1h0M70.5 301.7h0M80.2 306.9h0M89.9 305.5h0" stroke="#90d0a0" stroke-width="1.40" stroke-linecap="round"/>
<polyline points="22.0,303.3 31.7,303.9 41.4,306.9 51.1,303.1 60.8,301.2 70.5,301.2 80.2,303.7 89.9,307.1" fill="none" stroke="#8030a0" stroke-width="0.75"/>
<path d="M22.0 303.3h0M31.7 303.9h0M41.4 306.9h0M51.1 303.1h0M60.8 301.2h0M70.5 301.2h0M80.2 303.7h0M89.9 307.1h0" stroke="#8030a0" stroke-width="1.40" stroke-linecap="round"/>
<polyline points="22.0,306.5 31.7,307.1 41.4,306.6 51.1,305.0 60.8,302.0 70.5,305.7 80.2,305.6 89.9,306.9" fill="none" stroke="#2080c0" stroke-width="0.75"/>
<path d="M22.0 306.5h0M31.7 307.1h0M41.4 306.6h0M51.1 305.0h0M60.8 302.0h0M70.5 305.7h0M80.2 305.6h0M89.9 306.9h0" stroke="#2080c0" stroke-width="1.40" stroke-linecap="round"/>
<polyline points="22.0,309.1 31.7,308.7 41.4,308.5 51.1,305.9 60.8,302.5 70.5,308.0 80.2,307.4 89.9,309.7" fill="none" stroke="#a0e0e0" stroke-width="0.75"/>
<path d="M22.0 309.1h0M31.7 308.7h0M41.4 308.5h0M51.1 305.9h0M60.8 302.5h0M70.5 308.0h0M80.2 307.4h0M89.9 309.7h0" stroke="#a0e0e0" stroke-width="1.40" stroke-linecap="round"/>
<polyline points="22.0,308.1 31.7,307.6 41.4,307.6 51.1,303.0 60.8,302.6 70.5,307.0 80.2,306.7 89.9,306.6" fill="none" stroke="#404040" stroke-width="0.75"/>
<path d="M22.0 308.1h0M31.7 307.6h0M41.4 307.6h0M51.1 303.0h0M60.8 302.6h0M70.5 307.0h0M80.2 306.7h0M89.9 306.6h0" stroke="#404040" stroke-width="1.40" stroke-linecap="round"/>
<polyline points="22.0,306.8 31.7,307.4 41.4,305.6 51.1,307.9 60.8,303.7 70.5,305.1 80.2,308.0 89.9,309.3" fill="none" stroke="#c0a0e0" stroke-width="0.75"/>
<path d="M22.0 306.8h0M31.7 307.4h0M41.4 305.6h0M51.1 307.9h0M60.8 303.7h0M70.5 305.1h0M80.2 308.0h0M89.9 309.3h0" stroke="#c0a0e0" stroke-width="1.40" stroke-linecap="round"/>
<polyline points="22.0,305.8 31.7,307.3 41.4,307.3 51.1,306.0 60.8,304.4 70.5,304.2 80.2,307.9 89.9,309.1" fill="none" stroke="#9070d0" stroke-width="0.75"/>
<path d="M22.0 305.8h0M31.7 307.3h0M41.4 307.3h0M51.1 306.0h0M60.8 304.4h0M70.5 304.2h0M80.2 307.9h0M89.9 309.1h0" stroke="#9070d0" stroke-width="1.40" stroke-linecap="round"/>
<polyline points="22.0,308.8 31.7,309.2 41.4,307.6 51.1,304.9 60.8,304.8 70.5,307.8 80.2,308.8 89.9,308.5" fill="none" stroke="#2080c0" stroke-width="0.75"/>
<path d="M22.0 308.8h0M31.7 309.2h0M41.4 307.6h0M51.1 304.9h0M60.8 304.8h0M70.5 307.8h0M80.2 308.8h0M89.9 308.5h0" stroke="#2080c0" stroke-width="1.40" stroke-linecap="round"/>
<polyline points="22.0,309.1 31.7,308.7 41.4,308.4 51.1,308.8 60.8,305.0 70.5,307.8 80.2,309.6 89.9,309.2" fill="none" stroke="#203090" stroke-width="0.75"/>
<path d="M22.0 309.1h0M31.7 308.7h0M41.4 308.4h0M51.1 308.8h0M60.8 305.0h0M70.5 307.8h0M80.2 309.6h0M89.9 309.2h0" stroke="#203090" stroke-width="1.40" stroke-linecap="round"/>
<polyline points="22.0,308.1 31.7,310.0 41.4,309.8 51.1,308.7 60.8,305.1 70.5,308.2 80.2,309.3 89.9,309.3" fill="none" stroke="#e070c0" stroke-width="0.75"/>
<path d="M22.0 308.1h0M31.7 310.0h0M41.4 309.8h0M51.1 308.7h0M60.8 305.1h0M70.5 308.2h0M80.2 309.3h0M89.9 309.3h0" stroke="#e070c0" stroke-width="1.40" stroke-linecap="round"/>
<polyline points="22.0,307.6 31.7,308.6 41.4,309.1 51.1,308.9 60.8,306.7 70.5,308.1 80.2,308.7 89.9,309.5" fill="none" stroke="#f0e060" stroke-width="0.75"/>
<path d="M22.0 307.6h0M31.7 308.6h0M41.4 309.1h0M51.1 308.9h0M60.8 306.7h0M70.5 308.1h0M80.2 308.7h0M89.9 309.5h0" stroke="#f0e060" stroke-width="1.40" stroke-linecap="round"/>
<polyline points="22.0,308.9 31.7,309.8 41.4,309.2 51.1,308.0 60.8,306.8 70.5,308.8 80.2,309.1 89.9,310.3" fill="none" stroke="#000060" stroke-width="0.75"/>
<path d="M22.0 308.9h0M31.7 309.8h0M41.4 309.2h0M51.1 308.0h0M60.8 306.8h0M70.5 308.8h0M80.2 309.1h0M89.9 310.3h0" stroke="#000060" stroke-width="1.40" stroke-linecap="round"/>
<polyline points="22.0,310.3 31.7,310.1 41.4,310.1 51.1,310.2 60.8,307.9 70.5,308.4 80.2,310.4 89.9,310.7" fill="none" stroke="#40c0c0" stroke-width="0.75"/>
<path d="M22.0 310.3h0M31.7 310.1h0M41.4 310.1h0M51.1 310.2h0M60.8 307.9h0M70.5 308.4h0M80.2 310.4h0M89.9 310.7h0" stroke="#40c0c0" stroke-width="1.40" stroke-linecap="round"/>
<polyline points="22.0,310.6 31.7,310.8 41.4,309.4 51.1,309.8 60.8,308.4 70.5,309.2 80.2,309.6 89.9,310.8" fill="none" stroke="#a0e0e0" stroke-width="0.75"/>
<path d="M22.0 310.6h0M31.7 310.8h0M41.4 309.4h0M51.1 309.8h0M60.8 308.4h0M70.5 309.2h0M80.2 309.6h0M89.9 310.8h0" stroke="#a0e0e0" stroke-width="1.40" stroke-linecap="round"/>
<polyline points="22.0,311.1 31.7,310.9 41.4,311.1 51.1,309.9 60.8,308.6 70.5,310.3 80.2,310.5 89.9,311.5" fill="none" stroke="#2a2ab0" stroke-width="0.75"/>
<path d="M22.0 311.1h0M31.7 310.9h0M41.4 311.1h0M51.1 309.9h0M60.8 308.6h0M70.5 310.3h0M80.2 310.5h0M89.9 311.5h0" stroke="#2a2ab0" stroke-width="1.40" stroke-linecap="round"/>
<polyline points="22.0,310.4 31.7,310.5 41.4,310.0 51.1,310.1 60.8,308.6 70.5,309.0 80.2,309.6 89.9,311.0" fill="none" stroke="#c0c0c0" stroke-width="0.75"/>
<path d="M22.0 310.4h0M31.7 310.5h0M41.4 310.0h0M51.1 310.1h0M60.8 308.6h0M70.5 309.0h0M80.2 309.6h0M89.9 311.0h0" stroke="#c0c0c0" stroke-width="1.40" stroke-linecap="round"/>
<polyline points="22.0,309.7 31.7,310.7 41.4,309.6 51.1,309.7 60.8,308.9 70.5,310.6 80.2,310.4 89.9,310.4" fill="none" stroke="#3050c0" stroke-width="0.75"/>
<path d="M22.0 309.7h0M31.7 310.7h0M41.4 309.6h0M51.1 309.7h0M60.8 308.9h0M70.5 310.6h0M80.2 310.4h0M89.9 310.4h0" stroke="#3050c0" stroke-width="1.40" stroke-linecap="round"/>
<polyline points="22.0,310.4 31.7,310.1 41.4,310.5 51.1,310.2 60.8,309.0 70.5,309.2 80.2,309.9 89.9,310.5" fill="none" stroke="#404040" stroke-width="0.75"/>
<path d="M22.0 310.4h0M31.7 310.1h0M41.4 310.5h0M51.1 310.2h0M60.8 309.0h0M70.5 309.2h0M80.2 309.9h0M89.9 310.5h0" stroke="#404040" stroke-width="1.40" stroke-linecap="round"/>
<polyline points="22.0,310.4 31.7,310.7 41.4,311.1 51.1,310.1 60.8,309.1 70.5,310.2 80.2,311.4 89.9,311.5" fill="none" stroke="#e0b020" stroke-width="0.75"/>
<path d="M22.0 310.4h0M31.7 310.7h0M41.4 311.1h0M51.1 310.1h0M60.8 309.1h0M70.5 310.2h0M80.2 311.4h0M89.9 311.5h0" stroke="#e0b020" stroke-width="1.40" stroke-linecap="round"/>
<polyline points="22.0,311.0 31.7,311.3 41.4,311.1 51.1,310.5 60.8,309.5 70.5,310.6 80.2,310.9 89.9,311.6" fill="none" stroke="#e0b020" stroke-width="0.75"/>
<path d="M22.0 311.0h0M31.7 311.3h0M41.4 311.1h0M51.1 310.5h0M60.8 309.5h0M70.5 310.6h0M80.2 310.9h0M89.9 311.6h0" stroke="#e0b020" stroke-width="1.40" stroke-linecap="round"/>
<polyline points="22.0,310.9 31.7,310.6 41.4,311.2 51.1,310.9 60.8,309.6 70.5,309.8 80.2,310.5 89.9,310.8" fill="none" stroke="#6040b0" stroke-width="0.75"/>
<path d="M22.0 310.9h0M31.7 310.6h0M41.4 311.2h0M51.1 310.9h0M60.8 309.6h0M70.5 309.8h0M80.2 310.5h0M89.9 310.8h0" stroke="#6040b0" stroke-width="1.40" stroke-linecap="round"/>
<polyline points="22.0,310.8 31.7,311.4 41.4,311.0 51.1,310.5 60.8,310.2 70.5,311.1 80.2,311.1 89.9,311.7" fill="none" stroke="#e0b020" stroke-width="0.75"/>
<path d="M22.0 310.8h0M31.7 311.4h0M41.4 311.0h0M51.1 310.5h0M60.8 310.2h0M70.5 311.1h0M80.2 311.1h0M89.9 311.7h0" stroke="#e0b020" stroke-width="1.40" stroke-linecap="round"/>
<polyline points="22.0,311.3 31.7,311.5 41.4,311.7 51.1,311.3 60.8,310.3 70.5,311.6 80.2,311.6 89.9,311.9" fill="none" stroke="#e0b020" stroke-width="0.75"/>
<path d="M22.0 311.3h0M31.7 311.5h0M41.4 311.7h0M51.1 311.3h0M60.8 310.3h0M70.5 311.6h0M80.2 311.6h0M89.9 311.9h0" stroke="#e0b020" stroke-width="1.40" stroke-linecap="round"/>
<polyline points="22.0,311.2 31.7,311.3 41.4,310.8 51.1,311.3 60.8,310.7 70.5,310.6 80.2,311.2 89.9,311.5" fill="none" stroke="#90d0a0" stroke-width="0.75"/>
<path d="M22.0 311.2h0M31.7 311.3h0M41.4 310.8h0M51.1 311.3h0M60.8 310.7h0M70.5 310.6h0M80.2 311.2h0M89.9 311.5h0" stroke="#90d0a0" stroke-width="1.40" stroke-linecap="round"/>
<polyline points="22.0,311.6 31.7,311.7 41.4,311.4 51.1,311.2 60.8,310.6 70.5,311.6 80.2,311.9 89.9,311.7" fill="none" stroke="#40c0c0" stroke-width="0.75"/>
<path d="M22.0 311.6h0M31.7 311.7h0M41.4 311.4h0M51.1 311.2h0M60.8 310.6h0M70.5 311.6h0M80.2 311.9h0M89.9 311.7h0" stroke="#40c0c0" stroke-width="1.40" stroke-linecap="round"/>
<polyline points="22.0,312.1 31.7,311.9 41.4,312.0 51.1,311.8 60.8,311.4 70.5,311.7 80.2,312.1 89.9,312.1" fill="none" stroke="#9070d0" stroke-width="0.75"/>
<path d="M22.0 312.1h0M31.7 311.9h0M41.4 312.0h0M51.1 311.8h0M60.8 311.4h0M70.5 311.7h0M80.2 312.1h0M89.9 312.1h0" stroke="#9070d0" stroke-width="1.40" stroke-linecap="round"/>
<polyline points="22.0,312.3 31.7,312.3 41.4,312.3 51.1,312.1 60.8,311.9 70.5,312.3 80.2,312.3 89.9,312.3" fill="none" stroke="#000060" stroke-width="0.75"/>
<path d="M22.0 312.3h0M31.7 312.3h0M41.4 312.3h0M51.1 312.1h0M60.8 311.9h0M70.5 312.3h0M80.2 312.3h0M89.9 312.3h0" stroke="#000060" stroke-width="1.40" stroke-linecap="round"/>
<polyline points="22.0,312.2 31.7,312.2 41.4,312.1 51.1,312.0 60.8,311.9 70.5,312.1 80.2,312.1 89.9,312.2" fill="none" stroke="#e070c0" stroke-width="0.75"/>
<path d="M22.0 312.2h0M31.7 312.2h0M41.4 312.1h0M51.1 312.0h0M60.8 311.9h0M70.5 312.1h0M80.2 312.1h0M89.9 312.2h0" stroke="#e070c0" stroke-width="1.40" stroke-linecap="round"/>
<polyline points="22.0,312.3 31.7,312.4 41.4,312.3 51.1,312.3 60.8,312.2 70.5,312.3 80.2,312.3 89.9,312.4" fill="none" stroke="#d06020" stroke-width="0.75"/>
<path d="M22.0 312.3h0M31.7 312.4h0M41.4 312.3h0M51.1 312.3h0M60.8 312.2h0M70.5 312.3h0M80.2 312.3h0M89.9 312.4h0" stroke="#d06020" stroke-width="1.40" stroke-linecap="round"/>
<polyline points="22.0,312.4 31.7,312.4 41.4,312.4 51.1,312.4 60.8,312.4 70.5,312.4 80.2,312.4 89.9,312.4" fill="none" stroke="#000060" stroke-width="0.75"/>
<path d="M22.0 312.4h0M31.7 312.4h0M41.4 312.4h0M51.1 312.4h0M60.8 312.4h0M70.5 312.4h0M80.2 312.4h0M89.9 312.4h0" stroke="#000060" stroke-width="1.40" stroke-linecap="round"/>
<polyline points="22.0,269.8 31.7,280.4 41.4,285.2 51.1,282.6 60.8,254.8 70.5,283.7 80.2,295.4 89.9,300.7" fill="none" stroke="#d0e050" stroke-width="0.85"/>
<path d="M22.0 269.8h0M31.7 280.4h0M41.4 285.2h0M51.1 282.6h0M60.8 254.8h0M70.5 283.7h0M80.2 295.4h0M89.9 300.7h0" stroke="#d0e050" stroke-width="1.70" stroke-linecap="round"/>
<polyline points="22.0,284.1 31.7,286.2 41.4,286.2 51.1,280.4 60.8,271.9 70.5,283.7 80.2,289.6 89.9,295.0" fill="none" stroke="#a02020" stroke-width="0.85"/>
<path d="M22.0 284.1h0M31.7 286.2h0M41.4 286.2h0M51.1 280.4h0M60.8 271.9h0M70.5 283.7h0M80.2 289.6h0M89.9 295.0h0" stroke="#a02020" stroke-width="1.70" stroke-linecap="round"/>
<polyline points="22.0,295.4 31.7,293.3 41.4,291.1 51.1,282.6 60.8,276.2 70.5,284.1 80.2,283.2 89.9,296.5" fill="none" stroke="#40b0a0" stroke-width="0.85"/>
<path d="M22.0 295.4h0M31.7 293.3h0M41.4 291.1h0M51.1 282.6h0M60.8 276.2h0M70.5 284.1h0M80.2 283.2h0M89.9 296.5h0" stroke="#40b0a0" stroke-width="1.70" stroke-linecap="round"/>
<polyline points="22.0,293.3 31.7,297.5 41.4,290.1 51.1,291.1 60.8,280.4 70.5,289.0 80.2,295.4 89.9,301.8" fill="none" stroke="#e04060" stroke-width="0.85"/>
<path d="M22.0 293.3h0M31.7 297.5h0M41.4 290.1h0M51.1 291.1h0M60.8 280.4h0M70.5 289.0h0M80.2 295.4h0M89.9 301.8h0" stroke="#e04060" stroke-width="1.70" stroke-linecap="round"/>
<polyline points="22.0,301.8 31.7,304.0 41.4,301.8 51.1,297.5 60.8,286.9 70.5,295.4 80.2,299.7 89.9,304.0" fill="none" stroke="#000000" stroke-width="0.85"/>
<path d="M22.0 301.8h0M31.7 304.0h0M41.4 301.8h0M51.1 297.5h0M60.8 286.9h0M70.5 295.4h0M80.2 299.7h0M89.9 304.0h0" stroke="#000000" stroke-width="1.70" stroke-linecap="round"/>
<rect x="17.1" y="311.1" width="76.7" height="1.0" fill="#1a1a60" opacity="0.7"/>
<text x="93.20" y="257.60" font-size="7.8" font-weight="bold" text-anchor="end" fill="#000" >D4</text>
<rect x="112.8" y="248.4" width="77.50000000000001" height="64.1" fill="#fff" stroke="#6a6a6a" stroke-width="0.8"/>
<line x1="111.80" y1="312.50" x2="112.80" y2="312.50" stroke="#555" stroke-width="0.4" />
<text x="111.60" y="314.05" font-size="4.3" font-weight="bold" text-anchor="end" fill="#000" stroke="#000" stroke-width="0.18">0</text>
<line x1="111.80" y1="306.09" x2="112.80" y2="306.09" stroke="#555" stroke-width="0.4" />
<text x="111.60" y="307.64" font-size="4.3" font-weight="bold" text-anchor="end" fill="#000" stroke="#000" stroke-width="0.18">10&#160;000</text>
<line x1="111.80" y1="299.68" x2="112.80" y2="299.68" stroke="#555" stroke-width="0.4" />
<text x="111.60" y="301.23" font-size="4.3" font-weight="bold" text-anchor="end" fill="#000" stroke="#000" stroke-width="0.18">20&#160;000</text>
<line x1="111.80" y1="293.27" x2="112.80" y2="293.27" stroke="#555" stroke-width="0.4" />
<text x="111.60" y="294.82" font-size="4.3" font-weight="bold" text-anchor="end" fill="#000" stroke="#000" stroke-width="0.18">30&#160;000</text>
<line x1="111.80" y1="286.86" x2="112.80" y2="286.86" stroke="#555" stroke-width="0.4" />
<text x="111.60" y="288.41" font-size="4.3" font-weight="bold" text-anchor="end" fill="#000" stroke="#000" stroke-width="0.18">40&#160;000</text>
<line x1="111.80" y1="280.45" x2="112.80" y2="280.45" stroke="#555" stroke-width="0.4" />
<text x="111.60" y="282.00" font-size="4.3" font-weight="bold" text-anchor="end" fill="#000" stroke="#000" stroke-width="0.18">50&#160;000</text>
<line x1="111.80" y1="274.04" x2="112.80" y2="274.04" stroke="#555" stroke-width="0.4" />
<text x="111.60" y="275.59" font-size="4.3" font-weight="bold" text-anchor="end" fill="#000" stroke="#000" stroke-width="0.18">60&#160;000</text>
<line x1="111.80" y1="267.63" x2="112.80" y2="267.63" stroke="#555" stroke-width="0.4" />
<text x="111.60" y="269.18" font-size="4.3" font-weight="bold" text-anchor="end" fill="#000" stroke="#000" stroke-width="0.18">70&#160;000</text>
<line x1="111.80" y1="261.22" x2="112.80" y2="261.22" stroke="#555" stroke-width="0.4" />
<text x="111.60" y="262.77" font-size="4.3" font-weight="bold" text-anchor="end" fill="#000" stroke="#000" stroke-width="0.18">80&#160;000</text>
<line x1="111.80" y1="254.81" x2="112.80" y2="254.81" stroke="#555" stroke-width="0.4" />
<text x="111.60" y="256.36" font-size="4.3" font-weight="bold" text-anchor="end" fill="#000" stroke="#000" stroke-width="0.18">90&#160;000</text>
<line x1="111.80" y1="248.40" x2="112.80" y2="248.40" stroke="#555" stroke-width="0.4" />
<text x="111.60" y="249.95" font-size="4.3" font-weight="bold" text-anchor="end" fill="#000" stroke="#000" stroke-width="0.18">100&#160;000</text>
<line x1="119.70" y1="312.50" x2="119.70" y2="313.40" stroke="#555" stroke-width="0.4" />
<text x="119.70" y="318.30" font-size="4.8" font-weight="bold" text-anchor="middle" fill="#000" stroke="#000" stroke-width="0.15">D0</text>
<line x1="129.40" y1="312.50" x2="129.40" y2="313.40" stroke="#555" stroke-width="0.4" />
<text x="129.40" y="318.30" font-size="4.8" font-weight="bold" text-anchor="middle" fill="#000" stroke="#000" stroke-width="0.15">D1</text>
<line x1="139.10" y1="312.50" x2="139.10" y2="313.40" stroke="#555" stroke-width="0.4" />
<text x="139.10" y="318.30" font-size="4.8" font-weight="bold" text-anchor="middle" fill="#000" stroke="#000" stroke-width="0.15">D2</text>
<line x1="148.80" y1="312.50" x2="148.80" y2="313.40" stroke="#555" stroke-width="0.4" />
<text x="148.80" y="318.30" font-size="4.8" font-weight="bold" text-anchor="middle" fill="#000" stroke="#000" stroke-width="0.15">D3</text>
<line x1="158.50" y1="312.50" x2="158.50" y2="313.40" stroke="#555" stroke-width="0.4" />
<text x="158.50" y="318.30" font-size="4.8" font-weight="bold" text-anchor="middle" fill="#000" stroke="#000" stroke-width="0.15">D4</text>
<line x1="168.20" y1="312.50" x2="168.20" y2="313.40" stroke="#555" stroke-width="0.4" />
<text x="168.20" y="318.30" font-size="4.8" font-weight="bold" text-anchor="middle" fill="#000" stroke="#000" stroke-width="0.15">D5</text>
<line x1="177.90" y1="312.50" x2="177.90" y2="313.40" stroke="#555" stroke-width="0.4" />
<text x="177.90" y="318.30" font-size="4.8" font-weight="bold" text-anchor="middle" fill="#000" stroke="#000" stroke-width="0.15">D6</text>
<line x1="187.60" y1="312.50" x2="187.60" y2="313.40" stroke="#555" stroke-width="0.4" />
<text x="187.60" y="318.30" font-size="4.8" font-weight="bold" text-anchor="middle" fill="#000" stroke="#000" stroke-width="0.15">D7</text>
<polyline points="118.3,299.0 128.0,299.8 137.7,302.8 147.4,302.4 157.1,291.7 166.8,283.3 176.5,293.7 186.2,298.7" fill="none" stroke="#000060" stroke-width="0.75"/>
<path d="M118.3 299.0h0M128.0 299.8h0M137.7 302.8h0M147.4 302.4h0M157.1 291.7h0M166.8 283.3h0M176.5 293.7h0M186.2 298.7h0" stroke="#000060" stroke-width="1.40" stroke-linecap="round"/>
<polyline points="118.3,300.8 128.0,303.8 137.7,295.1 147.4,296.6 157.1,293.6 166.8,285.6 176.5,301.1 186.2,292.6" fill="none" stroke="#b0c020" stroke-width="0.75"/>
<path d="M118.3 300.8h0M128.0 303.8h0M137.7 295.1h0M147.4 296.6h0M157.1 293.6h0M166.8 285.6h0M176.5 301.1h0M186.2 292.6h0" stroke="#b0c020" stroke-width="1.40" stroke-linecap="round"/>
<polyline points="118.3,301.9 128.0,303.3 137.7,302.7 147.4,300.4 157.1,294.1 166.8,285.7 176.5,300.7 186.2,298.8" fill="none" stroke="#2a2ab0" stroke-width="0.75"/>
<path d="M118.3 301.9h0M128.0 303.3h0M137.7 302.7h0M147.4 300.4h0M157.1 294.1h0M166.8 285.7h0M176.5 300.7h0M186.2 298.8h0" stroke="#2a2ab0" stroke-width="1.40" stroke-linecap="round"/>
<polyline points="118.3,302.4 128.0,302.3 137.7,303.0 147.4,301.3 157.1,298.1 166.8,288.4 176.5,296.8 186.2,301.9" fill="none" stroke="#60b030" stroke-width="0.75"/>
<path d="M118.3 302.4h0M128.0 302.3h0M137.7 303.0h0M147.4 301.3h0M157.1 298.1h0M166.8 288.4h0M176.5 296.8h0M186.2 301.9h0" stroke="#60b030" stroke-width="1.40" stroke-linecap="round"/>
<polyline points="118.3,300.8 128.0,302.6 137.7,303.8 147.4,302.6 157.1,299.2 166.8,289.5 176.5,304.1 186.2,303.5" fill="none" stroke="#c0c0c0" stroke-width="0.75"/>
<path d="M118.3 300.8h0M128.0 302.6h0M137.7 303.8h0M147.4 302.6h0M157.1 299.2h0M166.8 289.5h0M176.5 304.1h0M186.2 303.5h0" stroke="#c0c0c0" stroke-width="1.40" stroke-linecap="round"/>
<polyline points="118.3,299.6 128.0,303.8 137.7,299.8 147.4,303.4 157.1,298.7 166.8,289.6 176.5,301.6 186.2,294.2" fill="none" stroke="#80d080" stroke-width="0.75"/>
<path d="M118.3 299.6h0M128.0 303.8h0M137.7 299.8h0M147.4 303.4h0M157.1 298.7h0M166.8 289.6h0M176.5 301.6h0M186.2 294.2h0" stroke="#80d080" stroke-width="1.40" stroke-linecap="round"/>
<polyline points="118.3,297.7 128.0,298.2 137.7,300.4 147.4,302.6 157.1,296.0 166.8,290.9 176.5,294.0 186.2,299.7" fill="none" stroke="#a02060" stroke-width="0.75"/>
<path d="M118.3 297.7h0M128.0 298.2h0M137.7 300.4h0M147.4 302.6h0M157.1 296.0h0M166.8 290.9h0M176.5 294.0h0M186.2 299.7h0" stroke="#a02060" stroke-width="1.40" stroke-linecap="round"/>
<polyline points="118.3,301.4 128.0,299.6 137.7,300.7 147.4,305.3 157.1,300.7 166.8,291.0 176.5,303.1 186.2,302.1" fill="none" stroke="#2a2ab0" stroke-width="0.75"/>
<path d="M118.3 301.4h0M128.0 299.6h0M137.7 300.7h0M147.4 305.3h0M157.1 300.7h0M166.8 291.0h0M176.5 303.1h0M186.2 302.1h0" stroke="#2a2ab0" stroke-width="1.40" stroke-linecap="round"/>
<polyline points="118.3,302.9 128.0,302.9 137.7,303.9 147.4,303.0 157.1,303.7 166.8,292.5 176.5,302.4 186.2,304.2" fill="none" stroke="#702080" stroke-width="0.75"/>
<path d="M118.3 302.9h0M128.0 302.9h0M137.7 303.9h0M147.4 303.0h0M157.1 303.7h0M166.8 292.5h0M176.5 302.4h0M186.2 304.2h0" stroke="#702080" stroke-width="1.40" stroke-linecap="round"/>
<polyline points="118.3,305.4 128.0,304.6 137.7,300.6 147.4,304.9 157.1,298.0 166.8,292.9 176.5,298.5 186.2,295.8" fill="none" stroke="#a0e0e0" stroke-width="0.75"/>
<path d="M118.3 305.4h0M128.0 304.6h0M137.7 300.6h0M147.4 304.9h0M157.1 298.0h0M166.8 292.9h0M176.5 298.5h0M186.2 295.8h0" stroke="#a0e0e0" stroke-width="1.40" stroke-linecap="round"/>
<polyline points="118.3,305.9 128.0,302.3 137.7,305.5 147.4,303.2 157.1,297.3 166.8,293.4 176.5,298.7 186.2,298.8" fill="none" stroke="#3050c0" stroke-width="0.75"/>
<path d="M118.3 305.9h0M128.0 302.3h0M137.7 305.5h0M147.4 303.2h0M157.1 297.3h0M166.8 293.4h0M176.5 298.7h0M186.2 298.8h0" stroke="#3050c0" stroke-width="1.40" stroke-linecap="round"/>
<polyline points="118.3,303.8 128.0,303.4 137.7,301.7 147.4,302.7 157.1,299.5 166.8,293.9 176.5,300.0 186.2,297.6" fill="none" stroke="#3050c0" stroke-width="0.75"/>
<path d="M118.3 303.8h0M128.0 303.4h0M137.7 301.7h0M147.4 302.7h0M157.1 299.5h0M166.8 293.9h0M176.5 300.0h0M186.2 297.6h0" stroke="#3050c0" stroke-width="1.40" stroke-linecap="round"/>
<polyline points="118.3,306.1 128.0,306.5 137.7,306.0 147.4,305.7 157.1,299.6 166.8,293.9 176.5,305.1 186.2,302.3" fill="none" stroke="#e0b020" stroke-width="0.75"/>
<path d="M118.3 306.1h0M128.0 306.5h0M137.7 306.0h0M147.4 305.7h0M157.1 299.6h0M166.8 293.9h0M176.5 305.1h0M186.2 302.3h0" stroke="#e0b020" stroke-width="1.40" stroke-linecap="round"/>
<polyline points="118.3,305.5 128.0,304.1 137.7,301.4 147.4,302.3 157.1,299.6 166.8,294.3 176.5,300.0 186.2,298.9" fill="none" stroke="#30c080" stroke-width="0.75"/>
<path d="M118.3 305.5h0M128.0 304.1h0M137.7 301.4h0M147.4 302.3h0M157.1 299.6h0M166.8 294.3h0M176.5 300.0h0M186.2 298.9h0" stroke="#30c080" stroke-width="1.40" stroke-linecap="round"/>
<polyline points="118.3,302.7 128.0,305.7 137.7,306.3 147.4,302.6 157.1,299.5 166.8,294.4 176.5,302.3 186.2,304.1" fill="none" stroke="#e0b020" stroke-width="0.75"/>
<path d="M118.3 302.7h0M128.0 305.7h0M137.7 306.3h0M147.4 302.6h0M157.1 299.5h0M166.8 294.4h0M176.5 302.3h0M186.2 304.1h0" stroke="#e0b020" stroke-width="1.40" stroke-linecap="round"/>
<polyline points="118.3,302.3 128.0,304.5 137.7,302.4 147.4,305.9 157.1,297.0 166.8,295.3 176.5,298.4 186.2,300.6" fill="none" stroke="#e0b020" stroke-width="0.75"/>
<path d="M118.3 302.3h0M128.0 304.5h0M137.7 302.4h0M147.4 305.9h0M157.1 297.0h0M166.8 295.3h0M176.5 298.4h0M186.2 300.6h0" stroke="#e0b020" stroke-width="1.40" stroke-linecap="round"/>
<polyline points="118.3,306.0 128.0,304.5 137.7,304.6 147.4,302.5 157.1,300.8 166.8,295.9 176.5,302.9 186.2,301.3" fill="none" stroke="#1a1a80" stroke-width="0.75"/>
<path d="M118.3 306.0h0M128.0 304.5h0M137.7 304.6h0M147.4 302.5h0M157.1 300.8h0M166.8 295.9h0M176.5 302.9h0M186.2 301.3h0" stroke="#1a1a80" stroke-width="1.40" stroke-linecap="round"/>
<polyline points="118.3,303.4 128.0,303.7 137.7,302.0 147.4,302.5 157.1,302.8 166.8,298.6 176.5,296.0 186.2,300.5" fill="none" stroke="#a0e0e0" stroke-width="0.75"/>
<path d="M118.3 303.4h0M128.0 303.7h0M137.7 302.0h0M147.4 302.5h0M157.1 302.8h0M166.8 298.6h0M176.5 296.0h0M186.2 300.5h0" stroke="#a0e0e0" stroke-width="1.40" stroke-linecap="round"/>
<polyline points="118.3,305.5 128.0,305.6 137.7,306.8 147.4,305.0 157.1,301.7 166.8,296.7 176.5,304.4 186.2,303.6" fill="none" stroke="#60a0e0" stroke-width="0.75"/>
<path d="M118.3 305.5h0M128.0 305.6h0M137.7 306.8h0M147.4 305.0h0M157.1 301.7h0M166.8 296.7h0M176.5 304.4h0M186.2 303.6h0" stroke="#60a0e0" stroke-width="1.40" stroke-linecap="round"/>
<polyline points="118.3,307.7 128.0,306.2 137.7,306.7 147.4,305.6 157.1,301.2 166.8,297.7 176.5,306.5 186.2,303.9" fill="none" stroke="#c02020" stroke-width="0.75"/>
<path d="M118.3 307.7h0M128.0 306.2h0M137.7 306.7h0M147.4 305.6h0M157.1 301.2h0M166.8 297.7h0M176.5 306.5h0M186.2 303.9h0" stroke="#c02020" stroke-width="1.40" stroke-linecap="round"/>
<polyline points="118.3,305.6 128.0,306.6 137.7,306.3 147.4,306.2 157.1,301.3 166.8,297.8 176.5,303.5 186.2,302.8" fill="none" stroke="#404040" stroke-width="0.75"/>
<path d="M118.3 305.6h0M128.0 306.6h0M137.7 306.3h0M147.4 306.2h0M157.1 301.3h0M166.8 297.8h0M176.5 303.5h0M186.2 302.8h0" stroke="#404040" stroke-width="1.40" stroke-linecap="round"/>
<polyline points="118.3,307.4 128.0,306.6 137.7,306.6 147.4,307.8 157.1,301.5 166.8,297.9 176.5,303.0 186.2,305.1" fill="none" stroke="#d0d060" stroke-width="0.75"/>
<path d="M118.3 307.4h0M128.0 306.6h0M137.7 306.6h0M147.4 307.8h0M157.1 301.5h0M166.8 297.9h0M176.5 303.0h0M186.2 305.1h0" stroke="#d0d060" stroke-width="1.40" stroke-linecap="round"/>
<polyline points="118.3,304.7 128.0,305.2 137.7,307.1 147.4,308.0 157.1,305.0 166.8,298.9 176.5,303.4 186.2,302.3" fill="none" stroke="#000060" stroke-width="0.75"/>
<path d="M118.3 304.7h0M128.0 305.2h0M137.7 307.1h0M147.4 308.0h0M157.1 305.0h0M166.8 298.9h0M176.5 303.4h0M186.2 302.3h0" stroke="#000060" stroke-width="1.40" stroke-linecap="round"/>
<polyline points="118.3,306.2 128.0,305.4 137.7,303.6 147.4,307.0 157.1,299.4 166.8,301.7 176.5,301.9 186.2,304.8" fill="none" stroke="#e0e090" stroke-width="0.75"/>
<path d="M118.3 306.2h0M128.0 305.4h0M137.7 303.6h0M147.4 307.0h0M157.1 299.4h0M166.8 301.7h0M176.5 301.9h0M186.2 304.8h0" stroke="#e0e090" stroke-width="1.40" stroke-linecap="round"/>
<polyline points="118.3,308.0 128.0,305.6 137.7,306.9 147.4,307.0 157.1,303.8 166.8,299.5 176.5,306.2 186.2,305.4" fill="none" stroke="#1a1a80" stroke-width="0.75"/>
<path d="M118.3 308.0h0M128.0 305.6h0M137.7 306.9h0M147.4 307.0h0M157.1 303.8h0M166.8 299.5h0M176.5 306.2h0M186.2 305.4h0" stroke="#1a1a80" stroke-width="1.40" stroke-linecap="round"/>
<polyline points="118.3,306.6 128.0,305.3 137.7,305.0 147.4,306.0 157.1,303.3 166.8,299.7 176.5,306.3 186.2,304.6" fill="none" stroke="#000000" stroke-width="0.75"/>
<path d="M118.3 306.6h0M128.0 305.3h0M137.7 305.0h0M147.4 306.0h0M157.1 303.3h0M166.8 299.7h0M176.5 306.3h0M186.2 304.6h0" stroke="#000000" stroke-width="1.40" stroke-linecap="round"/>
<polyline points="118.3,305.8 128.0,304.5 137.7,304.5 147.4,307.4 157.1,299.7 166.8,299.7 176.5,302.5 186.2,303.8" fill="none" stroke="#000060" stroke-width="0.75"/>
<path d="M118.3 305.8h0M128.0 304.5h0M137.7 304.5h0M147.4 307.4h0M157.1 299.7h0M166.8 299.7h0M176.5 302.5h0M186.2 303.8h0" stroke="#000060" stroke-width="1.40" stroke-linecap="round"/>
<polyline points="118.3,307.2 128.0,306.9 137.7,304.6 147.4,306.7 157.1,305.7 166.8,300.4 176.5,304.3 186.2,306.0" fill="none" stroke="#2080c0" stroke-width="0.75"/>
<path d="M118.3 307.2h0M128.0 306.9h0M137.7 304.6h0M147.4 306.7h0M157.1 305.7h0M166.8 300.4h0M176.5 304.3h0M186.2 306.0h0" stroke="#2080c0" stroke-width="1.40" stroke-linecap="round"/>
<polyline points="118.3,306.1 128.0,305.7 137.7,305.0 147.4,306.1 157.1,300.7 166.8,300.8 176.5,304.0 186.2,301.2" fill="none" stroke="#6040b0" stroke-width="0.75"/>
<path d="M118.3 306.1h0M128.0 305.7h0M137.7 305.0h0M147.4 306.1h0M157.1 300.7h0M166.8 300.8h0M176.5 304.0h0M186.2 301.2h0" stroke="#6040b0" stroke-width="1.40" stroke-linecap="round"/>
<polyline points="118.3,303.9 128.0,305.8 137.7,306.3 147.4,303.8 157.1,302.0 166.8,301.6 176.5,302.8 186.2,301.7" fill="none" stroke="#c0a0e0" stroke-width="0.75"/>
<path d="M118.3 303.9h0M128.0 305.8h0M137.7 306.3h0M147.4 303.8h0M157.1 302.0h0M166.8 301.6h0M176.5 302.8h0M186.2 301.7h0" stroke="#c0a0e0" stroke-width="1.40" stroke-linecap="round"/>
<polyline points="118.3,308.2 128.0,306.9 137.7,307.6 147.4,308.6 157.1,307.8 166.8,302.2 176.5,306.8 186.2,307.4" fill="none" stroke="#30c080" stroke-width="0.75"/>
<path d="M118.3 308.2h0M128.0 306.9h0M137.7 307.6h0M147.4 308.6h0M157.1 307.8h0M166.8 302.2h0M176.5 306.8h0M186.2 307.4h0" stroke="#30c080" stroke-width="1.40" stroke-linecap="round"/>
<polyline points="118.3,306.9 128.0,306.5 137.7,305.0 147.4,306.3 157.1,305.7 166.8,302.4 176.5,307.3 186.2,305.6" fill="none" stroke="#c0c0c0" stroke-width="0.75"/>
<path d="M118.3 306.9h0M128.0 306.5h0M137.7 305.0h0M147.4 306.3h0M157.1 305.7h0M166.8 302.4h0M176.5 307.3h0M186.2 305.6h0" stroke="#c0c0c0" stroke-width="1.40" stroke-linecap="round"/>
<polyline points="118.3,307.4 128.0,305.0 137.7,304.8 147.4,307.1 157.1,306.1 166.8,302.5 176.5,305.0 186.2,303.6" fill="none" stroke="#702080" stroke-width="0.75"/>
<path d="M118.3 307.4h0M128.0 305.0h0M137.7 304.8h0M147.4 307.1h0M157.1 306.1h0M166.8 302.5h0M176.5 305.0h0M186.2 303.6h0" stroke="#702080" stroke-width="1.40" stroke-linecap="round"/>
<polyline points="118.3,307.5 128.0,306.7 137.7,307.0 147.4,306.8 157.1,307.0 166.8,303.2 176.5,304.5 186.2,305.2" fill="none" stroke="#702080" stroke-width="0.75"/>
<path d="M118.3 307.5h0M128.0 306.7h0M137.7 307.0h0M147.4 306.8h0M157.1 307.0h0M166.8 303.2h0M176.5 304.5h0M186.2 305.2h0" stroke="#702080" stroke-width="1.40" stroke-linecap="round"/>
<polyline points="118.3,308.5 128.0,308.9 137.7,308.7 147.4,308.6 157.1,307.0 166.8,303.2 176.5,306.0 186.2,306.1" fill="none" stroke="#a0e0e0" stroke-width="0.75"/>
<path d="M118.3 308.5h0M128.0 308.9h0M137.7 308.7h0M147.4 308.6h0M157.1 307.0h0M166.8 303.2h0M176.5 306.0h0M186.2 306.1h0" stroke="#a0e0e0" stroke-width="1.40" stroke-linecap="round"/>
<polyline points="118.3,307.2 128.0,308.5 137.7,307.8 147.4,307.6 157.1,304.8 166.8,303.6 176.5,305.4 186.2,305.1" fill="none" stroke="#2080c0" stroke-width="0.75"/>
<path d="M118.3 307.2h0M128.0 308.5h0M137.7 307.8h0M147.4 307.6h0M157.1 304.8h0M166.8 303.6h0M176.5 305.4h0M186.2 305.1h0" stroke="#2080c0" stroke-width="1.40" stroke-linecap="round"/>
<polyline points="118.3,308.6 128.0,309.0 137.7,309.3 147.4,309.3 157.1,309.0 166.8,304.2 176.5,307.4 186.2,309.2" fill="none" stroke="#e070c0" stroke-width="0.75"/>
<path d="M118.3 308.6h0M128.0 309.0h0M137.7 309.3h0M147.4 309.3h0M157.1 309.0h0M166.8 304.2h0M176.5 307.4h0M186.2 309.2h0" stroke="#e070c0" stroke-width="1.40" stroke-linecap="round"/>
<polyline points="118.3,308.6 128.0,308.7 137.7,308.3 147.4,308.7 157.1,306.4 166.8,305.7 176.5,306.9 186.2,308.8" fill="none" stroke="#9070d0" stroke-width="0.75"/>
<path d="M118.3 308.6h0M128.0 308.7h0M137.7 308.3h0M147.4 308.7h0M157.1 306.4h0M166.8 305.7h0M176.5 306.9h0M186.2 308.8h0" stroke="#9070d0" stroke-width="1.40" stroke-linecap="round"/>
<polyline points="118.3,307.4 128.0,309.2 137.7,307.4 147.4,308.8 157.1,306.7 166.8,305.8 176.5,307.3 186.2,308.2" fill="none" stroke="#b0c020" stroke-width="0.75"/>
<path d="M118.3 307.4h0M128.0 309.2h0M137.7 307.4h0M147.4 308.8h0M157.1 306.7h0M166.8 305.8h0M176.5 307.3h0M186.2 308.2h0" stroke="#b0c020" stroke-width="1.40" stroke-linecap="round"/>
<polyline points="118.3,309.5 128.0,309.3 137.7,309.6 147.4,309.2 157.1,306.9 166.8,306.1 176.5,307.2 186.2,309.4" fill="none" stroke="#f09060" stroke-width="0.75"/>
<path d="M118.3 309.5h0M128.0 309.3h0M137.7 309.6h0M147.4 309.2h0M157.1 306.9h0M166.8 306.1h0M176.5 307.2h0M186.2 309.4h0" stroke="#f09060" stroke-width="1.40" stroke-linecap="round"/>
<polyline points="118.3,307.8 128.0,309.4 137.7,307.6 147.4,309.3 157.1,306.5 166.8,306.2 176.5,309.1 186.2,307.2" fill="none" stroke="#a02060" stroke-width="0.75"/>
<path d="M118.3 307.8h0M128.0 309.4h0M137.7 307.6h0M147.4 309.3h0M157.1 306.5h0M166.8 306.2h0M176.5 309.1h0M186.2 307.2h0" stroke="#a02060" stroke-width="1.40" stroke-linecap="round"/>
<polyline points="118.3,309.5 128.0,309.6 137.7,309.8 147.4,309.1 157.1,308.8 166.8,306.7 176.5,307.3 186.2,309.1" fill="none" stroke="#109090" stroke-width="0.75"/>
<path d="M118.3 309.5h0M128.0 309.6h0M137.7 309.8h0M147.4 309.1h0M157.1 308.8h0M166.8 306.7h0M176.5 307.3h0M186.2 309.1h0" stroke="#109090" stroke-width="1.40" stroke-linecap="round"/>
<polyline points="118.3,309.4 128.0,309.6 137.7,310.6 147.4,310.7 157.1,310.0 166.8,307.2 176.5,310.0 186.2,310.0" fill="none" stroke="#3050c0" stroke-width="0.75"/>
<path d="M118.3 309.4h0M128.0 309.6h0M137.7 310.6h0M147.4 310.7h0M157.1 310.0h0M166.8 307.2h0M176.5 310.0h0M186.2 310.0h0" stroke="#3050c0" stroke-width="1.40" stroke-linecap="round"/>
<polyline points="118.3,311.3 128.0,311.3 137.7,310.8 147.4,310.5 157.1,310.3 166.8,308.4 176.5,310.8 186.2,309.8" fill="none" stroke="#d06020" stroke-width="0.75"/>
<path d="M118.3 311.3h0M128.0 311.3h0M137.7 310.8h0M147.4 310.5h0M157.1 310.3h0M166.8 308.4h0M176.5 310.8h0M186.2 309.8h0" stroke="#d06020" stroke-width="1.40" stroke-linecap="round"/>
<polyline points="118.3,310.9 128.0,311.2 137.7,311.2 147.4,311.5 157.1,310.4 166.8,308.8 176.5,311.0 186.2,311.0" fill="none" stroke="#702080" stroke-width="0.75"/>
<path d="M118.3 310.9h0M128.0 311.2h0M137.7 311.2h0M147.4 311.5h0M157.1 310.4h0M166.8 308.8h0M176.5 311.0h0M186.2 311.0h0" stroke="#702080" stroke-width="1.40" stroke-linecap="round"/>
<polyline points="118.3,311.8 128.0,311.2 137.7,311.2 147.4,311.2 157.1,310.8 166.8,310.0 176.5,311.5 186.2,311.4" fill="none" stroke="#60b030" stroke-width="0.75"/>
<path d="M118.3 311.8h0M128.0 311.2h0M137.7 311.2h0M147.4 311.2h0M157.1 310.8h0M166.8 310.0h0M176.5 311.5h0M186.2 311.4h0" stroke="#60b030" stroke-width="1.40" stroke-linecap="round"/>
<polyline points="118.3,311.7 128.0,311.7 137.7,311.9 147.4,311.9 157.1,311.5 166.8,310.9 176.5,311.5 186.2,311.9" fill="none" stroke="#60b030" stroke-width="0.75"/>
<path d="M118.3 311.7h0M128.0 311.7h0M137.7 311.9h0M147.4 311.9h0M157.1 311.5h0M166.8 310.9h0M176.5 311.5h0M186.2 311.9h0" stroke="#60b030" stroke-width="1.40" stroke-linecap="round"/>
<polyline points="118.3,312.3 128.0,312.2 137.7,312.2 147.4,312.3 157.1,312.2 166.8,312.2 176.5,312.2 186.2,312.2" fill="none" stroke="#c02020" stroke-width="0.75"/>
<path d="M118.3 312.3h0M128.0 312.2h0M137.7 312.2h0M147.4 312.3h0M157.1 312.2h0M166.8 312.2h0M176.5 312.2h0M186.2 312.2h0" stroke="#c02020" stroke-width="1.40" stroke-linecap="round"/>
<polyline points="118.3,312.3 128.0,312.3 137.7,312.3 147.4,312.2 157.1,312.2 166.8,312.2 176.5,312.3 186.2,312.3" fill="none" stroke="#9070d0" stroke-width="0.75"/>
<path d="M118.3 312.3h0M128.0 312.3h0M137.7 312.3h0M147.4 312.2h0M157.1 312.2h0M166.8 312.2h0M176.5 312.3h0M186.2 312.3h0" stroke="#9070d0" stroke-width="1.40" stroke-linecap="round"/>
<polyline points="118.3,312.4 128.0,312.4 137.7,312.4 147.4,312.4 157.1,312.4 166.8,312.2 176.5,312.3 186.2,312.3" fill="none" stroke="#109090" stroke-width="0.75"/>
<path d="M118.3 312.4h0M128.0 312.4h0M137.7 312.4h0M147.4 312.4h0M157.1 312.4h0M166.8 312.2h0M176.5 312.3h0M186.2 312.3h0" stroke="#109090" stroke-width="1.40" stroke-linecap="round"/>
<polyline points="118.3,295.2 128.0,295.2 137.7,293.3 147.4,295.2 157.1,281.1 166.8,255.5 176.5,274.7 186.2,267.6" fill="none" stroke="#3040c0" stroke-width="0.85"/>
<path d="M118.3 295.2h0M128.0 295.2h0M137.7 293.3h0M147.4 295.2h0M157.1 281.1h0M166.8 255.5h0M176.5 274.7h0M186.2 267.6h0" stroke="#3040c0" stroke-width="1.70" stroke-linecap="round"/>
<polyline points="118.3,295.2 128.0,292.6 137.7,286.9 147.4,281.1 157.1,278.5 166.8,270.8 176.5,281.1 186.2,292.6" fill="none" stroke="#40a080" stroke-width="0.85"/>
<path d="M118.3 295.2h0M128.0 292.6h0M137.7 286.9h0M147.4 281.1h0M157.1 278.5h0M166.8 270.8h0M176.5 281.1h0M186.2 292.6h0" stroke="#40a080" stroke-width="1.70" stroke-linecap="round"/>
<polyline points="118.3,295.2 128.0,292.6 137.7,282.4 147.4,293.3 157.1,285.6 166.8,274.7 176.5,290.1 186.2,292.6" fill="none" stroke="#d03030" stroke-width="0.85"/>
<path d="M118.3 295.2h0M128.0 292.6h0M137.7 282.4h0M147.4 293.3h0M157.1 285.6h0M166.8 274.7h0M176.5 290.1h0M186.2 292.6h0" stroke="#d03030" stroke-width="1.70" stroke-linecap="round"/>
<polyline points="118.3,299.7 128.0,298.4 137.7,296.5 147.4,297.1 157.1,288.1 166.8,276.6 176.5,285.6 186.2,279.8" fill="none" stroke="#8040c0" stroke-width="0.85"/>
<path d="M118.3 299.7h0M128.0 298.4h0M137.7 296.5h0M147.4 297.1h0M157.1 288.1h0M166.8 276.6h0M176.5 285.6h0M186.2 279.8h0" stroke="#8040c0" stroke-width="1.70" stroke-linecap="round"/>
<polyline points="118.3,293.3 128.0,293.3 137.7,294.6 147.4,298.4 157.1,293.3 166.8,281.7 176.5,293.3 186.2,284.9" fill="none" stroke="#e0a020" stroke-width="0.85"/>
<path d="M118.3 293.3h0M128.0 293.3h0M137.7 294.6h0M147.4 298.4h0M157.1 293.3h0M166.8 281.7h0M176.5 293.3h0M186.2 284.9h0" stroke="#e0a020" stroke-width="1.70" stroke-linecap="round"/>
<polyline points="118.3,286.9 128.0,293.3 137.7,297.1 147.4,299.7 157.1,296.5 166.8,280.4 176.5,293.3 186.2,289.4" fill="none" stroke="#80c0e0" stroke-width="0.85"/>
<path d="M118.3 286.9h0M128.0 293.3h0M137.7 297.1h0M147.4 299.7h0M157.1 296.5h0M166.8 280.4h0M176.5 293.3h0M186.2 289.4h0" stroke="#80c0e0" stroke-width="1.70" stroke-linecap="round"/>
<rect x="113.39999999999999" y="311.1" width="76.30000000000001" height="1.0" fill="#1a1a60" opacity="0.7"/>
<text x="189.40" y="257.60" font-size="7.8" font-weight="bold" text-anchor="end" fill="#000" >D5</text>
<rect x="210.1" y="248.4" width="76.70000000000002" height="64.1" fill="#fff" stroke="#6a6a6a" stroke-width="0.8"/>
<line x1="209.10" y1="312.50" x2="210.10" y2="312.50" stroke="#555" stroke-width="0.4" />
<text x="208.90" y="314.05" font-size="4.3" font-weight="bold" text-anchor="end" fill="#000" stroke="#000" stroke-width="0.18">0</text>
<line x1="209.10" y1="303.34" x2="210.10" y2="303.34" stroke="#555" stroke-width="0.4" />
<text x="208.90" y="304.89" font-size="4.3" font-weight="bold" text-anchor="end" fill="#000" stroke="#000" stroke-width="0.18">5000</text>
<line x1="209.10" y1="294.19" x2="210.10" y2="294.19" stroke="#555" stroke-width="0.4" />
<text x="208.90" y="295.74" font-size="4.3" font-weight="bold" text-anchor="end" fill="#000" stroke="#000" stroke-width="0.18">10&#160;000</text>
<line x1="209.10" y1="285.03" x2="210.10" y2="285.03" stroke="#555" stroke-width="0.4" />
<text x="208.90" y="286.58" font-size="4.3" font-weight="bold" text-anchor="end" fill="#000" stroke="#000" stroke-width="0.18">15&#160;000</text>
<line x1="209.10" y1="275.87" x2="210.10" y2="275.87" stroke="#555" stroke-width="0.4" />
<text x="208.90" y="277.42" font-size="4.3" font-weight="bold" text-anchor="end" fill="#000" stroke="#000" stroke-width="0.18">20&#160;000</text>
<line x1="209.10" y1="266.71" x2="210.10" y2="266.71" stroke="#555" stroke-width="0.4" />
<text x="208.90" y="268.26" font-size="4.3" font-weight="bold" text-anchor="end" fill="#000" stroke="#000" stroke-width="0.18">25&#160;000</text>
<line x1="209.10" y1="257.56" x2="210.10" y2="257.56" stroke="#555" stroke-width="0.4" />
<text x="208.90" y="259.11" font-size="4.3" font-weight="bold" text-anchor="end" fill="#000" stroke="#000" stroke-width="0.18">30&#160;000</text>
<line x1="209.10" y1="248.40" x2="210.10" y2="248.40" stroke="#555" stroke-width="0.4" />
<text x="208.90" y="249.95" font-size="4.3" font-weight="bold" text-anchor="end" fill="#000" stroke="#000" stroke-width="0.18">35&#160;000</text>
<line x1="217.00" y1="312.50" x2="217.00" y2="313.40" stroke="#555" stroke-width="0.4" />
<text x="217.00" y="318.30" font-size="4.8" font-weight="bold" text-anchor="middle" fill="#000" stroke="#000" stroke-width="0.15">D0</text>
<line x1="226.70" y1="312.50" x2="226.70" y2="313.40" stroke="#555" stroke-width="0.4" />
<text x="226.70" y="318.30" font-size="4.8" font-weight="bold" text-anchor="middle" fill="#000" stroke="#000" stroke-width="0.15">D1</text>
<line x1="236.40" y1="312.50" x2="236.40" y2="313.40" stroke="#555" stroke-width="0.4" />
<text x="236.40" y="318.30" font-size="4.8" font-weight="bold" text-anchor="middle" fill="#000" stroke="#000" stroke-width="0.15">D2</text>
<line x1="246.10" y1="312.50" x2="246.10" y2="313.40" stroke="#555" stroke-width="0.4" />
<text x="246.10" y="318.30" font-size="4.8" font-weight="bold" text-anchor="middle" fill="#000" stroke="#000" stroke-width="0.15">D3</text>
<line x1="255.80" y1="312.50" x2="255.80" y2="313.40" stroke="#555" stroke-width="0.4" />
<text x="255.80" y="318.30" font-size="4.8" font-weight="bold" text-anchor="middle" fill="#000" stroke="#000" stroke-width="0.15">D4</text>
<line x1="265.50" y1="312.50" x2="265.50" y2="313.40" stroke="#555" stroke-width="0.4" />
<text x="265.50" y="318.30" font-size="4.8" font-weight="bold" text-anchor="middle" fill="#000" stroke="#000" stroke-width="0.15">D5</text>
<line x1="275.20" y1="312.50" x2="275.20" y2="313.40" stroke="#555" stroke-width="0.4" />
<text x="275.20" y="318.30" font-size="4.8" font-weight="bold" text-anchor="middle" fill="#000" stroke="#000" stroke-width="0.15">D6</text>
<line x1="284.90" y1="312.50" x2="284.90" y2="313.40" stroke="#555" stroke-width="0.4" />
<text x="284.90" y="318.30" font-size="4.8" font-weight="bold" text-anchor="middle" fill="#000" stroke="#000" stroke-width="0.15">D7</text>
<polyline points="215.6,300.9 225.3,298.2 235.0,304.6 244.7,299.4 254.4,303.9 264.1,299.4 273.8,280.3 283.5,302.2" fill="none" stroke="#2080c0" stroke-width="0.75"/>
<path d="M215.6 300.9h0M225.3 298.2h0M235.0 304.6h0M244.7 299.4h0M254.4 303.9h0M264.1 299.4h0M273.8 280.3h0M283.5 302.2h0" stroke="#2080c0" stroke-width="1.40" stroke-linecap="round"/>
<polyline points="215.6,298.8 225.3,300.0 235.0,305.5 244.7,304.6 254.4,302.6 264.1,294.8 273.8,282.0 283.5,302.4" fill="none" stroke="#702080" stroke-width="0.75"/>
<path d="M215.6 298.8h0M225.3 300.0h0M235.0 305.5h0M244.7 304.6h0M254.4 302.6h0M264.1 294.8h0M273.8 282.0h0M283.5 302.4h0" stroke="#702080" stroke-width="1.40" stroke-linecap="round"/>
<polyline points="215.6,303.5 225.3,305.5 235.0,304.7 244.7,301.6 254.4,305.7 264.1,298.7 273.8,284.7 283.5,302.9" fill="none" stroke="#000060" stroke-width="0.75"/>
<path d="M215.6 303.5h0M225.3 305.5h0M235.0 304.7h0M244.7 301.6h0M254.4 305.7h0M264.1 298.7h0M273.8 284.7h0M283.5 302.9h0" stroke="#000060" stroke-width="1.40" stroke-linecap="round"/>
<polyline points="215.6,305.0 225.3,299.5 235.0,303.8 244.7,303.9 254.4,300.9 264.1,299.2 273.8,287.4 283.5,299.4" fill="none" stroke="#90d0a0" stroke-width="0.75"/>
<path d="M215.6 305.0h0M225.3 299.5h0M235.0 303.8h0M244.7 303.9h0M254.4 300.9h0M264.1 299.2h0M273.8 287.4h0M283.5 299.4h0" stroke="#90d0a0" stroke-width="1.40" stroke-linecap="round"/>
<polyline points="215.6,302.3 225.3,305.0 235.0,304.0 244.7,303.8 254.4,302.3 264.1,299.4 273.8,287.8 283.5,301.7" fill="none" stroke="#90d0a0" stroke-width="0.75"/>
<path d="M215.6 302.3h0M225.3 305.0h0M235.0 304.0h0M244.7 303.8h0M254.4 302.3h0M264.1 299.4h0M273.8 287.8h0M283.5 301.7h0" stroke="#90d0a0" stroke-width="1.40" stroke-linecap="round"/>
<polyline points="215.6,302.7 225.3,296.8 235.0,304.5 244.7,302.8 254.4,302.7 264.1,291.5 273.8,290.0 283.5,299.4" fill="none" stroke="#90d0a0" stroke-width="0.75"/>
<path d="M215.6 302.7h0M225.3 296.8h0M235.0 304.5h0M244.7 302.8h0M254.4 302.7h0M264.1 291.5h0M273.8 290.0h0M283.5 299.4h0" stroke="#90d0a0" stroke-width="1.40" stroke-linecap="round"/>
<polyline points="215.6,301.8 225.3,303.3 235.0,306.8 244.7,306.0 254.4,301.9 264.1,301.5 273.8,290.3 283.5,303.1" fill="none" stroke="#d06020" stroke-width="0.75"/>
<path d="M215.6 301.8h0M225.3 303.3h0M235.0 306.8h0M244.7 306.0h0M254.4 301.9h0M264.1 301.5h0M273.8 290.3h0M283.5 303.1h0" stroke="#d06020" stroke-width="1.40" stroke-linecap="round"/>
<polyline points="215.6,305.9 225.3,301.3 235.0,305.0 244.7,302.8 254.4,304.9 264.1,301.0 273.8,290.7 283.5,304.9" fill="none" stroke="#c0a0e0" stroke-width="0.75"/>
<path d="M215.6 305.9h0M225.3 301.3h0M235.0 305.0h0M244.7 302.8h0M254.4 304.9h0M264.1 301.0h0M273.8 290.7h0M283.5 304.9h0" stroke="#c0a0e0" stroke-width="1.40" stroke-linecap="round"/>
<polyline points="215.6,305.9 225.3,304.0 235.0,304.0 244.7,303.4 254.4,303.1 264.1,297.9 273.8,291.0 283.5,304.8" fill="none" stroke="#e0e090" stroke-width="0.75"/>
<path d="M215.6 305.9h0M225.3 304.0h0M235.0 304.0h0M244.7 303.4h0M254.4 303.1h0M264.1 297.9h0M273.8 291.0h0M283.5 304.8h0" stroke="#e0e090" stroke-width="1.40" stroke-linecap="round"/>
<polyline points="215.6,301.1 225.3,305.1 235.0,304.4 244.7,303.9 254.4,300.6 264.1,302.2 273.8,291.3 283.5,299.8" fill="none" stroke="#8030a0" stroke-width="0.75"/>
<path d="M215.6 301.1h0M225.3 305.1h0M235.0 304.4h0M244.7 303.9h0M254.4 300.6h0M264.1 302.2h0M273.8 291.3h0M283.5 299.8h0" stroke="#8030a0" stroke-width="1.40" stroke-linecap="round"/>
<polyline points="215.6,300.3 225.3,303.7 235.0,304.8 244.7,303.2 254.4,299.7 264.1,296.8 273.8,292.7 283.5,297.6" fill="none" stroke="#000000" stroke-width="0.75"/>
<path d="M215.6 300.3h0M225.3 303.7h0M235.0 304.8h0M244.7 303.2h0M254.4 299.7h0M264.1 296.8h0M273.8 292.7h0M283.5 297.6h0" stroke="#000000" stroke-width="1.40" stroke-linecap="round"/>
<polyline points="215.6,304.4 225.3,298.2 235.0,304.9 244.7,300.3 254.4,302.6 264.1,299.3 273.8,292.8 283.5,300.8" fill="none" stroke="#9070d0" stroke-width="0.75"/>
<path d="M215.6 304.4h0M225.3 298.2h0M235.0 304.9h0M244.7 300.3h0M254.4 302.6h0M264.1 299.3h0M273.8 292.8h0M283.5 300.8h0" stroke="#9070d0" stroke-width="1.40" stroke-linecap="round"/>
<polyline points="215.6,305.6 225.3,305.2 235.0,307.3 244.7,305.8 254.4,306.6 264.1,299.9 273.8,293.5 283.5,303.8" fill="none" stroke="#203090" stroke-width="0.75"/>
<path d="M215.6 305.6h0M225.3 305.2h0M235.0 307.3h0M244.7 305.8h0M254.4 306.6h0M264.1 299.9h0M273.8 293.5h0M283.5 303.8h0" stroke="#203090" stroke-width="1.40" stroke-linecap="round"/>
<polyline points="215.6,300.1 225.3,301.2 235.0,304.6 244.7,301.7 254.4,304.0 264.1,302.1 273.8,293.6 283.5,300.8" fill="none" stroke="#000000" stroke-width="0.75"/>
<path d="M215.6 300.1h0M225.3 301.2h0M235.0 304.6h0M244.7 301.7h0M254.4 304.0h0M264.1 302.1h0M273.8 293.6h0M283.5 300.8h0" stroke="#000000" stroke-width="1.40" stroke-linecap="round"/>
<polyline points="215.6,302.4 225.3,302.5 235.0,305.0 244.7,300.9 254.4,302.5 264.1,295.2 273.8,294.2 283.5,304.4" fill="none" stroke="#f09060" stroke-width="0.75"/>
<path d="M215.6 302.4h0M225.3 302.5h0M235.0 305.0h0M244.7 300.9h0M254.4 302.5h0M264.1 295.2h0M273.8 294.2h0M283.5 304.4h0" stroke="#f09060" stroke-width="1.40" stroke-linecap="round"/>
<polyline points="215.6,300.4 225.3,299.7 235.0,303.8 244.7,301.5 254.4,300.9 264.1,296.7 273.8,295.4 283.5,299.5" fill="none" stroke="#6040b0" stroke-width="0.75"/>
<path d="M215.6 300.4h0M225.3 299.7h0M235.0 303.8h0M244.7 301.5h0M254.4 300.9h0M264.1 296.7h0M273.8 295.4h0M283.5 299.5h0" stroke="#6040b0" stroke-width="1.40" stroke-linecap="round"/>
<polyline points="215.6,303.3 225.3,304.4 235.0,307.0 244.7,304.5 254.4,302.0 264.1,300.0 273.8,296.1 283.5,301.9" fill="none" stroke="#e0b020" stroke-width="0.75"/>
<path d="M215.6 303.3h0M225.3 304.4h0M235.0 307.0h0M244.7 304.5h0M254.4 302.0h0M264.1 300.0h0M273.8 296.1h0M283.5 301.9h0" stroke="#e0b020" stroke-width="1.40" stroke-linecap="round"/>
<polyline points="215.6,303.6 225.3,301.1 235.0,303.9 244.7,303.5 254.4,302.1 264.1,298.3 273.8,296.2 283.5,301.8" fill="none" stroke="#b0c020" stroke-width="0.75"/>
<path d="M215.6 303.6h0M225.3 301.1h0M235.0 303.9h0M244.7 303.5h0M254.4 302.1h0M264.1 298.3h0M273.8 296.2h0M283.5 301.8h0" stroke="#b0c020" stroke-width="1.40" stroke-linecap="round"/>
<polyline points="215.6,307.8 225.3,307.4 235.0,309.6 244.7,307.3 254.4,306.8 264.1,307.5 273.8,299.0 283.5,306.6" fill="none" stroke="#3050c0" stroke-width="0.75"/>
<path d="M215.6 307.8h0M225.3 307.4h0M235.0 309.6h0M244.7 307.3h0M254.4 306.8h0M264.1 307.5h0M273.8 299.0h0M283.5 306.6h0" stroke="#3050c0" stroke-width="1.40" stroke-linecap="round"/>
<polyline points="215.6,305.8 225.3,304.4 235.0,305.5 244.7,305.8 254.4,305.9 264.1,304.8 273.8,299.1 283.5,306.3" fill="none" stroke="#60b030" stroke-width="0.75"/>
<path d="M215.6 305.8h0M225.3 304.4h0M235.0 305.5h0M244.7 305.8h0M254.4 305.9h0M264.1 304.8h0M273.8 299.1h0M283.5 306.3h0" stroke="#60b030" stroke-width="1.40" stroke-linecap="round"/>
<polyline points="215.6,306.8 225.3,307.8 235.0,308.8 244.7,306.9 254.4,307.2 264.1,306.3 273.8,300.2 283.5,306.4" fill="none" stroke="#c0a0e0" stroke-width="0.75"/>
<path d="M215.6 306.8h0M225.3 307.8h0M235.0 308.8h0M244.7 306.9h0M254.4 307.2h0M264.1 306.3h0M273.8 300.2h0M283.5 306.4h0" stroke="#c0a0e0" stroke-width="1.40" stroke-linecap="round"/>
<polyline points="215.6,306.8 225.3,306.8 235.0,308.9 244.7,307.3 254.4,306.2 264.1,303.8 273.8,300.4 283.5,306.5" fill="none" stroke="#30c080" stroke-width="0.75"/>
<path d="M215.6 306.8h0M225.3 306.8h0M235.0 308.9h0M244.7 307.3h0M254.4 306.2h0M264.1 303.8h0M273.8 300.4h0M283.5 306.5h0" stroke="#30c080" stroke-width="1.40" stroke-linecap="round"/>
<polyline points="215.6,306.0 225.3,307.3 235.0,308.9 244.7,308.6 254.4,306.5 264.1,307.0 273.8,300.5 283.5,306.7" fill="none" stroke="#b0c020" stroke-width="0.75"/>
<path d="M215.6 306.0h0M225.3 307.3h0M235.0 308.9h0M244.7 308.6h0M254.4 306.5h0M264.1 307.0h0M273.8 300.5h0M283.5 306.7h0" stroke="#b0c020" stroke-width="1.40" stroke-linecap="round"/>
<polyline points="215.6,308.1 225.3,307.9 235.0,309.0 244.7,310.1 254.4,309.0 264.1,308.7 273.8,302.1 283.5,307.8" fill="none" stroke="#6040b0" stroke-width="0.75"/>
<path d="M215.6 308.1h0M225.3 307.9h0M235.0 309.0h0M244.7 310.1h0M254.4 309.0h0M264.1 308.7h0M273.8 302.1h0M283.5 307.8h0" stroke="#6040b0" stroke-width="1.40" stroke-linecap="round"/>
<polyline points="215.6,308.6 225.3,307.6 235.0,308.9 244.7,308.7 254.4,308.2 264.1,306.2 273.8,302.7 283.5,307.2" fill="none" stroke="#404040" stroke-width="0.75"/>
<path d="M215.6 308.6h0M225.3 307.6h0M235.0 308.9h0M244.7 308.7h0M254.4 308.2h0M264.1 306.2h0M273.8 302.7h0M283.5 307.2h0" stroke="#404040" stroke-width="1.40" stroke-linecap="round"/>
<polyline points="215.6,309.3 225.3,309.1 235.0,310.5 244.7,308.5 254.4,309.5 264.1,308.5 273.8,302.9 283.5,307.8" fill="none" stroke="#508020" stroke-width="0.75"/>
<path d="M215.6 309.3h0M225.3 309.1h0M235.0 310.5h0M244.7 308.5h0M254.4 309.5h0M264.1 308.5h0M273.8 302.9h0M283.5 307.8h0" stroke="#508020" stroke-width="1.40" stroke-linecap="round"/>
<polyline points="215.6,307.1 225.3,306.6 235.0,309.4 244.7,307.8 254.4,307.4 264.1,305.8 273.8,304.7 283.5,308.8" fill="none" stroke="#702080" stroke-width="0.75"/>
<path d="M215.6 307.1h0M225.3 306.6h0M235.0 309.4h0M244.7 307.8h0M254.4 307.4h0M264.1 305.8h0M273.8 304.7h0M283.5 308.8h0" stroke="#702080" stroke-width="1.40" stroke-linecap="round"/>
<polyline points="215.6,309.5 225.3,308.7 235.0,309.5 244.7,309.0 254.4,309.6 264.1,308.7 273.8,306.2 283.5,309.5" fill="none" stroke="#1a1a80" stroke-width="0.75"/>
<path d="M215.6 309.5h0M225.3 308.7h0M235.0 309.5h0M244.7 309.0h0M254.4 309.6h0M264.1 308.7h0M273.8 306.2h0M283.5 309.5h0" stroke="#1a1a80" stroke-width="1.40" stroke-linecap="round"/>
<polyline points="215.6,309.0 225.3,308.3 235.0,309.5 244.7,310.3 254.4,309.1 264.1,307.8 273.8,307.2 283.5,308.9" fill="none" stroke="#60b030" stroke-width="0.75"/>
<path d="M215.6 309.0h0M225.3 308.3h0M235.0 309.5h0M244.7 310.3h0M254.4 309.1h0M264.1 307.8h0M273.8 307.2h0M283.5 308.9h0" stroke="#60b030" stroke-width="1.40" stroke-linecap="round"/>
<polyline points="215.6,311.0 225.3,310.0 235.0,311.0 244.7,310.2 254.4,310.9 264.1,309.4 273.8,307.3 283.5,309.7" fill="none" stroke="#2a2ab0" stroke-width="0.75"/>
<path d="M215.6 311.0h0M225.3 310.0h0M235.0 311.0h0M244.7 310.2h0M254.4 310.9h0M264.1 309.4h0M273.8 307.3h0M283.5 309.7h0" stroke="#2a2ab0" stroke-width="1.40" stroke-linecap="round"/>
<polyline points="215.6,310.6 225.3,310.8 235.0,310.9 244.7,310.4 254.4,311.1 264.1,309.8 273.8,307.9 283.5,309.7" fill="none" stroke="#6040b0" stroke-width="0.75"/>
<path d="M215.6 310.6h0M225.3 310.8h0M235.0 310.9h0M244.7 310.4h0M254.4 311.1h0M264.1 309.8h0M273.8 307.9h0M283.5 309.7h0" stroke="#6040b0" stroke-width="1.40" stroke-linecap="round"/>
<polyline points="215.6,310.9 225.3,310.7 235.0,311.6 244.7,311.1 254.4,310.5 264.1,310.3 273.8,308.0 283.5,311.2" fill="none" stroke="#2a2ab0" stroke-width="0.75"/>
<path d="M215.6 310.9h0M225.3 310.7h0M235.0 311.6h0M244.7 311.1h0M254.4 310.5h0M264.1 310.3h0M273.8 308.0h0M283.5 311.2h0" stroke="#2a2ab0" stroke-width="1.40" stroke-linecap="round"/>
<polyline points="215.6,310.3 225.3,309.7 235.0,310.1 244.7,310.4 254.4,309.4 264.1,308.3 273.8,308.0 283.5,309.5" fill="none" stroke="#109090" stroke-width="0.75"/>
<path d="M215.6 310.3h0M225.3 309.7h0M235.0 310.1h0M244.7 310.4h0M254.4 309.4h0M264.1 308.3h0M273.8 308.0h0M283.5 309.5h0" stroke="#109090" stroke-width="1.40" stroke-linecap="round"/>
<polyline points="215.6,310.7 225.3,310.5 235.0,310.9 244.7,310.2 254.4,310.1 264.1,308.9 273.8,308.6 283.5,310.7" fill="none" stroke="#006060" stroke-width="0.75"/>
<path d="M215.6 310.7h0M225.3 310.5h0M235.0 310.9h0M244.7 310.2h0M254.4 310.1h0M264.1 308.9h0M273.8 308.6h0M283.5 310.7h0" stroke="#006060" stroke-width="1.40" stroke-linecap="round"/>
<polyline points="215.6,309.8 225.3,310.1 235.0,311.0 244.7,310.2 254.4,309.9 264.1,309.7 273.8,308.8 283.5,310.7" fill="none" stroke="#40c0c0" stroke-width="0.75"/>
<path d="M215.6 309.8h0M225.3 310.1h0M235.0 311.0h0M244.7 310.2h0M254.4 309.9h0M264.1 309.7h0M273.8 308.8h0M283.5 310.7h0" stroke="#40c0c0" stroke-width="1.40" stroke-linecap="round"/>
<polyline points="215.6,310.7 225.3,310.5 235.0,310.9 244.7,310.8 254.4,311.2 264.1,310.5 273.8,308.9 283.5,310.9" fill="none" stroke="#60a0e0" stroke-width="0.75"/>
<path d="M215.6 310.7h0M225.3 310.5h0M235.0 310.9h0M244.7 310.8h0M254.4 311.2h0M264.1 310.5h0M273.8 308.9h0M283.5 310.9h0" stroke="#60a0e0" stroke-width="1.40" stroke-linecap="round"/>
<polyline points="215.6,310.8 225.3,311.0 235.0,311.6 244.7,311.5 254.4,311.0 264.1,310.7 273.8,309.6 283.5,310.6" fill="none" stroke="#40c0c0" stroke-width="0.75"/>
<path d="M215.6 310.8h0M225.3 311.0h0M235.0 311.6h0M244.7 311.5h0M254.4 311.0h0M264.1 310.7h0M273.8 309.6h0M283.5 310.6h0" stroke="#40c0c0" stroke-width="1.40" stroke-linecap="round"/>
<polyline points="215.6,311.2 225.3,311.2 235.0,311.6 244.7,311.5 254.4,311.0 264.1,310.3 273.8,309.7 283.5,311.4" fill="none" stroke="#006060" stroke-width="0.75"/>
<path d="M215.6 311.2h0M225.3 311.2h0M235.0 311.6h0M244.7 311.5h0M254.4 311.0h0M264.1 310.3h0M273.8 309.7h0M283.5 311.4h0" stroke="#006060" stroke-width="1.40" stroke-linecap="round"/>
<polyline points="215.6,311.4 225.3,310.9 235.0,311.3 244.7,311.4 254.4,311.4 264.1,311.2 273.8,309.8 283.5,310.7" fill="none" stroke="#000000" stroke-width="0.75"/>
<path d="M215.6 311.4h0M225.3 310.9h0M235.0 311.3h0M244.7 311.4h0M254.4 311.4h0M264.1 311.2h0M273.8 309.8h0M283.5 310.7h0" stroke="#000000" stroke-width="1.40" stroke-linecap="round"/>
<polyline points="215.6,311.6 225.3,311.7 235.0,311.9 244.7,311.7 254.4,311.4 264.1,311.0 273.8,310.6 283.5,311.8" fill="none" stroke="#203090" stroke-width="0.75"/>
<path d="M215.6 311.6h0M225.3 311.7h0M235.0 311.9h0M244.7 311.7h0M254.4 311.4h0M264.1 311.0h0M273.8 310.6h0M283.5 311.8h0" stroke="#203090" stroke-width="1.40" stroke-linecap="round"/>
<polyline points="215.6,312.1 225.3,312.1 235.0,312.0 244.7,312.1 254.4,312.1 264.1,311.7 273.8,311.2 283.5,311.9" fill="none" stroke="#e0e090" stroke-width="0.75"/>
<path d="M215.6 312.1h0M225.3 312.1h0M235.0 312.0h0M244.7 312.1h0M254.4 312.1h0M264.1 311.7h0M273.8 311.2h0M283.5 311.9h0" stroke="#e0e090" stroke-width="1.40" stroke-linecap="round"/>
<polyline points="215.6,311.9 225.3,312.0 235.0,312.1 244.7,312.1 254.4,312.1 264.1,311.6 273.8,311.4 283.5,312.0" fill="none" stroke="#6040b0" stroke-width="0.75"/>
<path d="M215.6 311.9h0M225.3 312.0h0M235.0 312.1h0M244.7 312.1h0M254.4 312.1h0M264.1 311.6h0M273.8 311.4h0M283.5 312.0h0" stroke="#6040b0" stroke-width="1.40" stroke-linecap="round"/>
<polyline points="215.6,312.3 225.3,312.2 235.0,312.2 244.7,312.3 254.4,312.3 264.1,312.2 273.8,311.8 283.5,312.1" fill="none" stroke="#109090" stroke-width="0.75"/>
<path d="M215.6 312.3h0M225.3 312.2h0M235.0 312.2h0M244.7 312.3h0M254.4 312.3h0M264.1 312.2h0M273.8 311.8h0M283.5 312.1h0" stroke="#109090" stroke-width="1.40" stroke-linecap="round"/>
<polyline points="215.6,312.2 225.3,312.2 235.0,312.2 244.7,312.1 254.4,312.0 264.1,312.1 273.8,311.9 283.5,312.1" fill="none" stroke="#e070c0" stroke-width="0.75"/>
<path d="M215.6 312.2h0M225.3 312.2h0M235.0 312.2h0M244.7 312.1h0M254.4 312.0h0M264.1 312.1h0M273.8 311.9h0M283.5 312.1h0" stroke="#e070c0" stroke-width="1.40" stroke-linecap="round"/>
<polyline points="215.6,312.2 225.3,312.2 235.0,312.3 244.7,312.1 254.4,312.2 264.1,312.2 273.8,311.9 283.5,312.2" fill="none" stroke="#508020" stroke-width="0.75"/>
<path d="M215.6 312.2h0M225.3 312.2h0M235.0 312.3h0M244.7 312.1h0M254.4 312.2h0M264.1 312.2h0M273.8 311.9h0M283.5 312.2h0" stroke="#508020" stroke-width="1.40" stroke-linecap="round"/>
<polyline points="215.6,312.3 225.3,312.3 235.0,312.4 244.7,312.4 254.4,312.3 264.1,312.2 273.8,312.0 283.5,312.3" fill="none" stroke="#2080c0" stroke-width="0.75"/>
<path d="M215.6 312.3h0M225.3 312.3h0M235.0 312.4h0M244.7 312.4h0M254.4 312.3h0M264.1 312.2h0M273.8 312.0h0M283.5 312.3h0" stroke="#2080c0" stroke-width="1.40" stroke-linecap="round"/>
<polyline points="215.6,312.2 225.3,312.2 235.0,312.3 244.7,312.2 254.4,312.3 264.1,312.3 273.8,312.1 283.5,312.2" fill="none" stroke="#60a0e0" stroke-width="0.75"/>
<path d="M215.6 312.2h0M225.3 312.2h0M235.0 312.3h0M244.7 312.2h0M254.4 312.3h0M264.1 312.3h0M273.8 312.1h0M283.5 312.2h0" stroke="#60a0e0" stroke-width="1.40" stroke-linecap="round"/>
<polyline points="215.6,312.4 225.3,312.4 235.0,312.4 244.7,312.4 254.4,312.4 264.1,312.4 273.8,312.4 283.5,312.4" fill="none" stroke="#80d080" stroke-width="0.75"/>
<path d="M215.6 312.4h0M225.3 312.4h0M235.0 312.4h0M244.7 312.4h0M254.4 312.4h0M264.1 312.4h0M273.8 312.4h0M283.5 312.4h0" stroke="#80d080" stroke-width="1.40" stroke-linecap="round"/>
<polyline points="215.6,312.5 225.3,312.5 235.0,312.5 244.7,312.5 254.4,312.5 264.1,312.5 273.8,312.4 283.5,312.5" fill="none" stroke="#c0c0c0" stroke-width="0.75"/>
<path d="M215.6 312.5h0M225.3 312.5h0M235.0 312.5h0M244.7 312.5h0M254.4 312.5h0M264.1 312.5h0M273.8 312.4h0M283.5 312.5h0" stroke="#c0c0c0" stroke-width="1.40" stroke-linecap="round"/>
<polyline points="215.6,312.5 225.3,312.5 235.0,312.5 244.7,312.5 254.4,312.5 264.1,312.5 273.8,312.4 283.5,312.5" fill="none" stroke="#f0e060" stroke-width="0.75"/>
<path d="M215.6 312.5h0M225.3 312.5h0M235.0 312.5h0M244.7 312.5h0M254.4 312.5h0M264.1 312.5h0M273.8 312.4h0M283.5 312.5h0" stroke="#f0e060" stroke-width="1.40" stroke-linecap="round"/>
<polyline points="215.6,277.7 225.3,278.1 235.0,291.4 244.7,286.3 254.4,286.9 264.1,275.0 273.8,253.9 283.5,275.0" fill="none" stroke="#3030a0" stroke-width="0.85"/>
<path d="M215.6 277.7h0M225.3 278.1h0M235.0 291.4h0M244.7 286.3h0M254.4 286.9h0M264.1 275.0h0M273.8 253.9h0M283.5 275.0h0" stroke="#3030a0" stroke-width="1.70" stroke-linecap="round"/>
<polyline points="215.6,292.4 225.3,294.2 235.0,296.9 244.7,296.0 254.4,293.3 264.1,285.0 273.8,266.7 283.5,277.7" fill="none" stroke="#6060c0" stroke-width="0.85"/>
<path d="M215.6 292.4h0M225.3 294.2h0M235.0 296.9h0M244.7 296.0h0M254.4 293.3h0M264.1 285.0h0M273.8 266.7h0M283.5 277.7h0" stroke="#6060c0" stroke-width="1.70" stroke-linecap="round"/>
<polyline points="215.6,297.8 225.3,298.8 235.0,300.6 244.7,298.8 254.4,296.9 264.1,292.4 273.8,274.0 283.5,288.7" fill="none" stroke="#80c040" stroke-width="0.85"/>
<path d="M215.6 297.8h0M225.3 298.8h0M235.0 300.6h0M244.7 298.8h0M254.4 296.9h0M264.1 292.4h0M273.8 274.0h0M283.5 288.7h0" stroke="#80c040" stroke-width="1.70" stroke-linecap="round"/>
<polyline points="215.6,299.7 225.3,289.6 235.0,301.5 244.7,300.6 254.4,299.7 264.1,296.0 273.8,277.7 283.5,294.2" fill="none" stroke="#000000" stroke-width="0.85"/>
<path d="M215.6 299.7h0M225.3 289.6h0M235.0 301.5h0M244.7 300.6h0M254.4 299.7h0M264.1 296.0h0M273.8 277.7h0M283.5 294.2h0" stroke="#000000" stroke-width="1.70" stroke-linecap="round"/>
<polyline points="215.6,301.5 225.3,301.5 235.0,302.4 244.7,300.6 254.4,298.8 264.1,294.2 273.8,281.4 283.5,296.0" fill="none" stroke="#40b060" stroke-width="0.85"/>
<path d="M215.6 301.5h0M225.3 301.5h0M235.0 302.4h0M244.7 300.6h0M254.4 298.8h0M264.1 294.2h0M273.8 281.4h0M283.5 296.0h0" stroke="#40b060" stroke-width="1.70" stroke-linecap="round"/>
<polyline points="215.6,303.3 225.3,303.3 235.0,304.3 244.7,302.4 254.4,301.5 264.1,297.8 273.8,272.2 283.5,297.8" fill="none" stroke="#205030" stroke-width="0.85"/>
<path d="M215.6 303.3h0M225.3 303.3h0M235.0 304.3h0M244.7 302.4h0M254.4 301.5h0M264.1 297.8h0M273.8 272.2h0M283.5 297.8h0" stroke="#205030" stroke-width="1.70" stroke-linecap="round"/>
<rect x="210.7" y="311.1" width="75.50000000000001" height="1.0" fill="#1a1a60" opacity="0.7"/>
<text x="286.30" y="257.60" font-size="7.8" font-weight="bold" text-anchor="end" fill="#000" >D6</text>
<rect x="306.2" y="248.4" width="78.0" height="64.1" fill="#fff" stroke="#6a6a6a" stroke-width="0.8"/>
<line x1="305.20" y1="312.50" x2="306.20" y2="312.50" stroke="#555" stroke-width="0.4" />
<text x="305.00" y="314.05" font-size="4.3" font-weight="bold" text-anchor="end" fill="#000" stroke="#000" stroke-width="0.18">0</text>
<line x1="305.20" y1="304.49" x2="306.20" y2="304.49" stroke="#555" stroke-width="0.4" />
<text x="305.00" y="306.04" font-size="4.3" font-weight="bold" text-anchor="end" fill="#000" stroke="#000" stroke-width="0.18">10&#160;000</text>
<line x1="305.20" y1="296.48" x2="306.20" y2="296.48" stroke="#555" stroke-width="0.4" />
<text x="305.00" y="298.03" font-size="4.3" font-weight="bold" text-anchor="end" fill="#000" stroke="#000" stroke-width="0.18">20&#160;000</text>
<line x1="305.20" y1="288.46" x2="306.20" y2="288.46" stroke="#555" stroke-width="0.4" />
<text x="305.00" y="290.01" font-size="4.3" font-weight="bold" text-anchor="end" fill="#000" stroke="#000" stroke-width="0.18">30&#160;000</text>
<line x1="305.20" y1="280.45" x2="306.20" y2="280.45" stroke="#555" stroke-width="0.4" />
<text x="305.00" y="282.00" font-size="4.3" font-weight="bold" text-anchor="end" fill="#000" stroke="#000" stroke-width="0.18">40&#160;000</text>
<line x1="305.20" y1="272.44" x2="306.20" y2="272.44" stroke="#555" stroke-width="0.4" />
<text x="305.00" y="273.99" font-size="4.3" font-weight="bold" text-anchor="end" fill="#000" stroke="#000" stroke-width="0.18">50&#160;000</text>
<line x1="305.20" y1="264.43" x2="306.20" y2="264.43" stroke="#555" stroke-width="0.4" />
<text x="305.00" y="265.98" font-size="4.3" font-weight="bold" text-anchor="end" fill="#000" stroke="#000" stroke-width="0.18">60&#160;000</text>
<line x1="305.20" y1="256.41" x2="306.20" y2="256.41" stroke="#555" stroke-width="0.4" />
<text x="305.00" y="257.96" font-size="4.3" font-weight="bold" text-anchor="end" fill="#000" stroke="#000" stroke-width="0.18">70&#160;000</text>
<line x1="305.20" y1="248.40" x2="306.20" y2="248.40" stroke="#555" stroke-width="0.4" />
<text x="305.00" y="249.95" font-size="4.3" font-weight="bold" text-anchor="end" fill="#000" stroke="#000" stroke-width="0.18">80&#160;000</text>
<line x1="313.10" y1="312.50" x2="313.10" y2="313.40" stroke="#555" stroke-width="0.4" />
<text x="313.10" y="318.30" font-size="4.8" font-weight="bold" text-anchor="middle" fill="#000" stroke="#000" stroke-width="0.15">D0</text>
<line x1="322.80" y1="312.50" x2="322.80" y2="313.40" stroke="#555" stroke-width="0.4" />
<text x="322.80" y="318.30" font-size="4.8" font-weight="bold" text-anchor="middle" fill="#000" stroke="#000" stroke-width="0.15">D1</text>
<line x1="332.50" y1="312.50" x2="332.50" y2="313.40" stroke="#555" stroke-width="0.4" />
<text x="332.50" y="318.30" font-size="4.8" font-weight="bold" text-anchor="middle" fill="#000" stroke="#000" stroke-width="0.15">D2</text>
<line x1="342.20" y1="312.50" x2="342.20" y2="313.40" stroke="#555" stroke-width="0.4" />
<text x="342.20" y="318.30" font-size="4.8" font-weight="bold" text-anchor="middle" fill="#000" stroke="#000" stroke-width="0.15">D3</text>
<line x1="351.90" y1="312.50" x2="351.90" y2="313.40" stroke="#555" stroke-width="0.4" />
<text x="351.90" y="318.30" font-size="4.8" font-weight="bold" text-anchor="middle" fill="#000" stroke="#000" stroke-width="0.15">D4</text>
<line x1="361.60" y1="312.50" x2="361.60" y2="313.40" stroke="#555" stroke-width="0.4" />
<text x="361.60" y="318.30" font-size="4.8" font-weight="bold" text-anchor="middle" fill="#000" stroke="#000" stroke-width="0.15">D5</text>
<line x1="371.30" y1="312.50" x2="371.30" y2="313.40" stroke="#555" stroke-width="0.4" />
<text x="371.30" y="318.30" font-size="4.8" font-weight="bold" text-anchor="middle" fill="#000" stroke="#000" stroke-width="0.15">D6</text>
<line x1="381.00" y1="312.50" x2="381.00" y2="313.40" stroke="#555" stroke-width="0.4" />
<text x="381.00" y="318.30" font-size="4.8" font-weight="bold" text-anchor="middle" fill="#000" stroke="#000" stroke-width="0.15">D7</text>
<polyline points="311.7,305.4 321.4,307.8 331.1,309.2 340.8,307.1 350.5,305.7 360.2,304.2 369.9,302.3 379.6,289.5" fill="none" stroke="#c0c0c0" stroke-width="0.75"/>
<path d="M311.7 305.4h0M321.4 307.8h0M331.1 309.2h0M340.8 307.1h0M350.5 305.7h0M360.2 304.2h0M369.9 302.3h0M379.6 289.5h0" stroke="#c0c0c0" stroke-width="1.40" stroke-linecap="round"/>
<polyline points="311.7,308.0 321.4,306.7 331.1,307.5 340.8,308.5 350.5,306.7 360.2,306.2 369.9,303.3 379.6,291.3" fill="none" stroke="#203090" stroke-width="0.75"/>
<path d="M311.7 308.0h0M321.4 306.7h0M331.1 307.5h0M340.8 308.5h0M350.5 306.7h0M360.2 306.2h0M369.9 303.3h0M379.6 291.3h0" stroke="#203090" stroke-width="1.40" stroke-linecap="round"/>
<polyline points="311.7,306.4 321.4,306.6 331.1,307.7 340.8,308.7 350.5,306.8 360.2,307.4 369.9,302.5 379.6,295.3" fill="none" stroke="#9070d0" stroke-width="0.75"/>
<path d="M311.7 306.4h0M321.4 306.6h0M331.1 307.7h0M340.8 308.7h0M350.5 306.8h0M360.2 307.4h0M369.9 302.5h0M379.6 295.3h0" stroke="#9070d0" stroke-width="1.40" stroke-linecap="round"/>
<polyline points="311.7,307.1 321.4,305.6 331.1,308.1 340.8,307.0 350.5,305.9 360.2,306.8 369.9,304.4 379.6,295.3" fill="none" stroke="#a02060" stroke-width="0.75"/>
<path d="M311.7 307.1h0M321.4 305.6h0M331.1 308.1h0M340.8 307.0h0M350.5 305.9h0M360.2 306.8h0M369.9 304.4h0M379.6 295.3h0" stroke="#a02060" stroke-width="1.40" stroke-linecap="round"/>
<polyline points="311.7,306.2 321.4,307.6 331.1,307.6 340.8,307.8 350.5,306.4 360.2,306.0 369.9,301.7 379.6,295.4" fill="none" stroke="#702080" stroke-width="0.75"/>
<path d="M311.7 306.2h0M321.4 307.6h0M331.1 307.6h0M340.8 307.8h0M350.5 306.4h0M360.2 306.0h0M369.9 301.7h0M379.6 295.4h0" stroke="#702080" stroke-width="1.40" stroke-linecap="round"/>
<polyline points="311.7,305.8 321.4,306.6 331.1,309.4 340.8,307.5 350.5,309.0 360.2,306.8 369.9,304.6 379.6,295.7" fill="none" stroke="#c0c0c0" stroke-width="0.75"/>
<path d="M311.7 305.8h0M321.4 306.6h0M331.1 309.4h0M340.8 307.5h0M350.5 309.0h0M360.2 306.8h0M369.9 304.6h0M379.6 295.7h0" stroke="#c0c0c0" stroke-width="1.40" stroke-linecap="round"/>
<polyline points="311.7,307.3 321.4,306.6 331.1,308.7 340.8,308.0 350.5,306.7 360.2,304.4 369.9,305.5 379.6,295.8" fill="none" stroke="#60a0e0" stroke-width="0.75"/>
<path d="M311.7 307.3h0M321.4 306.6h0M331.1 308.7h0M340.8 308.0h0M350.5 306.7h0M360.2 304.4h0M369.9 305.5h0M379.6 295.8h0" stroke="#60a0e0" stroke-width="1.40" stroke-linecap="round"/>
<polyline points="311.7,307.7 321.4,308.2 331.1,307.5 340.8,307.6 350.5,306.5 360.2,305.2 369.9,304.4 379.6,296.0" fill="none" stroke="#f09060" stroke-width="0.75"/>
<path d="M311.7 307.7h0M321.4 308.2h0M331.1 307.5h0M340.8 307.6h0M350.5 306.5h0M360.2 305.2h0M369.9 304.4h0M379.6 296.0h0" stroke="#f09060" stroke-width="1.40" stroke-linecap="round"/>
<polyline points="311.7,305.9 321.4,307.2 331.1,308.4 340.8,308.3 350.5,308.7 360.2,304.4 369.9,306.9 379.6,296.0" fill="none" stroke="#702080" stroke-width="0.75"/>
<path d="M311.7 305.9h0M321.4 307.2h0M331.1 308.4h0M340.8 308.3h0M350.5 308.7h0M360.2 304.4h0M369.9 306.9h0M379.6 296.0h0" stroke="#702080" stroke-width="1.40" stroke-linecap="round"/>
<polyline points="311.7,307.9 321.4,308.5 331.1,309.4 340.8,309.7 350.5,309.1 360.2,306.0 369.9,304.7 379.6,296.9" fill="none" stroke="#d06020" stroke-width="0.75"/>
<path d="M311.7 307.9h0M321.4 308.5h0M331.1 309.4h0M340.8 309.7h0M350.5 309.1h0M360.2 306.0h0M369.9 304.7h0M379.6 296.9h0" stroke="#d06020" stroke-width="1.40" stroke-linecap="round"/>
<polyline points="311.7,308.5 321.4,309.1 331.1,308.8 340.8,309.5 350.5,308.4 360.2,307.6 369.9,306.8 379.6,297.2" fill="none" stroke="#702080" stroke-width="0.75"/>
<path d="M311.7 308.5h0M321.4 309.1h0M331.1 308.8h0M340.8 309.5h0M350.5 308.4h0M360.2 307.6h0M369.9 306.8h0M379.6 297.2h0" stroke="#702080" stroke-width="1.40" stroke-linecap="round"/>
<polyline points="311.7,308.0 321.4,309.0 331.1,309.5 340.8,309.7 350.5,308.1 360.2,307.4 369.9,304.6 379.6,297.3" fill="none" stroke="#000000" stroke-width="0.75"/>
<path d="M311.7 308.0h0M321.4 309.0h0M331.1 309.5h0M340.8 309.7h0M350.5 308.1h0M360.2 307.4h0M369.9 304.6h0M379.6 297.3h0" stroke="#000000" stroke-width="1.40" stroke-linecap="round"/>
<polyline points="311.7,307.3 321.4,306.5 331.1,308.3 340.8,309.2 350.5,307.4 360.2,306.1 369.9,302.0 379.6,297.7" fill="none" stroke="#2a2ab0" stroke-width="0.75"/>
<path d="M311.7 307.3h0M321.4 306.5h0M331.1 308.3h0M340.8 309.2h0M350.5 307.4h0M360.2 306.1h0M369.9 302.0h0M379.6 297.7h0" stroke="#2a2ab0" stroke-width="1.40" stroke-linecap="round"/>
<polyline points="311.7,307.1 321.4,308.8 331.1,310.0 340.8,309.3 350.5,308.4 360.2,306.1 369.9,307.3 379.6,298.3" fill="none" stroke="#e070c0" stroke-width="0.75"/>
<path d="M311.7 307.1h0M321.4 308.8h0M331.1 310.0h0M340.8 309.3h0M350.5 308.4h0M360.2 306.1h0M369.9 307.3h0M379.6 298.3h0" stroke="#e070c0" stroke-width="1.40" stroke-linecap="round"/>
<polyline points="311.7,308.1 321.4,307.6 331.1,307.8 340.8,309.2 350.5,306.3 360.2,304.8 369.9,306.0 379.6,299.2" fill="none" stroke="#508020" stroke-width="0.75"/>
<path d="M311.7 308.1h0M321.4 307.6h0M331.1 307.8h0M340.8 309.2h0M350.5 306.3h0M360.2 304.8h0M369.9 306.0h0M379.6 299.2h0" stroke="#508020" stroke-width="1.40" stroke-linecap="round"/>
<polyline points="311.7,307.9 321.4,308.4 331.1,307.6 340.8,309.0 350.5,308.2 360.2,305.3 369.9,303.7 379.6,299.4" fill="none" stroke="#e0b020" stroke-width="0.75"/>
<path d="M311.7 307.9h0M321.4 308.4h0M331.1 307.6h0M340.8 309.0h0M350.5 308.2h0M360.2 305.3h0M369.9 303.7h0M379.6 299.4h0" stroke="#e0b020" stroke-width="1.40" stroke-linecap="round"/>
<polyline points="311.7,309.2 321.4,309.7 331.1,309.5 340.8,309.7 350.5,308.6 360.2,308.5 369.9,306.7 379.6,299.9" fill="none" stroke="#f0e060" stroke-width="0.75"/>
<path d="M311.7 309.2h0M321.4 309.7h0M331.1 309.5h0M340.8 309.7h0M350.5 308.6h0M360.2 308.5h0M369.9 306.7h0M379.6 299.9h0" stroke="#f0e060" stroke-width="1.40" stroke-linecap="round"/>
<polyline points="311.7,308.9 321.4,310.5 331.1,309.8 340.8,310.1 350.5,310.2 360.2,309.5 369.9,307.1 379.6,300.9" fill="none" stroke="#f09060" stroke-width="0.75"/>
<path d="M311.7 308.9h0M321.4 310.5h0M331.1 309.8h0M340.8 310.1h0M350.5 310.2h0M360.2 309.5h0M369.9 307.1h0M379.6 300.9h0" stroke="#f09060" stroke-width="1.40" stroke-linecap="round"/>
<polyline points="311.7,308.3 321.4,309.0 331.1,309.2 340.8,309.8 350.5,309.2 360.2,306.8 369.9,305.9 379.6,301.5" fill="none" stroke="#30c080" stroke-width="0.75"/>
<path d="M311.7 308.3h0M321.4 309.0h0M331.1 309.2h0M340.8 309.8h0M350.5 309.2h0M360.2 306.8h0M369.9 305.9h0M379.6 301.5h0" stroke="#30c080" stroke-width="1.40" stroke-linecap="round"/>
<polyline points="311.7,309.2 321.4,309.9 331.1,310.3 340.8,310.0 350.5,310.1 360.2,309.9 369.9,308.2 379.6,302.1" fill="none" stroke="#d0d060" stroke-width="0.75"/>
<path d="M311.7 309.2h0M321.4 309.9h0M331.1 310.3h0M340.8 310.0h0M350.5 310.1h0M360.2 309.9h0M369.9 308.2h0M379.6 302.1h0" stroke="#d0d060" stroke-width="1.40" stroke-linecap="round"/>
<polyline points="311.7,310.2 321.4,309.9 331.1,310.1 340.8,310.1 350.5,310.5 360.2,309.7 369.9,309.7 379.6,302.3" fill="none" stroke="#404040" stroke-width="0.75"/>
<path d="M311.7 310.2h0M321.4 309.9h0M331.1 310.1h0M340.8 310.1h0M350.5 310.5h0M360.2 309.7h0M369.9 309.7h0M379.6 302.3h0" stroke="#404040" stroke-width="1.40" stroke-linecap="round"/>
<polyline points="311.7,309.4 321.4,308.8 331.1,309.6 340.8,310.3 350.5,309.7 360.2,306.4 369.9,306.4 379.6,302.3" fill="none" stroke="#3050c0" stroke-width="0.75"/>
<path d="M311.7 309.4h0M321.4 308.8h0M331.1 309.6h0M340.8 310.3h0M350.5 309.7h0M360.2 306.4h0M369.9 306.4h0M379.6 302.3h0" stroke="#3050c0" stroke-width="1.40" stroke-linecap="round"/>
<polyline points="311.7,308.3 321.4,309.8 331.1,309.5 340.8,309.7 350.5,308.4 360.2,309.3 369.9,305.4 379.6,302.8" fill="none" stroke="#2080c0" stroke-width="0.75"/>
<path d="M311.7 308.3h0M321.4 309.8h0M331.1 309.5h0M340.8 309.7h0M350.5 308.4h0M360.2 309.3h0M369.9 305.4h0M379.6 302.8h0" stroke="#2080c0" stroke-width="1.40" stroke-linecap="round"/>
<polyline points="311.7,308.2 321.4,309.0 331.1,308.7 340.8,309.1 350.5,308.7 360.2,308.0 369.9,304.5 379.6,302.8" fill="none" stroke="#9070d0" stroke-width="0.75"/>
<path d="M311.7 308.2h0M321.4 309.0h0M331.1 308.7h0M340.8 309.1h0M350.5 308.7h0M360.2 308.0h0M369.9 304.5h0M379.6 302.8h0" stroke="#9070d0" stroke-width="1.40" stroke-linecap="round"/>
<polyline points="311.7,308.2 321.4,309.5 331.1,310.4 340.8,310.3 350.5,310.0 360.2,309.3 369.9,308.0 379.6,303.0" fill="none" stroke="#006060" stroke-width="0.75"/>
<path d="M311.7 308.2h0M321.4 309.5h0M331.1 310.4h0M340.8 310.3h0M350.5 310.0h0M360.2 309.3h0M369.9 308.0h0M379.6 303.0h0" stroke="#006060" stroke-width="1.40" stroke-linecap="round"/>
<polyline points="311.7,309.8 321.4,308.6 331.1,310.4 340.8,310.2 350.5,309.3 360.2,307.6 369.9,307.0 379.6,304.5" fill="none" stroke="#d0d060" stroke-width="0.75"/>
<path d="M311.7 309.8h0M321.4 308.6h0M331.1 310.4h0M340.8 310.2h0M350.5 309.3h0M360.2 307.6h0M369.9 307.0h0M379.6 304.5h0" stroke="#d0d060" stroke-width="1.40" stroke-linecap="round"/>
<polyline points="311.7,309.8 321.4,310.6 331.1,310.3 340.8,310.6 350.5,310.7 360.2,309.1 369.9,308.7 379.6,305.5" fill="none" stroke="#40c0c0" stroke-width="0.75"/>
<path d="M311.7 309.8h0M321.4 310.6h0M331.1 310.3h0M340.8 310.6h0M350.5 310.7h0M360.2 309.1h0M369.9 308.7h0M379.6 305.5h0" stroke="#40c0c0" stroke-width="1.40" stroke-linecap="round"/>
<polyline points="311.7,310.5 321.4,310.6 331.1,311.5 340.8,311.1 350.5,310.3 360.2,310.6 369.9,309.4 379.6,308.0" fill="none" stroke="#702080" stroke-width="0.75"/>
<path d="M311.7 310.5h0M321.4 310.6h0M331.1 311.5h0M340.8 311.1h0M350.5 310.3h0M360.2 310.6h0M369.9 309.4h0M379.6 308.0h0" stroke="#702080" stroke-width="1.40" stroke-linecap="round"/>
<polyline points="311.7,310.6 321.4,311.0 331.1,311.4 340.8,311.4 350.5,311.0 360.2,310.9 369.9,310.6 379.6,308.2" fill="none" stroke="#a02060" stroke-width="0.75"/>
<path d="M311.7 310.6h0M321.4 311.0h0M331.1 311.4h0M340.8 311.4h0M350.5 311.0h0M360.2 310.9h0M369.9 310.6h0M379.6 308.2h0" stroke="#a02060" stroke-width="1.40" stroke-linecap="round"/>
<polyline points="311.7,310.9 321.4,311.0 331.1,311.3 340.8,311.4 350.5,310.7 360.2,310.1 369.9,310.6 379.6,308.6" fill="none" stroke="#c02020" stroke-width="0.75"/>
<path d="M311.7 310.9h0M321.4 311.0h0M331.1 311.3h0M340.8 311.4h0M350.5 310.7h0M360.2 310.1h0M369.9 310.6h0M379.6 308.6h0" stroke="#c02020" stroke-width="1.40" stroke-linecap="round"/>
<polyline points="311.7,311.2 321.4,311.1 331.1,311.5 340.8,311.0 350.5,311.2 360.2,310.6 369.9,309.8 379.6,308.8" fill="none" stroke="#109090" stroke-width="0.75"/>
<path d="M311.7 311.2h0M321.4 311.1h0M331.1 311.5h0M340.8 311.0h0M350.5 311.2h0M360.2 310.6h0M369.9 309.8h0M379.6 308.8h0" stroke="#109090" stroke-width="1.40" stroke-linecap="round"/>
<polyline points="311.7,311.3 321.4,311.2 331.1,311.5 340.8,311.5 350.5,311.4 360.2,311.0 369.9,310.9 379.6,309.4" fill="none" stroke="#404040" stroke-width="0.75"/>
<path d="M311.7 311.3h0M321.4 311.2h0M331.1 311.5h0M340.8 311.5h0M350.5 311.4h0M360.2 311.0h0M369.9 310.9h0M379.6 309.4h0" stroke="#404040" stroke-width="1.40" stroke-linecap="round"/>
<polyline points="311.7,311.7 321.4,311.7 331.1,311.9 340.8,311.9 350.5,312.0 360.2,311.7 369.9,311.4 379.6,309.8" fill="none" stroke="#90d0a0" stroke-width="0.75"/>
<path d="M311.7 311.7h0M321.4 311.7h0M331.1 311.9h0M340.8 311.9h0M350.5 312.0h0M360.2 311.7h0M369.9 311.4h0M379.6 309.8h0" stroke="#90d0a0" stroke-width="1.40" stroke-linecap="round"/>
<polyline points="311.7,311.9 321.4,312.1 331.1,312.2 340.8,312.2 350.5,312.1 360.2,311.7 369.9,311.8 379.6,310.5" fill="none" stroke="#e0e090" stroke-width="0.75"/>
<path d="M311.7 311.9h0M321.4 312.1h0M331.1 312.2h0M340.8 312.2h0M350.5 312.1h0M360.2 311.7h0M369.9 311.8h0M379.6 310.5h0" stroke="#e0e090" stroke-width="1.40" stroke-linecap="round"/>
<polyline points="311.7,311.5 321.4,311.9 331.1,311.9 340.8,311.9 350.5,311.8 360.2,311.4 369.9,311.6 379.6,310.8" fill="none" stroke="#60a0e0" stroke-width="0.75"/>
<path d="M311.7 311.5h0M321.4 311.9h0M331.1 311.9h0M340.8 311.9h0M350.5 311.8h0M360.2 311.4h0M369.9 311.6h0M379.6 310.8h0" stroke="#60a0e0" stroke-width="1.40" stroke-linecap="round"/>
<polyline points="311.7,312.2 321.4,312.1 331.1,312.2 340.8,312.2 350.5,312.1 360.2,312.0 369.9,311.7 379.6,310.9" fill="none" stroke="#f09060" stroke-width="0.75"/>
<path d="M311.7 312.2h0M321.4 312.1h0M331.1 312.2h0M340.8 312.2h0M350.5 312.1h0M360.2 312.0h0M369.9 311.7h0M379.6 310.9h0" stroke="#f09060" stroke-width="1.40" stroke-linecap="round"/>
<polyline points="311.7,312.3 321.4,312.2 331.1,312.3 340.8,312.3 350.5,312.1 360.2,312.1 369.9,311.9 379.6,311.4" fill="none" stroke="#c0c0c0" stroke-width="0.75"/>
<path d="M311.7 312.3h0M321.4 312.2h0M331.1 312.3h0M340.8 312.3h0M350.5 312.1h0M360.2 312.1h0M369.9 311.9h0M379.6 311.4h0" stroke="#c0c0c0" stroke-width="1.40" stroke-linecap="round"/>
<polyline points="311.7,312.0 321.4,312.2 331.1,312.2 340.8,312.2 350.5,312.1 360.2,312.0 369.9,311.9 379.6,311.4" fill="none" stroke="#40c0c0" stroke-width="0.75"/>
<path d="M311.7 312.0h0M321.4 312.2h0M331.1 312.2h0M340.8 312.2h0M350.5 312.1h0M360.2 312.0h0M369.9 311.9h0M379.6 311.4h0" stroke="#40c0c0" stroke-width="1.40" stroke-linecap="round"/>
<polyline points="311.7,312.2 321.4,312.2 331.1,312.3 340.8,312.3 350.5,312.2 360.2,312.2 369.9,312.1 379.6,311.6" fill="none" stroke="#20a060" stroke-width="0.75"/>
<path d="M311.7 312.2h0M321.4 312.2h0M331.1 312.3h0M340.8 312.3h0M350.5 312.2h0M360.2 312.2h0M369.9 312.1h0M379.6 311.6h0" stroke="#20a060" stroke-width="1.40" stroke-linecap="round"/>
<polyline points="311.7,312.2 321.4,312.1 331.1,312.3 340.8,312.3 350.5,312.1 360.2,312.2 369.9,311.9 379.6,311.8" fill="none" stroke="#508020" stroke-width="0.75"/>
<path d="M311.7 312.2h0M321.4 312.1h0M331.1 312.3h0M340.8 312.3h0M350.5 312.1h0M360.2 312.2h0M369.9 311.9h0M379.6 311.8h0" stroke="#508020" stroke-width="1.40" stroke-linecap="round"/>
<polyline points="311.7,312.3 321.4,312.2 331.1,312.3 340.8,312.3 350.5,312.2 360.2,312.1 369.9,312.1 379.6,311.8" fill="none" stroke="#40c0c0" stroke-width="0.75"/>
<path d="M311.7 312.3h0M321.4 312.2h0M331.1 312.3h0M340.8 312.3h0M350.5 312.2h0M360.2 312.1h0M369.9 312.1h0M379.6 311.8h0" stroke="#40c0c0" stroke-width="1.40" stroke-linecap="round"/>
<polyline points="311.7,312.3 321.4,312.4 331.1,312.4 340.8,312.4 350.5,312.4 360.2,312.3 369.9,312.3 379.6,312.2" fill="none" stroke="#8030a0" stroke-width="0.75"/>
<path d="M311.7 312.3h0M321.4 312.4h0M331.1 312.4h0M340.8 312.4h0M350.5 312.4h0M360.2 312.3h0M369.9 312.3h0M379.6 312.2h0" stroke="#8030a0" stroke-width="1.40" stroke-linecap="round"/>
<polyline points="311.7,312.4 321.4,312.4 331.1,312.4 340.8,312.4 350.5,312.4 360.2,312.4 369.9,312.4 379.6,312.2" fill="none" stroke="#1a1a80" stroke-width="0.75"/>
<path d="M311.7 312.4h0M321.4 312.4h0M331.1 312.4h0M340.8 312.4h0M350.5 312.4h0M360.2 312.4h0M369.9 312.4h0M379.6 312.2h0" stroke="#1a1a80" stroke-width="1.40" stroke-linecap="round"/>
<polyline points="311.7,312.5 321.4,312.5 331.1,312.5 340.8,312.5 350.5,312.5 360.2,312.4 369.9,312.4 379.6,312.3" fill="none" stroke="#a0e0e0" stroke-width="0.75"/>
<path d="M311.7 312.5h0M321.4 312.5h0M331.1 312.5h0M340.8 312.5h0M350.5 312.5h0M360.2 312.4h0M369.9 312.4h0M379.6 312.3h0" stroke="#a0e0e0" stroke-width="1.40" stroke-linecap="round"/>
<polyline points="311.7,312.5 321.4,312.5 331.1,312.5 340.8,312.5 350.5,312.5 360.2,312.4 369.9,312.4 379.6,312.4" fill="none" stroke="#60b030" stroke-width="0.75"/>
<path d="M311.7 312.5h0M321.4 312.5h0M331.1 312.5h0M340.8 312.5h0M350.5 312.5h0M360.2 312.4h0M369.9 312.4h0M379.6 312.4h0" stroke="#60b030" stroke-width="1.40" stroke-linecap="round"/>
<polyline points="311.7,312.5 321.4,312.5 331.1,312.5 340.8,312.5 350.5,312.5 360.2,312.5 369.9,312.5 379.6,312.4" fill="none" stroke="#000060" stroke-width="0.75"/>
<path d="M311.7 312.5h0M321.4 312.5h0M331.1 312.5h0M340.8 312.5h0M350.5 312.5h0M360.2 312.5h0M369.9 312.5h0M379.6 312.4h0" stroke="#000060" stroke-width="1.40" stroke-linecap="round"/>
<polyline points="311.7,312.5 321.4,312.5 331.1,312.5 340.8,312.5 350.5,312.5 360.2,312.5 369.9,312.5 379.6,312.4" fill="none" stroke="#d0d060" stroke-width="0.75"/>
<path d="M311.7 312.5h0M321.4 312.5h0M331.1 312.5h0M340.8 312.5h0M350.5 312.5h0M360.2 312.5h0M369.9 312.5h0M379.6 312.4h0" stroke="#d0d060" stroke-width="1.40" stroke-linecap="round"/>
<polyline points="311.7,312.5 321.4,312.5 331.1,312.5 340.8,312.5 350.5,312.5 360.2,312.5 369.9,312.5 379.6,312.5" fill="none" stroke="#2a2ab0" stroke-width="0.75"/>
<path d="M311.7 312.5h0M321.4 312.5h0M331.1 312.5h0M340.8 312.5h0M350.5 312.5h0M360.2 312.5h0M369.9 312.5h0M379.6 312.5h0" stroke="#2a2ab0" stroke-width="1.40" stroke-linecap="round"/>
<polyline points="311.7,312.5 321.4,312.5 331.1,312.5 340.8,312.5 350.5,312.5 360.2,312.5 369.9,312.5 379.6,312.5" fill="none" stroke="#80d080" stroke-width="0.75"/>
<path d="M311.7 312.5h0M321.4 312.5h0M331.1 312.5h0M340.8 312.5h0M350.5 312.5h0M360.2 312.5h0M369.9 312.5h0M379.6 312.5h0" stroke="#80d080" stroke-width="1.40" stroke-linecap="round"/>
<polyline points="311.7,312.5 321.4,312.5 331.1,312.5 340.8,312.5 350.5,312.5 360.2,312.5 369.9,312.5 379.6,312.5" fill="none" stroke="#e070c0" stroke-width="0.75"/>
<path d="M311.7 312.5h0M321.4 312.5h0M331.1 312.5h0M340.8 312.5h0M350.5 312.5h0M360.2 312.5h0M369.9 312.5h0M379.6 312.5h0" stroke="#e070c0" stroke-width="1.40" stroke-linecap="round"/>
<polyline points="311.7,306.1 321.4,306.9 331.1,307.7 340.8,307.7 350.5,306.1 360.2,300.5 369.9,288.5 379.6,256.4" fill="none" stroke="#a05020" stroke-width="0.85"/>
<path d="M311.7 306.1h0M321.4 306.9h0M331.1 307.7h0M340.8 307.7h0M350.5 306.1h0M360.2 300.5h0M369.9 288.5h0M379.6 256.4h0" stroke="#a05020" stroke-width="1.70" stroke-linecap="round"/>
<polyline points="311.7,306.9 321.4,307.7 331.1,308.5 340.8,308.5 350.5,304.5 360.2,290.9 369.9,288.5 379.6,268.4" fill="none" stroke="#a020c0" stroke-width="0.85"/>
<path d="M311.7 306.9h0M321.4 307.7h0M331.1 308.5h0M340.8 308.5h0M350.5 304.5h0M360.2 290.9h0M369.9 288.5h0M379.6 268.4h0" stroke="#a020c0" stroke-width="1.70" stroke-linecap="round"/>
<polyline points="311.7,306.1 321.4,306.9 331.1,307.7 340.8,307.7 350.5,305.3 360.2,290.9 369.9,296.5 379.6,270.8" fill="none" stroke="#d040d0" stroke-width="0.85"/>
<path d="M311.7 306.1h0M321.4 306.9h0M331.1 307.7h0M340.8 307.7h0M350.5 305.3h0M360.2 290.9h0M369.9 296.5h0M379.6 270.8h0" stroke="#d040d0" stroke-width="1.70" stroke-linecap="round"/>
<polyline points="311.7,298.9 321.4,300.5 331.1,302.1 340.8,302.9 350.5,302.9 360.2,302.1 369.9,299.7 379.6,292.5" fill="none" stroke="#908070" stroke-width="0.85"/>
<path d="M311.7 298.9h0M321.4 300.5h0M331.1 302.1h0M340.8 302.9h0M350.5 302.9h0M360.2 302.1h0M369.9 299.7h0M379.6 292.5h0" stroke="#908070" stroke-width="1.70" stroke-linecap="round"/>
<polyline points="311.7,304.5 321.4,305.3 331.1,306.1 340.8,306.1 350.5,304.5 360.2,301.3 369.9,296.5 379.6,286.1" fill="none" stroke="#c0e060" stroke-width="0.85"/>
<path d="M311.7 304.5h0M321.4 305.3h0M331.1 306.1h0M340.8 306.1h0M350.5 304.5h0M360.2 301.3h0M369.9 296.5h0M379.6 286.1h0" stroke="#c0e060" stroke-width="1.70" stroke-linecap="round"/>
<rect x="306.8" y="311.1" width="76.8" height="1.0" fill="#1a1a60" opacity="0.7"/>
<text x="377.00" y="257.60" font-size="7.8" font-weight="bold" text-anchor="end" fill="#000" >D7</text>
</svg></body></html>
